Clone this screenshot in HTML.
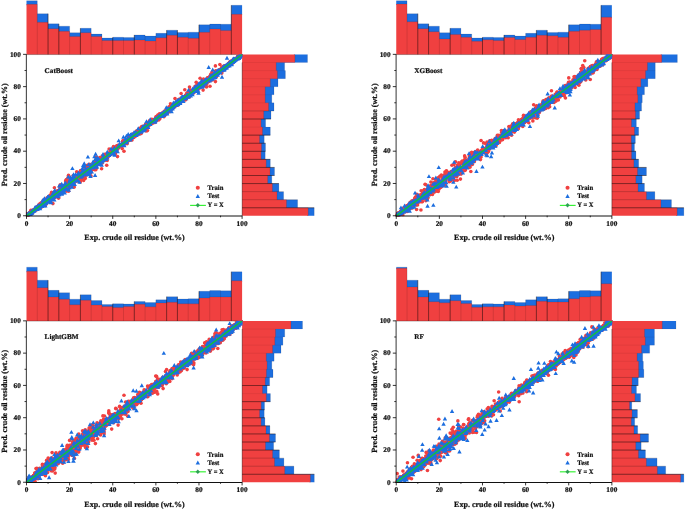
<!DOCTYPE html>
<html lang="en">
<head>
<meta charset="utf-8">
<title>Predicted vs experimental crude oil residue</title>
<style>
html,body{margin:0;padding:0;background:#fff;}
body{width:685px;height:509px;overflow:hidden;}
svg{display:block;}
svg text{font-family:"Liberation Serif","Times New Roman",serif;font-weight:bold;stroke:#111;stroke-width:0.22px;text-rendering:geometricPrecision;}
</style>
</head>
<body>
<svg width="685" height="509" viewBox="0 0 685 509">
<defs><clipPath id="pc"><rect x="26.2" y="54.2" width="216.4" height="162.1"/></clipPath></defs>
<rect width="685" height="509" fill="#fff"/>
<g transform="translate(0,0)">
<path d="M27.5 53.45V5.35H26.5V0.65H37.28V13.65H48.06V23.85H58.84V26.15H69.62V32.65H80.4V28.25H91.18V34.05H101.96V37.95H112.74V37.25H123.52V37.45H134.3V34.95H145.08V36.05H155.86V33.35H166.64V30.15H177.42V32.45H188.2V32.15H198.98V24.75H209.76V24.05H220.54V24.25H231.32V5.25H242.1V15.35H241.1V53.45Z" fill="#1C6EDF"/>
<path d="M26.5 54.45V4.35H37.28V22.35H48.06V28.65H58.84V31.35H69.62V36.45H80.4V32.65H91.18V36.45H101.96V40.45H112.74V40.45H123.52V40.45H134.3V39.95H145.08V40.95H155.86V37.75H166.64V35.15H177.42V37.25H188.2V38.25H198.98V32.35H209.76V28.95H220.54V30.45H231.32V14.35H242.1V54.45Z" fill="#F04040"/>
<path d="M48.06 54.45V13.65M58.84 54.45V23.85M80.4 54.45V28.25M112.74 54.45V37.25M134.3 54.45V34.95M166.64 54.45V30.15M177.42 54.45V30.15M198.98 54.45V24.75M231.32 54.45V5.25" stroke="#160808" stroke-opacity="0.78" stroke-width="0.65" fill="none"/>
<path d="M37.28 54.45V0.65M69.62 54.45V26.15M91.18 54.45V28.25M101.96 54.45V34.05M123.52 54.45V37.25M145.08 54.45V34.95M155.86 54.45V33.35M188.2 54.45V32.15M209.76 54.45V24.05M220.54 54.45V24.05" stroke="#200" stroke-opacity="0.2" stroke-width="0.7" fill="none"/>
<path d="M26.5 0.65h10.78M26.5 4.35h10.78M37.28 13.65h10.78M37.28 22.35h10.78M48.06 23.85h10.78M48.06 28.65h10.78M58.84 26.15h10.78M58.84 31.35h10.78M69.62 32.65h10.78M69.62 36.45h10.78M80.4 28.25h10.78M80.4 32.65h10.78M91.18 34.05h10.78M91.18 36.45h10.78M101.96 37.95h10.78M101.96 40.45h10.78M112.74 37.25h10.78M112.74 40.45h10.78M123.52 37.45h10.78M123.52 40.45h10.78M134.3 34.95h10.78M134.3 39.95h10.78M145.08 36.05h10.78M145.08 40.95h10.78M155.86 33.35h10.78M155.86 37.75h10.78M166.64 30.15h10.78M166.64 35.15h10.78M177.42 32.45h10.78M177.42 37.25h10.78M188.2 32.15h10.78M188.2 38.25h10.78M198.98 24.75h10.78M198.98 32.35h10.78M209.76 24.05h10.78M209.76 28.95h10.78M220.54 24.25h10.78M220.54 30.45h10.78M231.32 5.25h10.78M231.32 14.35h10.78" stroke="#001" stroke-opacity="0.22" stroke-width="0.5" fill="none"/>
<path d="M243.1 214.85H307.2V215.85H314.2V207.78H297.6V199.71H283.6V191.64H278.9V183.57H271.8V175.5H274.5V167.43H270.3V159.36H265.2V151.29H265.5V143.22H264.2V135.15H270.3V127.08H265.6V119.01H271V110.94H274V102.87H271.8V94.8H274V86.73H278V78.66H285.4V70.59H284.6V62.52H307.5V54.45H293.9V55.45H243.1Z" fill="#1C6EDF"/>
<path d="M242.1 215.85H308.2V207.78H286.5V199.71H277V191.64H272.4V183.57H267.7V175.5H270V167.43H266.2V159.36H261.1V151.29H261.5V143.22H259.6V135.15H262.5V127.08H261.1V119.01H263.7V110.94H268.6V102.87H265.2V94.8H265.2V86.73H270.3V78.66H277.4V70.59H276.2V62.52H294.9V54.45H242.1Z" fill="#F04040"/>
<path d="M242.1 207.78H314.2M242.1 183.57H278.9M242.1 175.5H274.5M242.1 167.43H274.5M242.1 159.36H270.3M242.1 151.29H265.5M242.1 143.22H265.5M242.1 135.15H270.3M242.1 119.01H271" stroke="#160808" stroke-opacity="0.78" stroke-width="0.65" fill="none"/>
<path d="M242.1 199.71H297.6M242.1 191.64H283.6M242.1 110.94H274" stroke="#1a0a0a" stroke-opacity="0.35" stroke-width="0.6" fill="none"/>
<path d="M242.1 127.08H270.3M242.1 102.87H274M242.1 94.8H274M242.1 86.73H278M242.1 78.66H285.4M242.1 70.59H285.4M242.1 62.52H307.5" stroke="#300" stroke-opacity="0.12" stroke-width="0.6" fill="none"/>
<path d="M314.2 207.78v8.07M308.2 207.78v8.07M297.6 199.71v8.07M286.5 199.71v8.07M283.6 191.64v8.07M277 191.64v8.07M278.9 183.57v8.07M272.4 183.57v8.07M271.8 175.5v8.07M267.7 175.5v8.07M274.5 167.43v8.07M270 167.43v8.07M270.3 159.36v8.07M266.2 159.36v8.07M265.2 151.29v8.07M261.1 151.29v8.07M265.5 143.22v8.07M261.5 143.22v8.07M264.2 135.15v8.07M259.6 135.15v8.07M270.3 127.08v8.07M262.5 127.08v8.07M265.6 119.01v8.07M261.1 119.01v8.07M271 110.94v8.07M263.7 110.94v8.07M274 102.87v8.07M268.6 102.87v8.07M271.8 94.8v8.07M265.2 94.8v8.07M274 86.73v8.07M265.2 86.73v8.07M278 78.66v8.07M270.3 78.66v8.07M285.4 70.59v8.07M277.4 70.59v8.07M284.6 62.52v8.07M276.2 62.52v8.07M307.5 54.45v8.07M294.9 54.45v8.07" stroke="#001" stroke-opacity="0.22" stroke-width="0.5" fill="none"/>
<path d="M242.2 62.52V215.85" stroke="#2a1010" stroke-opacity="0.7" stroke-width="0.6" fill="none"/>
<path d="M26.5 54.55H242.1" stroke="#2a1010" stroke-opacity="0.55" stroke-width="0.6" fill="none"/>
<g clip-path="url(#pc)">
<g fill="#F04040">
<circle cx="31.4" cy="212.8" r="1.8"/>
<circle cx="27.4" cy="215.7" r="1.8"/>
<circle cx="31" cy="212.2" r="1.8"/>
<circle cx="27" cy="215.8" r="1.8"/>
<circle cx="33.5" cy="209.8" r="1.8"/>
<circle cx="26.9" cy="215.1" r="1.8"/>
<circle cx="31.2" cy="212.2" r="1.8"/>
<circle cx="33.4" cy="211.2" r="1.8"/>
<circle cx="37.3" cy="207.6" r="1.8"/>
<circle cx="26.9" cy="215" r="1.8"/>
<circle cx="28.4" cy="214.7" r="1.8"/>
<circle cx="28.4" cy="213.5" r="1.8"/>
<circle cx="30.9" cy="212.3" r="1.8"/>
<circle cx="30.9" cy="211.4" r="1.8"/>
<circle cx="27.5" cy="215" r="1.8"/>
<circle cx="28.4" cy="214.2" r="1.8"/>
<circle cx="27.9" cy="214.2" r="1.8"/>
<circle cx="27.6" cy="213.9" r="1.8"/>
<circle cx="29.8" cy="214.1" r="1.8"/>
<circle cx="30.7" cy="212.6" r="1.8"/>
<circle cx="29.1" cy="213.7" r="1.8"/>
<circle cx="27.2" cy="215.6" r="1.8"/>
<circle cx="36.8" cy="207.5" r="1.8"/>
<circle cx="30.8" cy="211.7" r="1.8"/>
<circle cx="27" cy="215.8" r="1.8"/>
<circle cx="36.7" cy="208.5" r="1.8"/>
<circle cx="26.9" cy="215.5" r="1.8"/>
<circle cx="28.6" cy="214.8" r="1.8"/>
<circle cx="28.4" cy="214.3" r="1.8"/>
<circle cx="35.7" cy="208" r="1.8"/>
<circle cx="29.2" cy="213.8" r="1.8"/>
<circle cx="29.6" cy="213.1" r="1.8"/>
<circle cx="30.4" cy="213.4" r="1.8"/>
<circle cx="30.9" cy="210.2" r="1.8"/>
<circle cx="34.1" cy="209.9" r="1.8"/>
<circle cx="33.4" cy="211.7" r="1.8"/>
<circle cx="27.3" cy="213.9" r="1.8"/>
<circle cx="36.2" cy="208.1" r="1.8"/>
<circle cx="30.3" cy="214.1" r="1.8"/>
<circle cx="28.2" cy="215.4" r="1.8"/>
<circle cx="30.6" cy="213.1" r="1.8"/>
<circle cx="33.4" cy="210.8" r="1.8"/>
<circle cx="34.4" cy="210.6" r="1.8"/>
<circle cx="26.5" cy="215.8" r="1.8"/>
<circle cx="27.8" cy="215.3" r="1.8"/>
<circle cx="29.4" cy="213.6" r="1.8"/>
<circle cx="30.7" cy="213.1" r="1.8"/>
<circle cx="27.7" cy="215.2" r="1.8"/>
<circle cx="35.2" cy="210" r="1.8"/>
<circle cx="29.5" cy="213.1" r="1.8"/>
<circle cx="34.2" cy="211.2" r="1.8"/>
<circle cx="28.3" cy="214.4" r="1.8"/>
<circle cx="33.2" cy="210.2" r="1.8"/>
<circle cx="35.5" cy="208.9" r="1.8"/>
<circle cx="26.9" cy="215.8" r="1.8"/>
<circle cx="27.8" cy="215" r="1.8"/>
<circle cx="26.7" cy="215.2" r="1.8"/>
<circle cx="31.3" cy="212" r="1.8"/>
<circle cx="35.2" cy="209.1" r="1.8"/>
<circle cx="30.2" cy="213.1" r="1.8"/>
<circle cx="28.6" cy="214.9" r="1.8"/>
<circle cx="27.1" cy="215.3" r="1.8"/>
<circle cx="36.6" cy="208.5" r="1.8"/>
<circle cx="31.4" cy="212.7" r="1.8"/>
<circle cx="36" cy="208.1" r="1.8"/>
<circle cx="31.5" cy="212.3" r="1.8"/>
<circle cx="33.4" cy="211.8" r="1.8"/>
<circle cx="36.2" cy="209.9" r="1.8"/>
<circle cx="30" cy="213.5" r="1.8"/>
<circle cx="30.6" cy="212.6" r="1.8"/>
<circle cx="27" cy="215.6" r="1.8"/>
<circle cx="26.9" cy="215.7" r="1.8"/>
<circle cx="32.1" cy="212.2" r="1.8"/>
<circle cx="31.8" cy="213.1" r="1.8"/>
<circle cx="28.9" cy="214.1" r="1.8"/>
<circle cx="32.1" cy="212.4" r="1.8"/>
<circle cx="30.7" cy="213.6" r="1.8"/>
<circle cx="35.7" cy="209.4" r="1.8"/>
<circle cx="32.3" cy="211.7" r="1.8"/>
<circle cx="26.8" cy="215.8" r="1.8"/>
<circle cx="32.6" cy="210.7" r="1.8"/>
<circle cx="27.2" cy="214.5" r="1.8"/>
<circle cx="29.4" cy="214" r="1.8"/>
<circle cx="31.2" cy="212.8" r="1.8"/>
<circle cx="28.6" cy="214.2" r="1.8"/>
<circle cx="27.9" cy="214.6" r="1.8"/>
<circle cx="28.8" cy="214.3" r="1.8"/>
<circle cx="27.6" cy="215" r="1.8"/>
<circle cx="28.8" cy="214.6" r="1.8"/>
<circle cx="28.7" cy="214.6" r="1.8"/>
<circle cx="35.7" cy="209.7" r="1.8"/>
<circle cx="29" cy="213.6" r="1.8"/>
<circle cx="29.9" cy="213.6" r="1.8"/>
<circle cx="37.3" cy="207.7" r="1.8"/>
<circle cx="32" cy="212.6" r="1.8"/>
<circle cx="29.4" cy="213.4" r="1.8"/>
<circle cx="33.9" cy="210.3" r="1.8"/>
<circle cx="27.7" cy="215.5" r="1.8"/>
<circle cx="26.6" cy="215.3" r="1.8"/>
<circle cx="32" cy="211.5" r="1.8"/>
<circle cx="32.1" cy="213.1" r="1.8"/>
<circle cx="30.2" cy="213.3" r="1.8"/>
<circle cx="30" cy="213.8" r="1.8"/>
<circle cx="26.6" cy="215.5" r="1.8"/>
<circle cx="28.5" cy="214.6" r="1.8"/>
<circle cx="28.3" cy="214.2" r="1.8"/>
<circle cx="36.1" cy="208" r="1.8"/>
<circle cx="30.9" cy="213.2" r="1.8"/>
<circle cx="37.1" cy="206.8" r="1.8"/>
<circle cx="34.9" cy="210.2" r="1.8"/>
<circle cx="36.2" cy="208.5" r="1.8"/>
<circle cx="30.9" cy="214.4" r="1.8"/>
<circle cx="30.2" cy="214" r="1.8"/>
<circle cx="30.4" cy="213.2" r="1.8"/>
<circle cx="33.6" cy="211" r="1.8"/>
<circle cx="30.7" cy="213" r="1.8"/>
<circle cx="32.1" cy="211.7" r="1.8"/>
<circle cx="29.2" cy="214" r="1.8"/>
<circle cx="29.2" cy="213.7" r="1.8"/>
<circle cx="32" cy="210.9" r="1.8"/>
<circle cx="26.7" cy="215.7" r="1.8"/>
<circle cx="27.5" cy="214.8" r="1.8"/>
<circle cx="30" cy="213.7" r="1.8"/>
<circle cx="28.5" cy="214.7" r="1.8"/>
<circle cx="29.6" cy="214.1" r="1.8"/>
<circle cx="28.4" cy="214.3" r="1.8"/>
<circle cx="30.7" cy="211.2" r="1.8"/>
<circle cx="29.7" cy="213.9" r="1.8"/>
<circle cx="28.2" cy="214" r="1.8"/>
<circle cx="31.5" cy="212.4" r="1.8"/>
<circle cx="29.2" cy="214.2" r="1.8"/>
<circle cx="27.1" cy="215.8" r="1.8"/>
<circle cx="28.3" cy="215.1" r="1.8"/>
<circle cx="32.2" cy="211.1" r="1.8"/>
<circle cx="32" cy="210.9" r="1.8"/>
<circle cx="27.2" cy="214.7" r="1.8"/>
<circle cx="32.9" cy="210.9" r="1.8"/>
<circle cx="37.1" cy="207.4" r="1.8"/>
<circle cx="27" cy="215.1" r="1.8"/>
<circle cx="27.6" cy="214" r="1.8"/>
<circle cx="32.4" cy="210.9" r="1.8"/>
<circle cx="29.7" cy="212.8" r="1.8"/>
<circle cx="28.3" cy="215.1" r="1.8"/>
<circle cx="26.8" cy="214.9" r="1.8"/>
<circle cx="33.5" cy="211.6" r="1.8"/>
<circle cx="28.2" cy="213.9" r="1.8"/>
<circle cx="30.5" cy="213.6" r="1.8"/>
<circle cx="29.7" cy="213.3" r="1.8"/>
<circle cx="28.8" cy="214.4" r="1.8"/>
<circle cx="31.7" cy="212.5" r="1.8"/>
<circle cx="41.2" cy="203.6" r="1.8"/>
<circle cx="44.9" cy="199.6" r="1.8"/>
<circle cx="47.1" cy="201.9" r="1.8"/>
<circle cx="45.9" cy="201.8" r="1.8"/>
<circle cx="47.4" cy="199" r="1.8"/>
<circle cx="40" cy="206.4" r="1.8"/>
<circle cx="41.5" cy="203.9" r="1.8"/>
<circle cx="39.4" cy="205.9" r="1.8"/>
<circle cx="46.3" cy="202.5" r="1.8"/>
<circle cx="39.2" cy="205.8" r="1.8"/>
<circle cx="37.5" cy="208" r="1.8"/>
<circle cx="43.1" cy="201.9" r="1.8"/>
<circle cx="46" cy="202" r="1.8"/>
<circle cx="43.2" cy="203" r="1.8"/>
<circle cx="45.2" cy="201.6" r="1.8"/>
<circle cx="38.2" cy="206.2" r="1.8"/>
<circle cx="44.3" cy="201.1" r="1.8"/>
<circle cx="39.7" cy="207.5" r="1.8"/>
<circle cx="41.5" cy="204.8" r="1.8"/>
<circle cx="47.7" cy="201.6" r="1.8"/>
<circle cx="45.1" cy="201.9" r="1.8"/>
<circle cx="47.1" cy="199.5" r="1.8"/>
<circle cx="46.5" cy="202.6" r="1.8"/>
<circle cx="46.3" cy="199.3" r="1.8"/>
<circle cx="42.9" cy="204" r="1.8"/>
<circle cx="45.9" cy="201.9" r="1.8"/>
<circle cx="45.3" cy="201.5" r="1.8"/>
<circle cx="41.3" cy="204.5" r="1.8"/>
<circle cx="40.4" cy="204.5" r="1.8"/>
<circle cx="37.9" cy="206.4" r="1.8"/>
<circle cx="45.6" cy="200.4" r="1.8"/>
<circle cx="38" cy="208.8" r="1.8"/>
<circle cx="37.7" cy="208.4" r="1.8"/>
<circle cx="39.3" cy="206.2" r="1.8"/>
<circle cx="43.7" cy="201.2" r="1.8"/>
<circle cx="39.3" cy="205.6" r="1.8"/>
<circle cx="40.6" cy="203.8" r="1.8"/>
<circle cx="46.1" cy="201.4" r="1.8"/>
<circle cx="47.1" cy="197.7" r="1.8"/>
<circle cx="43.2" cy="204.1" r="1.8"/>
<circle cx="37.8" cy="207.3" r="1.8"/>
<circle cx="45.9" cy="202.8" r="1.8"/>
<circle cx="40.2" cy="205.8" r="1.8"/>
<circle cx="44.4" cy="201.2" r="1.8"/>
<circle cx="41.3" cy="204.7" r="1.8"/>
<circle cx="45" cy="201.6" r="1.8"/>
<circle cx="40.7" cy="204.7" r="1.8"/>
<circle cx="46.7" cy="203.4" r="1.8"/>
<circle cx="40.2" cy="207.9" r="1.8"/>
<circle cx="38.9" cy="204.9" r="1.8"/>
<circle cx="46.4" cy="200.9" r="1.8"/>
<circle cx="38.2" cy="207.2" r="1.8"/>
<circle cx="42.5" cy="204.4" r="1.8"/>
<circle cx="47.6" cy="199.4" r="1.8"/>
<circle cx="45.8" cy="202.2" r="1.8"/>
<circle cx="47.2" cy="200" r="1.8"/>
<circle cx="43.1" cy="204.1" r="1.8"/>
<circle cx="39" cy="206.8" r="1.8"/>
<circle cx="38.1" cy="206.5" r="1.8"/>
<circle cx="42.3" cy="205" r="1.8"/>
<circle cx="38.4" cy="205.9" r="1.8"/>
<circle cx="42.3" cy="203.3" r="1.8"/>
<circle cx="37.4" cy="208.7" r="1.8"/>
<circle cx="44.9" cy="203.3" r="1.8"/>
<circle cx="37.4" cy="208" r="1.8"/>
<circle cx="45.9" cy="202.1" r="1.8"/>
<circle cx="41.3" cy="205.3" r="1.8"/>
<circle cx="40.5" cy="206.5" r="1.8"/>
<circle cx="40" cy="204.8" r="1.8"/>
<circle cx="45.2" cy="200.4" r="1.8"/>
<circle cx="45.1" cy="202.5" r="1.8"/>
<circle cx="46.2" cy="200.8" r="1.8"/>
<circle cx="44.6" cy="201.9" r="1.8"/>
<circle cx="39.2" cy="205.7" r="1.8"/>
<circle cx="38.3" cy="208" r="1.8"/>
<circle cx="39" cy="206.8" r="1.8"/>
<circle cx="47.2" cy="200.1" r="1.8"/>
<circle cx="42.8" cy="203.4" r="1.8"/>
<circle cx="41.4" cy="206.5" r="1.8"/>
<circle cx="41.7" cy="207" r="1.8"/>
<circle cx="47.9" cy="198.6" r="1.8"/>
<circle cx="44.4" cy="201.4" r="1.8"/>
<circle cx="41" cy="204.9" r="1.8"/>
<circle cx="38.4" cy="208.4" r="1.8"/>
<circle cx="46.2" cy="201.3" r="1.8"/>
<circle cx="39" cy="205.6" r="1.8"/>
<circle cx="41.1" cy="205.6" r="1.8"/>
<circle cx="38.8" cy="205.6" r="1.8"/>
<circle cx="45" cy="202.1" r="1.8"/>
<circle cx="39.4" cy="206.6" r="1.8"/>
<circle cx="38.2" cy="207.5" r="1.8"/>
<circle cx="43.5" cy="204.3" r="1.8"/>
<circle cx="41.2" cy="202.9" r="1.8"/>
<circle cx="38.6" cy="205.6" r="1.8"/>
<circle cx="43.1" cy="201.6" r="1.8"/>
<circle cx="43.3" cy="200.4" r="1.8"/>
<circle cx="46.1" cy="203.3" r="1.8"/>
<circle cx="38.6" cy="207.2" r="1.8"/>
<circle cx="39.9" cy="203.9" r="1.8"/>
<circle cx="46.2" cy="201.6" r="1.8"/>
<circle cx="37.6" cy="207.6" r="1.8"/>
<circle cx="47.9" cy="200.4" r="1.8"/>
<circle cx="44.5" cy="203.2" r="1.8"/>
<circle cx="41.4" cy="204.6" r="1.8"/>
<circle cx="39.4" cy="206.3" r="1.8"/>
<circle cx="38.8" cy="207.1" r="1.8"/>
<circle cx="42.9" cy="203.9" r="1.8"/>
<circle cx="43.4" cy="203.4" r="1.8"/>
<circle cx="44.5" cy="202.6" r="1.8"/>
<circle cx="47.6" cy="201.4" r="1.8"/>
<circle cx="44" cy="202.5" r="1.8"/>
<circle cx="45.5" cy="205.6" r="1.8"/>
<circle cx="46.3" cy="200.7" r="1.8"/>
<circle cx="52.5" cy="199.7" r="1.8"/>
<circle cx="53.7" cy="196.9" r="1.8"/>
<circle cx="52.7" cy="196.5" r="1.8"/>
<circle cx="55.9" cy="193.3" r="1.8"/>
<circle cx="56" cy="193.8" r="1.8"/>
<circle cx="54.5" cy="197.8" r="1.8"/>
<circle cx="49.4" cy="200.2" r="1.8"/>
<circle cx="48.6" cy="199.3" r="1.8"/>
<circle cx="53.7" cy="196.1" r="1.8"/>
<circle cx="50.6" cy="194.9" r="1.8"/>
<circle cx="57.9" cy="194.2" r="1.8"/>
<circle cx="52.6" cy="199.2" r="1.8"/>
<circle cx="50.5" cy="200.9" r="1.8"/>
<circle cx="49.1" cy="200.2" r="1.8"/>
<circle cx="49.4" cy="198.7" r="1.8"/>
<circle cx="50.7" cy="197.8" r="1.8"/>
<circle cx="51.6" cy="192.4" r="1.8"/>
<circle cx="52.3" cy="198.4" r="1.8"/>
<circle cx="54.4" cy="187.8" r="1.8"/>
<circle cx="51.4" cy="196.6" r="1.8"/>
<circle cx="58.1" cy="193.4" r="1.8"/>
<circle cx="51.2" cy="197.1" r="1.8"/>
<circle cx="57.7" cy="191.6" r="1.8"/>
<circle cx="53.2" cy="197.2" r="1.8"/>
<circle cx="57.5" cy="191.9" r="1.8"/>
<circle cx="50.1" cy="196.1" r="1.8"/>
<circle cx="48.6" cy="199.5" r="1.8"/>
<circle cx="57.8" cy="194" r="1.8"/>
<circle cx="55.7" cy="195.3" r="1.8"/>
<circle cx="52.9" cy="203.6" r="1.8"/>
<circle cx="50.5" cy="198.2" r="1.8"/>
<circle cx="50" cy="199.2" r="1.8"/>
<circle cx="55.2" cy="196.1" r="1.8"/>
<circle cx="57.6" cy="190.7" r="1.8"/>
<circle cx="50.5" cy="195.8" r="1.8"/>
<circle cx="51" cy="198.5" r="1.8"/>
<circle cx="49" cy="200.6" r="1.8"/>
<circle cx="53.8" cy="193.9" r="1.8"/>
<circle cx="54.5" cy="194.9" r="1.8"/>
<circle cx="49" cy="196.4" r="1.8"/>
<circle cx="56.2" cy="194" r="1.8"/>
<circle cx="50.1" cy="196.3" r="1.8"/>
<circle cx="58.7" cy="197.7" r="1.8"/>
<circle cx="52.2" cy="195.9" r="1.8"/>
<circle cx="53.4" cy="198" r="1.8"/>
<circle cx="51.9" cy="197.6" r="1.8"/>
<circle cx="56.5" cy="196.8" r="1.8"/>
<circle cx="55.4" cy="194.3" r="1.8"/>
<circle cx="58.3" cy="191.8" r="1.8"/>
<circle cx="54.6" cy="195.8" r="1.8"/>
<circle cx="52.8" cy="195.5" r="1.8"/>
<circle cx="50.6" cy="200.5" r="1.8"/>
<circle cx="50.4" cy="198.3" r="1.8"/>
<circle cx="54.5" cy="194.9" r="1.8"/>
<circle cx="54.2" cy="194.7" r="1.8"/>
<circle cx="48.3" cy="198.8" r="1.8"/>
<circle cx="52.7" cy="196.4" r="1.8"/>
<circle cx="48.8" cy="196.6" r="1.8"/>
<circle cx="54.2" cy="194.8" r="1.8"/>
<circle cx="49.6" cy="199.6" r="1.8"/>
<circle cx="48.5" cy="200.6" r="1.8"/>
<circle cx="50.9" cy="198.9" r="1.8"/>
<circle cx="49" cy="198.5" r="1.8"/>
<circle cx="49.8" cy="197.4" r="1.8"/>
<circle cx="57" cy="191.3" r="1.8"/>
<circle cx="52" cy="196.1" r="1.8"/>
<circle cx="58.5" cy="198.1" r="1.8"/>
<circle cx="58.7" cy="191.5" r="1.8"/>
<circle cx="53" cy="194.8" r="1.8"/>
<circle cx="57.7" cy="192.2" r="1.8"/>
<circle cx="52.3" cy="197.1" r="1.8"/>
<circle cx="48.4" cy="199.2" r="1.8"/>
<circle cx="56.3" cy="193.4" r="1.8"/>
<circle cx="54" cy="194" r="1.8"/>
<circle cx="53" cy="197" r="1.8"/>
<circle cx="58.6" cy="190.5" r="1.8"/>
<circle cx="48.5" cy="199.7" r="1.8"/>
<circle cx="51.8" cy="197.4" r="1.8"/>
<circle cx="57.4" cy="191.2" r="1.8"/>
<circle cx="52.3" cy="197.7" r="1.8"/>
<circle cx="52.2" cy="196.3" r="1.8"/>
<circle cx="50" cy="196.9" r="1.8"/>
<circle cx="49.8" cy="198" r="1.8"/>
<circle cx="51.4" cy="195.5" r="1.8"/>
<circle cx="58.8" cy="190.9" r="1.8"/>
<circle cx="63" cy="190.6" r="1.8"/>
<circle cx="66.3" cy="186.1" r="1.8"/>
<circle cx="60.8" cy="189.8" r="1.8"/>
<circle cx="63.1" cy="188.8" r="1.8"/>
<circle cx="62.7" cy="190.3" r="1.8"/>
<circle cx="68.9" cy="183.7" r="1.8"/>
<circle cx="68.6" cy="191.2" r="1.8"/>
<circle cx="62.3" cy="185.5" r="1.8"/>
<circle cx="62.3" cy="187" r="1.8"/>
<circle cx="64.4" cy="189.8" r="1.8"/>
<circle cx="59.3" cy="190.5" r="1.8"/>
<circle cx="65.3" cy="188.5" r="1.8"/>
<circle cx="64.7" cy="185.3" r="1.8"/>
<circle cx="66.5" cy="186.4" r="1.8"/>
<circle cx="60.4" cy="193.2" r="1.8"/>
<circle cx="61.9" cy="191" r="1.8"/>
<circle cx="68.2" cy="183.5" r="1.8"/>
<circle cx="62" cy="189.2" r="1.8"/>
<circle cx="59.1" cy="190.9" r="1.8"/>
<circle cx="64.9" cy="185.4" r="1.8"/>
<circle cx="66.1" cy="186.5" r="1.8"/>
<circle cx="61.2" cy="192.3" r="1.8"/>
<circle cx="68.2" cy="189.3" r="1.8"/>
<circle cx="65.7" cy="188.4" r="1.8"/>
<circle cx="59.5" cy="190.3" r="1.8"/>
<circle cx="62.4" cy="189.2" r="1.8"/>
<circle cx="63.2" cy="187.2" r="1.8"/>
<circle cx="60.6" cy="190.2" r="1.8"/>
<circle cx="62.5" cy="188" r="1.8"/>
<circle cx="60.5" cy="191.1" r="1.8"/>
<circle cx="66.4" cy="191.1" r="1.8"/>
<circle cx="63.1" cy="186.6" r="1.8"/>
<circle cx="59.4" cy="190.5" r="1.8"/>
<circle cx="65.2" cy="187.6" r="1.8"/>
<circle cx="59.1" cy="190.2" r="1.8"/>
<circle cx="68.5" cy="184.7" r="1.8"/>
<circle cx="60.8" cy="187.3" r="1.8"/>
<circle cx="65.5" cy="188.4" r="1.8"/>
<circle cx="69" cy="181.9" r="1.8"/>
<circle cx="65.6" cy="188.4" r="1.8"/>
<circle cx="61.8" cy="188.3" r="1.8"/>
<circle cx="68.3" cy="184" r="1.8"/>
<circle cx="60.3" cy="190.8" r="1.8"/>
<circle cx="62.2" cy="188" r="1.8"/>
<circle cx="60.9" cy="190.2" r="1.8"/>
<circle cx="66.2" cy="183.5" r="1.8"/>
<circle cx="63.1" cy="188.4" r="1.8"/>
<circle cx="64.2" cy="190.4" r="1.8"/>
<circle cx="64.9" cy="188" r="1.8"/>
<circle cx="69.3" cy="186.4" r="1.8"/>
<circle cx="62.2" cy="185.8" r="1.8"/>
<circle cx="66.3" cy="182.2" r="1.8"/>
<circle cx="60.6" cy="191.2" r="1.8"/>
<circle cx="64.1" cy="188.8" r="1.8"/>
<circle cx="66.9" cy="184.3" r="1.8"/>
<circle cx="61.4" cy="190.3" r="1.8"/>
<circle cx="64.4" cy="186.4" r="1.8"/>
<circle cx="59.5" cy="186.5" r="1.8"/>
<circle cx="60.1" cy="189" r="1.8"/>
<circle cx="67.2" cy="183.2" r="1.8"/>
<circle cx="68.2" cy="177.3" r="1.8"/>
<circle cx="61.6" cy="189" r="1.8"/>
<circle cx="66.6" cy="187.9" r="1.8"/>
<circle cx="66.6" cy="187.6" r="1.8"/>
<circle cx="67.9" cy="181.7" r="1.8"/>
<circle cx="65" cy="187.8" r="1.8"/>
<circle cx="67.8" cy="187.8" r="1.8"/>
<circle cx="60.2" cy="191.3" r="1.8"/>
<circle cx="60.8" cy="192.6" r="1.8"/>
<circle cx="65.2" cy="185.8" r="1.8"/>
<circle cx="66.3" cy="186.3" r="1.8"/>
<circle cx="65.6" cy="180.9" r="1.8"/>
<circle cx="59.4" cy="193.5" r="1.8"/>
<circle cx="60.1" cy="192.1" r="1.8"/>
<circle cx="69.6" cy="180.2" r="1.8"/>
<circle cx="62.4" cy="193.3" r="1.8"/>
<circle cx="62.9" cy="189.2" r="1.8"/>
<circle cx="67.5" cy="185.6" r="1.8"/>
<circle cx="65.5" cy="184.6" r="1.8"/>
<circle cx="80.2" cy="176.7" r="1.8"/>
<circle cx="78.2" cy="179.9" r="1.8"/>
<circle cx="71.5" cy="180.6" r="1.8"/>
<circle cx="74.9" cy="180.4" r="1.8"/>
<circle cx="73.1" cy="183.3" r="1.8"/>
<circle cx="76.4" cy="179.1" r="1.8"/>
<circle cx="72.1" cy="182.9" r="1.8"/>
<circle cx="70.2" cy="180.6" r="1.8"/>
<circle cx="79.2" cy="175" r="1.8"/>
<circle cx="74.8" cy="179" r="1.8"/>
<circle cx="71.8" cy="184.3" r="1.8"/>
<circle cx="78.3" cy="176.8" r="1.8"/>
<circle cx="70.2" cy="184.8" r="1.8"/>
<circle cx="72.6" cy="184" r="1.8"/>
<circle cx="78.9" cy="180.9" r="1.8"/>
<circle cx="77.4" cy="176.1" r="1.8"/>
<circle cx="69.9" cy="182.7" r="1.8"/>
<circle cx="73.5" cy="180.1" r="1.8"/>
<circle cx="73" cy="179.5" r="1.8"/>
<circle cx="80" cy="175.6" r="1.8"/>
<circle cx="75.3" cy="178.3" r="1.8"/>
<circle cx="73.9" cy="184" r="1.8"/>
<circle cx="78.5" cy="175.8" r="1.8"/>
<circle cx="79.9" cy="176" r="1.8"/>
<circle cx="77.2" cy="177.4" r="1.8"/>
<circle cx="75.8" cy="179.2" r="1.8"/>
<circle cx="73.8" cy="182.8" r="1.8"/>
<circle cx="73.6" cy="184.1" r="1.8"/>
<circle cx="73.4" cy="179" r="1.8"/>
<circle cx="70.6" cy="183.9" r="1.8"/>
<circle cx="77.6" cy="177.7" r="1.8"/>
<circle cx="77" cy="181.1" r="1.8"/>
<circle cx="70.8" cy="184.1" r="1.8"/>
<circle cx="69.7" cy="181.6" r="1.8"/>
<circle cx="74" cy="185.9" r="1.8"/>
<circle cx="71.8" cy="183.2" r="1.8"/>
<circle cx="73.1" cy="175.7" r="1.8"/>
<circle cx="74.3" cy="175.8" r="1.8"/>
<circle cx="72" cy="182.2" r="1.8"/>
<circle cx="72.6" cy="182.7" r="1.8"/>
<circle cx="79.8" cy="175" r="1.8"/>
<circle cx="80.3" cy="173.5" r="1.8"/>
<circle cx="76.5" cy="179.5" r="1.8"/>
<circle cx="76.3" cy="179.9" r="1.8"/>
<circle cx="78.9" cy="179.8" r="1.8"/>
<circle cx="70.9" cy="182.7" r="1.8"/>
<circle cx="77.1" cy="179.3" r="1.8"/>
<circle cx="73.8" cy="182.5" r="1.8"/>
<circle cx="76.1" cy="179.3" r="1.8"/>
<circle cx="76.4" cy="178.6" r="1.8"/>
<circle cx="76" cy="177.5" r="1.8"/>
<circle cx="74.7" cy="180.3" r="1.8"/>
<circle cx="77.6" cy="178.2" r="1.8"/>
<circle cx="74" cy="187.3" r="1.8"/>
<circle cx="71" cy="184.2" r="1.8"/>
<circle cx="78.7" cy="176.7" r="1.8"/>
<circle cx="79.7" cy="175.1" r="1.8"/>
<circle cx="80.3" cy="181.1" r="1.8"/>
<circle cx="79" cy="176.6" r="1.8"/>
<circle cx="74.5" cy="175.7" r="1.8"/>
<circle cx="79" cy="177.2" r="1.8"/>
<circle cx="81.2" cy="171.5" r="1.8"/>
<circle cx="88.9" cy="168.9" r="1.8"/>
<circle cx="89.6" cy="164.3" r="1.8"/>
<circle cx="86.3" cy="170.7" r="1.8"/>
<circle cx="84.3" cy="173.9" r="1.8"/>
<circle cx="80.8" cy="172.2" r="1.8"/>
<circle cx="81.7" cy="178" r="1.8"/>
<circle cx="84.6" cy="176.3" r="1.8"/>
<circle cx="81.2" cy="178.4" r="1.8"/>
<circle cx="82.6" cy="171" r="1.8"/>
<circle cx="82.5" cy="176.7" r="1.8"/>
<circle cx="85" cy="174.3" r="1.8"/>
<circle cx="87.2" cy="168.6" r="1.8"/>
<circle cx="86.9" cy="170.1" r="1.8"/>
<circle cx="87.9" cy="168.7" r="1.8"/>
<circle cx="81.8" cy="171.3" r="1.8"/>
<circle cx="84.3" cy="173.8" r="1.8"/>
<circle cx="91.1" cy="167.7" r="1.8"/>
<circle cx="83.7" cy="175.3" r="1.8"/>
<circle cx="82" cy="178.3" r="1.8"/>
<circle cx="84.8" cy="170.1" r="1.8"/>
<circle cx="85.9" cy="173.6" r="1.8"/>
<circle cx="82.9" cy="170.5" r="1.8"/>
<circle cx="83.5" cy="174.3" r="1.8"/>
<circle cx="87.7" cy="165.4" r="1.8"/>
<circle cx="90.5" cy="168.1" r="1.8"/>
<circle cx="85.2" cy="178.5" r="1.8"/>
<circle cx="84.9" cy="177.8" r="1.8"/>
<circle cx="83.6" cy="170.9" r="1.8"/>
<circle cx="87.6" cy="171.2" r="1.8"/>
<circle cx="90.1" cy="167.6" r="1.8"/>
<circle cx="84.9" cy="170.1" r="1.8"/>
<circle cx="86.8" cy="175" r="1.8"/>
<circle cx="81.5" cy="172.7" r="1.8"/>
<circle cx="84.4" cy="171.2" r="1.8"/>
<circle cx="87.6" cy="165.3" r="1.8"/>
<circle cx="80.7" cy="178.9" r="1.8"/>
<circle cx="85.5" cy="173.8" r="1.8"/>
<circle cx="87.6" cy="169.6" r="1.8"/>
<circle cx="90.9" cy="165.3" r="1.8"/>
<circle cx="89.3" cy="168.9" r="1.8"/>
<circle cx="88" cy="167.4" r="1.8"/>
<circle cx="84.7" cy="171.2" r="1.8"/>
<circle cx="82.8" cy="173.1" r="1.8"/>
<circle cx="81.9" cy="172.1" r="1.8"/>
<circle cx="88.4" cy="167.8" r="1.8"/>
<circle cx="87.1" cy="167.4" r="1.8"/>
<circle cx="83.1" cy="174" r="1.8"/>
<circle cx="81.7" cy="178.7" r="1.8"/>
<circle cx="80.6" cy="170.5" r="1.8"/>
<circle cx="80.7" cy="177.1" r="1.8"/>
<circle cx="86.2" cy="167.9" r="1.8"/>
<circle cx="83.7" cy="170.3" r="1.8"/>
<circle cx="81.7" cy="173.8" r="1.8"/>
<circle cx="85.9" cy="170.6" r="1.8"/>
<circle cx="88.8" cy="169.9" r="1.8"/>
<circle cx="82.7" cy="173.3" r="1.8"/>
<circle cx="86.4" cy="170.3" r="1.8"/>
<circle cx="89.6" cy="169.6" r="1.8"/>
<circle cx="90.9" cy="170.4" r="1.8"/>
<circle cx="89.7" cy="166.7" r="1.8"/>
<circle cx="84.9" cy="167" r="1.8"/>
<circle cx="88.3" cy="165.9" r="1.8"/>
<circle cx="82.1" cy="173.1" r="1.8"/>
<circle cx="83.6" cy="172.9" r="1.8"/>
<circle cx="87.3" cy="167.9" r="1.8"/>
<circle cx="81.2" cy="174.1" r="1.8"/>
<circle cx="81.6" cy="175.9" r="1.8"/>
<circle cx="87.5" cy="167.7" r="1.8"/>
<circle cx="90.6" cy="173.1" r="1.8"/>
<circle cx="84.7" cy="172.3" r="1.8"/>
<circle cx="88.4" cy="171.3" r="1.8"/>
<circle cx="85.5" cy="169.7" r="1.8"/>
<circle cx="95.8" cy="159.8" r="1.8"/>
<circle cx="91.8" cy="165.5" r="1.8"/>
<circle cx="97.1" cy="162.8" r="1.8"/>
<circle cx="95.2" cy="163.4" r="1.8"/>
<circle cx="96.4" cy="163.5" r="1.8"/>
<circle cx="91.3" cy="170.1" r="1.8"/>
<circle cx="101.6" cy="168.7" r="1.8"/>
<circle cx="95.1" cy="167.8" r="1.8"/>
<circle cx="95.2" cy="166.9" r="1.8"/>
<circle cx="94.6" cy="166.9" r="1.8"/>
<circle cx="96.7" cy="162.3" r="1.8"/>
<circle cx="93.9" cy="165.1" r="1.8"/>
<circle cx="99.8" cy="159.6" r="1.8"/>
<circle cx="94.3" cy="167" r="1.8"/>
<circle cx="92.1" cy="165.7" r="1.8"/>
<circle cx="94.6" cy="166.7" r="1.8"/>
<circle cx="99.7" cy="157.6" r="1.8"/>
<circle cx="91.7" cy="165.6" r="1.8"/>
<circle cx="97.1" cy="163.3" r="1.8"/>
<circle cx="101.3" cy="160.2" r="1.8"/>
<circle cx="97.4" cy="163.1" r="1.8"/>
<circle cx="98.5" cy="164.3" r="1.8"/>
<circle cx="101.1" cy="159.1" r="1.8"/>
<circle cx="99.3" cy="163.7" r="1.8"/>
<circle cx="96" cy="162.3" r="1.8"/>
<circle cx="99.1" cy="158.9" r="1.8"/>
<circle cx="92.4" cy="168" r="1.8"/>
<circle cx="92.4" cy="169.1" r="1.8"/>
<circle cx="94.5" cy="169.8" r="1.8"/>
<circle cx="93.5" cy="167.7" r="1.8"/>
<circle cx="97" cy="159.8" r="1.8"/>
<circle cx="96.3" cy="157.1" r="1.8"/>
<circle cx="95.8" cy="166.4" r="1.8"/>
<circle cx="96.5" cy="168.1" r="1.8"/>
<circle cx="95.4" cy="161.3" r="1.8"/>
<circle cx="93" cy="163.7" r="1.8"/>
<circle cx="93.4" cy="164.7" r="1.8"/>
<circle cx="97.6" cy="160.9" r="1.8"/>
<circle cx="95.4" cy="163.1" r="1.8"/>
<circle cx="97.5" cy="164.5" r="1.8"/>
<circle cx="101.8" cy="160" r="1.8"/>
<circle cx="94" cy="166.9" r="1.8"/>
<circle cx="97.4" cy="158.9" r="1.8"/>
<circle cx="95.3" cy="162.7" r="1.8"/>
<circle cx="95.8" cy="169.8" r="1.8"/>
<circle cx="101" cy="162.2" r="1.8"/>
<circle cx="96.4" cy="163.5" r="1.8"/>
<circle cx="94.5" cy="166" r="1.8"/>
<circle cx="91.6" cy="169.9" r="1.8"/>
<circle cx="94.8" cy="166" r="1.8"/>
<circle cx="101.4" cy="159.4" r="1.8"/>
<circle cx="99.6" cy="162" r="1.8"/>
<circle cx="93.3" cy="166.7" r="1.8"/>
<circle cx="99.4" cy="162" r="1.8"/>
<circle cx="100.9" cy="160.9" r="1.8"/>
<circle cx="101.4" cy="161.7" r="1.8"/>
<circle cx="94.3" cy="165.3" r="1.8"/>
<circle cx="104.6" cy="160.5" r="1.8"/>
<circle cx="107.8" cy="155.4" r="1.8"/>
<circle cx="103.4" cy="156.8" r="1.8"/>
<circle cx="104.9" cy="157.6" r="1.8"/>
<circle cx="111.4" cy="150.2" r="1.8"/>
<circle cx="111.2" cy="154.2" r="1.8"/>
<circle cx="109.9" cy="154.9" r="1.8"/>
<circle cx="109.1" cy="153.8" r="1.8"/>
<circle cx="102.5" cy="160.5" r="1.8"/>
<circle cx="105.9" cy="156.2" r="1.8"/>
<circle cx="106" cy="154.2" r="1.8"/>
<circle cx="112.1" cy="153.3" r="1.8"/>
<circle cx="104.5" cy="158.3" r="1.8"/>
<circle cx="103.1" cy="158.9" r="1.8"/>
<circle cx="111.7" cy="152.7" r="1.8"/>
<circle cx="108.1" cy="153.1" r="1.8"/>
<circle cx="111.4" cy="152.5" r="1.8"/>
<circle cx="109.1" cy="149.1" r="1.8"/>
<circle cx="112.6" cy="151" r="1.8"/>
<circle cx="111.2" cy="153.2" r="1.8"/>
<circle cx="107.6" cy="155.2" r="1.8"/>
<circle cx="107.6" cy="156.4" r="1.8"/>
<circle cx="109.6" cy="153.7" r="1.8"/>
<circle cx="107.2" cy="160.4" r="1.8"/>
<circle cx="112.4" cy="151.3" r="1.8"/>
<circle cx="103.4" cy="159.9" r="1.8"/>
<circle cx="112.1" cy="149.4" r="1.8"/>
<circle cx="112.2" cy="149" r="1.8"/>
<circle cx="102.2" cy="163" r="1.8"/>
<circle cx="108.3" cy="156.6" r="1.8"/>
<circle cx="112" cy="153.4" r="1.8"/>
<circle cx="107.6" cy="154.2" r="1.8"/>
<circle cx="111.3" cy="152.2" r="1.8"/>
<circle cx="102.2" cy="156.1" r="1.8"/>
<circle cx="107.6" cy="157.8" r="1.8"/>
<circle cx="110.1" cy="152.5" r="1.8"/>
<circle cx="110.5" cy="152.9" r="1.8"/>
<circle cx="110.9" cy="153.5" r="1.8"/>
<circle cx="102.1" cy="157.6" r="1.8"/>
<circle cx="104.8" cy="159.1" r="1.8"/>
<circle cx="109.2" cy="154.2" r="1.8"/>
<circle cx="104.5" cy="156.9" r="1.8"/>
<circle cx="104.7" cy="156.3" r="1.8"/>
<circle cx="110.4" cy="152.8" r="1.8"/>
<circle cx="104.8" cy="154.3" r="1.8"/>
<circle cx="104.7" cy="156.7" r="1.8"/>
<circle cx="116" cy="147.7" r="1.8"/>
<circle cx="120.6" cy="144.9" r="1.8"/>
<circle cx="113.6" cy="152.8" r="1.8"/>
<circle cx="115.4" cy="153.8" r="1.8"/>
<circle cx="116.7" cy="145.7" r="1.8"/>
<circle cx="122.6" cy="144.6" r="1.8"/>
<circle cx="121.3" cy="144.4" r="1.8"/>
<circle cx="116.4" cy="149.6" r="1.8"/>
<circle cx="119.1" cy="145.6" r="1.8"/>
<circle cx="117.9" cy="145.5" r="1.8"/>
<circle cx="116.8" cy="147.9" r="1.8"/>
<circle cx="122.6" cy="143" r="1.8"/>
<circle cx="123.1" cy="140.5" r="1.8"/>
<circle cx="116.4" cy="146.9" r="1.8"/>
<circle cx="122.9" cy="141.8" r="1.8"/>
<circle cx="114.2" cy="148.1" r="1.8"/>
<circle cx="123" cy="145.3" r="1.8"/>
<circle cx="116.8" cy="148.9" r="1.8"/>
<circle cx="113.5" cy="146.6" r="1.8"/>
<circle cx="116.5" cy="149.2" r="1.8"/>
<circle cx="114.1" cy="149.3" r="1.8"/>
<circle cx="118.6" cy="146.8" r="1.8"/>
<circle cx="123" cy="145.5" r="1.8"/>
<circle cx="115.1" cy="151.6" r="1.8"/>
<circle cx="122.7" cy="141.4" r="1.8"/>
<circle cx="114.5" cy="151.3" r="1.8"/>
<circle cx="121.3" cy="145.4" r="1.8"/>
<circle cx="117.7" cy="146.5" r="1.8"/>
<circle cx="114.8" cy="151.3" r="1.8"/>
<circle cx="123.3" cy="143.2" r="1.8"/>
<circle cx="113.3" cy="152.7" r="1.8"/>
<circle cx="114.6" cy="149.8" r="1.8"/>
<circle cx="115.1" cy="149.2" r="1.8"/>
<circle cx="118.1" cy="148.3" r="1.8"/>
<circle cx="112.9" cy="150.9" r="1.8"/>
<circle cx="113.2" cy="152.2" r="1.8"/>
<circle cx="117.8" cy="148.5" r="1.8"/>
<circle cx="116.2" cy="147.1" r="1.8"/>
<circle cx="117.2" cy="149.4" r="1.8"/>
<circle cx="117.7" cy="146.5" r="1.8"/>
<circle cx="122.8" cy="144.3" r="1.8"/>
<circle cx="122.2" cy="148.6" r="1.8"/>
<circle cx="115.9" cy="149.2" r="1.8"/>
<circle cx="120.5" cy="146.3" r="1.8"/>
<circle cx="123" cy="144.1" r="1.8"/>
<circle cx="113.8" cy="151.8" r="1.8"/>
<circle cx="118.1" cy="145.6" r="1.8"/>
<circle cx="118.3" cy="145.2" r="1.8"/>
<circle cx="126.4" cy="141" r="1.8"/>
<circle cx="130.3" cy="136.7" r="1.8"/>
<circle cx="128.7" cy="138.4" r="1.8"/>
<circle cx="134" cy="135.9" r="1.8"/>
<circle cx="132.1" cy="136.6" r="1.8"/>
<circle cx="132.5" cy="136.6" r="1.8"/>
<circle cx="129" cy="136.1" r="1.8"/>
<circle cx="129.5" cy="140.4" r="1.8"/>
<circle cx="126.7" cy="140.8" r="1.8"/>
<circle cx="128.9" cy="138.8" r="1.8"/>
<circle cx="132.5" cy="135.6" r="1.8"/>
<circle cx="134.1" cy="136.3" r="1.8"/>
<circle cx="131.2" cy="139.8" r="1.8"/>
<circle cx="132.2" cy="136.3" r="1.8"/>
<circle cx="126.2" cy="142.4" r="1.8"/>
<circle cx="123.8" cy="144.5" r="1.8"/>
<circle cx="130.1" cy="136.2" r="1.8"/>
<circle cx="133.6" cy="133.8" r="1.8"/>
<circle cx="124.7" cy="141.5" r="1.8"/>
<circle cx="132.9" cy="135.4" r="1.8"/>
<circle cx="131.7" cy="135.1" r="1.8"/>
<circle cx="130.2" cy="138.3" r="1.8"/>
<circle cx="132.9" cy="136.7" r="1.8"/>
<circle cx="132" cy="139.9" r="1.8"/>
<circle cx="130.4" cy="139.5" r="1.8"/>
<circle cx="127.7" cy="139.3" r="1.8"/>
<circle cx="132.1" cy="136.7" r="1.8"/>
<circle cx="130.6" cy="138.5" r="1.8"/>
<circle cx="126.9" cy="142.3" r="1.8"/>
<circle cx="125.5" cy="143.1" r="1.8"/>
<circle cx="127.1" cy="143.7" r="1.8"/>
<circle cx="133.3" cy="134" r="1.8"/>
<circle cx="133.9" cy="136" r="1.8"/>
<circle cx="127.1" cy="142.2" r="1.8"/>
<circle cx="123.9" cy="143.2" r="1.8"/>
<circle cx="129.3" cy="138.9" r="1.8"/>
<circle cx="125.7" cy="142.7" r="1.8"/>
<circle cx="126.1" cy="140.8" r="1.8"/>
<circle cx="127.4" cy="140.2" r="1.8"/>
<circle cx="133.7" cy="136.8" r="1.8"/>
<circle cx="126.1" cy="140.6" r="1.8"/>
<circle cx="133.9" cy="137.4" r="1.8"/>
<circle cx="131.7" cy="136.2" r="1.8"/>
<circle cx="130.4" cy="137.2" r="1.8"/>
<circle cx="129.4" cy="139.5" r="1.8"/>
<circle cx="129.2" cy="138.9" r="1.8"/>
<circle cx="125.1" cy="142.5" r="1.8"/>
<circle cx="137.2" cy="133.1" r="1.8"/>
<circle cx="142.6" cy="130.1" r="1.8"/>
<circle cx="141.9" cy="130" r="1.8"/>
<circle cx="139.4" cy="131.1" r="1.8"/>
<circle cx="143.9" cy="126.1" r="1.8"/>
<circle cx="141.8" cy="129.1" r="1.8"/>
<circle cx="135.7" cy="136.1" r="1.8"/>
<circle cx="138.6" cy="132.9" r="1.8"/>
<circle cx="141.6" cy="127.7" r="1.8"/>
<circle cx="135.7" cy="132.9" r="1.8"/>
<circle cx="139.4" cy="128.9" r="1.8"/>
<circle cx="139.4" cy="130.8" r="1.8"/>
<circle cx="144.6" cy="129.2" r="1.8"/>
<circle cx="137.7" cy="132.5" r="1.8"/>
<circle cx="135.6" cy="133.7" r="1.8"/>
<circle cx="139.8" cy="128.4" r="1.8"/>
<circle cx="138.6" cy="132" r="1.8"/>
<circle cx="141.9" cy="127.1" r="1.8"/>
<circle cx="138.2" cy="133.3" r="1.8"/>
<circle cx="141" cy="129.8" r="1.8"/>
<circle cx="137.6" cy="134.2" r="1.8"/>
<circle cx="143.8" cy="127.6" r="1.8"/>
<circle cx="138.4" cy="129.8" r="1.8"/>
<circle cx="138.6" cy="132.3" r="1.8"/>
<circle cx="142.3" cy="129.7" r="1.8"/>
<circle cx="141.4" cy="133.1" r="1.8"/>
<circle cx="139" cy="131.3" r="1.8"/>
<circle cx="140.1" cy="128.5" r="1.8"/>
<circle cx="138" cy="131" r="1.8"/>
<circle cx="142.6" cy="128.8" r="1.8"/>
<circle cx="140.9" cy="133.6" r="1.8"/>
<circle cx="136.4" cy="131" r="1.8"/>
<circle cx="134.9" cy="133.5" r="1.8"/>
<circle cx="138.5" cy="134.3" r="1.8"/>
<circle cx="142" cy="129.4" r="1.8"/>
<circle cx="137" cy="134.9" r="1.8"/>
<circle cx="140.4" cy="129.9" r="1.8"/>
<circle cx="142.7" cy="128.9" r="1.8"/>
<circle cx="142.1" cy="129.5" r="1.8"/>
<circle cx="140" cy="129.2" r="1.8"/>
<circle cx="136.1" cy="132.2" r="1.8"/>
<circle cx="137.4" cy="134" r="1.8"/>
<circle cx="138.8" cy="132.9" r="1.8"/>
<circle cx="140" cy="131.8" r="1.8"/>
<circle cx="140.4" cy="131.9" r="1.8"/>
<circle cx="135.1" cy="132.7" r="1.8"/>
<circle cx="141.8" cy="129" r="1.8"/>
<circle cx="137.2" cy="134.1" r="1.8"/>
<circle cx="140.1" cy="133.6" r="1.8"/>
<circle cx="135.9" cy="132.5" r="1.8"/>
<circle cx="143.7" cy="128.1" r="1.8"/>
<circle cx="135.6" cy="133.3" r="1.8"/>
<circle cx="142.9" cy="128.9" r="1.8"/>
<circle cx="141.8" cy="126.5" r="1.8"/>
<circle cx="153.9" cy="120" r="1.8"/>
<circle cx="152.6" cy="119.5" r="1.8"/>
<circle cx="154.5" cy="121.1" r="1.8"/>
<circle cx="149.8" cy="123.3" r="1.8"/>
<circle cx="151.2" cy="121.6" r="1.8"/>
<circle cx="147.5" cy="125.4" r="1.8"/>
<circle cx="146.7" cy="126.6" r="1.8"/>
<circle cx="149.7" cy="122.4" r="1.8"/>
<circle cx="154.9" cy="119.1" r="1.8"/>
<circle cx="152.7" cy="120.3" r="1.8"/>
<circle cx="154.6" cy="119.8" r="1.8"/>
<circle cx="147.5" cy="124" r="1.8"/>
<circle cx="145.6" cy="124.4" r="1.8"/>
<circle cx="150.9" cy="121.7" r="1.8"/>
<circle cx="146.1" cy="130.9" r="1.8"/>
<circle cx="151.5" cy="119.2" r="1.8"/>
<circle cx="145.8" cy="124.6" r="1.8"/>
<circle cx="147" cy="125.4" r="1.8"/>
<circle cx="152.3" cy="122.3" r="1.8"/>
<circle cx="148.2" cy="123.4" r="1.8"/>
<circle cx="148.9" cy="124.2" r="1.8"/>
<circle cx="147.9" cy="122.8" r="1.8"/>
<circle cx="148.4" cy="124.6" r="1.8"/>
<circle cx="154.2" cy="119.6" r="1.8"/>
<circle cx="150.6" cy="121.3" r="1.8"/>
<circle cx="151.8" cy="123.5" r="1.8"/>
<circle cx="152.5" cy="122.6" r="1.8"/>
<circle cx="150.5" cy="122.3" r="1.8"/>
<circle cx="150.8" cy="122.2" r="1.8"/>
<circle cx="147.5" cy="130.6" r="1.8"/>
<circle cx="148.3" cy="123.6" r="1.8"/>
<circle cx="148.2" cy="126.5" r="1.8"/>
<circle cx="154.4" cy="120.9" r="1.8"/>
<circle cx="153.1" cy="122.9" r="1.8"/>
<circle cx="149.4" cy="120.9" r="1.8"/>
<circle cx="155" cy="122.4" r="1.8"/>
<circle cx="145.9" cy="124.9" r="1.8"/>
<circle cx="150.6" cy="123.2" r="1.8"/>
<circle cx="154.4" cy="119.6" r="1.8"/>
<circle cx="155.8" cy="119.1" r="1.8"/>
<circle cx="146.7" cy="126.3" r="1.8"/>
<circle cx="151.1" cy="123" r="1.8"/>
<circle cx="149.8" cy="125" r="1.8"/>
<circle cx="146.9" cy="126.6" r="1.8"/>
<circle cx="154.8" cy="119.5" r="1.8"/>
<circle cx="150.9" cy="121.3" r="1.8"/>
<circle cx="151.3" cy="121.5" r="1.8"/>
<circle cx="152.2" cy="121.7" r="1.8"/>
<circle cx="145.9" cy="128.2" r="1.8"/>
<circle cx="151.1" cy="119.7" r="1.8"/>
<circle cx="151.9" cy="121.1" r="1.8"/>
<circle cx="164" cy="116.7" r="1.8"/>
<circle cx="156.2" cy="118.2" r="1.8"/>
<circle cx="156.2" cy="118.1" r="1.8"/>
<circle cx="161" cy="115.6" r="1.8"/>
<circle cx="164.8" cy="111.4" r="1.8"/>
<circle cx="162.7" cy="113.5" r="1.8"/>
<circle cx="161.9" cy="114.6" r="1.8"/>
<circle cx="164.7" cy="112.5" r="1.8"/>
<circle cx="161.2" cy="115.8" r="1.8"/>
<circle cx="158.4" cy="115.4" r="1.8"/>
<circle cx="156.6" cy="119.4" r="1.8"/>
<circle cx="158.4" cy="116" r="1.8"/>
<circle cx="166.4" cy="112.8" r="1.8"/>
<circle cx="162.6" cy="114.2" r="1.8"/>
<circle cx="156.5" cy="120" r="1.8"/>
<circle cx="160" cy="115.6" r="1.8"/>
<circle cx="166.5" cy="111" r="1.8"/>
<circle cx="159.4" cy="118.7" r="1.8"/>
<circle cx="157.8" cy="119.1" r="1.8"/>
<circle cx="161.2" cy="115.9" r="1.8"/>
<circle cx="157.9" cy="117.9" r="1.8"/>
<circle cx="156.7" cy="117.6" r="1.8"/>
<circle cx="160.9" cy="115.1" r="1.8"/>
<circle cx="162.5" cy="113.9" r="1.8"/>
<circle cx="156.4" cy="120.7" r="1.8"/>
<circle cx="157.5" cy="117.5" r="1.8"/>
<circle cx="165.3" cy="111.9" r="1.8"/>
<circle cx="156.8" cy="116.3" r="1.8"/>
<circle cx="165.7" cy="114.5" r="1.8"/>
<circle cx="157.1" cy="117.9" r="1.8"/>
<circle cx="158" cy="116.8" r="1.8"/>
<circle cx="157.7" cy="118.9" r="1.8"/>
<circle cx="157.5" cy="118.1" r="1.8"/>
<circle cx="161.3" cy="115.3" r="1.8"/>
<circle cx="162.5" cy="114" r="1.8"/>
<circle cx="159.5" cy="113.7" r="1.8"/>
<circle cx="160.1" cy="117" r="1.8"/>
<circle cx="166" cy="112.9" r="1.8"/>
<circle cx="159.9" cy="114.6" r="1.8"/>
<circle cx="165.7" cy="112.1" r="1.8"/>
<circle cx="163.9" cy="111.9" r="1.8"/>
<circle cx="163.4" cy="112.9" r="1.8"/>
<circle cx="165.1" cy="110.9" r="1.8"/>
<circle cx="157.1" cy="118.3" r="1.8"/>
<circle cx="159.8" cy="118.7" r="1.8"/>
<circle cx="166.2" cy="113.7" r="1.8"/>
<circle cx="166.6" cy="112.2" r="1.8"/>
<circle cx="162.9" cy="112.9" r="1.8"/>
<circle cx="161.9" cy="113.4" r="1.8"/>
<circle cx="164.3" cy="114.2" r="1.8"/>
<circle cx="159.3" cy="117.2" r="1.8"/>
<circle cx="157.9" cy="115.1" r="1.8"/>
<circle cx="158.7" cy="119.9" r="1.8"/>
<circle cx="163.3" cy="112.9" r="1.8"/>
<circle cx="161.9" cy="115.2" r="1.8"/>
<circle cx="155.9" cy="116.7" r="1.8"/>
<circle cx="158.8" cy="116.8" r="1.8"/>
<circle cx="162.7" cy="114.3" r="1.8"/>
<circle cx="161.1" cy="116" r="1.8"/>
<circle cx="175.9" cy="105" r="1.8"/>
<circle cx="170.9" cy="107.2" r="1.8"/>
<circle cx="174.6" cy="105.2" r="1.8"/>
<circle cx="175.1" cy="105.3" r="1.8"/>
<circle cx="168.8" cy="109.1" r="1.8"/>
<circle cx="171.1" cy="107.3" r="1.8"/>
<circle cx="174.5" cy="106.6" r="1.8"/>
<circle cx="167.3" cy="113.5" r="1.8"/>
<circle cx="167" cy="109.8" r="1.8"/>
<circle cx="172.5" cy="108.3" r="1.8"/>
<circle cx="170.7" cy="108.1" r="1.8"/>
<circle cx="169.1" cy="109.5" r="1.8"/>
<circle cx="168.4" cy="111" r="1.8"/>
<circle cx="173.1" cy="106.2" r="1.8"/>
<circle cx="170.4" cy="109.2" r="1.8"/>
<circle cx="176.2" cy="105.6" r="1.8"/>
<circle cx="172.9" cy="107.8" r="1.8"/>
<circle cx="169.7" cy="111.8" r="1.8"/>
<circle cx="173.5" cy="104.4" r="1.8"/>
<circle cx="169.5" cy="108.7" r="1.8"/>
<circle cx="172.1" cy="106.2" r="1.8"/>
<circle cx="173.2" cy="105.8" r="1.8"/>
<circle cx="177.3" cy="103.3" r="1.8"/>
<circle cx="172.1" cy="105.5" r="1.8"/>
<circle cx="170.9" cy="109.1" r="1.8"/>
<circle cx="171.8" cy="106.9" r="1.8"/>
<circle cx="177.4" cy="103.7" r="1.8"/>
<circle cx="173.9" cy="105.2" r="1.8"/>
<circle cx="168.2" cy="111.5" r="1.8"/>
<circle cx="171.4" cy="108.7" r="1.8"/>
<circle cx="170.6" cy="107.9" r="1.8"/>
<circle cx="176.2" cy="103.6" r="1.8"/>
<circle cx="168.1" cy="108.2" r="1.8"/>
<circle cx="167.3" cy="111.8" r="1.8"/>
<circle cx="168.9" cy="109.5" r="1.8"/>
<circle cx="176.7" cy="103.6" r="1.8"/>
<circle cx="168.2" cy="109.5" r="1.8"/>
<circle cx="173.7" cy="105.5" r="1.8"/>
<circle cx="176.3" cy="103.6" r="1.8"/>
<circle cx="173.1" cy="105.7" r="1.8"/>
<circle cx="169.9" cy="108" r="1.8"/>
<circle cx="167.4" cy="108.6" r="1.8"/>
<circle cx="176.9" cy="104.2" r="1.8"/>
<circle cx="176.4" cy="101.8" r="1.8"/>
<circle cx="167.1" cy="109.6" r="1.8"/>
<circle cx="176.9" cy="102" r="1.8"/>
<circle cx="169.3" cy="109.3" r="1.8"/>
<circle cx="174.7" cy="104.2" r="1.8"/>
<circle cx="170.3" cy="108.9" r="1.8"/>
<circle cx="171.6" cy="109.2" r="1.8"/>
<circle cx="167.7" cy="109.5" r="1.8"/>
<circle cx="173.6" cy="107.1" r="1.8"/>
<circle cx="170.6" cy="106.2" r="1.8"/>
<circle cx="168" cy="110.2" r="1.8"/>
<circle cx="173.1" cy="105.9" r="1.8"/>
<circle cx="176.1" cy="105.6" r="1.8"/>
<circle cx="171" cy="108.6" r="1.8"/>
<circle cx="170.6" cy="107" r="1.8"/>
<circle cx="170.4" cy="106.8" r="1.8"/>
<circle cx="173.9" cy="107.4" r="1.8"/>
<circle cx="170.8" cy="107.8" r="1.8"/>
<circle cx="167.7" cy="109" r="1.8"/>
<circle cx="176.6" cy="104" r="1.8"/>
<circle cx="168.2" cy="109.3" r="1.8"/>
<circle cx="176.3" cy="103.8" r="1.8"/>
<circle cx="169.1" cy="106.9" r="1.8"/>
<circle cx="170.4" cy="107.8" r="1.8"/>
<circle cx="171.2" cy="106.5" r="1.8"/>
<circle cx="185.3" cy="100" r="1.8"/>
<circle cx="180.9" cy="102" r="1.8"/>
<circle cx="178.7" cy="101" r="1.8"/>
<circle cx="177.6" cy="104.4" r="1.8"/>
<circle cx="183.9" cy="96.7" r="1.8"/>
<circle cx="181.2" cy="99.7" r="1.8"/>
<circle cx="181.3" cy="98.8" r="1.8"/>
<circle cx="178.8" cy="103.1" r="1.8"/>
<circle cx="178.4" cy="101.7" r="1.8"/>
<circle cx="181.8" cy="99.2" r="1.8"/>
<circle cx="188.1" cy="92.3" r="1.8"/>
<circle cx="185.6" cy="98.7" r="1.8"/>
<circle cx="182.5" cy="99.4" r="1.8"/>
<circle cx="183.1" cy="99.3" r="1.8"/>
<circle cx="183" cy="99.3" r="1.8"/>
<circle cx="185.9" cy="98.1" r="1.8"/>
<circle cx="178.4" cy="101.4" r="1.8"/>
<circle cx="187.8" cy="94.9" r="1.8"/>
<circle cx="182.2" cy="100.3" r="1.8"/>
<circle cx="185.8" cy="97" r="1.8"/>
<circle cx="186.5" cy="94.4" r="1.8"/>
<circle cx="178.4" cy="102.1" r="1.8"/>
<circle cx="178.2" cy="102.1" r="1.8"/>
<circle cx="184.6" cy="99.2" r="1.8"/>
<circle cx="183" cy="99.6" r="1.8"/>
<circle cx="184.7" cy="97.2" r="1.8"/>
<circle cx="178.9" cy="103.4" r="1.8"/>
<circle cx="177.5" cy="103.2" r="1.8"/>
<circle cx="186.4" cy="94.8" r="1.8"/>
<circle cx="188" cy="93" r="1.8"/>
<circle cx="185.6" cy="96" r="1.8"/>
<circle cx="178.7" cy="102.2" r="1.8"/>
<circle cx="179.9" cy="99.8" r="1.8"/>
<circle cx="178.8" cy="102.6" r="1.8"/>
<circle cx="180" cy="101.3" r="1.8"/>
<circle cx="182.1" cy="101.5" r="1.8"/>
<circle cx="182.5" cy="101" r="1.8"/>
<circle cx="185.1" cy="96.6" r="1.8"/>
<circle cx="183.5" cy="97.1" r="1.8"/>
<circle cx="181.3" cy="99.3" r="1.8"/>
<circle cx="178.3" cy="99.9" r="1.8"/>
<circle cx="177.7" cy="103.5" r="1.8"/>
<circle cx="181.4" cy="98.8" r="1.8"/>
<circle cx="186.5" cy="94.8" r="1.8"/>
<circle cx="179.3" cy="99.3" r="1.8"/>
<circle cx="179.9" cy="100.8" r="1.8"/>
<circle cx="185.9" cy="96.1" r="1.8"/>
<circle cx="185.7" cy="95.6" r="1.8"/>
<circle cx="180.7" cy="101.3" r="1.8"/>
<circle cx="186" cy="95.3" r="1.8"/>
<circle cx="186.2" cy="99" r="1.8"/>
<circle cx="187.5" cy="97.2" r="1.8"/>
<circle cx="188.1" cy="94.6" r="1.8"/>
<circle cx="180.7" cy="101" r="1.8"/>
<circle cx="186.5" cy="95.3" r="1.8"/>
<circle cx="186.7" cy="93.2" r="1.8"/>
<circle cx="178" cy="102.8" r="1.8"/>
<circle cx="187.6" cy="94" r="1.8"/>
<circle cx="186.3" cy="96.1" r="1.8"/>
<circle cx="181.1" cy="98" r="1.8"/>
<circle cx="178.1" cy="105.1" r="1.8"/>
<circle cx="192.5" cy="90.7" r="1.8"/>
<circle cx="191.3" cy="93.5" r="1.8"/>
<circle cx="193.5" cy="91.9" r="1.8"/>
<circle cx="191.1" cy="93.2" r="1.8"/>
<circle cx="189.4" cy="91.8" r="1.8"/>
<circle cx="193.4" cy="89.2" r="1.8"/>
<circle cx="193" cy="92.1" r="1.8"/>
<circle cx="188.5" cy="94.2" r="1.8"/>
<circle cx="193.5" cy="92.4" r="1.8"/>
<circle cx="196.3" cy="88.1" r="1.8"/>
<circle cx="197.8" cy="90" r="1.8"/>
<circle cx="195.5" cy="91" r="1.8"/>
<circle cx="193.9" cy="90.9" r="1.8"/>
<circle cx="197.5" cy="87.8" r="1.8"/>
<circle cx="194.7" cy="91.8" r="1.8"/>
<circle cx="188.7" cy="96.6" r="1.8"/>
<circle cx="190" cy="91.3" r="1.8"/>
<circle cx="189.8" cy="95.7" r="1.8"/>
<circle cx="191.5" cy="92.2" r="1.8"/>
<circle cx="188.3" cy="95" r="1.8"/>
<circle cx="196.6" cy="91.2" r="1.8"/>
<circle cx="189.1" cy="94.2" r="1.8"/>
<circle cx="198.3" cy="87.7" r="1.8"/>
<circle cx="188.6" cy="94.8" r="1.8"/>
<circle cx="197.7" cy="87.1" r="1.8"/>
<circle cx="189.5" cy="94.1" r="1.8"/>
<circle cx="189.4" cy="92" r="1.8"/>
<circle cx="192.6" cy="93.1" r="1.8"/>
<circle cx="198.3" cy="86.5" r="1.8"/>
<circle cx="198" cy="87.3" r="1.8"/>
<circle cx="193.2" cy="90.1" r="1.8"/>
<circle cx="194.7" cy="88.8" r="1.8"/>
<circle cx="188.4" cy="94.7" r="1.8"/>
<circle cx="190.5" cy="92.9" r="1.8"/>
<circle cx="190.8" cy="93.2" r="1.8"/>
<circle cx="196.7" cy="88.5" r="1.8"/>
<circle cx="198.6" cy="86.4" r="1.8"/>
<circle cx="195.9" cy="89.1" r="1.8"/>
<circle cx="193.7" cy="92.9" r="1.8"/>
<circle cx="193.9" cy="91.4" r="1.8"/>
<circle cx="189.8" cy="92" r="1.8"/>
<circle cx="190.5" cy="90" r="1.8"/>
<circle cx="198.2" cy="88.1" r="1.8"/>
<circle cx="197.3" cy="88.4" r="1.8"/>
<circle cx="196.1" cy="89.1" r="1.8"/>
<circle cx="197.2" cy="84.2" r="1.8"/>
<circle cx="193.5" cy="90.1" r="1.8"/>
<circle cx="198.9" cy="87.7" r="1.8"/>
<circle cx="195.7" cy="90.9" r="1.8"/>
<circle cx="195.1" cy="86.3" r="1.8"/>
<circle cx="196.9" cy="89.5" r="1.8"/>
<circle cx="190.4" cy="93.8" r="1.8"/>
<circle cx="189.4" cy="96.9" r="1.8"/>
<circle cx="192.5" cy="91.5" r="1.8"/>
<circle cx="192.7" cy="90.5" r="1.8"/>
<circle cx="198" cy="84.9" r="1.8"/>
<circle cx="194.8" cy="89.5" r="1.8"/>
<circle cx="194.8" cy="90.1" r="1.8"/>
<circle cx="195.4" cy="88.6" r="1.8"/>
<circle cx="195.5" cy="90.2" r="1.8"/>
<circle cx="196.9" cy="89.8" r="1.8"/>
<circle cx="197" cy="88.5" r="1.8"/>
<circle cx="205.6" cy="81.7" r="1.8"/>
<circle cx="208.3" cy="79.8" r="1.8"/>
<circle cx="207.9" cy="79.9" r="1.8"/>
<circle cx="209.6" cy="77.4" r="1.8"/>
<circle cx="209.7" cy="80.5" r="1.8"/>
<circle cx="208.7" cy="78.3" r="1.8"/>
<circle cx="202.8" cy="83.8" r="1.8"/>
<circle cx="203.2" cy="83.8" r="1.8"/>
<circle cx="202.3" cy="84.8" r="1.8"/>
<circle cx="200.3" cy="87.8" r="1.8"/>
<circle cx="202.6" cy="82.9" r="1.8"/>
<circle cx="201.1" cy="85.1" r="1.8"/>
<circle cx="202.2" cy="84.1" r="1.8"/>
<circle cx="202.1" cy="85.4" r="1.8"/>
<circle cx="204.7" cy="82.7" r="1.8"/>
<circle cx="202.7" cy="83" r="1.8"/>
<circle cx="206.5" cy="83.1" r="1.8"/>
<circle cx="208.3" cy="79.1" r="1.8"/>
<circle cx="207" cy="80.5" r="1.8"/>
<circle cx="209.6" cy="77.8" r="1.8"/>
<circle cx="205.7" cy="80.3" r="1.8"/>
<circle cx="200.4" cy="86.7" r="1.8"/>
<circle cx="209.6" cy="78.9" r="1.8"/>
<circle cx="199.7" cy="86.2" r="1.8"/>
<circle cx="202.2" cy="83.4" r="1.8"/>
<circle cx="202.4" cy="80.9" r="1.8"/>
<circle cx="208.6" cy="81.8" r="1.8"/>
<circle cx="201.7" cy="83.2" r="1.8"/>
<circle cx="199.8" cy="85.2" r="1.8"/>
<circle cx="209.2" cy="79.4" r="1.8"/>
<circle cx="199" cy="88.3" r="1.8"/>
<circle cx="199.6" cy="85.6" r="1.8"/>
<circle cx="203.8" cy="85.9" r="1.8"/>
<circle cx="206.5" cy="86.9" r="1.8"/>
<circle cx="206.3" cy="81.7" r="1.8"/>
<circle cx="206.8" cy="82" r="1.8"/>
<circle cx="205.2" cy="80.1" r="1.8"/>
<circle cx="204.6" cy="83.1" r="1.8"/>
<circle cx="202.7" cy="81.3" r="1.8"/>
<circle cx="202.9" cy="80.4" r="1.8"/>
<circle cx="207.1" cy="80.6" r="1.8"/>
<circle cx="205.3" cy="81.6" r="1.8"/>
<circle cx="205.6" cy="81.4" r="1.8"/>
<circle cx="209.3" cy="78.9" r="1.8"/>
<circle cx="200.6" cy="83.7" r="1.8"/>
<circle cx="204.3" cy="84.9" r="1.8"/>
<circle cx="202.4" cy="81.9" r="1.8"/>
<circle cx="204.7" cy="80.7" r="1.8"/>
<circle cx="208.4" cy="79" r="1.8"/>
<circle cx="206.5" cy="82" r="1.8"/>
<circle cx="206.8" cy="83.1" r="1.8"/>
<circle cx="200.7" cy="82.9" r="1.8"/>
<circle cx="204.8" cy="85.3" r="1.8"/>
<circle cx="203" cy="82.8" r="1.8"/>
<circle cx="199.4" cy="85.9" r="1.8"/>
<circle cx="202.8" cy="84.4" r="1.8"/>
<circle cx="203.7" cy="82.5" r="1.8"/>
<circle cx="206.1" cy="81.8" r="1.8"/>
<circle cx="203.7" cy="83.3" r="1.8"/>
<circle cx="201.8" cy="84.6" r="1.8"/>
<circle cx="207.5" cy="77.8" r="1.8"/>
<circle cx="205" cy="82.9" r="1.8"/>
<circle cx="206.5" cy="84.2" r="1.8"/>
<circle cx="201.1" cy="85.4" r="1.8"/>
<circle cx="199.9" cy="84.4" r="1.8"/>
<circle cx="203.5" cy="79" r="1.8"/>
<circle cx="208.1" cy="77.8" r="1.8"/>
<circle cx="203.2" cy="82.6" r="1.8"/>
<circle cx="209.1" cy="77.3" r="1.8"/>
<circle cx="199" cy="84.7" r="1.8"/>
<circle cx="205.5" cy="80.7" r="1.8"/>
<circle cx="200.2" cy="85.4" r="1.8"/>
<circle cx="205.4" cy="81.4" r="1.8"/>
<circle cx="207.6" cy="79.6" r="1.8"/>
<circle cx="200.5" cy="84.7" r="1.8"/>
<circle cx="199.3" cy="87.5" r="1.8"/>
<circle cx="204.2" cy="84.9" r="1.8"/>
<circle cx="208" cy="79.7" r="1.8"/>
<circle cx="202.7" cy="85.6" r="1.8"/>
<circle cx="207.2" cy="79.5" r="1.8"/>
<circle cx="203.6" cy="83.3" r="1.8"/>
<circle cx="209.4" cy="76.7" r="1.8"/>
<circle cx="201.9" cy="86.5" r="1.8"/>
<circle cx="210.4" cy="76.7" r="1.8"/>
<circle cx="211.3" cy="77.9" r="1.8"/>
<circle cx="210.5" cy="77" r="1.8"/>
<circle cx="218.6" cy="71.5" r="1.8"/>
<circle cx="219" cy="72.1" r="1.8"/>
<circle cx="218.3" cy="72.1" r="1.8"/>
<circle cx="214.2" cy="75.8" r="1.8"/>
<circle cx="211.1" cy="77.5" r="1.8"/>
<circle cx="214.3" cy="74.4" r="1.8"/>
<circle cx="219.1" cy="73.1" r="1.8"/>
<circle cx="211.5" cy="76.5" r="1.8"/>
<circle cx="216.7" cy="74.9" r="1.8"/>
<circle cx="210.3" cy="80.5" r="1.8"/>
<circle cx="219.9" cy="70.1" r="1.8"/>
<circle cx="212.6" cy="79" r="1.8"/>
<circle cx="219.8" cy="71.6" r="1.8"/>
<circle cx="212" cy="72.4" r="1.8"/>
<circle cx="219.2" cy="71.2" r="1.8"/>
<circle cx="209.9" cy="78.5" r="1.8"/>
<circle cx="219.6" cy="69.7" r="1.8"/>
<circle cx="212.8" cy="76.9" r="1.8"/>
<circle cx="212.5" cy="74.5" r="1.8"/>
<circle cx="217.1" cy="75" r="1.8"/>
<circle cx="216" cy="71.3" r="1.8"/>
<circle cx="216.7" cy="73.2" r="1.8"/>
<circle cx="216.3" cy="73.5" r="1.8"/>
<circle cx="210.8" cy="76.5" r="1.8"/>
<circle cx="212.7" cy="74.8" r="1.8"/>
<circle cx="219.8" cy="69.5" r="1.8"/>
<circle cx="216.3" cy="76.9" r="1.8"/>
<circle cx="216.5" cy="74.2" r="1.8"/>
<circle cx="215.9" cy="72.9" r="1.8"/>
<circle cx="216.7" cy="73.6" r="1.8"/>
<circle cx="210.1" cy="79.3" r="1.8"/>
<circle cx="214.4" cy="76.6" r="1.8"/>
<circle cx="216.3" cy="74.2" r="1.8"/>
<circle cx="217.1" cy="74.1" r="1.8"/>
<circle cx="211.1" cy="78" r="1.8"/>
<circle cx="219.3" cy="71.9" r="1.8"/>
<circle cx="215.3" cy="72.9" r="1.8"/>
<circle cx="211.7" cy="76.4" r="1.8"/>
<circle cx="212.8" cy="75.9" r="1.8"/>
<circle cx="211.8" cy="78.7" r="1.8"/>
<circle cx="216.7" cy="73.6" r="1.8"/>
<circle cx="216.5" cy="74.4" r="1.8"/>
<circle cx="214.8" cy="75.6" r="1.8"/>
<circle cx="212.1" cy="79.9" r="1.8"/>
<circle cx="216.4" cy="75.5" r="1.8"/>
<circle cx="218" cy="73.4" r="1.8"/>
<circle cx="217.7" cy="71.8" r="1.8"/>
<circle cx="211.8" cy="75.7" r="1.8"/>
<circle cx="220.5" cy="70.8" r="1.8"/>
<circle cx="213.9" cy="73.8" r="1.8"/>
<circle cx="217.5" cy="72.7" r="1.8"/>
<circle cx="218.2" cy="72.4" r="1.8"/>
<circle cx="216.6" cy="75.3" r="1.8"/>
<circle cx="217" cy="71.7" r="1.8"/>
<circle cx="217.3" cy="72" r="1.8"/>
<circle cx="220.2" cy="70.1" r="1.8"/>
<circle cx="213.6" cy="74.4" r="1.8"/>
<circle cx="219.3" cy="71.7" r="1.8"/>
<circle cx="215.3" cy="75.3" r="1.8"/>
<circle cx="210.7" cy="74.4" r="1.8"/>
<circle cx="219.6" cy="71.2" r="1.8"/>
<circle cx="216.6" cy="72.9" r="1.8"/>
<circle cx="214.5" cy="74.1" r="1.8"/>
<circle cx="211" cy="79.4" r="1.8"/>
<circle cx="218.3" cy="72" r="1.8"/>
<circle cx="213.2" cy="76.9" r="1.8"/>
<circle cx="215.7" cy="74.8" r="1.8"/>
<circle cx="210.3" cy="79.3" r="1.8"/>
<circle cx="211.5" cy="77.3" r="1.8"/>
<circle cx="214.5" cy="76" r="1.8"/>
<circle cx="216.4" cy="74.3" r="1.8"/>
<circle cx="218.3" cy="72" r="1.8"/>
<circle cx="215.7" cy="70.7" r="1.8"/>
<circle cx="212.5" cy="78.4" r="1.8"/>
<circle cx="212.5" cy="75.8" r="1.8"/>
<circle cx="212.6" cy="77.7" r="1.8"/>
<circle cx="216" cy="73.5" r="1.8"/>
<circle cx="215.7" cy="72.2" r="1.8"/>
<circle cx="210.8" cy="78.6" r="1.8"/>
<circle cx="209.9" cy="77.7" r="1.8"/>
<circle cx="210.1" cy="79.4" r="1.8"/>
<circle cx="225.9" cy="66" r="1.8"/>
<circle cx="220.7" cy="70.3" r="1.8"/>
<circle cx="223.9" cy="66.6" r="1.8"/>
<circle cx="229.8" cy="63.9" r="1.8"/>
<circle cx="230.4" cy="63.2" r="1.8"/>
<circle cx="225.7" cy="65.8" r="1.8"/>
<circle cx="230.5" cy="62.9" r="1.8"/>
<circle cx="229.2" cy="63.2" r="1.8"/>
<circle cx="226.9" cy="65.8" r="1.8"/>
<circle cx="226" cy="65.9" r="1.8"/>
<circle cx="223" cy="70.2" r="1.8"/>
<circle cx="231.3" cy="63.2" r="1.8"/>
<circle cx="231.3" cy="63" r="1.8"/>
<circle cx="221.5" cy="69.9" r="1.8"/>
<circle cx="221.7" cy="67.4" r="1.8"/>
<circle cx="222.7" cy="68.3" r="1.8"/>
<circle cx="228.8" cy="63.6" r="1.8"/>
<circle cx="231.3" cy="61.7" r="1.8"/>
<circle cx="225.3" cy="67.5" r="1.8"/>
<circle cx="229" cy="65.8" r="1.8"/>
<circle cx="228.9" cy="63.6" r="1.8"/>
<circle cx="222.5" cy="68.2" r="1.8"/>
<circle cx="223.6" cy="70" r="1.8"/>
<circle cx="230.7" cy="62.4" r="1.8"/>
<circle cx="228.8" cy="64.7" r="1.8"/>
<circle cx="227.6" cy="65" r="1.8"/>
<circle cx="228" cy="65.8" r="1.8"/>
<circle cx="224.8" cy="67.6" r="1.8"/>
<circle cx="220.6" cy="71.2" r="1.8"/>
<circle cx="228.4" cy="64.7" r="1.8"/>
<circle cx="224.9" cy="68.2" r="1.8"/>
<circle cx="227.9" cy="65.6" r="1.8"/>
<circle cx="229" cy="63.5" r="1.8"/>
<circle cx="223.3" cy="67.8" r="1.8"/>
<circle cx="230.8" cy="63" r="1.8"/>
<circle cx="227.3" cy="66" r="1.8"/>
<circle cx="222.9" cy="66.5" r="1.8"/>
<circle cx="230.9" cy="62.6" r="1.8"/>
<circle cx="220.7" cy="70.7" r="1.8"/>
<circle cx="228.8" cy="64.8" r="1.8"/>
<circle cx="223.1" cy="68.6" r="1.8"/>
<circle cx="226" cy="67.2" r="1.8"/>
<circle cx="227" cy="65.6" r="1.8"/>
<circle cx="222.6" cy="68.7" r="1.8"/>
<circle cx="227" cy="66.5" r="1.8"/>
<circle cx="227.5" cy="66.2" r="1.8"/>
<circle cx="229.6" cy="62.1" r="1.8"/>
<circle cx="229.5" cy="65.5" r="1.8"/>
<circle cx="228" cy="65" r="1.8"/>
<circle cx="227.7" cy="64.8" r="1.8"/>
<circle cx="227.1" cy="66.4" r="1.8"/>
<circle cx="223.1" cy="69.3" r="1.8"/>
<circle cx="228.1" cy="65.3" r="1.8"/>
<circle cx="225.4" cy="66.2" r="1.8"/>
<circle cx="227.4" cy="65.3" r="1.8"/>
<circle cx="228.4" cy="66.3" r="1.8"/>
<circle cx="225.4" cy="67.5" r="1.8"/>
<circle cx="229.5" cy="64.5" r="1.8"/>
<circle cx="226.5" cy="66.2" r="1.8"/>
<circle cx="223.5" cy="68.2" r="1.8"/>
<circle cx="230.8" cy="61.2" r="1.8"/>
<circle cx="229.1" cy="65.5" r="1.8"/>
<circle cx="220.7" cy="69.6" r="1.8"/>
<circle cx="230.7" cy="62.7" r="1.8"/>
<circle cx="229.4" cy="63.5" r="1.8"/>
<circle cx="221.6" cy="68.7" r="1.8"/>
<circle cx="225.9" cy="66.9" r="1.8"/>
<circle cx="222.1" cy="67.9" r="1.8"/>
<circle cx="221.2" cy="71.6" r="1.8"/>
<circle cx="225.1" cy="68" r="1.8"/>
<circle cx="228.3" cy="64.4" r="1.8"/>
<circle cx="223.7" cy="68.7" r="1.8"/>
<circle cx="227" cy="65.9" r="1.8"/>
<circle cx="230.7" cy="63.2" r="1.8"/>
<circle cx="222.8" cy="70.4" r="1.8"/>
<circle cx="226.5" cy="67.4" r="1.8"/>
<circle cx="225.6" cy="67.5" r="1.8"/>
<circle cx="222.1" cy="68.2" r="1.8"/>
<circle cx="221.8" cy="73.1" r="1.8"/>
<circle cx="224.9" cy="67.6" r="1.8"/>
<circle cx="227.1" cy="66.1" r="1.8"/>
<circle cx="224.3" cy="65.7" r="1.8"/>
<circle cx="223.2" cy="68.9" r="1.8"/>
<circle cx="228.4" cy="65.2" r="1.8"/>
<circle cx="240.6" cy="55.2" r="1.8"/>
<circle cx="241.3" cy="55.4" r="1.8"/>
<circle cx="235.9" cy="59.4" r="1.8"/>
<circle cx="241.2" cy="55.9" r="1.8"/>
<circle cx="240.3" cy="55.5" r="1.8"/>
<circle cx="231.4" cy="64" r="1.8"/>
<circle cx="240.4" cy="55.5" r="1.8"/>
<circle cx="239.8" cy="56.5" r="1.8"/>
<circle cx="239.3" cy="55.5" r="1.8"/>
<circle cx="233.9" cy="60.3" r="1.8"/>
<circle cx="234.9" cy="60" r="1.8"/>
<circle cx="238.8" cy="56.7" r="1.8"/>
<circle cx="241.5" cy="54.8" r="1.8"/>
<circle cx="237" cy="58.2" r="1.8"/>
<circle cx="232.3" cy="60.7" r="1.8"/>
<circle cx="234.5" cy="59.6" r="1.8"/>
<circle cx="236.6" cy="58.4" r="1.8"/>
<circle cx="238.7" cy="56.8" r="1.8"/>
<circle cx="232.1" cy="61" r="1.8"/>
<circle cx="239.2" cy="56.6" r="1.8"/>
<circle cx="233.2" cy="61.2" r="1.8"/>
<circle cx="241.3" cy="55.4" r="1.8"/>
<circle cx="239.7" cy="56.2" r="1.8"/>
<circle cx="241.3" cy="55" r="1.8"/>
<circle cx="240.8" cy="56" r="1.8"/>
<circle cx="241" cy="55.8" r="1.8"/>
<circle cx="235" cy="59.3" r="1.8"/>
<circle cx="241.1" cy="55.2" r="1.8"/>
<circle cx="232.5" cy="61.3" r="1.8"/>
<circle cx="239.2" cy="56.9" r="1.8"/>
<circle cx="240.1" cy="56" r="1.8"/>
<circle cx="239.2" cy="56" r="1.8"/>
<circle cx="238.4" cy="58.2" r="1.8"/>
<circle cx="236.6" cy="58.4" r="1.8"/>
<circle cx="239.9" cy="55.6" r="1.8"/>
<circle cx="238" cy="57" r="1.8"/>
<circle cx="233.3" cy="59.6" r="1.8"/>
<circle cx="241.4" cy="54.6" r="1.8"/>
<circle cx="238.3" cy="56.8" r="1.8"/>
<circle cx="236.2" cy="59" r="1.8"/>
<circle cx="236.3" cy="58.8" r="1.8"/>
<circle cx="239.2" cy="56.5" r="1.8"/>
<circle cx="232.6" cy="61.3" r="1.8"/>
<circle cx="238.1" cy="57.5" r="1.8"/>
<circle cx="240.6" cy="55.7" r="1.8"/>
<circle cx="232.2" cy="62.2" r="1.8"/>
<circle cx="242.1" cy="54.5" r="1.8"/>
<circle cx="234.8" cy="58.9" r="1.8"/>
<circle cx="237.9" cy="56" r="1.8"/>
<circle cx="241.1" cy="56" r="1.8"/>
<circle cx="239.3" cy="56.5" r="1.8"/>
<circle cx="241.8" cy="55.1" r="1.8"/>
<circle cx="238.2" cy="57" r="1.8"/>
<circle cx="241" cy="55.4" r="1.8"/>
<circle cx="231.6" cy="61.4" r="1.8"/>
<circle cx="239.1" cy="56.8" r="1.8"/>
<circle cx="241.6" cy="54.5" r="1.8"/>
<circle cx="239.2" cy="55.8" r="1.8"/>
<circle cx="239.4" cy="56.2" r="1.8"/>
<circle cx="239.6" cy="56.2" r="1.8"/>
<circle cx="241.2" cy="55.1" r="1.8"/>
<circle cx="237.9" cy="57" r="1.8"/>
<circle cx="240.4" cy="55.4" r="1.8"/>
<circle cx="235.3" cy="59" r="1.8"/>
<circle cx="234.3" cy="60.3" r="1.8"/>
<circle cx="237.7" cy="58.1" r="1.8"/>
<circle cx="237" cy="58.1" r="1.8"/>
<circle cx="234.2" cy="60.9" r="1.8"/>
<circle cx="240.4" cy="56.1" r="1.8"/>
<circle cx="240" cy="56.1" r="1.8"/>
<circle cx="232.5" cy="61.4" r="1.8"/>
<circle cx="231.4" cy="62.3" r="1.8"/>
<circle cx="238.8" cy="57" r="1.8"/>
<circle cx="241.6" cy="54.7" r="1.8"/>
<circle cx="232.3" cy="61.7" r="1.8"/>
<circle cx="241.2" cy="55.1" r="1.8"/>
<circle cx="239.8" cy="56.7" r="1.8"/>
<circle cx="239.3" cy="56.3" r="1.8"/>
<circle cx="242" cy="54.7" r="1.8"/>
<circle cx="238.8" cy="57.3" r="1.8"/>
<circle cx="241.1" cy="55.5" r="1.8"/>
<circle cx="239.6" cy="56.1" r="1.8"/>
<circle cx="241.6" cy="54.8" r="1.8"/>
<circle cx="238.4" cy="57.3" r="1.8"/>
<circle cx="241.8" cy="54.8" r="1.8"/>
<circle cx="241" cy="54.7" r="1.8"/>
<circle cx="241.1" cy="55.1" r="1.8"/>
<circle cx="240.4" cy="55.2" r="1.8"/>
<circle cx="240.3" cy="56.1" r="1.8"/>
<circle cx="238.8" cy="56.7" r="1.8"/>
<circle cx="234.7" cy="60.4" r="1.8"/>
<circle cx="238.1" cy="57.5" r="1.8"/>
<circle cx="231.9" cy="61.8" r="1.8"/>
<circle cx="240.8" cy="54.9" r="1.8"/>
<circle cx="241.2" cy="55.2" r="1.8"/>
<circle cx="241.1" cy="55.5" r="1.8"/>
<circle cx="241.3" cy="55" r="1.8"/>
<circle cx="242" cy="55.1" r="1.8"/>
<circle cx="240.6" cy="55.2" r="1.8"/>
<circle cx="236.6" cy="58.5" r="1.8"/>
<circle cx="241.1" cy="55.2" r="1.8"/>
<circle cx="241.2" cy="55.7" r="1.8"/>
<circle cx="237.2" cy="58.2" r="1.8"/>
<circle cx="240.2" cy="55.9" r="1.8"/>
<circle cx="233.6" cy="60.9" r="1.8"/>
<circle cx="238.7" cy="57.5" r="1.8"/>
<circle cx="232.3" cy="63.5" r="1.8"/>
<circle cx="237.9" cy="56.6" r="1.8"/>
<circle cx="236" cy="59.1" r="1.8"/>
<circle cx="240" cy="55.9" r="1.8"/>
<circle cx="240.1" cy="55.6" r="1.8"/>
<circle cx="236.6" cy="59.6" r="1.8"/>
<circle cx="238.8" cy="57.1" r="1.8"/>
<circle cx="238.1" cy="56.7" r="1.8"/>
<circle cx="239.1" cy="56.8" r="1.8"/>
<circle cx="234.6" cy="59.9" r="1.8"/>
<circle cx="240" cy="55.4" r="1.8"/>
<circle cx="239.7" cy="55.8" r="1.8"/>
<circle cx="237.1" cy="58.3" r="1.8"/>
<circle cx="240.7" cy="55.7" r="1.8"/>
<circle cx="239.2" cy="57.4" r="1.8"/>
<circle cx="236.4" cy="58.6" r="1.8"/>
<circle cx="238.3" cy="57.9" r="1.8"/>
<circle cx="239.6" cy="56.6" r="1.8"/>
<circle cx="240.7" cy="54.9" r="1.8"/>
<circle cx="240.9" cy="55.9" r="1.8"/>
<circle cx="237.8" cy="57" r="1.8"/>
<circle cx="240.9" cy="55.3" r="1.8"/>
<circle cx="233.7" cy="59.3" r="1.8"/>
<circle cx="241.8" cy="54.5" r="1.8"/>
<circle cx="240.3" cy="55.5" r="1.8"/>
<circle cx="239.4" cy="57.1" r="1.8"/>
<circle cx="240.9" cy="55.2" r="1.8"/>
<circle cx="237.3" cy="58.9" r="1.8"/>
<circle cx="236" cy="58.5" r="1.8"/>
<circle cx="238" cy="57.1" r="1.8"/>
<circle cx="241.4" cy="54.6" r="1.8"/>
<circle cx="91" cy="176.1" r="1.8"/>
<circle cx="106.7" cy="165.3" r="1.8"/>
<circle cx="117.5" cy="156.6" r="1.8"/>
<circle cx="124" cy="151.3" r="1.8"/>
<circle cx="83.6" cy="180.5" r="1.8"/>
<circle cx="80.2" cy="182.1" r="1.8"/>
<circle cx="68.5" cy="175.2" r="1.8"/>
<circle cx="76.7" cy="171.8" r="1.8"/>
<circle cx="60.3" cy="184.7" r="1.8"/>
<circle cx="66.4" cy="179.5" r="1.8"/>
<circle cx="215.4" cy="65.9" r="1.8"/>
<circle cx="219.9" cy="64.5" r="1.8"/>
<circle cx="200.1" cy="78.3" r="1.8"/>
<circle cx="196.2" cy="82.2" r="1.8"/>
<circle cx="189.5" cy="87.1" r="1.8"/>
<circle cx="184.8" cy="89.8" r="1.8"/>
<circle cx="181.1" cy="93.5" r="1.8"/>
<circle cx="175" cy="98.5" r="1.8"/>
<circle cx="170.5" cy="103.8" r="1.8"/>
<circle cx="210" cy="86.2" r="1.8"/>
<circle cx="203.1" cy="90.1" r="1.8"/>
<circle cx="215.4" cy="81.6" r="1.8"/>
</g>
<path d="M26.7 213.1l2.2 3.9h-4.4zM35.5 206.5l2.2 3.9h-4.4zM29.9 210.8l2.2 3.9h-4.4zM35.5 205.2l2.2 3.9h-4.4zM27 212.6l2.2 3.9h-4.4zM31.6 209.7l2.2 3.9h-4.4zM27.9 211.8l2.2 3.9h-4.4zM26.7 212.9l2.2 3.9h-4.4zM27.6 213.7l2.2 3.9h-4.4zM37.3 205.4l2.2 3.9h-4.4zM37.1 204.3l2.2 3.9h-4.4zM35.1 205.1l2.2 3.9h-4.4zM26.7 213.4l2.2 3.9h-4.4zM31.8 210.6l2.2 3.9h-4.4zM27.8 212.9l2.2 3.9h-4.4zM26.7 213.5l2.2 3.9h-4.4zM35.3 207.3l2.2 3.9h-4.4zM32.4 209.6l2.2 3.9h-4.4zM30.6 210.8l2.2 3.9h-4.4zM30.9 210.4l2.2 3.9h-4.4zM36.4 206.6l2.2 3.9h-4.4zM35.3 205.4l2.2 3.9h-4.4zM30.3 211.9l2.2 3.9h-4.4zM28.9 210.9l2.2 3.9h-4.4zM31.4 210.5l2.2 3.9h-4.4zM26.7 213.6l2.2 3.9h-4.4zM31.2 210.7l2.2 3.9h-4.4zM34.3 206.7l2.2 3.9h-4.4zM27.9 212.7l2.2 3.9h-4.4zM34.6 206.6l2.2 3.9h-4.4zM35.7 206.8l2.2 3.9h-4.4zM30.9 210.6l2.2 3.9h-4.4zM26.6 213.4l2.2 3.9h-4.4zM30.1 211.3l2.2 3.9h-4.4zM27 213.1l2.2 3.9h-4.4zM31.8 209.5l2.2 3.9h-4.4zM29 211.9l2.2 3.9h-4.4zM28.2 211.6l2.2 3.9h-4.4zM32.5 209.3l2.2 3.9h-4.4zM29.7 212l2.2 3.9h-4.4zM28.3 212l2.2 3.9h-4.4zM28.7 212.3l2.2 3.9h-4.4zM31.5 210.9l2.2 3.9h-4.4zM32.9 209l2.2 3.9h-4.4zM37 204.8l2.2 3.9h-4.4zM29.1 211.4l2.2 3.9h-4.4zM33.3 208.5l2.2 3.9h-4.4zM26.6 213.2l2.2 3.9h-4.4zM28.5 212l2.2 3.9h-4.4zM34.4 208.4l2.2 3.9h-4.4zM29.8 211.2l2.2 3.9h-4.4zM37.3 207l2.2 3.9h-4.4zM27 213.2l2.2 3.9h-4.4zM31.8 208.5l2.2 3.9h-4.4zM33.7 208.3l2.2 3.9h-4.4zM27.4 213l2.2 3.9h-4.4zM28.9 211.7l2.2 3.9h-4.4zM27.8 212.4l2.2 3.9h-4.4zM28.7 212.3l2.2 3.9h-4.4zM28.1 211.6l2.2 3.9h-4.4zM29.9 211.6l2.2 3.9h-4.4zM36.2 206.1l2.2 3.9h-4.4zM31.1 211.2l2.2 3.9h-4.4zM33.1 208.2l2.2 3.9h-4.4zM31.7 209.6l2.2 3.9h-4.4zM31.8 210.9l2.2 3.9h-4.4zM29.3 211.4l2.2 3.9h-4.4zM35.1 206l2.2 3.9h-4.4zM31.5 209.2l2.2 3.9h-4.4zM37.2 205.8l2.2 3.9h-4.4zM32.1 210.8l2.2 3.9h-4.4zM31.8 209.5l2.2 3.9h-4.4zM28.5 212l2.2 3.9h-4.4zM33.6 207.9l2.2 3.9h-4.4zM30.7 211.9l2.2 3.9h-4.4zM34.1 208.8l2.2 3.9h-4.4zM29 211.6l2.2 3.9h-4.4zM27 213.3l2.2 3.9h-4.4zM29.5 212.1l2.2 3.9h-4.4zM35.5 206.4l2.2 3.9h-4.4zM39.8 203.6l2.2 3.9h-4.4zM37.5 206.9l2.2 3.9h-4.4zM46.4 197.7l2.2 3.9h-4.4zM39.9 204.9l2.2 3.9h-4.4zM44.4 196.2l2.2 3.9h-4.4zM42.3 203.4l2.2 3.9h-4.4zM44.7 199.5l2.2 3.9h-4.4zM42.9 201.8l2.2 3.9h-4.4zM38.8 205.1l2.2 3.9h-4.4zM47.5 194.8l2.2 3.9h-4.4zM44.8 202.6l2.2 3.9h-4.4zM45.3 197.9l2.2 3.9h-4.4zM44.1 200.9l2.2 3.9h-4.4zM44.1 201.9l2.2 3.9h-4.4zM44.6 200.7l2.2 3.9h-4.4zM39.5 204l2.2 3.9h-4.4zM42.6 198.3l2.2 3.9h-4.4zM47.7 196.5l2.2 3.9h-4.4zM38.6 205.5l2.2 3.9h-4.4zM38.2 206l2.2 3.9h-4.4zM47.8 197.1l2.2 3.9h-4.4zM39.1 204.8l2.2 3.9h-4.4zM41.7 203.6l2.2 3.9h-4.4zM41.7 202.6l2.2 3.9h-4.4zM42.6 201.8l2.2 3.9h-4.4zM43.6 200.6l2.2 3.9h-4.4zM45.3 203.5l2.2 3.9h-4.4zM42.8 201.6l2.2 3.9h-4.4zM41.4 203.3l2.2 3.9h-4.4zM40.1 206.4l2.2 3.9h-4.4zM37.5 206.2l2.2 3.9h-4.4zM40.8 203.9l2.2 3.9h-4.4zM47.4 199.8l2.2 3.9h-4.4zM41.3 203.5l2.2 3.9h-4.4zM47.2 198.6l2.2 3.9h-4.4zM38.1 203.2l2.2 3.9h-4.4zM46.1 200.6l2.2 3.9h-4.4zM42.8 200.7l2.2 3.9h-4.4zM46.3 197.4l2.2 3.9h-4.4zM47.9 199.8l2.2 3.9h-4.4zM41.8 202.7l2.2 3.9h-4.4zM46.3 196.9l2.2 3.9h-4.4zM41.2 203.7l2.2 3.9h-4.4zM41.8 204l2.2 3.9h-4.4zM47.2 198.2l2.2 3.9h-4.4zM42.5 202.1l2.2 3.9h-4.4zM38.3 206.3l2.2 3.9h-4.4zM40.3 202.8l2.2 3.9h-4.4zM40 202.7l2.2 3.9h-4.4zM43.4 202.3l2.2 3.9h-4.4zM45.5 201.1l2.2 3.9h-4.4zM41.9 201.6l2.2 3.9h-4.4zM47.2 195.5l2.2 3.9h-4.4zM38 205l2.2 3.9h-4.4zM43.9 199.9l2.2 3.9h-4.4zM39.2 205.5l2.2 3.9h-4.4zM42.8 201.8l2.2 3.9h-4.4zM45.7 200.1l2.2 3.9h-4.4zM42.3 204.1l2.2 3.9h-4.4zM38.5 206.2l2.2 3.9h-4.4zM50.6 194.8l2.2 3.9h-4.4zM51.2 200.3l2.2 3.9h-4.4zM49.7 195.3l2.2 3.9h-4.4zM54.9 193l2.2 3.9h-4.4zM57.9 189.1l2.2 3.9h-4.4zM54.3 191.9l2.2 3.9h-4.4zM55.6 192.7l2.2 3.9h-4.4zM53.8 191l2.2 3.9h-4.4zM57.1 192.3l2.2 3.9h-4.4zM50.6 196l2.2 3.9h-4.4zM50.9 195l2.2 3.9h-4.4zM53.7 194.1l2.2 3.9h-4.4zM53.1 191.5l2.2 3.9h-4.4zM53.6 196.4l2.2 3.9h-4.4zM52.9 195.4l2.2 3.9h-4.4zM58.2 190.7l2.2 3.9h-4.4zM52.5 192.1l2.2 3.9h-4.4zM57.3 193.5l2.2 3.9h-4.4zM49.5 197.2l2.2 3.9h-4.4zM49.5 196.9l2.2 3.9h-4.4zM58.2 194.4l2.2 3.9h-4.4zM53 197.3l2.2 3.9h-4.4zM53.4 189.9l2.2 3.9h-4.4zM48.8 198.1l2.2 3.9h-4.4zM53.4 197.3l2.2 3.9h-4.4zM56.3 192.1l2.2 3.9h-4.4zM49.3 198.7l2.2 3.9h-4.4zM57.2 190.3l2.2 3.9h-4.4zM48.5 194.2l2.2 3.9h-4.4zM51.3 196.9l2.2 3.9h-4.4zM52.7 192.2l2.2 3.9h-4.4zM55.2 191.7l2.2 3.9h-4.4zM51.6 193.5l2.2 3.9h-4.4zM53.5 191.8l2.2 3.9h-4.4zM51.2 195.3l2.2 3.9h-4.4zM48.1 195.2l2.2 3.9h-4.4zM54.4 192.1l2.2 3.9h-4.4zM58.7 188.4l2.2 3.9h-4.4zM50.7 195.5l2.2 3.9h-4.4zM56 190.6l2.2 3.9h-4.4zM50.5 196.4l2.2 3.9h-4.4zM53.8 194.9l2.2 3.9h-4.4zM54.9 188.1l2.2 3.9h-4.4zM54.3 197.6l2.2 3.9h-4.4zM48.2 199l2.2 3.9h-4.4zM62.2 186.5l2.2 3.9h-4.4zM60.3 191.7l2.2 3.9h-4.4zM68.3 174.7l2.2 3.9h-4.4zM68.3 181.9l2.2 3.9h-4.4zM64.3 190.5l2.2 3.9h-4.4zM65.3 186.9l2.2 3.9h-4.4zM63.9 185.3l2.2 3.9h-4.4zM62.1 189.9l2.2 3.9h-4.4zM69.4 178.5l2.2 3.9h-4.4zM63.4 184.7l2.2 3.9h-4.4zM61.9 191.7l2.2 3.9h-4.4zM61.6 186.8l2.2 3.9h-4.4zM64.7 190.6l2.2 3.9h-4.4zM64.9 182.5l2.2 3.9h-4.4zM62.8 186.8l2.2 3.9h-4.4zM61.7 181.8l2.2 3.9h-4.4zM62.8 187.7l2.2 3.9h-4.4zM68.6 183.2l2.2 3.9h-4.4zM61.8 188.3l2.2 3.9h-4.4zM62.1 183.2l2.2 3.9h-4.4zM59.3 183.6l2.2 3.9h-4.4zM61.7 189.8l2.2 3.9h-4.4zM62.7 187l2.2 3.9h-4.4zM65.8 181l2.2 3.9h-4.4zM61.6 191.9l2.2 3.9h-4.4zM64 187.7l2.2 3.9h-4.4zM68.8 187.9l2.2 3.9h-4.4zM65.1 181l2.2 3.9h-4.4zM67.2 187l2.2 3.9h-4.4zM61.7 187.7l2.2 3.9h-4.4zM58.9 187.7l2.2 3.9h-4.4zM69.3 185.6l2.2 3.9h-4.4zM60 187.6l2.2 3.9h-4.4zM68.3 183l2.2 3.9h-4.4zM60.4 188.6l2.2 3.9h-4.4zM59.2 192.6l2.2 3.9h-4.4zM60.9 188.3l2.2 3.9h-4.4zM63.1 186.4l2.2 3.9h-4.4zM68.6 182.2l2.2 3.9h-4.4zM69 182.1l2.2 3.9h-4.4zM65.9 185.4l2.2 3.9h-4.4zM61.5 187.9l2.2 3.9h-4.4zM71 177.8l2.2 3.9h-4.4zM71.3 181.3l2.2 3.9h-4.4zM73.4 182.1l2.2 3.9h-4.4zM78.5 170.5l2.2 3.9h-4.4zM75.5 172.3l2.2 3.9h-4.4zM73.3 174.2l2.2 3.9h-4.4zM70.3 176.7l2.2 3.9h-4.4zM71 180.8l2.2 3.9h-4.4zM74.7 177.3l2.2 3.9h-4.4zM78.7 172.9l2.2 3.9h-4.4zM77.7 178.4l2.2 3.9h-4.4zM72.9 176.8l2.2 3.9h-4.4zM74.3 178.6l2.2 3.9h-4.4zM70.5 175.2l2.2 3.9h-4.4zM71.9 184.8l2.2 3.9h-4.4zM79.1 171.4l2.2 3.9h-4.4zM80.2 172l2.2 3.9h-4.4zM72.3 181.7l2.2 3.9h-4.4zM73.5 172.3l2.2 3.9h-4.4zM77.4 172.3l2.2 3.9h-4.4zM72.3 181.2l2.2 3.9h-4.4zM72.6 176.3l2.2 3.9h-4.4zM79.5 179.9l2.2 3.9h-4.4zM74.5 174.8l2.2 3.9h-4.4zM75.4 177.9l2.2 3.9h-4.4zM73.7 182.4l2.2 3.9h-4.4zM70.6 181.4l2.2 3.9h-4.4zM74.7 182.1l2.2 3.9h-4.4zM70.1 179.1l2.2 3.9h-4.4zM77.6 177.7l2.2 3.9h-4.4zM75 178.8l2.2 3.9h-4.4zM75.3 177l2.2 3.9h-4.4zM82.2 171.7l2.2 3.9h-4.4zM89.7 166.8l2.2 3.9h-4.4zM84.3 172.6l2.2 3.9h-4.4zM82.1 173.2l2.2 3.9h-4.4zM90 167.1l2.2 3.9h-4.4zM87.8 172.4l2.2 3.9h-4.4zM82.1 171.7l2.2 3.9h-4.4zM86 169.6l2.2 3.9h-4.4zM90.3 165.7l2.2 3.9h-4.4zM85.5 168.4l2.2 3.9h-4.4zM85.4 166.9l2.2 3.9h-4.4zM89.3 165.5l2.2 3.9h-4.4zM82.4 166.1l2.2 3.9h-4.4zM84.8 172.4l2.2 3.9h-4.4zM84.4 164l2.2 3.9h-4.4zM89.6 170.4l2.2 3.9h-4.4zM81.7 169.9l2.2 3.9h-4.4zM84.2 161.3l2.2 3.9h-4.4zM87.5 166.5l2.2 3.9h-4.4zM87.6 169.2l2.2 3.9h-4.4zM80.9 174.8l2.2 3.9h-4.4zM88.7 162.2l2.2 3.9h-4.4zM82.2 173.8l2.2 3.9h-4.4zM82.6 169.7l2.2 3.9h-4.4zM80.5 171.5l2.2 3.9h-4.4zM83.5 169l2.2 3.9h-4.4zM90.5 174l2.2 3.9h-4.4zM83.1 167.3l2.2 3.9h-4.4zM87.3 168.8l2.2 3.9h-4.4zM88.2 171l2.2 3.9h-4.4zM90.6 164.5l2.2 3.9h-4.4zM90.3 169.5l2.2 3.9h-4.4zM90.7 163.1l2.2 3.9h-4.4zM86 169.9l2.2 3.9h-4.4zM86.3 167.7l2.2 3.9h-4.4zM88 169.2l2.2 3.9h-4.4zM84.8 162.3l2.2 3.9h-4.4zM88.2 172.4l2.2 3.9h-4.4zM81.3 173.3l2.2 3.9h-4.4zM95.2 161.1l2.2 3.9h-4.4zM95.6 151.8l2.2 3.9h-4.4zM97.2 155.6l2.2 3.9h-4.4zM96 163.4l2.2 3.9h-4.4zM99.2 159.1l2.2 3.9h-4.4zM98 158.8l2.2 3.9h-4.4zM96.8 164.3l2.2 3.9h-4.4zM95.1 173l2.2 3.9h-4.4zM98.5 156.6l2.2 3.9h-4.4zM100.1 162.1l2.2 3.9h-4.4zM94.4 163l2.2 3.9h-4.4zM97.8 157.8l2.2 3.9h-4.4zM91.8 169.7l2.2 3.9h-4.4zM92.1 163.4l2.2 3.9h-4.4zM92.8 161.8l2.2 3.9h-4.4zM95.1 161.9l2.2 3.9h-4.4zM96.6 164.9l2.2 3.9h-4.4zM96.4 163.5l2.2 3.9h-4.4zM98 161.1l2.2 3.9h-4.4zM96.5 162.7l2.2 3.9h-4.4zM101.7 162.8l2.2 3.9h-4.4zM99.9 158.1l2.2 3.9h-4.4zM93.3 165.5l2.2 3.9h-4.4zM95.9 161.8l2.2 3.9h-4.4zM94.1 164.6l2.2 3.9h-4.4zM93.2 164.2l2.2 3.9h-4.4zM95.3 157l2.2 3.9h-4.4zM98.6 158.6l2.2 3.9h-4.4zM93 159.6l2.2 3.9h-4.4zM99.6 160.1l2.2 3.9h-4.4zM108.2 151.9l2.2 3.9h-4.4zM105.9 157l2.2 3.9h-4.4zM102.3 155.8l2.2 3.9h-4.4zM103.1 155.4l2.2 3.9h-4.4zM103.5 154.7l2.2 3.9h-4.4zM109 152.7l2.2 3.9h-4.4zM107.9 151l2.2 3.9h-4.4zM103.4 157.6l2.2 3.9h-4.4zM109.1 153.2l2.2 3.9h-4.4zM103 152.1l2.2 3.9h-4.4zM102.2 159.6l2.2 3.9h-4.4zM108.8 151.9l2.2 3.9h-4.4zM107.6 153.1l2.2 3.9h-4.4zM104 156.9l2.2 3.9h-4.4zM110.1 151.8l2.2 3.9h-4.4zM109.3 152l2.2 3.9h-4.4zM102.6 157.1l2.2 3.9h-4.4zM111.1 146.5l2.2 3.9h-4.4zM103.1 158.4l2.2 3.9h-4.4zM102.1 156.6l2.2 3.9h-4.4zM107.3 149.7l2.2 3.9h-4.4zM112.4 150.2l2.2 3.9h-4.4zM111.8 151.7l2.2 3.9h-4.4zM107.3 155.6l2.2 3.9h-4.4zM114.6 148.6l2.2 3.9h-4.4zM119.5 141.8l2.2 3.9h-4.4zM120.7 143.3l2.2 3.9h-4.4zM116.6 146.6l2.2 3.9h-4.4zM123.4 134.8l2.2 3.9h-4.4zM120.5 142.7l2.2 3.9h-4.4zM117.7 149.4l2.2 3.9h-4.4zM119.8 142.6l2.2 3.9h-4.4zM118.4 144.5l2.2 3.9h-4.4zM122 141.2l2.2 3.9h-4.4zM114.5 145.8l2.2 3.9h-4.4zM118 144.1l2.2 3.9h-4.4zM117.8 144.5l2.2 3.9h-4.4zM114.6 152.8l2.2 3.9h-4.4zM123 143.3l2.2 3.9h-4.4zM113.7 148.6l2.2 3.9h-4.4zM113.6 146.7l2.2 3.9h-4.4zM119.8 143l2.2 3.9h-4.4zM118.7 138.4l2.2 3.9h-4.4zM115.4 147.6l2.2 3.9h-4.4zM113.9 150.7l2.2 3.9h-4.4zM113 148.7l2.2 3.9h-4.4zM115 148.5l2.2 3.9h-4.4zM123.2 143.3l2.2 3.9h-4.4zM113.2 147.4l2.2 3.9h-4.4zM124.3 143.3l2.2 3.9h-4.4zM128.2 132l2.2 3.9h-4.4zM127.1 137.5l2.2 3.9h-4.4zM131 134.1l2.2 3.9h-4.4zM126 138.4l2.2 3.9h-4.4zM126.4 140.3l2.2 3.9h-4.4zM134 130.2l2.2 3.9h-4.4zM131.7 131.9l2.2 3.9h-4.4zM126.6 139.8l2.2 3.9h-4.4zM134.1 132.9l2.2 3.9h-4.4zM125.5 136.7l2.2 3.9h-4.4zM123.7 141.4l2.2 3.9h-4.4zM125.8 138.4l2.2 3.9h-4.4zM130.7 135.8l2.2 3.9h-4.4zM123.8 141.5l2.2 3.9h-4.4zM132.1 133.1l2.2 3.9h-4.4zM130.3 137.5l2.2 3.9h-4.4zM132.4 135.1l2.2 3.9h-4.4zM130.5 132.5l2.2 3.9h-4.4zM131.2 135.7l2.2 3.9h-4.4zM123.7 140.4l2.2 3.9h-4.4zM129.9 136l2.2 3.9h-4.4zM128.3 136.4l2.2 3.9h-4.4zM127.4 138l2.2 3.9h-4.4zM126.4 133.8l2.2 3.9h-4.4zM136.4 131.4l2.2 3.9h-4.4zM136.1 133.1l2.2 3.9h-4.4zM142.8 126.6l2.2 3.9h-4.4zM143 126.9l2.2 3.9h-4.4zM135.6 132.5l2.2 3.9h-4.4zM144.6 126.6l2.2 3.9h-4.4zM143.7 128.3l2.2 3.9h-4.4zM136.5 132.5l2.2 3.9h-4.4zM141.8 128.8l2.2 3.9h-4.4zM141.2 129.8l2.2 3.9h-4.4zM144.5 124.5l2.2 3.9h-4.4zM142.7 124.3l2.2 3.9h-4.4zM135.2 129.9l2.2 3.9h-4.4zM143.9 126.4l2.2 3.9h-4.4zM144.8 127.3l2.2 3.9h-4.4zM138.3 130.4l2.2 3.9h-4.4zM138.2 126.3l2.2 3.9h-4.4zM143.3 125.2l2.2 3.9h-4.4zM145 122.8l2.2 3.9h-4.4zM140.3 128.8l2.2 3.9h-4.4zM138.4 131.5l2.2 3.9h-4.4zM141 127.8l2.2 3.9h-4.4zM142.5 127.3l2.2 3.9h-4.4zM143.7 126.4l2.2 3.9h-4.4zM136.6 130.6l2.2 3.9h-4.4zM144.9 124.8l2.2 3.9h-4.4zM140.3 128.4l2.2 3.9h-4.4zM140.3 128l2.2 3.9h-4.4zM144.7 125.9l2.2 3.9h-4.4zM150.1 121l2.2 3.9h-4.4zM148.1 121.6l2.2 3.9h-4.4zM147.9 122.3l2.2 3.9h-4.4zM154.9 117.1l2.2 3.9h-4.4zM150 121l2.2 3.9h-4.4zM153.5 118.6l2.2 3.9h-4.4zM148.2 125l2.2 3.9h-4.4zM151.2 119.6l2.2 3.9h-4.4zM145.8 124.6l2.2 3.9h-4.4zM149.6 119.7l2.2 3.9h-4.4zM146.5 119.2l2.2 3.9h-4.4zM155.5 116.3l2.2 3.9h-4.4zM147.2 124.6l2.2 3.9h-4.4zM153.7 118.4l2.2 3.9h-4.4zM148.4 122l2.2 3.9h-4.4zM150.2 117.3l2.2 3.9h-4.4zM150.4 122.1l2.2 3.9h-4.4zM148.4 120.9l2.2 3.9h-4.4zM145.3 123.3l2.2 3.9h-4.4zM150.8 119.4l2.2 3.9h-4.4zM154.5 119.1l2.2 3.9h-4.4zM154.2 117.6l2.2 3.9h-4.4zM149.2 119.6l2.2 3.9h-4.4zM155.1 119.9l2.2 3.9h-4.4zM154.1 119.8l2.2 3.9h-4.4zM153.8 118.9l2.2 3.9h-4.4zM155.3 118.6l2.2 3.9h-4.4zM160.5 111.9l2.2 3.9h-4.4zM165.1 110.9l2.2 3.9h-4.4zM163 110.4l2.2 3.9h-4.4zM162.6 111.9l2.2 3.9h-4.4zM161 113.1l2.2 3.9h-4.4zM163.7 110.4l2.2 3.9h-4.4zM166.3 105.3l2.2 3.9h-4.4zM164.7 109.8l2.2 3.9h-4.4zM161.6 111.5l2.2 3.9h-4.4zM159.6 113.7l2.2 3.9h-4.4zM156.2 117l2.2 3.9h-4.4zM161.2 111.9l2.2 3.9h-4.4zM156 117.7l2.2 3.9h-4.4zM165.9 109.4l2.2 3.9h-4.4zM166 109.4l2.2 3.9h-4.4zM166.4 109.6l2.2 3.9h-4.4zM161.4 111.9l2.2 3.9h-4.4zM161.6 112.3l2.2 3.9h-4.4zM158.4 114l2.2 3.9h-4.4zM160.9 113.2l2.2 3.9h-4.4zM163.8 109.7l2.2 3.9h-4.4zM158.4 115.4l2.2 3.9h-4.4zM156.9 115.8l2.2 3.9h-4.4zM158.5 114.2l2.2 3.9h-4.4zM161.9 114l2.2 3.9h-4.4zM163.9 110l2.2 3.9h-4.4zM163.8 111.1l2.2 3.9h-4.4zM157.1 115.2l2.2 3.9h-4.4zM158.4 114.3l2.2 3.9h-4.4zM164.3 113l2.2 3.9h-4.4zM162.2 113.8l2.2 3.9h-4.4zM171.6 109.4l2.2 3.9h-4.4zM168.8 106.3l2.2 3.9h-4.4zM172.9 104.6l2.2 3.9h-4.4zM172 103.2l2.2 3.9h-4.4zM167.2 111.7l2.2 3.9h-4.4zM170.8 106.9l2.2 3.9h-4.4zM166.9 109.4l2.2 3.9h-4.4zM172.2 105.7l2.2 3.9h-4.4zM172.7 105.3l2.2 3.9h-4.4zM177.3 101.3l2.2 3.9h-4.4zM166.9 109.5l2.2 3.9h-4.4zM171.3 104.1l2.2 3.9h-4.4zM176.8 101.6l2.2 3.9h-4.4zM173 102l2.2 3.9h-4.4zM175.4 99.8l2.2 3.9h-4.4zM174.1 104.4l2.2 3.9h-4.4zM174.2 102.9l2.2 3.9h-4.4zM169.7 107.4l2.2 3.9h-4.4zM173.8 104.3l2.2 3.9h-4.4zM172.5 106.6l2.2 3.9h-4.4zM172.5 103.3l2.2 3.9h-4.4zM173.4 100.5l2.2 3.9h-4.4zM172.7 102l2.2 3.9h-4.4zM174.4 101.6l2.2 3.9h-4.4zM177.1 102.4l2.2 3.9h-4.4zM171.4 106.2l2.2 3.9h-4.4zM170.3 107.7l2.2 3.9h-4.4zM172.2 105.1l2.2 3.9h-4.4zM175.7 102.3l2.2 3.9h-4.4zM166.6 109.9l2.2 3.9h-4.4zM167.5 106.4l2.2 3.9h-4.4zM174.8 101.8l2.2 3.9h-4.4zM176.1 103l2.2 3.9h-4.4zM168.1 107.6l2.2 3.9h-4.4zM168 108.4l2.2 3.9h-4.4zM177.2 98.3l2.2 3.9h-4.4zM180 101.2l2.2 3.9h-4.4zM188.2 94l2.2 3.9h-4.4zM180.1 98.6l2.2 3.9h-4.4zM187.9 92.9l2.2 3.9h-4.4zM179.9 99.7l2.2 3.9h-4.4zM181.7 94.8l2.2 3.9h-4.4zM187 92.3l2.2 3.9h-4.4zM178.8 97.4l2.2 3.9h-4.4zM182.2 94.7l2.2 3.9h-4.4zM178 100.9l2.2 3.9h-4.4zM184.4 95.3l2.2 3.9h-4.4zM180.8 99.1l2.2 3.9h-4.4zM186.2 96.3l2.2 3.9h-4.4zM187.9 93.9l2.2 3.9h-4.4zM182.2 96.3l2.2 3.9h-4.4zM179.5 99.2l2.2 3.9h-4.4zM177.7 101.6l2.2 3.9h-4.4zM181.6 98l2.2 3.9h-4.4zM184.6 95.7l2.2 3.9h-4.4zM184.9 94.3l2.2 3.9h-4.4zM183.4 99l2.2 3.9h-4.4zM187.2 93.9l2.2 3.9h-4.4zM180.6 96.5l2.2 3.9h-4.4zM182.7 96.1l2.2 3.9h-4.4zM179.2 99.1l2.2 3.9h-4.4zM180.5 98.3l2.2 3.9h-4.4zM180.2 100.5l2.2 3.9h-4.4zM183.8 94.8l2.2 3.9h-4.4zM187.5 93.9l2.2 3.9h-4.4zM178.2 102l2.2 3.9h-4.4zM183.1 96.6l2.2 3.9h-4.4zM187.6 94.9l2.2 3.9h-4.4zM182.5 94.4l2.2 3.9h-4.4zM193 90.2l2.2 3.9h-4.4zM196.1 89.1l2.2 3.9h-4.4zM194.3 87.4l2.2 3.9h-4.4zM190.5 91l2.2 3.9h-4.4zM188.5 87.8l2.2 3.9h-4.4zM190.4 91.6l2.2 3.9h-4.4zM189.4 93l2.2 3.9h-4.4zM196.2 87.1l2.2 3.9h-4.4zM188.5 94.5l2.2 3.9h-4.4zM197.6 89l2.2 3.9h-4.4zM198.7 81.6l2.2 3.9h-4.4zM197.3 83.7l2.2 3.9h-4.4zM190.4 93.1l2.2 3.9h-4.4zM197 85.5l2.2 3.9h-4.4zM190 91.7l2.2 3.9h-4.4zM190.1 90.5l2.2 3.9h-4.4zM192.5 92.3l2.2 3.9h-4.4zM195.7 88l2.2 3.9h-4.4zM190.8 91.7l2.2 3.9h-4.4zM194.8 87.2l2.2 3.9h-4.4zM194.7 85.1l2.2 3.9h-4.4zM193.9 86.4l2.2 3.9h-4.4zM195.3 87.1l2.2 3.9h-4.4zM198.7 83l2.2 3.9h-4.4zM192.7 86.6l2.2 3.9h-4.4zM198.4 84.5l2.2 3.9h-4.4zM195.5 87l2.2 3.9h-4.4zM194.9 88.2l2.2 3.9h-4.4zM190.4 91.3l2.2 3.9h-4.4zM190.7 93.5l2.2 3.9h-4.4zM198.3 88.8l2.2 3.9h-4.4zM195.9 84.3l2.2 3.9h-4.4zM193.9 86.5l2.2 3.9h-4.4zM199.3 81.8l2.2 3.9h-4.4zM199.9 82.6l2.2 3.9h-4.4zM207.3 77.5l2.2 3.9h-4.4zM202.2 84.8l2.2 3.9h-4.4zM204.8 81.6l2.2 3.9h-4.4zM203.1 82.5l2.2 3.9h-4.4zM206 76.7l2.2 3.9h-4.4zM200.2 84.9l2.2 3.9h-4.4zM204.3 79.6l2.2 3.9h-4.4zM199.1 85l2.2 3.9h-4.4zM209.5 77.9l2.2 3.9h-4.4zM203.1 82.4l2.2 3.9h-4.4zM206.4 80.2l2.2 3.9h-4.4zM203.8 79.5l2.2 3.9h-4.4zM204.6 80l2.2 3.9h-4.4zM207.3 78.4l2.2 3.9h-4.4zM204.3 78.6l2.2 3.9h-4.4zM206.4 77.9l2.2 3.9h-4.4zM204.8 79.5l2.2 3.9h-4.4zM209.1 75.9l2.2 3.9h-4.4zM204.8 78.8l2.2 3.9h-4.4zM203.3 83.6l2.2 3.9h-4.4zM202.5 80.7l2.2 3.9h-4.4zM203 81.8l2.2 3.9h-4.4zM202.3 81.1l2.2 3.9h-4.4zM203.8 80.8l2.2 3.9h-4.4zM207.5 77.7l2.2 3.9h-4.4zM209.7 78.5l2.2 3.9h-4.4zM204 79.7l2.2 3.9h-4.4zM209.7 76.3l2.2 3.9h-4.4zM202.7 81.8l2.2 3.9h-4.4zM205.5 80.1l2.2 3.9h-4.4zM202 81.9l2.2 3.9h-4.4zM199 83l2.2 3.9h-4.4zM202.3 80.7l2.2 3.9h-4.4zM199.9 82.9l2.2 3.9h-4.4zM201.8 79.7l2.2 3.9h-4.4zM201 80.6l2.2 3.9h-4.4zM203 80l2.2 3.9h-4.4zM205.2 81.7l2.2 3.9h-4.4zM208.7 77.2l2.2 3.9h-4.4zM200.7 80.1l2.2 3.9h-4.4zM202.1 82.2l2.2 3.9h-4.4zM201.7 78.2l2.2 3.9h-4.4zM211 77.4l2.2 3.9h-4.4zM216.9 70.5l2.2 3.9h-4.4zM211.8 74.9l2.2 3.9h-4.4zM214.7 75.4l2.2 3.9h-4.4zM212.5 76.3l2.2 3.9h-4.4zM213.7 75.7l2.2 3.9h-4.4zM217.4 70.6l2.2 3.9h-4.4zM218.2 71.3l2.2 3.9h-4.4zM215.3 75.1l2.2 3.9h-4.4zM210.1 74.3l2.2 3.9h-4.4zM215.6 73l2.2 3.9h-4.4zM217.5 72.8l2.2 3.9h-4.4zM211.4 75.3l2.2 3.9h-4.4zM215.2 72.2l2.2 3.9h-4.4zM214.8 73l2.2 3.9h-4.4zM215.7 72.3l2.2 3.9h-4.4zM216.8 69.2l2.2 3.9h-4.4zM219.8 70.1l2.2 3.9h-4.4zM216 73.1l2.2 3.9h-4.4zM219 69.8l2.2 3.9h-4.4zM220.4 70.3l2.2 3.9h-4.4zM213.1 73.1l2.2 3.9h-4.4zM210.4 73.4l2.2 3.9h-4.4zM219 67.7l2.2 3.9h-4.4zM217.9 70.9l2.2 3.9h-4.4zM217.8 70.7l2.2 3.9h-4.4zM212 72.7l2.2 3.9h-4.4zM217.3 68.2l2.2 3.9h-4.4zM216.4 70l2.2 3.9h-4.4zM212.7 67.6l2.2 3.9h-4.4zM210.7 74.7l2.2 3.9h-4.4zM214.5 70l2.2 3.9h-4.4zM218.6 69.8l2.2 3.9h-4.4zM213 73.9l2.2 3.9h-4.4zM215.1 72.4l2.2 3.9h-4.4zM219.3 69.2l2.2 3.9h-4.4zM217.6 72.7l2.2 3.9h-4.4zM212.1 76.2l2.2 3.9h-4.4zM215.3 71.2l2.2 3.9h-4.4zM216.6 71.6l2.2 3.9h-4.4zM213.6 72l2.2 3.9h-4.4zM214.8 72.8l2.2 3.9h-4.4zM218.9 69.1l2.2 3.9h-4.4zM212.3 76.8l2.2 3.9h-4.4zM213.6 74.5l2.2 3.9h-4.4zM228.6 61.7l2.2 3.9h-4.4zM228.7 62.1l2.2 3.9h-4.4zM229 62.3l2.2 3.9h-4.4zM229.1 60.8l2.2 3.9h-4.4zM226.8 62.6l2.2 3.9h-4.4zM228.8 63.2l2.2 3.9h-4.4zM230.2 60.2l2.2 3.9h-4.4zM230.1 62.3l2.2 3.9h-4.4zM225.5 63.2l2.2 3.9h-4.4zM224.5 67.2l2.2 3.9h-4.4zM230.2 59.8l2.2 3.9h-4.4zM230.4 59.7l2.2 3.9h-4.4zM230.8 60.6l2.2 3.9h-4.4zM224.5 64.3l2.2 3.9h-4.4zM226.9 64.6l2.2 3.9h-4.4zM230.2 62.2l2.2 3.9h-4.4zM224.2 66.1l2.2 3.9h-4.4zM227.5 61.8l2.2 3.9h-4.4zM221 67l2.2 3.9h-4.4zM222.8 66.5l2.2 3.9h-4.4zM225.3 64l2.2 3.9h-4.4zM223.3 64.3l2.2 3.9h-4.4zM225 63.7l2.2 3.9h-4.4zM228.9 62.2l2.2 3.9h-4.4zM222.5 66.9l2.2 3.9h-4.4zM225.9 64.8l2.2 3.9h-4.4zM222.2 67.5l2.2 3.9h-4.4zM227.3 62.7l2.2 3.9h-4.4zM225.4 65.5l2.2 3.9h-4.4zM229.7 60.8l2.2 3.9h-4.4zM223.4 66.3l2.2 3.9h-4.4zM226.6 65.8l2.2 3.9h-4.4zM223.3 65.9l2.2 3.9h-4.4zM227.8 63l2.2 3.9h-4.4zM225.6 63.5l2.2 3.9h-4.4zM226.1 64l2.2 3.9h-4.4zM230.1 59.4l2.2 3.9h-4.4zM224.3 67.8l2.2 3.9h-4.4zM224.7 66l2.2 3.9h-4.4zM229.5 63.3l2.2 3.9h-4.4zM226 65l2.2 3.9h-4.4zM227 64.5l2.2 3.9h-4.4zM229.2 63.5l2.2 3.9h-4.4zM221.9 68.3l2.2 3.9h-4.4zM230.2 62.4l2.2 3.9h-4.4zM238.5 54.7l2.2 3.9h-4.4zM231.7 61.9l2.2 3.9h-4.4zM237.8 56.5l2.2 3.9h-4.4zM235.9 56.5l2.2 3.9h-4.4zM232 58.7l2.2 3.9h-4.4zM241.3 52.6l2.2 3.9h-4.4zM239.7 54.4l2.2 3.9h-4.4zM239 56.2l2.2 3.9h-4.4zM237.1 56.7l2.2 3.9h-4.4zM237.7 55.4l2.2 3.9h-4.4zM238.3 55.1l2.2 3.9h-4.4zM239.8 54.2l2.2 3.9h-4.4zM239.3 53.5l2.2 3.9h-4.4zM238.7 54.8l2.2 3.9h-4.4zM240.2 53.2l2.2 3.9h-4.4zM240.4 53.2l2.2 3.9h-4.4zM233.2 58.9l2.2 3.9h-4.4zM241.9 52.9l2.2 3.9h-4.4zM242 52.3l2.2 3.9h-4.4zM234.4 58.2l2.2 3.9h-4.4zM232.9 58.6l2.2 3.9h-4.4zM242 52.9l2.2 3.9h-4.4zM235.3 57.7l2.2 3.9h-4.4zM241.6 52.3l2.2 3.9h-4.4zM241.8 52.3l2.2 3.9h-4.4zM237.3 54.4l2.2 3.9h-4.4zM234.3 59l2.2 3.9h-4.4zM234.6 58l2.2 3.9h-4.4zM235.6 57.4l2.2 3.9h-4.4zM237.3 56.3l2.2 3.9h-4.4zM238.9 54.9l2.2 3.9h-4.4zM239.6 55l2.2 3.9h-4.4zM240 54.2l2.2 3.9h-4.4zM241.9 52.4l2.2 3.9h-4.4zM239.7 54.9l2.2 3.9h-4.4zM236.2 57l2.2 3.9h-4.4zM232.4 58.9l2.2 3.9h-4.4zM235.3 57.8l2.2 3.9h-4.4zM239.9 54.8l2.2 3.9h-4.4zM240.9 53.6l2.2 3.9h-4.4zM238.4 54.9l2.2 3.9h-4.4zM239.6 54.5l2.2 3.9h-4.4zM233.4 58.6l2.2 3.9h-4.4zM240.6 53l2.2 3.9h-4.4zM239.6 53.6l2.2 3.9h-4.4zM234.9 56.6l2.2 3.9h-4.4zM233.6 57.2l2.2 3.9h-4.4zM233.1 60l2.2 3.9h-4.4zM232.8 57.6l2.2 3.9h-4.4zM237 56.5l2.2 3.9h-4.4zM239 55.1l2.2 3.9h-4.4zM239 55.4l2.2 3.9h-4.4zM233.2 56.4l2.2 3.9h-4.4zM234 58.5l2.2 3.9h-4.4zM237.3 54.9l2.2 3.9h-4.4zM237.1 56.1l2.2 3.9h-4.4zM231.7 59.8l2.2 3.9h-4.4zM240.4 53.2l2.2 3.9h-4.4zM231.5 62.3l2.2 3.9h-4.4zM239.2 53.7l2.2 3.9h-4.4zM233.2 59l2.2 3.9h-4.4zM240.3 53.7l2.2 3.9h-4.4zM240.7 53.4l2.2 3.9h-4.4zM241.2 52.4l2.2 3.9h-4.4zM241.8 52.3l2.2 3.9h-4.4zM241.2 53.1l2.2 3.9h-4.4zM239.6 54.5l2.2 3.9h-4.4zM238.4 54.8l2.2 3.9h-4.4zM236 56.9l2.2 3.9h-4.4zM233.8 56.7l2.2 3.9h-4.4zM241 53.2l2.2 3.9h-4.4zM241.6 52.4l2.2 3.9h-4.4zM232 58.7l2.2 3.9h-4.4zM72.4 166.2l2.2 3.9h-4.4zM87.9 154.7l2.2 3.9h-4.4zM94.4 154.4l2.2 3.9h-4.4zM83.2 163.1l2.2 3.9h-4.4zM208.7 65l2.2 3.9h-4.4zM227 55.8l2.2 3.9h-4.4zM222 74.8l2.2 3.9h-4.4zM198.5 90.8l2.2 3.9h-4.4z" fill="#1C6EDF"/>
<line x1="26.5" y1="215.85" x2="242.1" y2="54.45" stroke="#14BE40" stroke-width="1.45"/>
</g>
<path d="M25.9 216H242.2" stroke="#111" stroke-width="1" fill="none"/>
<path d="M26.35 54.15V216.5M26.35 215.75h-3.3M26.5 215.7v3.2M26.35 199.61h-1.8M48.06 215.7v1.6M26.35 183.47h-3.3M69.62 215.7v3.2M26.35 167.33h-1.8M91.18 215.7v1.6M26.35 151.19h-3.3M112.74 215.7v3.2M26.35 135.05h-1.8M134.3 215.7v1.6M26.35 118.91h-3.3M155.86 215.7v3.2M26.35 102.77h-1.8M177.42 215.7v1.6M26.35 86.63h-3.3M198.98 215.7v3.2M26.35 70.49h-1.8M220.54 215.7v1.6M26.35 54.35h-3.3M242.1 215.7v3.2" stroke="#111" stroke-width="0.85" fill="none"/>
<g font-size="7.3" fill="#111">
<text x="20.9" y="218.05" text-anchor="end">0</text>
<text x="26.5" y="226.1" text-anchor="middle">0</text>
<text x="20.9" y="185.77" text-anchor="end">20</text>
<text x="69.62" y="226.1" text-anchor="middle">20</text>
<text x="20.9" y="153.49" text-anchor="end">40</text>
<text x="112.74" y="226.1" text-anchor="middle">40</text>
<text x="20.9" y="121.21" text-anchor="end">60</text>
<text x="155.86" y="226.1" text-anchor="middle">60</text>
<text x="20.9" y="88.93" text-anchor="end">80</text>
<text x="198.98" y="226.1" text-anchor="middle">80</text>
<text x="20.9" y="56.65" text-anchor="end">100</text>
<text x="242.1" y="226.1" text-anchor="middle">100</text>
</g>
<text x="134.5" y="240" font-size="8" text-anchor="middle" fill="#111">Exp. crude oil residue (wt.%)</text>
<text transform="translate(7.3,134.8) rotate(-90)" font-size="8" text-anchor="middle" fill="#111">Pred. crude oil residue (wt.%)</text>
<text x="44.6" y="72.8" font-size="7.2" fill="#111">CatBoost</text>
<circle cx="197.8" cy="187.8" r="2.05" fill="#F04040"/>
<path d="M197.8 194l2.2 3.9h-4.4z" fill="#1C6EDF"/>
<path d="M190.1 205.35H205.9" stroke="#12F012" stroke-width="1"/>
<path d="M197.8 203l2.1 2.2l-2.1 2.2l-2.1-2.2z" fill="#2F9E55"/>
<g font-size="7" fill="#111" lengthAdjust="spacingAndGlyphs">
<text x="207.6" y="190" textLength="15.8" lengthAdjust="spacingAndGlyphs">Train</text>
<text x="207.6" y="198.3" textLength="11.7" lengthAdjust="spacingAndGlyphs">Test</text>
<text x="207.6" y="207.4" textLength="16.1" lengthAdjust="spacingAndGlyphs">Y = X</text>
</g>
</g>
<g transform="translate(369.75,0)">
<path d="M27.5 53.45V5.05H26.5V0.65H37.28V13.65H48.06V23.85H58.84V26.15H69.62V32.65H80.4V28.25H91.18V34.05H101.96V37.95H112.74V37.25H123.52V37.45H134.3V34.95H145.08V36.05H155.86V33.35H166.64V30.15H177.42V32.45H188.2V32.15H198.98V24.75H209.76V24.05H220.54V24.25H231.32V5.25H242.1V18.15H241.1V53.45Z" fill="#1C6EDF"/>
<path d="M26.5 54.45V4.05H37.28V21.75H48.06V28.65H58.84V31.65H69.62V38.95H80.4V34.55H91.18V37.25H101.96V41.15H112.74V39.75H123.52V40.45H134.3V37.45H145.08V39.45H155.86V37.25H166.64V35.15H177.42V35.75H188.2V37.25H198.98V31.35H209.76V30.15H220.54V29.45H231.32V17.15H242.1V54.45Z" fill="#F04040"/>
<path d="M48.06 54.45V13.65M58.84 54.45V23.85M80.4 54.45V28.25M112.74 54.45V37.25M134.3 54.45V34.95M166.64 54.45V30.15M177.42 54.45V30.15M198.98 54.45V24.75M231.32 54.45V5.25" stroke="#160808" stroke-opacity="0.78" stroke-width="0.65" fill="none"/>
<path d="M37.28 54.45V0.65M69.62 54.45V26.15M91.18 54.45V28.25M101.96 54.45V34.05M123.52 54.45V37.25M145.08 54.45V34.95M155.86 54.45V33.35M188.2 54.45V32.15M209.76 54.45V24.05M220.54 54.45V24.05" stroke="#200" stroke-opacity="0.2" stroke-width="0.7" fill="none"/>
<path d="M26.5 0.65h10.78M26.5 4.05h10.78M37.28 13.65h10.78M37.28 21.75h10.78M48.06 23.85h10.78M48.06 28.65h10.78M58.84 26.15h10.78M58.84 31.65h10.78M69.62 32.65h10.78M69.62 38.95h10.78M80.4 28.25h10.78M80.4 34.55h10.78M91.18 34.05h10.78M91.18 37.25h10.78M101.96 37.95h10.78M101.96 41.15h10.78M112.74 37.25h10.78M112.74 39.75h10.78M123.52 37.45h10.78M123.52 40.45h10.78M134.3 34.95h10.78M134.3 37.45h10.78M145.08 36.05h10.78M145.08 39.45h10.78M155.86 33.35h10.78M155.86 37.25h10.78M166.64 30.15h10.78M166.64 35.15h10.78M177.42 32.45h10.78M177.42 35.75h10.78M188.2 32.15h10.78M188.2 37.25h10.78M198.98 24.75h10.78M198.98 31.35h10.78M209.76 24.05h10.78M209.76 30.15h10.78M220.54 24.25h10.78M220.54 29.45h10.78M231.32 5.25h10.78M231.32 17.15h10.78" stroke="#001" stroke-opacity="0.22" stroke-width="0.5" fill="none"/>
<path d="M243.1 214.85H306.4V215.85H314.1V207.78H301.7V199.71H285.1V191.64H274.7V183.57H272.4V175.5H276.7V167.43H268.9V159.36H266.2V151.29H264.7V143.22H265.6V135.15H268.9V127.08H266.6V119.01H269.8V110.94H271.8V102.87H272.5V94.8H274.7V86.73H278.1V78.66H285.5V70.59H285.5V62.52H307.6V54.45H291V55.45H243.1Z" fill="#1C6EDF"/>
<path d="M242.1 215.85H307.4V207.78H291.2V199.71H276.7V191.64H268.3V183.57H266.1V175.5H267.7V167.43H264.1V159.36H261.8V151.29H261.8V143.22H261.5V135.15H264.7V127.08H261.7V119.01H265.7V110.94H265.2V102.87H268.1V94.8H267.4V86.73H271.1V78.66H275.8V70.59H277.7V62.52H292V54.45H242.1Z" fill="#F04040"/>
<path d="M242.1 207.78H314.1M242.1 183.57H274.7M242.1 175.5H276.7M242.1 167.43H276.7M242.1 159.36H268.9M242.1 151.29H266.2M242.1 143.22H265.6M242.1 135.15H268.9M242.1 119.01H269.8" stroke="#160808" stroke-opacity="0.78" stroke-width="0.65" fill="none"/>
<path d="M242.1 199.71H301.7M242.1 191.64H285.1M242.1 110.94H271.8" stroke="#1a0a0a" stroke-opacity="0.35" stroke-width="0.6" fill="none"/>
<path d="M242.1 127.08H268.9M242.1 102.87H272.5M242.1 94.8H274.7M242.1 86.73H278.1M242.1 78.66H285.5M242.1 70.59H285.5M242.1 62.52H307.6" stroke="#300" stroke-opacity="0.12" stroke-width="0.6" fill="none"/>
<path d="M314.1 207.78v8.07M307.4 207.78v8.07M301.7 199.71v8.07M291.2 199.71v8.07M285.1 191.64v8.07M276.7 191.64v8.07M274.7 183.57v8.07M268.3 183.57v8.07M272.4 175.5v8.07M266.1 175.5v8.07M276.7 167.43v8.07M267.7 167.43v8.07M268.9 159.36v8.07M264.1 159.36v8.07M266.2 151.29v8.07M261.8 151.29v8.07M264.7 143.22v8.07M261.8 143.22v8.07M265.6 135.15v8.07M261.5 135.15v8.07M268.9 127.08v8.07M264.7 127.08v8.07M266.6 119.01v8.07M261.7 119.01v8.07M269.8 110.94v8.07M265.7 110.94v8.07M271.8 102.87v8.07M265.2 102.87v8.07M272.5 94.8v8.07M268.1 94.8v8.07M274.7 86.73v8.07M267.4 86.73v8.07M278.1 78.66v8.07M271.1 78.66v8.07M285.5 70.59v8.07M275.8 70.59v8.07M285.5 62.52v8.07M277.7 62.52v8.07M307.6 54.45v8.07M292 54.45v8.07" stroke="#001" stroke-opacity="0.22" stroke-width="0.5" fill="none"/>
<path d="M242.2 62.52V215.85" stroke="#2a1010" stroke-opacity="0.7" stroke-width="0.6" fill="none"/>
<path d="M26.5 54.55H242.1" stroke="#2a1010" stroke-opacity="0.55" stroke-width="0.6" fill="none"/>
<g clip-path="url(#pc)">
<g fill="#F04040">
<circle cx="38.9" cy="205.7" r="1.8"/>
<circle cx="27.8" cy="214.5" r="1.8"/>
<circle cx="28.1" cy="213.6" r="1.8"/>
<circle cx="36.5" cy="209.3" r="1.8"/>
<circle cx="36" cy="207.8" r="1.8"/>
<circle cx="32.8" cy="209.1" r="1.8"/>
<circle cx="36.9" cy="208.9" r="1.8"/>
<circle cx="28.2" cy="213.5" r="1.8"/>
<circle cx="28" cy="215" r="1.8"/>
<circle cx="27.4" cy="215.2" r="1.8"/>
<circle cx="32" cy="213" r="1.8"/>
<circle cx="33" cy="211.4" r="1.8"/>
<circle cx="30.9" cy="212.9" r="1.8"/>
<circle cx="26.8" cy="215.8" r="1.8"/>
<circle cx="36.8" cy="206.3" r="1.8"/>
<circle cx="27.5" cy="215.7" r="1.8"/>
<circle cx="27.4" cy="214.3" r="1.8"/>
<circle cx="35.1" cy="209.1" r="1.8"/>
<circle cx="32" cy="210.7" r="1.8"/>
<circle cx="31.5" cy="213.5" r="1.8"/>
<circle cx="37.2" cy="208.1" r="1.8"/>
<circle cx="34.3" cy="209.5" r="1.8"/>
<circle cx="33.1" cy="215.1" r="1.8"/>
<circle cx="31.9" cy="211.1" r="1.8"/>
<circle cx="31.2" cy="211.5" r="1.8"/>
<circle cx="27.2" cy="215.1" r="1.8"/>
<circle cx="28.1" cy="214.4" r="1.8"/>
<circle cx="34.4" cy="208.8" r="1.8"/>
<circle cx="27" cy="215.6" r="1.8"/>
<circle cx="26.5" cy="215.8" r="1.8"/>
<circle cx="26.6" cy="215.5" r="1.8"/>
<circle cx="28.2" cy="213.7" r="1.8"/>
<circle cx="27.9" cy="213.5" r="1.8"/>
<circle cx="26.5" cy="215.6" r="1.8"/>
<circle cx="28.3" cy="214.6" r="1.8"/>
<circle cx="35.8" cy="211.7" r="1.8"/>
<circle cx="28.4" cy="213.7" r="1.8"/>
<circle cx="28.9" cy="214.9" r="1.8"/>
<circle cx="28.7" cy="215" r="1.8"/>
<circle cx="35.3" cy="211.5" r="1.8"/>
<circle cx="30.4" cy="212.7" r="1.8"/>
<circle cx="28.4" cy="215.8" r="1.8"/>
<circle cx="28.1" cy="214.8" r="1.8"/>
<circle cx="33" cy="208.3" r="1.8"/>
<circle cx="33.9" cy="209.9" r="1.8"/>
<circle cx="28.3" cy="213.7" r="1.8"/>
<circle cx="30.6" cy="213.9" r="1.8"/>
<circle cx="37" cy="205.9" r="1.8"/>
<circle cx="30.1" cy="213.1" r="1.8"/>
<circle cx="27.7" cy="215.2" r="1.8"/>
<circle cx="28" cy="215.5" r="1.8"/>
<circle cx="30.3" cy="212.9" r="1.8"/>
<circle cx="32.3" cy="211.7" r="1.8"/>
<circle cx="36.7" cy="207.9" r="1.8"/>
<circle cx="27.2" cy="215" r="1.8"/>
<circle cx="37.2" cy="210.4" r="1.8"/>
<circle cx="27.2" cy="215.8" r="1.8"/>
<circle cx="32.8" cy="209.5" r="1.8"/>
<circle cx="27" cy="215.8" r="1.8"/>
<circle cx="29.4" cy="213.2" r="1.8"/>
<circle cx="29.6" cy="214.3" r="1.8"/>
<circle cx="26.7" cy="215.8" r="1.8"/>
<circle cx="29.5" cy="215.5" r="1.8"/>
<circle cx="30.8" cy="214.4" r="1.8"/>
<circle cx="32.5" cy="210" r="1.8"/>
<circle cx="35.9" cy="210.8" r="1.8"/>
<circle cx="32.7" cy="211.5" r="1.8"/>
<circle cx="27.5" cy="215.8" r="1.8"/>
<circle cx="28.1" cy="214.5" r="1.8"/>
<circle cx="27" cy="215.4" r="1.8"/>
<circle cx="33.8" cy="211" r="1.8"/>
<circle cx="28.1" cy="215.6" r="1.8"/>
<circle cx="31.3" cy="211.2" r="1.8"/>
<circle cx="28" cy="215.2" r="1.8"/>
<circle cx="27.4" cy="215.1" r="1.8"/>
<circle cx="31.3" cy="212.9" r="1.8"/>
<circle cx="28.4" cy="214.7" r="1.8"/>
<circle cx="28.5" cy="215.3" r="1.8"/>
<circle cx="31.6" cy="211.3" r="1.8"/>
<circle cx="29.6" cy="213.4" r="1.8"/>
<circle cx="28.1" cy="215.8" r="1.8"/>
<circle cx="33.9" cy="210.5" r="1.8"/>
<circle cx="36.8" cy="208.6" r="1.8"/>
<circle cx="33.2" cy="210.6" r="1.8"/>
<circle cx="29.6" cy="213.2" r="1.8"/>
<circle cx="29" cy="214.6" r="1.8"/>
<circle cx="32.5" cy="210.1" r="1.8"/>
<circle cx="34.7" cy="209.1" r="1.8"/>
<circle cx="29.8" cy="213.6" r="1.8"/>
<circle cx="27.6" cy="215.3" r="1.8"/>
<circle cx="27.4" cy="215.2" r="1.8"/>
<circle cx="36.2" cy="208.8" r="1.8"/>
<circle cx="36" cy="207.3" r="1.8"/>
<circle cx="35.7" cy="208" r="1.8"/>
<circle cx="26.9" cy="214.9" r="1.8"/>
<circle cx="28.1" cy="214" r="1.8"/>
<circle cx="31.1" cy="213.1" r="1.8"/>
<circle cx="27.2" cy="214.8" r="1.8"/>
<circle cx="30.3" cy="212.3" r="1.8"/>
<circle cx="30.7" cy="212.3" r="1.8"/>
<circle cx="26.7" cy="214" r="1.8"/>
<circle cx="31.1" cy="212.3" r="1.8"/>
<circle cx="31" cy="213.1" r="1.8"/>
<circle cx="35" cy="211.4" r="1.8"/>
<circle cx="29" cy="214" r="1.8"/>
<circle cx="30.5" cy="212.4" r="1.8"/>
<circle cx="32.5" cy="210.3" r="1.8"/>
<circle cx="33.8" cy="209.2" r="1.8"/>
<circle cx="28.6" cy="212.9" r="1.8"/>
<circle cx="27.3" cy="215.5" r="1.8"/>
<circle cx="31.9" cy="211.8" r="1.8"/>
<circle cx="32.4" cy="210.2" r="1.8"/>
<circle cx="32.1" cy="211.1" r="1.8"/>
<circle cx="34.8" cy="209" r="1.8"/>
<circle cx="27.3" cy="215.1" r="1.8"/>
<circle cx="34.5" cy="211.1" r="1.8"/>
<circle cx="31.8" cy="211.8" r="1.8"/>
<circle cx="30.1" cy="214.2" r="1.8"/>
<circle cx="26.9" cy="215.8" r="1.8"/>
<circle cx="33.9" cy="210.2" r="1.8"/>
<circle cx="32.4" cy="210" r="1.8"/>
<circle cx="26.9" cy="215.5" r="1.8"/>
<circle cx="36.2" cy="209.9" r="1.8"/>
<circle cx="34.1" cy="208.4" r="1.8"/>
<circle cx="34.6" cy="209.6" r="1.8"/>
<circle cx="26.9" cy="215.8" r="1.8"/>
<circle cx="30.9" cy="211.3" r="1.8"/>
<circle cx="27.4" cy="214.3" r="1.8"/>
<circle cx="27.4" cy="215.8" r="1.8"/>
<circle cx="26.9" cy="215.8" r="1.8"/>
<circle cx="32" cy="211.1" r="1.8"/>
<circle cx="36.9" cy="209" r="1.8"/>
<circle cx="37.1" cy="209.7" r="1.8"/>
<circle cx="26.9" cy="215.6" r="1.8"/>
<circle cx="31.3" cy="211.6" r="1.8"/>
<circle cx="28.7" cy="213.6" r="1.8"/>
<circle cx="27.9" cy="213.7" r="1.8"/>
<circle cx="33.3" cy="210" r="1.8"/>
<circle cx="32.2" cy="210.8" r="1.8"/>
<circle cx="27.5" cy="214.9" r="1.8"/>
<circle cx="30.2" cy="213.1" r="1.8"/>
<circle cx="32.1" cy="212.1" r="1.8"/>
<circle cx="29.4" cy="213.6" r="1.8"/>
<circle cx="31" cy="213.4" r="1.8"/>
<circle cx="32.6" cy="211.9" r="1.8"/>
<circle cx="28.2" cy="215.2" r="1.8"/>
<circle cx="27.6" cy="214.5" r="1.8"/>
<circle cx="31.9" cy="212.6" r="1.8"/>
<circle cx="37" cy="206.2" r="1.8"/>
<circle cx="33.6" cy="211.3" r="1.8"/>
<circle cx="47.8" cy="204.9" r="1.8"/>
<circle cx="42.4" cy="203" r="1.8"/>
<circle cx="41.9" cy="204.4" r="1.8"/>
<circle cx="41.9" cy="205.6" r="1.8"/>
<circle cx="42.6" cy="203.8" r="1.8"/>
<circle cx="40.5" cy="206.8" r="1.8"/>
<circle cx="45.9" cy="203.3" r="1.8"/>
<circle cx="47.7" cy="201.2" r="1.8"/>
<circle cx="44.8" cy="202" r="1.8"/>
<circle cx="46.4" cy="200.8" r="1.8"/>
<circle cx="43.9" cy="203.3" r="1.8"/>
<circle cx="46.3" cy="198.2" r="1.8"/>
<circle cx="40.8" cy="203.7" r="1.8"/>
<circle cx="41.6" cy="207" r="1.8"/>
<circle cx="46.3" cy="204" r="1.8"/>
<circle cx="42.1" cy="208.1" r="1.8"/>
<circle cx="46.8" cy="201.1" r="1.8"/>
<circle cx="47.1" cy="197.3" r="1.8"/>
<circle cx="45.8" cy="200.6" r="1.8"/>
<circle cx="41.3" cy="206.9" r="1.8"/>
<circle cx="38.3" cy="207.1" r="1.8"/>
<circle cx="46.6" cy="203.8" r="1.8"/>
<circle cx="40.3" cy="205.2" r="1.8"/>
<circle cx="42.7" cy="203" r="1.8"/>
<circle cx="42.7" cy="204.7" r="1.8"/>
<circle cx="46.9" cy="202.8" r="1.8"/>
<circle cx="44.5" cy="204.6" r="1.8"/>
<circle cx="47.9" cy="197.1" r="1.8"/>
<circle cx="41.5" cy="202.6" r="1.8"/>
<circle cx="38.4" cy="205.5" r="1.8"/>
<circle cx="42.6" cy="205.2" r="1.8"/>
<circle cx="47.3" cy="198.8" r="1.8"/>
<circle cx="48" cy="197" r="1.8"/>
<circle cx="41.3" cy="205.4" r="1.8"/>
<circle cx="44.1" cy="202" r="1.8"/>
<circle cx="44.6" cy="200.4" r="1.8"/>
<circle cx="46.5" cy="204" r="1.8"/>
<circle cx="45.8" cy="201.4" r="1.8"/>
<circle cx="38.3" cy="206.9" r="1.8"/>
<circle cx="47.7" cy="199.9" r="1.8"/>
<circle cx="38" cy="205.7" r="1.8"/>
<circle cx="46.5" cy="198.7" r="1.8"/>
<circle cx="45.7" cy="197.1" r="1.8"/>
<circle cx="46.5" cy="198.2" r="1.8"/>
<circle cx="46.1" cy="203.7" r="1.8"/>
<circle cx="37.4" cy="208.5" r="1.8"/>
<circle cx="38.7" cy="206.7" r="1.8"/>
<circle cx="47" cy="196.9" r="1.8"/>
<circle cx="40.4" cy="205.1" r="1.8"/>
<circle cx="42.3" cy="200.9" r="1.8"/>
<circle cx="39.4" cy="205.4" r="1.8"/>
<circle cx="42.5" cy="203.8" r="1.8"/>
<circle cx="37.8" cy="205.7" r="1.8"/>
<circle cx="38.7" cy="208.4" r="1.8"/>
<circle cx="47" cy="194.4" r="1.8"/>
<circle cx="46.5" cy="203.3" r="1.8"/>
<circle cx="44.5" cy="201.5" r="1.8"/>
<circle cx="40.1" cy="205.3" r="1.8"/>
<circle cx="37.5" cy="206.2" r="1.8"/>
<circle cx="46" cy="200.5" r="1.8"/>
<circle cx="40.5" cy="202.2" r="1.8"/>
<circle cx="37.9" cy="206.6" r="1.8"/>
<circle cx="46" cy="205" r="1.8"/>
<circle cx="48" cy="200.4" r="1.8"/>
<circle cx="47.6" cy="202.5" r="1.8"/>
<circle cx="45.1" cy="198.4" r="1.8"/>
<circle cx="40.8" cy="205.8" r="1.8"/>
<circle cx="45.9" cy="201.3" r="1.8"/>
<circle cx="45.1" cy="198.5" r="1.8"/>
<circle cx="38.6" cy="208" r="1.8"/>
<circle cx="43.9" cy="203.8" r="1.8"/>
<circle cx="43.5" cy="201.6" r="1.8"/>
<circle cx="38.1" cy="209.3" r="1.8"/>
<circle cx="38.6" cy="207.8" r="1.8"/>
<circle cx="37.4" cy="209.8" r="1.8"/>
<circle cx="39.2" cy="208.2" r="1.8"/>
<circle cx="45.5" cy="201.5" r="1.8"/>
<circle cx="42.4" cy="203.1" r="1.8"/>
<circle cx="39" cy="204.4" r="1.8"/>
<circle cx="41.3" cy="204.7" r="1.8"/>
<circle cx="40.5" cy="205.7" r="1.8"/>
<circle cx="37.5" cy="211.4" r="1.8"/>
<circle cx="40.6" cy="207.1" r="1.8"/>
<circle cx="47.8" cy="197.9" r="1.8"/>
<circle cx="46.1" cy="199.3" r="1.8"/>
<circle cx="44.1" cy="202.8" r="1.8"/>
<circle cx="47.4" cy="202.5" r="1.8"/>
<circle cx="41.8" cy="205.6" r="1.8"/>
<circle cx="41.5" cy="205.1" r="1.8"/>
<circle cx="47.2" cy="200.9" r="1.8"/>
<circle cx="45" cy="200.8" r="1.8"/>
<circle cx="37.5" cy="206.4" r="1.8"/>
<circle cx="43.7" cy="204.5" r="1.8"/>
<circle cx="47.3" cy="200.5" r="1.8"/>
<circle cx="41.2" cy="205.5" r="1.8"/>
<circle cx="44" cy="204.8" r="1.8"/>
<circle cx="37.6" cy="207" r="1.8"/>
<circle cx="47.4" cy="197" r="1.8"/>
<circle cx="46.1" cy="200.5" r="1.8"/>
<circle cx="38.2" cy="207.7" r="1.8"/>
<circle cx="46.1" cy="202.6" r="1.8"/>
<circle cx="45.8" cy="203.5" r="1.8"/>
<circle cx="44.5" cy="200.1" r="1.8"/>
<circle cx="47.4" cy="197.5" r="1.8"/>
<circle cx="44.5" cy="202.3" r="1.8"/>
<circle cx="40.7" cy="206.2" r="1.8"/>
<circle cx="42.8" cy="204.2" r="1.8"/>
<circle cx="46.8" cy="209.5" r="1.8"/>
<circle cx="44.2" cy="204.1" r="1.8"/>
<circle cx="43.2" cy="206.2" r="1.8"/>
<circle cx="46.1" cy="204.8" r="1.8"/>
<circle cx="38.6" cy="209.7" r="1.8"/>
<circle cx="42.1" cy="203.8" r="1.8"/>
<circle cx="49.6" cy="195.4" r="1.8"/>
<circle cx="56.4" cy="197.6" r="1.8"/>
<circle cx="49.9" cy="198.7" r="1.8"/>
<circle cx="54.4" cy="192.6" r="1.8"/>
<circle cx="55.2" cy="194.1" r="1.8"/>
<circle cx="54.6" cy="194.8" r="1.8"/>
<circle cx="52.7" cy="194.6" r="1.8"/>
<circle cx="54.9" cy="196.1" r="1.8"/>
<circle cx="52.8" cy="193.4" r="1.8"/>
<circle cx="57.4" cy="198.8" r="1.8"/>
<circle cx="55.7" cy="195.5" r="1.8"/>
<circle cx="51" cy="197.9" r="1.8"/>
<circle cx="54.5" cy="195.9" r="1.8"/>
<circle cx="49.4" cy="197.6" r="1.8"/>
<circle cx="51.2" cy="210" r="1.8"/>
<circle cx="53" cy="195.8" r="1.8"/>
<circle cx="52.2" cy="197.5" r="1.8"/>
<circle cx="52.7" cy="194.6" r="1.8"/>
<circle cx="52" cy="200.8" r="1.8"/>
<circle cx="53.3" cy="195.8" r="1.8"/>
<circle cx="57.6" cy="191.6" r="1.8"/>
<circle cx="52.3" cy="194.2" r="1.8"/>
<circle cx="52.1" cy="199.7" r="1.8"/>
<circle cx="56" cy="184.7" r="1.8"/>
<circle cx="57.7" cy="197.3" r="1.8"/>
<circle cx="53.3" cy="196.8" r="1.8"/>
<circle cx="54.9" cy="194.2" r="1.8"/>
<circle cx="51" cy="195.9" r="1.8"/>
<circle cx="51.4" cy="190.8" r="1.8"/>
<circle cx="50.2" cy="195.8" r="1.8"/>
<circle cx="52.6" cy="201.8" r="1.8"/>
<circle cx="52.6" cy="198.4" r="1.8"/>
<circle cx="58.1" cy="197.8" r="1.8"/>
<circle cx="55.9" cy="191.2" r="1.8"/>
<circle cx="48.4" cy="199.1" r="1.8"/>
<circle cx="51.7" cy="196.7" r="1.8"/>
<circle cx="50.7" cy="201.8" r="1.8"/>
<circle cx="57.4" cy="192.8" r="1.8"/>
<circle cx="57.4" cy="189.8" r="1.8"/>
<circle cx="58.8" cy="187.7" r="1.8"/>
<circle cx="54.7" cy="194" r="1.8"/>
<circle cx="53.2" cy="195.9" r="1.8"/>
<circle cx="52" cy="194.4" r="1.8"/>
<circle cx="58.5" cy="191.9" r="1.8"/>
<circle cx="48.2" cy="202.7" r="1.8"/>
<circle cx="57.6" cy="198.4" r="1.8"/>
<circle cx="50.9" cy="198.4" r="1.8"/>
<circle cx="52.1" cy="201.6" r="1.8"/>
<circle cx="50.2" cy="201" r="1.8"/>
<circle cx="50.1" cy="195.2" r="1.8"/>
<circle cx="48.9" cy="201.9" r="1.8"/>
<circle cx="55" cy="196.6" r="1.8"/>
<circle cx="55.6" cy="194" r="1.8"/>
<circle cx="58.1" cy="192.3" r="1.8"/>
<circle cx="58.8" cy="192.6" r="1.8"/>
<circle cx="49.1" cy="198.7" r="1.8"/>
<circle cx="48.1" cy="200.7" r="1.8"/>
<circle cx="55.3" cy="198.1" r="1.8"/>
<circle cx="58.4" cy="188" r="1.8"/>
<circle cx="51.6" cy="196.8" r="1.8"/>
<circle cx="54.7" cy="189.5" r="1.8"/>
<circle cx="58.1" cy="191.1" r="1.8"/>
<circle cx="57.7" cy="193.1" r="1.8"/>
<circle cx="50" cy="197.8" r="1.8"/>
<circle cx="54.1" cy="190.3" r="1.8"/>
<circle cx="48.9" cy="200" r="1.8"/>
<circle cx="51.1" cy="195.8" r="1.8"/>
<circle cx="57.4" cy="198.3" r="1.8"/>
<circle cx="54.1" cy="192.8" r="1.8"/>
<circle cx="57.5" cy="197.7" r="1.8"/>
<circle cx="49" cy="200.9" r="1.8"/>
<circle cx="56.1" cy="200.7" r="1.8"/>
<circle cx="57.9" cy="188.8" r="1.8"/>
<circle cx="52.7" cy="197.9" r="1.8"/>
<circle cx="53.4" cy="196.1" r="1.8"/>
<circle cx="52.8" cy="198.4" r="1.8"/>
<circle cx="58.5" cy="194.7" r="1.8"/>
<circle cx="55.2" cy="195.4" r="1.8"/>
<circle cx="48.2" cy="200.5" r="1.8"/>
<circle cx="55.3" cy="184.3" r="1.8"/>
<circle cx="57.7" cy="191.6" r="1.8"/>
<circle cx="48.8" cy="198.3" r="1.8"/>
<circle cx="48.9" cy="197.3" r="1.8"/>
<circle cx="55.1" cy="192" r="1.8"/>
<circle cx="51.2" cy="200.9" r="1.8"/>
<circle cx="65.2" cy="185.8" r="1.8"/>
<circle cx="66.2" cy="181.5" r="1.8"/>
<circle cx="62" cy="191.1" r="1.8"/>
<circle cx="63.5" cy="183" r="1.8"/>
<circle cx="60.9" cy="190.4" r="1.8"/>
<circle cx="60.5" cy="188.3" r="1.8"/>
<circle cx="67.6" cy="185.8" r="1.8"/>
<circle cx="61.7" cy="185.2" r="1.8"/>
<circle cx="68.6" cy="182.7" r="1.8"/>
<circle cx="69.3" cy="187.1" r="1.8"/>
<circle cx="61.1" cy="182" r="1.8"/>
<circle cx="64.2" cy="186.5" r="1.8"/>
<circle cx="60.1" cy="189.1" r="1.8"/>
<circle cx="60.5" cy="187.1" r="1.8"/>
<circle cx="61.3" cy="192.6" r="1.8"/>
<circle cx="69.1" cy="184" r="1.8"/>
<circle cx="67.1" cy="185.8" r="1.8"/>
<circle cx="64.7" cy="192.1" r="1.8"/>
<circle cx="64.1" cy="191" r="1.8"/>
<circle cx="61.8" cy="189.3" r="1.8"/>
<circle cx="66.1" cy="188" r="1.8"/>
<circle cx="65.8" cy="182.2" r="1.8"/>
<circle cx="65.9" cy="188.9" r="1.8"/>
<circle cx="66.1" cy="189" r="1.8"/>
<circle cx="62.7" cy="194.5" r="1.8"/>
<circle cx="60.9" cy="186.3" r="1.8"/>
<circle cx="68.1" cy="183.3" r="1.8"/>
<circle cx="68.4" cy="185.6" r="1.8"/>
<circle cx="69.5" cy="185.5" r="1.8"/>
<circle cx="61.4" cy="185.2" r="1.8"/>
<circle cx="67.9" cy="183.4" r="1.8"/>
<circle cx="61.6" cy="188.1" r="1.8"/>
<circle cx="67.6" cy="180.5" r="1.8"/>
<circle cx="66.3" cy="184.6" r="1.8"/>
<circle cx="68.5" cy="187.5" r="1.8"/>
<circle cx="67.7" cy="185.7" r="1.8"/>
<circle cx="64.9" cy="185.7" r="1.8"/>
<circle cx="65.4" cy="188.6" r="1.8"/>
<circle cx="62.2" cy="192.5" r="1.8"/>
<circle cx="67" cy="189.3" r="1.8"/>
<circle cx="68.3" cy="177.7" r="1.8"/>
<circle cx="65.7" cy="183.2" r="1.8"/>
<circle cx="67" cy="191.1" r="1.8"/>
<circle cx="67" cy="186.3" r="1.8"/>
<circle cx="60.5" cy="190.7" r="1.8"/>
<circle cx="59.8" cy="186.2" r="1.8"/>
<circle cx="69.3" cy="189.1" r="1.8"/>
<circle cx="62.1" cy="190.6" r="1.8"/>
<circle cx="60.6" cy="190.5" r="1.8"/>
<circle cx="63.4" cy="187.1" r="1.8"/>
<circle cx="60.5" cy="190.9" r="1.8"/>
<circle cx="60.1" cy="193.1" r="1.8"/>
<circle cx="63" cy="189.4" r="1.8"/>
<circle cx="67.6" cy="185.8" r="1.8"/>
<circle cx="64.3" cy="191.2" r="1.8"/>
<circle cx="68.4" cy="183.6" r="1.8"/>
<circle cx="63" cy="189" r="1.8"/>
<circle cx="65.4" cy="183.6" r="1.8"/>
<circle cx="61.2" cy="189.9" r="1.8"/>
<circle cx="65.9" cy="179.6" r="1.8"/>
<circle cx="62.1" cy="191.1" r="1.8"/>
<circle cx="68.5" cy="191.5" r="1.8"/>
<circle cx="63.2" cy="188.9" r="1.8"/>
<circle cx="64.1" cy="182.9" r="1.8"/>
<circle cx="66.5" cy="185.6" r="1.8"/>
<circle cx="65.8" cy="189.7" r="1.8"/>
<circle cx="60.2" cy="194.8" r="1.8"/>
<circle cx="65.3" cy="189.6" r="1.8"/>
<circle cx="60.4" cy="194" r="1.8"/>
<circle cx="58.9" cy="190.8" r="1.8"/>
<circle cx="59.9" cy="186.7" r="1.8"/>
<circle cx="64.4" cy="188.6" r="1.8"/>
<circle cx="68.8" cy="184" r="1.8"/>
<circle cx="68.7" cy="178.9" r="1.8"/>
<circle cx="66.9" cy="189.2" r="1.8"/>
<circle cx="66.1" cy="184.4" r="1.8"/>
<circle cx="64" cy="188.8" r="1.8"/>
<circle cx="66.1" cy="187.4" r="1.8"/>
<circle cx="63.4" cy="186.8" r="1.8"/>
<circle cx="71.4" cy="187" r="1.8"/>
<circle cx="76" cy="177" r="1.8"/>
<circle cx="75.7" cy="174.9" r="1.8"/>
<circle cx="79.8" cy="175" r="1.8"/>
<circle cx="78.6" cy="174.5" r="1.8"/>
<circle cx="79.2" cy="172.7" r="1.8"/>
<circle cx="75.2" cy="172.1" r="1.8"/>
<circle cx="77.6" cy="174" r="1.8"/>
<circle cx="79.3" cy="172.7" r="1.8"/>
<circle cx="74.5" cy="185.3" r="1.8"/>
<circle cx="71.8" cy="181.4" r="1.8"/>
<circle cx="79.8" cy="176.8" r="1.8"/>
<circle cx="75.1" cy="174.4" r="1.8"/>
<circle cx="71.6" cy="181" r="1.8"/>
<circle cx="78.6" cy="178" r="1.8"/>
<circle cx="69.8" cy="181.8" r="1.8"/>
<circle cx="74.9" cy="179.4" r="1.8"/>
<circle cx="72.1" cy="186.2" r="1.8"/>
<circle cx="74" cy="176.4" r="1.8"/>
<circle cx="74.7" cy="180.3" r="1.8"/>
<circle cx="76.6" cy="177" r="1.8"/>
<circle cx="71.2" cy="182" r="1.8"/>
<circle cx="73.7" cy="180.8" r="1.8"/>
<circle cx="80.2" cy="174.5" r="1.8"/>
<circle cx="77" cy="171.3" r="1.8"/>
<circle cx="79" cy="174.4" r="1.8"/>
<circle cx="78.9" cy="172.7" r="1.8"/>
<circle cx="70.1" cy="176.3" r="1.8"/>
<circle cx="80.1" cy="176.4" r="1.8"/>
<circle cx="75.4" cy="179" r="1.8"/>
<circle cx="74.9" cy="177.6" r="1.8"/>
<circle cx="72.2" cy="176.6" r="1.8"/>
<circle cx="72.7" cy="183.5" r="1.8"/>
<circle cx="75.9" cy="183.3" r="1.8"/>
<circle cx="72.5" cy="179.9" r="1.8"/>
<circle cx="75.7" cy="178.4" r="1.8"/>
<circle cx="72.6" cy="176.3" r="1.8"/>
<circle cx="75.5" cy="174.7" r="1.8"/>
<circle cx="74.2" cy="185.3" r="1.8"/>
<circle cx="77.6" cy="175.5" r="1.8"/>
<circle cx="72.9" cy="178.3" r="1.8"/>
<circle cx="74.1" cy="177.5" r="1.8"/>
<circle cx="70.6" cy="187.3" r="1.8"/>
<circle cx="70.4" cy="187.4" r="1.8"/>
<circle cx="71.2" cy="183.9" r="1.8"/>
<circle cx="73.7" cy="182.4" r="1.8"/>
<circle cx="79.9" cy="179.4" r="1.8"/>
<circle cx="80" cy="175" r="1.8"/>
<circle cx="74.1" cy="180.3" r="1.8"/>
<circle cx="71.6" cy="175.1" r="1.8"/>
<circle cx="75.3" cy="181.1" r="1.8"/>
<circle cx="70" cy="183" r="1.8"/>
<circle cx="72.7" cy="178.2" r="1.8"/>
<circle cx="76.6" cy="170.7" r="1.8"/>
<circle cx="75.8" cy="179.2" r="1.8"/>
<circle cx="76.5" cy="172.8" r="1.8"/>
<circle cx="76.8" cy="176.5" r="1.8"/>
<circle cx="76.2" cy="180.6" r="1.8"/>
<circle cx="78.1" cy="175.2" r="1.8"/>
<circle cx="79.5" cy="181.8" r="1.8"/>
<circle cx="78.8" cy="174.9" r="1.8"/>
<circle cx="84.7" cy="170.1" r="1.8"/>
<circle cx="88.7" cy="168.1" r="1.8"/>
<circle cx="84.6" cy="180.5" r="1.8"/>
<circle cx="83.6" cy="172.2" r="1.8"/>
<circle cx="81.3" cy="171.6" r="1.8"/>
<circle cx="89" cy="167.2" r="1.8"/>
<circle cx="84.2" cy="164.5" r="1.8"/>
<circle cx="82.2" cy="165.3" r="1.8"/>
<circle cx="90.8" cy="172" r="1.8"/>
<circle cx="87.1" cy="170.5" r="1.8"/>
<circle cx="89.1" cy="162.8" r="1.8"/>
<circle cx="90.3" cy="167.6" r="1.8"/>
<circle cx="81.6" cy="172.4" r="1.8"/>
<circle cx="84.1" cy="172.2" r="1.8"/>
<circle cx="87.7" cy="167.3" r="1.8"/>
<circle cx="80.4" cy="176.9" r="1.8"/>
<circle cx="85.5" cy="174.7" r="1.8"/>
<circle cx="85.1" cy="172" r="1.8"/>
<circle cx="82.3" cy="178.8" r="1.8"/>
<circle cx="86.7" cy="170.4" r="1.8"/>
<circle cx="88.7" cy="174.4" r="1.8"/>
<circle cx="82.6" cy="174.6" r="1.8"/>
<circle cx="91.2" cy="171.4" r="1.8"/>
<circle cx="86.9" cy="171.6" r="1.8"/>
<circle cx="84.6" cy="169.9" r="1.8"/>
<circle cx="82.3" cy="171.9" r="1.8"/>
<circle cx="90.9" cy="163.8" r="1.8"/>
<circle cx="81.5" cy="178.9" r="1.8"/>
<circle cx="89" cy="171.4" r="1.8"/>
<circle cx="84.3" cy="171.2" r="1.8"/>
<circle cx="89.9" cy="163.7" r="1.8"/>
<circle cx="84.1" cy="179.8" r="1.8"/>
<circle cx="89.1" cy="173" r="1.8"/>
<circle cx="84.2" cy="171.1" r="1.8"/>
<circle cx="81.3" cy="176.2" r="1.8"/>
<circle cx="81.9" cy="175.5" r="1.8"/>
<circle cx="89.6" cy="171.8" r="1.8"/>
<circle cx="89.8" cy="168.9" r="1.8"/>
<circle cx="87.7" cy="165.1" r="1.8"/>
<circle cx="80.8" cy="172.7" r="1.8"/>
<circle cx="81.8" cy="174.2" r="1.8"/>
<circle cx="87.4" cy="180.2" r="1.8"/>
<circle cx="82.7" cy="173.8" r="1.8"/>
<circle cx="83.6" cy="174.6" r="1.8"/>
<circle cx="86.6" cy="174.5" r="1.8"/>
<circle cx="81" cy="181" r="1.8"/>
<circle cx="88.8" cy="165.1" r="1.8"/>
<circle cx="84.7" cy="172.4" r="1.8"/>
<circle cx="89.1" cy="170.1" r="1.8"/>
<circle cx="83.5" cy="176.2" r="1.8"/>
<circle cx="81.1" cy="174.6" r="1.8"/>
<circle cx="88.3" cy="171.1" r="1.8"/>
<circle cx="89.4" cy="170.7" r="1.8"/>
<circle cx="85.7" cy="167.6" r="1.8"/>
<circle cx="83.1" cy="173.4" r="1.8"/>
<circle cx="83.8" cy="178.8" r="1.8"/>
<circle cx="85" cy="172.7" r="1.8"/>
<circle cx="82.2" cy="175.9" r="1.8"/>
<circle cx="85.4" cy="176.1" r="1.8"/>
<circle cx="82.6" cy="172.4" r="1.8"/>
<circle cx="89.7" cy="170.3" r="1.8"/>
<circle cx="80.8" cy="174" r="1.8"/>
<circle cx="82.5" cy="176.9" r="1.8"/>
<circle cx="80.8" cy="176.3" r="1.8"/>
<circle cx="84.7" cy="175.9" r="1.8"/>
<circle cx="89" cy="168" r="1.8"/>
<circle cx="87.6" cy="169.8" r="1.8"/>
<circle cx="91.1" cy="172.7" r="1.8"/>
<circle cx="85.9" cy="175.9" r="1.8"/>
<circle cx="84.3" cy="173.9" r="1.8"/>
<circle cx="88.5" cy="173.7" r="1.8"/>
<circle cx="87.1" cy="176.6" r="1.8"/>
<circle cx="81.6" cy="179.7" r="1.8"/>
<circle cx="93.5" cy="162.7" r="1.8"/>
<circle cx="96.1" cy="160" r="1.8"/>
<circle cx="99.5" cy="155.7" r="1.8"/>
<circle cx="93.9" cy="168.4" r="1.8"/>
<circle cx="100.4" cy="166.9" r="1.8"/>
<circle cx="94.8" cy="159.9" r="1.8"/>
<circle cx="94.3" cy="165.9" r="1.8"/>
<circle cx="94.9" cy="168.9" r="1.8"/>
<circle cx="94.9" cy="155.9" r="1.8"/>
<circle cx="95.7" cy="170.1" r="1.8"/>
<circle cx="97.8" cy="166.9" r="1.8"/>
<circle cx="93.3" cy="167.2" r="1.8"/>
<circle cx="97.2" cy="163.9" r="1.8"/>
<circle cx="95" cy="164.3" r="1.8"/>
<circle cx="96.4" cy="162.3" r="1.8"/>
<circle cx="94.8" cy="162.5" r="1.8"/>
<circle cx="92.2" cy="169.9" r="1.8"/>
<circle cx="91.3" cy="174.1" r="1.8"/>
<circle cx="99.8" cy="161" r="1.8"/>
<circle cx="94.4" cy="166.7" r="1.8"/>
<circle cx="96.8" cy="163.5" r="1.8"/>
<circle cx="100.8" cy="153.4" r="1.8"/>
<circle cx="99.1" cy="159" r="1.8"/>
<circle cx="100.9" cy="159.3" r="1.8"/>
<circle cx="95" cy="163.6" r="1.8"/>
<circle cx="101.9" cy="160.6" r="1.8"/>
<circle cx="94.8" cy="170.6" r="1.8"/>
<circle cx="95.6" cy="167.6" r="1.8"/>
<circle cx="94.7" cy="161.5" r="1.8"/>
<circle cx="96.5" cy="163.6" r="1.8"/>
<circle cx="99.8" cy="157.6" r="1.8"/>
<circle cx="95.7" cy="168.3" r="1.8"/>
<circle cx="94.9" cy="167.6" r="1.8"/>
<circle cx="93.7" cy="162.7" r="1.8"/>
<circle cx="101.1" cy="164.5" r="1.8"/>
<circle cx="92.1" cy="161.6" r="1.8"/>
<circle cx="94.2" cy="170.1" r="1.8"/>
<circle cx="94.4" cy="165.1" r="1.8"/>
<circle cx="95.4" cy="157.5" r="1.8"/>
<circle cx="99.1" cy="165.1" r="1.8"/>
<circle cx="91.6" cy="167.8" r="1.8"/>
<circle cx="93.4" cy="165" r="1.8"/>
<circle cx="98.3" cy="165.4" r="1.8"/>
<circle cx="101.9" cy="152.2" r="1.8"/>
<circle cx="100.8" cy="157.3" r="1.8"/>
<circle cx="93.9" cy="168.2" r="1.8"/>
<circle cx="91.6" cy="167.6" r="1.8"/>
<circle cx="95.8" cy="161.5" r="1.8"/>
<circle cx="96.4" cy="161" r="1.8"/>
<circle cx="97.4" cy="163.1" r="1.8"/>
<circle cx="98.5" cy="160.7" r="1.8"/>
<circle cx="97" cy="164.2" r="1.8"/>
<circle cx="96.6" cy="161.4" r="1.8"/>
<circle cx="93.2" cy="169.5" r="1.8"/>
<circle cx="92.6" cy="161" r="1.8"/>
<circle cx="99.3" cy="167.4" r="1.8"/>
<circle cx="98" cy="161.1" r="1.8"/>
<circle cx="110.3" cy="152" r="1.8"/>
<circle cx="111.3" cy="157" r="1.8"/>
<circle cx="103.9" cy="152.7" r="1.8"/>
<circle cx="111.2" cy="152.4" r="1.8"/>
<circle cx="110.8" cy="151.3" r="1.8"/>
<circle cx="112.2" cy="152.7" r="1.8"/>
<circle cx="105.4" cy="151.8" r="1.8"/>
<circle cx="105.2" cy="158.3" r="1.8"/>
<circle cx="106.1" cy="156.2" r="1.8"/>
<circle cx="109" cy="157.1" r="1.8"/>
<circle cx="102.6" cy="164.4" r="1.8"/>
<circle cx="111.7" cy="150.7" r="1.8"/>
<circle cx="107.9" cy="150" r="1.8"/>
<circle cx="108.5" cy="155.1" r="1.8"/>
<circle cx="107.8" cy="155.4" r="1.8"/>
<circle cx="111.3" cy="153.2" r="1.8"/>
<circle cx="104.5" cy="161.8" r="1.8"/>
<circle cx="104.8" cy="160.7" r="1.8"/>
<circle cx="106.2" cy="156.8" r="1.8"/>
<circle cx="107.4" cy="156.1" r="1.8"/>
<circle cx="108" cy="154.3" r="1.8"/>
<circle cx="104.4" cy="159.3" r="1.8"/>
<circle cx="107.1" cy="155.5" r="1.8"/>
<circle cx="103.3" cy="159.5" r="1.8"/>
<circle cx="105.3" cy="153.4" r="1.8"/>
<circle cx="111.3" cy="140.5" r="1.8"/>
<circle cx="108.8" cy="157.5" r="1.8"/>
<circle cx="109.8" cy="152.7" r="1.8"/>
<circle cx="108.5" cy="153.1" r="1.8"/>
<circle cx="109.6" cy="154.8" r="1.8"/>
<circle cx="104.9" cy="152.8" r="1.8"/>
<circle cx="102.7" cy="157.1" r="1.8"/>
<circle cx="112.5" cy="153.1" r="1.8"/>
<circle cx="112.7" cy="149" r="1.8"/>
<circle cx="110.8" cy="154.4" r="1.8"/>
<circle cx="108.2" cy="154.6" r="1.8"/>
<circle cx="110.7" cy="159.6" r="1.8"/>
<circle cx="109.7" cy="153.6" r="1.8"/>
<circle cx="111.9" cy="151.3" r="1.8"/>
<circle cx="106.5" cy="155.7" r="1.8"/>
<circle cx="107.8" cy="153" r="1.8"/>
<circle cx="111.2" cy="151" r="1.8"/>
<circle cx="110" cy="151.8" r="1.8"/>
<circle cx="106.4" cy="156.2" r="1.8"/>
<circle cx="105.9" cy="152.1" r="1.8"/>
<circle cx="102.6" cy="154.6" r="1.8"/>
<circle cx="118.2" cy="145.1" r="1.8"/>
<circle cx="117.4" cy="151.7" r="1.8"/>
<circle cx="120.1" cy="140.8" r="1.8"/>
<circle cx="117.3" cy="142.1" r="1.8"/>
<circle cx="122" cy="140.3" r="1.8"/>
<circle cx="118.3" cy="145.5" r="1.8"/>
<circle cx="117.9" cy="146.3" r="1.8"/>
<circle cx="123.1" cy="145.7" r="1.8"/>
<circle cx="116.7" cy="147.5" r="1.8"/>
<circle cx="117.4" cy="145.5" r="1.8"/>
<circle cx="123.5" cy="146.9" r="1.8"/>
<circle cx="117.4" cy="153" r="1.8"/>
<circle cx="120.7" cy="142.4" r="1.8"/>
<circle cx="120.5" cy="143.7" r="1.8"/>
<circle cx="115.4" cy="150.2" r="1.8"/>
<circle cx="113.6" cy="148.4" r="1.8"/>
<circle cx="121.3" cy="147.6" r="1.8"/>
<circle cx="119.6" cy="144.4" r="1.8"/>
<circle cx="122.4" cy="145.8" r="1.8"/>
<circle cx="119.3" cy="149" r="1.8"/>
<circle cx="117.9" cy="147.9" r="1.8"/>
<circle cx="114.5" cy="149" r="1.8"/>
<circle cx="118.6" cy="143.8" r="1.8"/>
<circle cx="120.3" cy="140.9" r="1.8"/>
<circle cx="113.6" cy="149.3" r="1.8"/>
<circle cx="120.5" cy="147.7" r="1.8"/>
<circle cx="116.5" cy="149.1" r="1.8"/>
<circle cx="118" cy="143.8" r="1.8"/>
<circle cx="121.9" cy="143.2" r="1.8"/>
<circle cx="118.5" cy="151.7" r="1.8"/>
<circle cx="118.6" cy="147" r="1.8"/>
<circle cx="115.6" cy="152.8" r="1.8"/>
<circle cx="113.3" cy="150.3" r="1.8"/>
<circle cx="122.8" cy="143.5" r="1.8"/>
<circle cx="123.2" cy="147.3" r="1.8"/>
<circle cx="113.8" cy="142.9" r="1.8"/>
<circle cx="119.8" cy="148.1" r="1.8"/>
<circle cx="119.7" cy="144.8" r="1.8"/>
<circle cx="116.2" cy="153.7" r="1.8"/>
<circle cx="122.5" cy="141.6" r="1.8"/>
<circle cx="118.1" cy="150.9" r="1.8"/>
<circle cx="117.7" cy="148.8" r="1.8"/>
<circle cx="117.7" cy="147.4" r="1.8"/>
<circle cx="115.8" cy="143.6" r="1.8"/>
<circle cx="119" cy="150.8" r="1.8"/>
<circle cx="113.9" cy="148.2" r="1.8"/>
<circle cx="112.9" cy="149.3" r="1.8"/>
<circle cx="122.3" cy="141.3" r="1.8"/>
<circle cx="130.1" cy="136.4" r="1.8"/>
<circle cx="125.2" cy="144.5" r="1.8"/>
<circle cx="132.4" cy="134.6" r="1.8"/>
<circle cx="130.9" cy="138.6" r="1.8"/>
<circle cx="133.6" cy="134.9" r="1.8"/>
<circle cx="131.3" cy="136.7" r="1.8"/>
<circle cx="124.1" cy="144.5" r="1.8"/>
<circle cx="127.2" cy="142.1" r="1.8"/>
<circle cx="131.7" cy="130.5" r="1.8"/>
<circle cx="126.4" cy="142.1" r="1.8"/>
<circle cx="129.6" cy="140.4" r="1.8"/>
<circle cx="123.6" cy="143.7" r="1.8"/>
<circle cx="128.6" cy="137.7" r="1.8"/>
<circle cx="125" cy="142.7" r="1.8"/>
<circle cx="124.3" cy="144.7" r="1.8"/>
<circle cx="129.1" cy="141.1" r="1.8"/>
<circle cx="133" cy="139.1" r="1.8"/>
<circle cx="129.7" cy="142.4" r="1.8"/>
<circle cx="128.4" cy="137.5" r="1.8"/>
<circle cx="129.9" cy="135.8" r="1.8"/>
<circle cx="125.8" cy="138.2" r="1.8"/>
<circle cx="127.6" cy="137.8" r="1.8"/>
<circle cx="126.9" cy="144" r="1.8"/>
<circle cx="132.9" cy="137.4" r="1.8"/>
<circle cx="134.2" cy="130.6" r="1.8"/>
<circle cx="126.9" cy="140" r="1.8"/>
<circle cx="125.4" cy="140.7" r="1.8"/>
<circle cx="130.9" cy="135.9" r="1.8"/>
<circle cx="131.9" cy="132.5" r="1.8"/>
<circle cx="134" cy="134.6" r="1.8"/>
<circle cx="128.8" cy="136.9" r="1.8"/>
<circle cx="126" cy="146" r="1.8"/>
<circle cx="132.7" cy="139.7" r="1.8"/>
<circle cx="130.3" cy="140.5" r="1.8"/>
<circle cx="130.7" cy="137.6" r="1.8"/>
<circle cx="125.8" cy="144.1" r="1.8"/>
<circle cx="130.2" cy="137" r="1.8"/>
<circle cx="126.1" cy="145.4" r="1.8"/>
<circle cx="129.2" cy="135.3" r="1.8"/>
<circle cx="127.6" cy="135.4" r="1.8"/>
<circle cx="125.3" cy="138.7" r="1.8"/>
<circle cx="123.7" cy="141.4" r="1.8"/>
<circle cx="128.3" cy="135.9" r="1.8"/>
<circle cx="126" cy="141.1" r="1.8"/>
<circle cx="132.1" cy="139.5" r="1.8"/>
<circle cx="127.5" cy="139.2" r="1.8"/>
<circle cx="131.2" cy="139.9" r="1.8"/>
<circle cx="143.5" cy="125.8" r="1.8"/>
<circle cx="142.1" cy="129.8" r="1.8"/>
<circle cx="136.1" cy="137.7" r="1.8"/>
<circle cx="141.8" cy="135.2" r="1.8"/>
<circle cx="144.5" cy="126.4" r="1.8"/>
<circle cx="143.1" cy="128.8" r="1.8"/>
<circle cx="142.4" cy="126.2" r="1.8"/>
<circle cx="142.6" cy="130.1" r="1.8"/>
<circle cx="143.7" cy="127.9" r="1.8"/>
<circle cx="135.1" cy="136.4" r="1.8"/>
<circle cx="139.4" cy="131.2" r="1.8"/>
<circle cx="136.6" cy="132.6" r="1.8"/>
<circle cx="136.1" cy="134.1" r="1.8"/>
<circle cx="139.5" cy="128.8" r="1.8"/>
<circle cx="139.2" cy="132.9" r="1.8"/>
<circle cx="136.1" cy="136.4" r="1.8"/>
<circle cx="134.4" cy="136.2" r="1.8"/>
<circle cx="135.3" cy="130.9" r="1.8"/>
<circle cx="138.8" cy="134.1" r="1.8"/>
<circle cx="143.5" cy="128.4" r="1.8"/>
<circle cx="136.3" cy="135.6" r="1.8"/>
<circle cx="141.9" cy="131.8" r="1.8"/>
<circle cx="145" cy="130.2" r="1.8"/>
<circle cx="139.3" cy="126.5" r="1.8"/>
<circle cx="134.4" cy="136.2" r="1.8"/>
<circle cx="144.5" cy="128.3" r="1.8"/>
<circle cx="140.7" cy="132.6" r="1.8"/>
<circle cx="141.1" cy="129" r="1.8"/>
<circle cx="138" cy="135" r="1.8"/>
<circle cx="137.9" cy="132.5" r="1.8"/>
<circle cx="141.4" cy="128.2" r="1.8"/>
<circle cx="140.9" cy="126.2" r="1.8"/>
<circle cx="139.8" cy="132.8" r="1.8"/>
<circle cx="137.4" cy="133.3" r="1.8"/>
<circle cx="135.3" cy="135.8" r="1.8"/>
<circle cx="143.6" cy="131.4" r="1.8"/>
<circle cx="137.9" cy="133.6" r="1.8"/>
<circle cx="135.3" cy="130.7" r="1.8"/>
<circle cx="139.4" cy="126.7" r="1.8"/>
<circle cx="144.7" cy="126.2" r="1.8"/>
<circle cx="143.1" cy="123.9" r="1.8"/>
<circle cx="138.9" cy="132.6" r="1.8"/>
<circle cx="138.4" cy="137.7" r="1.8"/>
<circle cx="143.9" cy="128.2" r="1.8"/>
<circle cx="141.4" cy="129.4" r="1.8"/>
<circle cx="135.5" cy="135.8" r="1.8"/>
<circle cx="144.7" cy="132.1" r="1.8"/>
<circle cx="140.7" cy="130.4" r="1.8"/>
<circle cx="140.3" cy="133.5" r="1.8"/>
<circle cx="135.8" cy="133.2" r="1.8"/>
<circle cx="135.9" cy="137.2" r="1.8"/>
<circle cx="138.5" cy="131" r="1.8"/>
<circle cx="142.7" cy="124.4" r="1.8"/>
<circle cx="136.7" cy="131.9" r="1.8"/>
<circle cx="148.7" cy="121.3" r="1.8"/>
<circle cx="151.5" cy="121.4" r="1.8"/>
<circle cx="153" cy="126.5" r="1.8"/>
<circle cx="145.5" cy="126" r="1.8"/>
<circle cx="153.3" cy="122" r="1.8"/>
<circle cx="152.5" cy="122.5" r="1.8"/>
<circle cx="148.7" cy="119.7" r="1.8"/>
<circle cx="152.1" cy="121.5" r="1.8"/>
<circle cx="154.8" cy="122.7" r="1.8"/>
<circle cx="151.9" cy="124.6" r="1.8"/>
<circle cx="153.7" cy="117.1" r="1.8"/>
<circle cx="153.8" cy="115.2" r="1.8"/>
<circle cx="150.8" cy="121.1" r="1.8"/>
<circle cx="149.9" cy="125.5" r="1.8"/>
<circle cx="152.9" cy="123.1" r="1.8"/>
<circle cx="148.5" cy="125.9" r="1.8"/>
<circle cx="152.5" cy="121.7" r="1.8"/>
<circle cx="150.7" cy="120.5" r="1.8"/>
<circle cx="150.2" cy="122.8" r="1.8"/>
<circle cx="150.6" cy="121.8" r="1.8"/>
<circle cx="154.2" cy="118.7" r="1.8"/>
<circle cx="149.9" cy="123.6" r="1.8"/>
<circle cx="146.9" cy="127" r="1.8"/>
<circle cx="147.3" cy="124.3" r="1.8"/>
<circle cx="148.3" cy="125" r="1.8"/>
<circle cx="147" cy="125.1" r="1.8"/>
<circle cx="151.2" cy="124.5" r="1.8"/>
<circle cx="149.5" cy="122.8" r="1.8"/>
<circle cx="153.1" cy="122.2" r="1.8"/>
<circle cx="148.6" cy="128.7" r="1.8"/>
<circle cx="145.1" cy="123.8" r="1.8"/>
<circle cx="148.7" cy="126.5" r="1.8"/>
<circle cx="151.4" cy="124" r="1.8"/>
<circle cx="153.9" cy="120.3" r="1.8"/>
<circle cx="152.6" cy="118.8" r="1.8"/>
<circle cx="145.5" cy="128" r="1.8"/>
<circle cx="149.8" cy="123.8" r="1.8"/>
<circle cx="154.4" cy="117" r="1.8"/>
<circle cx="151.3" cy="121" r="1.8"/>
<circle cx="155.5" cy="121.8" r="1.8"/>
<circle cx="155.4" cy="118.9" r="1.8"/>
<circle cx="148.1" cy="127.3" r="1.8"/>
<circle cx="151.6" cy="124.4" r="1.8"/>
<circle cx="155.6" cy="121.1" r="1.8"/>
<circle cx="151.6" cy="119.5" r="1.8"/>
<circle cx="155.3" cy="119.3" r="1.8"/>
<circle cx="147.8" cy="126.3" r="1.8"/>
<circle cx="148.2" cy="122.3" r="1.8"/>
<circle cx="146.8" cy="123.5" r="1.8"/>
<circle cx="147" cy="124.7" r="1.8"/>
<circle cx="147.2" cy="125.7" r="1.8"/>
<circle cx="159.1" cy="117" r="1.8"/>
<circle cx="156.3" cy="117" r="1.8"/>
<circle cx="165.9" cy="110.1" r="1.8"/>
<circle cx="158.6" cy="118.7" r="1.8"/>
<circle cx="156.3" cy="116" r="1.8"/>
<circle cx="160.6" cy="114.4" r="1.8"/>
<circle cx="164.8" cy="111.3" r="1.8"/>
<circle cx="160" cy="114.2" r="1.8"/>
<circle cx="157.6" cy="117.1" r="1.8"/>
<circle cx="165.6" cy="117.7" r="1.8"/>
<circle cx="159" cy="122.8" r="1.8"/>
<circle cx="165.4" cy="111" r="1.8"/>
<circle cx="163.1" cy="120.9" r="1.8"/>
<circle cx="159.2" cy="115.4" r="1.8"/>
<circle cx="162.6" cy="115.6" r="1.8"/>
<circle cx="160.6" cy="116.5" r="1.8"/>
<circle cx="161.3" cy="112.6" r="1.8"/>
<circle cx="164.7" cy="112.9" r="1.8"/>
<circle cx="159.1" cy="116.2" r="1.8"/>
<circle cx="162.3" cy="115.4" r="1.8"/>
<circle cx="166.4" cy="112.9" r="1.8"/>
<circle cx="163.8" cy="112.4" r="1.8"/>
<circle cx="166.4" cy="113.7" r="1.8"/>
<circle cx="160.3" cy="114.7" r="1.8"/>
<circle cx="163.9" cy="110.4" r="1.8"/>
<circle cx="163.9" cy="104.8" r="1.8"/>
<circle cx="157.8" cy="116.9" r="1.8"/>
<circle cx="160" cy="113" r="1.8"/>
<circle cx="161.4" cy="113" r="1.8"/>
<circle cx="162.8" cy="115.5" r="1.8"/>
<circle cx="163.9" cy="109.9" r="1.8"/>
<circle cx="163.8" cy="112.9" r="1.8"/>
<circle cx="166.1" cy="112" r="1.8"/>
<circle cx="160.9" cy="114.4" r="1.8"/>
<circle cx="157.3" cy="119.4" r="1.8"/>
<circle cx="159.7" cy="118.4" r="1.8"/>
<circle cx="162.8" cy="115.1" r="1.8"/>
<circle cx="158.4" cy="114.7" r="1.8"/>
<circle cx="157.7" cy="116.2" r="1.8"/>
<circle cx="157.5" cy="121.5" r="1.8"/>
<circle cx="162.3" cy="116.3" r="1.8"/>
<circle cx="161" cy="117.4" r="1.8"/>
<circle cx="163.8" cy="117.3" r="1.8"/>
<circle cx="158.1" cy="117.8" r="1.8"/>
<circle cx="156.3" cy="118.8" r="1.8"/>
<circle cx="159.2" cy="116" r="1.8"/>
<circle cx="161" cy="111.9" r="1.8"/>
<circle cx="157.1" cy="116.7" r="1.8"/>
<circle cx="159.3" cy="114.9" r="1.8"/>
<circle cx="160" cy="114.5" r="1.8"/>
<circle cx="164.5" cy="112.1" r="1.8"/>
<circle cx="162.9" cy="114.4" r="1.8"/>
<circle cx="161.4" cy="115.9" r="1.8"/>
<circle cx="164.3" cy="112.9" r="1.8"/>
<circle cx="161.4" cy="117.8" r="1.8"/>
<circle cx="160.8" cy="117.4" r="1.8"/>
<circle cx="165.6" cy="112.3" r="1.8"/>
<circle cx="157" cy="119.7" r="1.8"/>
<circle cx="165.8" cy="108" r="1.8"/>
<circle cx="169.6" cy="112.6" r="1.8"/>
<circle cx="167.3" cy="111.5" r="1.8"/>
<circle cx="172.6" cy="104.5" r="1.8"/>
<circle cx="173.5" cy="108.7" r="1.8"/>
<circle cx="174.7" cy="107.8" r="1.8"/>
<circle cx="175.4" cy="102" r="1.8"/>
<circle cx="173.3" cy="101" r="1.8"/>
<circle cx="167.2" cy="107.7" r="1.8"/>
<circle cx="167.1" cy="113.9" r="1.8"/>
<circle cx="167.2" cy="107.7" r="1.8"/>
<circle cx="173.2" cy="108.7" r="1.8"/>
<circle cx="176.2" cy="99.6" r="1.8"/>
<circle cx="173.9" cy="107.7" r="1.8"/>
<circle cx="167.4" cy="118.2" r="1.8"/>
<circle cx="176.8" cy="103.7" r="1.8"/>
<circle cx="168.7" cy="107.8" r="1.8"/>
<circle cx="167" cy="105.9" r="1.8"/>
<circle cx="176.3" cy="104.8" r="1.8"/>
<circle cx="169.9" cy="107.9" r="1.8"/>
<circle cx="175.5" cy="106.2" r="1.8"/>
<circle cx="177.3" cy="105.9" r="1.8"/>
<circle cx="173.8" cy="102" r="1.8"/>
<circle cx="174.2" cy="100.7" r="1.8"/>
<circle cx="167.8" cy="115.5" r="1.8"/>
<circle cx="176.9" cy="101.5" r="1.8"/>
<circle cx="168.1" cy="113.4" r="1.8"/>
<circle cx="171.7" cy="108.5" r="1.8"/>
<circle cx="166.7" cy="106.2" r="1.8"/>
<circle cx="176" cy="108.4" r="1.8"/>
<circle cx="175.2" cy="106" r="1.8"/>
<circle cx="173.2" cy="105.7" r="1.8"/>
<circle cx="171.3" cy="108.7" r="1.8"/>
<circle cx="167" cy="112.8" r="1.8"/>
<circle cx="168.8" cy="111" r="1.8"/>
<circle cx="171.9" cy="107.2" r="1.8"/>
<circle cx="172.7" cy="107.3" r="1.8"/>
<circle cx="176.9" cy="100.3" r="1.8"/>
<circle cx="174.4" cy="109.1" r="1.8"/>
<circle cx="176.4" cy="104.1" r="1.8"/>
<circle cx="167.2" cy="107.3" r="1.8"/>
<circle cx="171.8" cy="108" r="1.8"/>
<circle cx="169.3" cy="107.9" r="1.8"/>
<circle cx="174.6" cy="102.2" r="1.8"/>
<circle cx="170.1" cy="106" r="1.8"/>
<circle cx="175.6" cy="104.7" r="1.8"/>
<circle cx="176.3" cy="103.7" r="1.8"/>
<circle cx="173.3" cy="106.8" r="1.8"/>
<circle cx="169.1" cy="110.8" r="1.8"/>
<circle cx="171.6" cy="104.9" r="1.8"/>
<circle cx="169.2" cy="109.7" r="1.8"/>
<circle cx="177.1" cy="103.7" r="1.8"/>
<circle cx="172.5" cy="104.1" r="1.8"/>
<circle cx="171.6" cy="109.8" r="1.8"/>
<circle cx="172.5" cy="107.5" r="1.8"/>
<circle cx="168.2" cy="113.3" r="1.8"/>
<circle cx="173.2" cy="102.2" r="1.8"/>
<circle cx="173.7" cy="103.9" r="1.8"/>
<circle cx="176.6" cy="104.7" r="1.8"/>
<circle cx="166.9" cy="114.5" r="1.8"/>
<circle cx="170.3" cy="110.3" r="1.8"/>
<circle cx="167.8" cy="109" r="1.8"/>
<circle cx="167.1" cy="112.6" r="1.8"/>
<circle cx="176.1" cy="101.6" r="1.8"/>
<circle cx="176.8" cy="105.6" r="1.8"/>
<circle cx="171.5" cy="105.9" r="1.8"/>
<circle cx="167.9" cy="110.2" r="1.8"/>
<circle cx="175.4" cy="104.7" r="1.8"/>
<circle cx="172.6" cy="108.9" r="1.8"/>
<circle cx="187.6" cy="94.7" r="1.8"/>
<circle cx="181" cy="98.6" r="1.8"/>
<circle cx="177.6" cy="101.8" r="1.8"/>
<circle cx="178.8" cy="98.5" r="1.8"/>
<circle cx="187.3" cy="92.3" r="1.8"/>
<circle cx="187.8" cy="93.4" r="1.8"/>
<circle cx="183.3" cy="97.4" r="1.8"/>
<circle cx="186.2" cy="95.9" r="1.8"/>
<circle cx="186.5" cy="95.1" r="1.8"/>
<circle cx="177.8" cy="100.9" r="1.8"/>
<circle cx="181.6" cy="101.6" r="1.8"/>
<circle cx="188.1" cy="96.9" r="1.8"/>
<circle cx="180.5" cy="98.5" r="1.8"/>
<circle cx="182" cy="100.4" r="1.8"/>
<circle cx="183.3" cy="99.8" r="1.8"/>
<circle cx="185.2" cy="97.3" r="1.8"/>
<circle cx="185" cy="97.1" r="1.8"/>
<circle cx="183.1" cy="97" r="1.8"/>
<circle cx="181.4" cy="99.3" r="1.8"/>
<circle cx="185.3" cy="97.2" r="1.8"/>
<circle cx="186.1" cy="101.3" r="1.8"/>
<circle cx="179.9" cy="106.8" r="1.8"/>
<circle cx="181.3" cy="97.5" r="1.8"/>
<circle cx="182.8" cy="96.6" r="1.8"/>
<circle cx="180.2" cy="101.1" r="1.8"/>
<circle cx="185.5" cy="94.4" r="1.8"/>
<circle cx="188.1" cy="97.2" r="1.8"/>
<circle cx="179.4" cy="104.2" r="1.8"/>
<circle cx="179.3" cy="102.2" r="1.8"/>
<circle cx="185.4" cy="99.7" r="1.8"/>
<circle cx="178.5" cy="98.2" r="1.8"/>
<circle cx="178.4" cy="106.3" r="1.8"/>
<circle cx="179" cy="104.2" r="1.8"/>
<circle cx="183.8" cy="97.1" r="1.8"/>
<circle cx="183.3" cy="98" r="1.8"/>
<circle cx="181.9" cy="96" r="1.8"/>
<circle cx="184.4" cy="97.2" r="1.8"/>
<circle cx="182.4" cy="96.7" r="1.8"/>
<circle cx="177.8" cy="101.6" r="1.8"/>
<circle cx="178" cy="103" r="1.8"/>
<circle cx="182.8" cy="99.5" r="1.8"/>
<circle cx="180.3" cy="99.7" r="1.8"/>
<circle cx="187.4" cy="92.1" r="1.8"/>
<circle cx="187.8" cy="93.7" r="1.8"/>
<circle cx="181.6" cy="98.6" r="1.8"/>
<circle cx="178.3" cy="100.4" r="1.8"/>
<circle cx="185.5" cy="98.4" r="1.8"/>
<circle cx="187.1" cy="94.9" r="1.8"/>
<circle cx="179.6" cy="99.2" r="1.8"/>
<circle cx="184.3" cy="102.5" r="1.8"/>
<circle cx="186.2" cy="99.9" r="1.8"/>
<circle cx="182.9" cy="97.7" r="1.8"/>
<circle cx="185.4" cy="97.3" r="1.8"/>
<circle cx="182.2" cy="101.4" r="1.8"/>
<circle cx="186.3" cy="94.3" r="1.8"/>
<circle cx="179.6" cy="97.7" r="1.8"/>
<circle cx="182.5" cy="99.1" r="1.8"/>
<circle cx="187.9" cy="94.9" r="1.8"/>
<circle cx="178.5" cy="107.6" r="1.8"/>
<circle cx="181.3" cy="98.5" r="1.8"/>
<circle cx="182.9" cy="100.9" r="1.8"/>
<circle cx="195.5" cy="90.5" r="1.8"/>
<circle cx="197.3" cy="88.6" r="1.8"/>
<circle cx="196.2" cy="88.7" r="1.8"/>
<circle cx="195.8" cy="89.1" r="1.8"/>
<circle cx="198.7" cy="82.4" r="1.8"/>
<circle cx="198.8" cy="91.4" r="1.8"/>
<circle cx="195.1" cy="92.3" r="1.8"/>
<circle cx="192.3" cy="91.7" r="1.8"/>
<circle cx="199" cy="88.3" r="1.8"/>
<circle cx="195.2" cy="88.8" r="1.8"/>
<circle cx="189.6" cy="95.8" r="1.8"/>
<circle cx="190.6" cy="91.7" r="1.8"/>
<circle cx="192.4" cy="90.5" r="1.8"/>
<circle cx="193.4" cy="88" r="1.8"/>
<circle cx="188.3" cy="95.2" r="1.8"/>
<circle cx="197.6" cy="84.7" r="1.8"/>
<circle cx="194.2" cy="93.1" r="1.8"/>
<circle cx="190.7" cy="89.5" r="1.8"/>
<circle cx="190.4" cy="94.3" r="1.8"/>
<circle cx="191" cy="93.2" r="1.8"/>
<circle cx="194.1" cy="90.7" r="1.8"/>
<circle cx="198.5" cy="86.8" r="1.8"/>
<circle cx="190.2" cy="93.6" r="1.8"/>
<circle cx="191.6" cy="92.1" r="1.8"/>
<circle cx="188.7" cy="92.8" r="1.8"/>
<circle cx="196.9" cy="92.1" r="1.8"/>
<circle cx="192.7" cy="90" r="1.8"/>
<circle cx="196.4" cy="88.1" r="1.8"/>
<circle cx="196.5" cy="89.7" r="1.8"/>
<circle cx="193.9" cy="91.3" r="1.8"/>
<circle cx="194.6" cy="95.9" r="1.8"/>
<circle cx="188.6" cy="100" r="1.8"/>
<circle cx="189.8" cy="94.7" r="1.8"/>
<circle cx="189.8" cy="96.3" r="1.8"/>
<circle cx="198.6" cy="88" r="1.8"/>
<circle cx="196.2" cy="86.2" r="1.8"/>
<circle cx="192.2" cy="92" r="1.8"/>
<circle cx="198.7" cy="86.8" r="1.8"/>
<circle cx="191.8" cy="91.7" r="1.8"/>
<circle cx="191.3" cy="93" r="1.8"/>
<circle cx="190.6" cy="94.1" r="1.8"/>
<circle cx="194.1" cy="93.3" r="1.8"/>
<circle cx="194.8" cy="93.2" r="1.8"/>
<circle cx="194.6" cy="88.1" r="1.8"/>
<circle cx="192.5" cy="92.6" r="1.8"/>
<circle cx="190.3" cy="96.9" r="1.8"/>
<circle cx="192.1" cy="95.1" r="1.8"/>
<circle cx="198.6" cy="85.6" r="1.8"/>
<circle cx="189.1" cy="92.9" r="1.8"/>
<circle cx="195.5" cy="85.5" r="1.8"/>
<circle cx="190.1" cy="94.2" r="1.8"/>
<circle cx="193.9" cy="91.4" r="1.8"/>
<circle cx="193.7" cy="90.2" r="1.8"/>
<circle cx="196.8" cy="90.1" r="1.8"/>
<circle cx="197" cy="92.7" r="1.8"/>
<circle cx="192.6" cy="92.8" r="1.8"/>
<circle cx="194.5" cy="88.7" r="1.8"/>
<circle cx="189.8" cy="93.4" r="1.8"/>
<circle cx="190.5" cy="94" r="1.8"/>
<circle cx="191.4" cy="91.6" r="1.8"/>
<circle cx="194.7" cy="91.7" r="1.8"/>
<circle cx="197.9" cy="87.2" r="1.8"/>
<circle cx="207.3" cy="79" r="1.8"/>
<circle cx="206.7" cy="81" r="1.8"/>
<circle cx="206.1" cy="79.3" r="1.8"/>
<circle cx="201.6" cy="85.3" r="1.8"/>
<circle cx="206.9" cy="82.6" r="1.8"/>
<circle cx="207" cy="79.9" r="1.8"/>
<circle cx="200.2" cy="82.1" r="1.8"/>
<circle cx="208.8" cy="80.2" r="1.8"/>
<circle cx="200.5" cy="89.2" r="1.8"/>
<circle cx="208.5" cy="83.5" r="1.8"/>
<circle cx="203.2" cy="85.7" r="1.8"/>
<circle cx="200.8" cy="85.6" r="1.8"/>
<circle cx="204.6" cy="85.1" r="1.8"/>
<circle cx="202.5" cy="82.7" r="1.8"/>
<circle cx="205.1" cy="76.6" r="1.8"/>
<circle cx="205.4" cy="87.5" r="1.8"/>
<circle cx="206.8" cy="78.7" r="1.8"/>
<circle cx="201.8" cy="83.3" r="1.8"/>
<circle cx="203.7" cy="82.7" r="1.8"/>
<circle cx="208" cy="80.2" r="1.8"/>
<circle cx="200.2" cy="85.2" r="1.8"/>
<circle cx="199.3" cy="86.5" r="1.8"/>
<circle cx="203.7" cy="82" r="1.8"/>
<circle cx="207.7" cy="78.4" r="1.8"/>
<circle cx="199.1" cy="86.6" r="1.8"/>
<circle cx="206.6" cy="78" r="1.8"/>
<circle cx="206.8" cy="83.5" r="1.8"/>
<circle cx="205.6" cy="81.2" r="1.8"/>
<circle cx="199.5" cy="91.5" r="1.8"/>
<circle cx="207.1" cy="79.2" r="1.8"/>
<circle cx="204.6" cy="85" r="1.8"/>
<circle cx="206.3" cy="79.6" r="1.8"/>
<circle cx="207.1" cy="82" r="1.8"/>
<circle cx="204.9" cy="82.1" r="1.8"/>
<circle cx="207.6" cy="83.1" r="1.8"/>
<circle cx="209.6" cy="81.4" r="1.8"/>
<circle cx="204.7" cy="83.4" r="1.8"/>
<circle cx="204.9" cy="79.8" r="1.8"/>
<circle cx="209.2" cy="74.7" r="1.8"/>
<circle cx="201.1" cy="85.6" r="1.8"/>
<circle cx="201" cy="84.1" r="1.8"/>
<circle cx="200.1" cy="85.9" r="1.8"/>
<circle cx="201.2" cy="88.5" r="1.8"/>
<circle cx="201" cy="86.2" r="1.8"/>
<circle cx="204.3" cy="76.8" r="1.8"/>
<circle cx="204.4" cy="79.5" r="1.8"/>
<circle cx="203.8" cy="81.8" r="1.8"/>
<circle cx="209.1" cy="75.4" r="1.8"/>
<circle cx="201.9" cy="85.3" r="1.8"/>
<circle cx="200.4" cy="83.3" r="1.8"/>
<circle cx="207.6" cy="76.8" r="1.8"/>
<circle cx="203.1" cy="81.4" r="1.8"/>
<circle cx="207" cy="78.6" r="1.8"/>
<circle cx="207.8" cy="84.1" r="1.8"/>
<circle cx="204.1" cy="82.6" r="1.8"/>
<circle cx="202.1" cy="86.9" r="1.8"/>
<circle cx="199" cy="88.2" r="1.8"/>
<circle cx="203.5" cy="82.5" r="1.8"/>
<circle cx="203.3" cy="79.8" r="1.8"/>
<circle cx="204.8" cy="80" r="1.8"/>
<circle cx="209.1" cy="85.2" r="1.8"/>
<circle cx="206.9" cy="81" r="1.8"/>
<circle cx="201.6" cy="87.2" r="1.8"/>
<circle cx="205.3" cy="79.2" r="1.8"/>
<circle cx="202.8" cy="85.5" r="1.8"/>
<circle cx="199.7" cy="82.6" r="1.8"/>
<circle cx="206.1" cy="81.5" r="1.8"/>
<circle cx="202.9" cy="82.7" r="1.8"/>
<circle cx="199.2" cy="88.2" r="1.8"/>
<circle cx="201.7" cy="82.9" r="1.8"/>
<circle cx="202" cy="83.9" r="1.8"/>
<circle cx="208" cy="81.6" r="1.8"/>
<circle cx="202" cy="85.2" r="1.8"/>
<circle cx="200.1" cy="88.1" r="1.8"/>
<circle cx="201.4" cy="84.9" r="1.8"/>
<circle cx="204.6" cy="81.9" r="1.8"/>
<circle cx="202.1" cy="86.2" r="1.8"/>
<circle cx="205.7" cy="79.5" r="1.8"/>
<circle cx="203" cy="85.8" r="1.8"/>
<circle cx="204.9" cy="80.2" r="1.8"/>
<circle cx="209.2" cy="75.5" r="1.8"/>
<circle cx="199.2" cy="85.2" r="1.8"/>
<circle cx="209.6" cy="75.9" r="1.8"/>
<circle cx="212.2" cy="78.3" r="1.8"/>
<circle cx="217.4" cy="73.3" r="1.8"/>
<circle cx="217.6" cy="72.8" r="1.8"/>
<circle cx="214.3" cy="72.3" r="1.8"/>
<circle cx="214.1" cy="67.5" r="1.8"/>
<circle cx="218.6" cy="70.6" r="1.8"/>
<circle cx="219.9" cy="69.8" r="1.8"/>
<circle cx="212.3" cy="75.9" r="1.8"/>
<circle cx="216.8" cy="72.5" r="1.8"/>
<circle cx="212.3" cy="75.5" r="1.8"/>
<circle cx="220.4" cy="71.1" r="1.8"/>
<circle cx="216.4" cy="75" r="1.8"/>
<circle cx="210.2" cy="77.9" r="1.8"/>
<circle cx="217.1" cy="73.5" r="1.8"/>
<circle cx="213" cy="75.2" r="1.8"/>
<circle cx="215" cy="60.8" r="1.8"/>
<circle cx="219.1" cy="71" r="1.8"/>
<circle cx="213.1" cy="76.6" r="1.8"/>
<circle cx="211.2" cy="79.8" r="1.8"/>
<circle cx="213.6" cy="75.4" r="1.8"/>
<circle cx="219.4" cy="72.2" r="1.8"/>
<circle cx="218.9" cy="68.8" r="1.8"/>
<circle cx="218.8" cy="68.2" r="1.8"/>
<circle cx="210.9" cy="77" r="1.8"/>
<circle cx="220.1" cy="69.5" r="1.8"/>
<circle cx="213.9" cy="75.4" r="1.8"/>
<circle cx="218.9" cy="74.6" r="1.8"/>
<circle cx="211" cy="72.2" r="1.8"/>
<circle cx="211.3" cy="76.7" r="1.8"/>
<circle cx="213" cy="72.3" r="1.8"/>
<circle cx="211.6" cy="76.5" r="1.8"/>
<circle cx="219" cy="73.1" r="1.8"/>
<circle cx="217.9" cy="71.2" r="1.8"/>
<circle cx="219.5" cy="73.8" r="1.8"/>
<circle cx="220.1" cy="73.8" r="1.8"/>
<circle cx="215.1" cy="73.9" r="1.8"/>
<circle cx="216.5" cy="72.2" r="1.8"/>
<circle cx="212.7" cy="71.2" r="1.8"/>
<circle cx="214.2" cy="74" r="1.8"/>
<circle cx="210.7" cy="76.6" r="1.8"/>
<circle cx="210.6" cy="77" r="1.8"/>
<circle cx="212.6" cy="75.1" r="1.8"/>
<circle cx="212.3" cy="74.2" r="1.8"/>
<circle cx="212.2" cy="72.4" r="1.8"/>
<circle cx="218.4" cy="68.5" r="1.8"/>
<circle cx="211.9" cy="78.9" r="1.8"/>
<circle cx="219.4" cy="69" r="1.8"/>
<circle cx="213.3" cy="71.1" r="1.8"/>
<circle cx="210.3" cy="74.9" r="1.8"/>
<circle cx="217.1" cy="72" r="1.8"/>
<circle cx="216.7" cy="71.8" r="1.8"/>
<circle cx="211.1" cy="81.6" r="1.8"/>
<circle cx="215.4" cy="78.2" r="1.8"/>
<circle cx="220.5" cy="70.9" r="1.8"/>
<circle cx="216.5" cy="73.8" r="1.8"/>
<circle cx="220.4" cy="68.5" r="1.8"/>
<circle cx="209.9" cy="78.6" r="1.8"/>
<circle cx="213" cy="65.5" r="1.8"/>
<circle cx="215.4" cy="72.1" r="1.8"/>
<circle cx="212" cy="71.3" r="1.8"/>
<circle cx="213.1" cy="76.3" r="1.8"/>
<circle cx="220.2" cy="71.9" r="1.8"/>
<circle cx="214.9" cy="74.1" r="1.8"/>
<circle cx="216.4" cy="73.2" r="1.8"/>
<circle cx="213.1" cy="73.5" r="1.8"/>
<circle cx="218.8" cy="71.9" r="1.8"/>
<circle cx="211.7" cy="79.5" r="1.8"/>
<circle cx="216" cy="75.4" r="1.8"/>
<circle cx="215.1" cy="75.5" r="1.8"/>
<circle cx="217.9" cy="72.2" r="1.8"/>
<circle cx="217.1" cy="73.5" r="1.8"/>
<circle cx="216" cy="80" r="1.8"/>
<circle cx="214.5" cy="78" r="1.8"/>
<circle cx="210.7" cy="79.2" r="1.8"/>
<circle cx="211.4" cy="68.7" r="1.8"/>
<circle cx="218.5" cy="72" r="1.8"/>
<circle cx="210.5" cy="75.9" r="1.8"/>
<circle cx="212.2" cy="77.8" r="1.8"/>
<circle cx="217.1" cy="75.6" r="1.8"/>
<circle cx="212.4" cy="77.8" r="1.8"/>
<circle cx="220.5" cy="69" r="1.8"/>
<circle cx="214.8" cy="75.7" r="1.8"/>
<circle cx="209.9" cy="82.7" r="1.8"/>
<circle cx="218.8" cy="71.7" r="1.8"/>
<circle cx="227.5" cy="67.7" r="1.8"/>
<circle cx="221.3" cy="66.3" r="1.8"/>
<circle cx="220.7" cy="66.6" r="1.8"/>
<circle cx="226.4" cy="64.3" r="1.8"/>
<circle cx="230.6" cy="62.7" r="1.8"/>
<circle cx="223.8" cy="66.5" r="1.8"/>
<circle cx="226.5" cy="62.4" r="1.8"/>
<circle cx="225.7" cy="64.5" r="1.8"/>
<circle cx="224.9" cy="67" r="1.8"/>
<circle cx="230.4" cy="62.7" r="1.8"/>
<circle cx="230" cy="63.4" r="1.8"/>
<circle cx="227.2" cy="69.5" r="1.8"/>
<circle cx="231.3" cy="63.7" r="1.8"/>
<circle cx="226.8" cy="64.8" r="1.8"/>
<circle cx="222.8" cy="65.6" r="1.8"/>
<circle cx="223.1" cy="69.3" r="1.8"/>
<circle cx="223.5" cy="68.7" r="1.8"/>
<circle cx="229.9" cy="64.6" r="1.8"/>
<circle cx="223" cy="68.2" r="1.8"/>
<circle cx="230.7" cy="62.7" r="1.8"/>
<circle cx="223.2" cy="67.4" r="1.8"/>
<circle cx="221.5" cy="70.9" r="1.8"/>
<circle cx="225.8" cy="66.5" r="1.8"/>
<circle cx="222.4" cy="73" r="1.8"/>
<circle cx="228.8" cy="63.8" r="1.8"/>
<circle cx="230.4" cy="66.3" r="1.8"/>
<circle cx="229.1" cy="63.6" r="1.8"/>
<circle cx="222.5" cy="70.6" r="1.8"/>
<circle cx="230.2" cy="62" r="1.8"/>
<circle cx="226.2" cy="66.6" r="1.8"/>
<circle cx="225.7" cy="65.6" r="1.8"/>
<circle cx="228.6" cy="62.9" r="1.8"/>
<circle cx="230.2" cy="64.1" r="1.8"/>
<circle cx="230.7" cy="63.1" r="1.8"/>
<circle cx="226.5" cy="66" r="1.8"/>
<circle cx="226.9" cy="69" r="1.8"/>
<circle cx="223.6" cy="70.4" r="1.8"/>
<circle cx="227" cy="65.6" r="1.8"/>
<circle cx="226.1" cy="68.2" r="1.8"/>
<circle cx="227.6" cy="63.9" r="1.8"/>
<circle cx="224.1" cy="70.3" r="1.8"/>
<circle cx="230.3" cy="63.1" r="1.8"/>
<circle cx="222.1" cy="68.4" r="1.8"/>
<circle cx="229.9" cy="64.6" r="1.8"/>
<circle cx="229.4" cy="61.6" r="1.8"/>
<circle cx="231.2" cy="62" r="1.8"/>
<circle cx="221.9" cy="69.1" r="1.8"/>
<circle cx="224.4" cy="66.3" r="1.8"/>
<circle cx="228" cy="64.3" r="1.8"/>
<circle cx="224.7" cy="67.8" r="1.8"/>
<circle cx="221.1" cy="72.3" r="1.8"/>
<circle cx="227.1" cy="61.6" r="1.8"/>
<circle cx="224" cy="67.7" r="1.8"/>
<circle cx="224.8" cy="68.3" r="1.8"/>
<circle cx="229" cy="62.8" r="1.8"/>
<circle cx="221.7" cy="66.4" r="1.8"/>
<circle cx="220.5" cy="70.8" r="1.8"/>
<circle cx="229.3" cy="64.5" r="1.8"/>
<circle cx="228.6" cy="63.7" r="1.8"/>
<circle cx="231.2" cy="61.9" r="1.8"/>
<circle cx="224" cy="70.7" r="1.8"/>
<circle cx="228.6" cy="65.7" r="1.8"/>
<circle cx="222.5" cy="72.5" r="1.8"/>
<circle cx="223" cy="71" r="1.8"/>
<circle cx="223.5" cy="72.8" r="1.8"/>
<circle cx="230.2" cy="62.3" r="1.8"/>
<circle cx="225.9" cy="66.3" r="1.8"/>
<circle cx="222.1" cy="68.2" r="1.8"/>
<circle cx="221.4" cy="67.6" r="1.8"/>
<circle cx="222" cy="68.2" r="1.8"/>
<circle cx="220.8" cy="69.3" r="1.8"/>
<circle cx="221.6" cy="66.7" r="1.8"/>
<circle cx="227.7" cy="64.5" r="1.8"/>
<circle cx="228" cy="66.4" r="1.8"/>
<circle cx="225.5" cy="65.7" r="1.8"/>
<circle cx="228.6" cy="64.6" r="1.8"/>
<circle cx="230.3" cy="63.1" r="1.8"/>
<circle cx="221.9" cy="72.5" r="1.8"/>
<circle cx="230.3" cy="63.4" r="1.8"/>
<circle cx="224" cy="69.5" r="1.8"/>
<circle cx="221.4" cy="68.1" r="1.8"/>
<circle cx="227.3" cy="62.5" r="1.8"/>
<circle cx="224.6" cy="65.4" r="1.8"/>
<circle cx="222.4" cy="70.2" r="1.8"/>
<circle cx="241.8" cy="54.8" r="1.8"/>
<circle cx="241.3" cy="56.1" r="1.8"/>
<circle cx="233.1" cy="61.8" r="1.8"/>
<circle cx="239.9" cy="54.8" r="1.8"/>
<circle cx="235.7" cy="58.8" r="1.8"/>
<circle cx="237.7" cy="57.5" r="1.8"/>
<circle cx="241.1" cy="54.9" r="1.8"/>
<circle cx="232" cy="60.2" r="1.8"/>
<circle cx="241.1" cy="54.5" r="1.8"/>
<circle cx="241.1" cy="55.5" r="1.8"/>
<circle cx="238.6" cy="57.6" r="1.8"/>
<circle cx="237.7" cy="58.9" r="1.8"/>
<circle cx="238.3" cy="56.1" r="1.8"/>
<circle cx="241.5" cy="56" r="1.8"/>
<circle cx="233.8" cy="60.5" r="1.8"/>
<circle cx="238" cy="57.6" r="1.8"/>
<circle cx="241.3" cy="54.8" r="1.8"/>
<circle cx="232.1" cy="63.2" r="1.8"/>
<circle cx="237.9" cy="57" r="1.8"/>
<circle cx="239.7" cy="55.1" r="1.8"/>
<circle cx="241" cy="54.6" r="1.8"/>
<circle cx="233.6" cy="58.4" r="1.8"/>
<circle cx="241.1" cy="55.6" r="1.8"/>
<circle cx="238.8" cy="57.4" r="1.8"/>
<circle cx="237.5" cy="57.8" r="1.8"/>
<circle cx="236.5" cy="58.3" r="1.8"/>
<circle cx="239.7" cy="54.5" r="1.8"/>
<circle cx="237.9" cy="58.3" r="1.8"/>
<circle cx="241.9" cy="55.4" r="1.8"/>
<circle cx="239" cy="57.1" r="1.8"/>
<circle cx="239.5" cy="55.2" r="1.8"/>
<circle cx="234.5" cy="58.8" r="1.8"/>
<circle cx="237.8" cy="55.3" r="1.8"/>
<circle cx="240.7" cy="56.5" r="1.8"/>
<circle cx="238.3" cy="57.5" r="1.8"/>
<circle cx="238.6" cy="55.9" r="1.8"/>
<circle cx="233.4" cy="62" r="1.8"/>
<circle cx="235.5" cy="59.2" r="1.8"/>
<circle cx="232" cy="59.3" r="1.8"/>
<circle cx="237.8" cy="58.4" r="1.8"/>
<circle cx="235" cy="59.7" r="1.8"/>
<circle cx="237.2" cy="58" r="1.8"/>
<circle cx="233.7" cy="61.8" r="1.8"/>
<circle cx="240.8" cy="55.2" r="1.8"/>
<circle cx="241.5" cy="54.5" r="1.8"/>
<circle cx="240.5" cy="56.4" r="1.8"/>
<circle cx="240.5" cy="55.3" r="1.8"/>
<circle cx="238" cy="58.1" r="1.8"/>
<circle cx="240.2" cy="56" r="1.8"/>
<circle cx="234.3" cy="61.1" r="1.8"/>
<circle cx="238.6" cy="58.5" r="1.8"/>
<circle cx="239.3" cy="58.2" r="1.8"/>
<circle cx="236.9" cy="57.9" r="1.8"/>
<circle cx="240.9" cy="54.9" r="1.8"/>
<circle cx="232.6" cy="59.1" r="1.8"/>
<circle cx="240" cy="56.1" r="1.8"/>
<circle cx="232.7" cy="60.3" r="1.8"/>
<circle cx="236.5" cy="58.5" r="1.8"/>
<circle cx="240" cy="55.8" r="1.8"/>
<circle cx="236.6" cy="59.6" r="1.8"/>
<circle cx="240.3" cy="56.6" r="1.8"/>
<circle cx="237.4" cy="57.7" r="1.8"/>
<circle cx="236.9" cy="58.2" r="1.8"/>
<circle cx="241.9" cy="54.5" r="1.8"/>
<circle cx="237.9" cy="57.5" r="1.8"/>
<circle cx="236.6" cy="60.6" r="1.8"/>
<circle cx="241.1" cy="54.7" r="1.8"/>
<circle cx="232.5" cy="62.2" r="1.8"/>
<circle cx="241.9" cy="54.5" r="1.8"/>
<circle cx="241.4" cy="56.4" r="1.8"/>
<circle cx="236.8" cy="59.8" r="1.8"/>
<circle cx="239.3" cy="57.7" r="1.8"/>
<circle cx="239.9" cy="55" r="1.8"/>
<circle cx="241.8" cy="55.9" r="1.8"/>
<circle cx="239.8" cy="56.9" r="1.8"/>
<circle cx="235.7" cy="59.7" r="1.8"/>
<circle cx="234.2" cy="60.8" r="1.8"/>
<circle cx="242" cy="54.6" r="1.8"/>
<circle cx="237.6" cy="57.3" r="1.8"/>
<circle cx="239.5" cy="57" r="1.8"/>
<circle cx="238.2" cy="57.5" r="1.8"/>
<circle cx="241.1" cy="55.4" r="1.8"/>
<circle cx="237.5" cy="57.9" r="1.8"/>
<circle cx="241.3" cy="54.5" r="1.8"/>
<circle cx="240.4" cy="56.5" r="1.8"/>
<circle cx="235.9" cy="59.3" r="1.8"/>
<circle cx="234" cy="58.8" r="1.8"/>
<circle cx="241" cy="54.5" r="1.8"/>
<circle cx="233.8" cy="62.5" r="1.8"/>
<circle cx="241.4" cy="54.5" r="1.8"/>
<circle cx="236.3" cy="58.1" r="1.8"/>
<circle cx="235.9" cy="59" r="1.8"/>
<circle cx="241.5" cy="54.5" r="1.8"/>
<circle cx="241.6" cy="54.5" r="1.8"/>
<circle cx="233.8" cy="61.6" r="1.8"/>
<circle cx="235.7" cy="59.5" r="1.8"/>
<circle cx="236.2" cy="58.3" r="1.8"/>
<circle cx="241.8" cy="54.5" r="1.8"/>
<circle cx="240.2" cy="56.1" r="1.8"/>
<circle cx="235.6" cy="60.2" r="1.8"/>
<circle cx="240.2" cy="56.1" r="1.8"/>
<circle cx="238.4" cy="58.1" r="1.8"/>
<circle cx="241.8" cy="54.6" r="1.8"/>
<circle cx="231.5" cy="63.5" r="1.8"/>
<circle cx="236.6" cy="58.4" r="1.8"/>
<circle cx="241.4" cy="55.9" r="1.8"/>
<circle cx="240.9" cy="54.9" r="1.8"/>
<circle cx="241.1" cy="54.5" r="1.8"/>
<circle cx="240.7" cy="56.1" r="1.8"/>
<circle cx="237.8" cy="56.2" r="1.8"/>
<circle cx="240.7" cy="55.8" r="1.8"/>
<circle cx="232.3" cy="62.5" r="1.8"/>
<circle cx="240.9" cy="57.3" r="1.8"/>
<circle cx="241.6" cy="54.5" r="1.8"/>
<circle cx="233.2" cy="64.7" r="1.8"/>
<circle cx="240.7" cy="55" r="1.8"/>
<circle cx="239.9" cy="56" r="1.8"/>
<circle cx="241.7" cy="54.9" r="1.8"/>
<circle cx="239.7" cy="54.7" r="1.8"/>
<circle cx="241.1" cy="55.1" r="1.8"/>
<circle cx="234.6" cy="60.4" r="1.8"/>
<circle cx="235.7" cy="58.6" r="1.8"/>
<circle cx="240.3" cy="58" r="1.8"/>
<circle cx="235.5" cy="59" r="1.8"/>
<circle cx="232.2" cy="63.4" r="1.8"/>
<circle cx="240" cy="56.3" r="1.8"/>
<circle cx="234.4" cy="59.5" r="1.8"/>
<circle cx="237.4" cy="59" r="1.8"/>
<circle cx="231.8" cy="60.3" r="1.8"/>
<circle cx="241.6" cy="54.5" r="1.8"/>
<circle cx="237.9" cy="57.8" r="1.8"/>
<circle cx="234.7" cy="59.3" r="1.8"/>
<circle cx="242.1" cy="54.5" r="1.8"/>
<circle cx="233" cy="61.6" r="1.8"/>
<circle cx="235.7" cy="59.2" r="1.8"/>
<circle cx="237.3" cy="59.5" r="1.8"/>
<circle cx="238.8" cy="56.7" r="1.8"/>
<circle cx="101.1" cy="171.5" r="1.8"/>
<circle cx="90.7" cy="179.1" r="1.8"/>
<circle cx="63.2" cy="178.7" r="1.8"/>
<circle cx="85.8" cy="161.8" r="1.8"/>
<circle cx="181.7" cy="90.8" r="1.8"/>
<circle cx="199" cy="77.9" r="1.8"/>
<circle cx="211.9" cy="68.2" r="1.8"/>
<circle cx="220.5" cy="79.5" r="1.8"/>
<circle cx="195.7" cy="98" r="1.8"/>
</g>
<path d="M28.9 212l2.2 3.9h-4.4zM28 212.9l2.2 3.9h-4.4zM31.2 205.4l2.2 3.9h-4.4zM32.1 209.4l2.2 3.9h-4.4zM37.1 205l2.2 3.9h-4.4zM35.2 206.8l2.2 3.9h-4.4zM26.9 213.5l2.2 3.9h-4.4zM33.8 209l2.2 3.9h-4.4zM37.2 204.8l2.2 3.9h-4.4zM37.1 205.3l2.2 3.9h-4.4zM35.9 208.1l2.2 3.9h-4.4zM35.4 206.3l2.2 3.9h-4.4zM31.1 210l2.2 3.9h-4.4zM34 209.7l2.2 3.9h-4.4zM29.6 211.5l2.2 3.9h-4.4zM27.9 213l2.2 3.9h-4.4zM32.7 210.2l2.2 3.9h-4.4zM26.6 213.6l2.2 3.9h-4.4zM27.7 212.6l2.2 3.9h-4.4zM28.2 211.7l2.2 3.9h-4.4zM32.2 209.2l2.2 3.9h-4.4zM33.5 208.8l2.2 3.9h-4.4zM31.3 211.1l2.2 3.9h-4.4zM26.7 213.7l2.2 3.9h-4.4zM32.7 209.2l2.2 3.9h-4.4zM29.9 211.6l2.2 3.9h-4.4zM34.5 208.9l2.2 3.9h-4.4zM33 209.5l2.2 3.9h-4.4zM36.2 206.5l2.2 3.9h-4.4zM35.2 207.3l2.2 3.9h-4.4zM27 213.7l2.2 3.9h-4.4zM31 209.6l2.2 3.9h-4.4zM29.3 212.4l2.2 3.9h-4.4zM31.1 210l2.2 3.9h-4.4zM33.1 208.2l2.2 3.9h-4.4zM29.6 211.4l2.2 3.9h-4.4zM26.9 213.4l2.2 3.9h-4.4zM27.9 212.9l2.2 3.9h-4.4zM26.8 212.5l2.2 3.9h-4.4zM32.4 209.2l2.2 3.9h-4.4zM29.1 211.8l2.2 3.9h-4.4zM30.1 210.7l2.2 3.9h-4.4zM29.4 212.2l2.2 3.9h-4.4zM32.2 210.3l2.2 3.9h-4.4zM28.2 211.5l2.2 3.9h-4.4zM35.9 208.1l2.2 3.9h-4.4zM27 213.3l2.2 3.9h-4.4zM28.2 211.6l2.2 3.9h-4.4zM36 206.7l2.2 3.9h-4.4zM30.1 211.6l2.2 3.9h-4.4zM32.8 208.6l2.2 3.9h-4.4zM36.2 205.4l2.2 3.9h-4.4zM26.6 213.7l2.2 3.9h-4.4zM29.5 211.1l2.2 3.9h-4.4zM29.5 210.8l2.2 3.9h-4.4zM31.2 210.1l2.2 3.9h-4.4zM35.3 207.6l2.2 3.9h-4.4zM32.1 208.9l2.2 3.9h-4.4zM28.8 211.7l2.2 3.9h-4.4zM28.1 212.6l2.2 3.9h-4.4zM37.2 206l2.2 3.9h-4.4zM27.4 212.2l2.2 3.9h-4.4zM28.9 211.7l2.2 3.9h-4.4zM28.7 211.4l2.2 3.9h-4.4zM34.8 203.5l2.2 3.9h-4.4zM31.9 208.1l2.2 3.9h-4.4zM27 213.2l2.2 3.9h-4.4zM33.4 208.6l2.2 3.9h-4.4zM29.8 210.9l2.2 3.9h-4.4zM31 210.4l2.2 3.9h-4.4zM42.5 201.9l2.2 3.9h-4.4zM47.1 197.7l2.2 3.9h-4.4zM42.4 199.9l2.2 3.9h-4.4zM47.8 198.4l2.2 3.9h-4.4zM43.1 202.1l2.2 3.9h-4.4zM39.5 204.7l2.2 3.9h-4.4zM42 205.4l2.2 3.9h-4.4zM41.3 200.7l2.2 3.9h-4.4zM42.5 201.7l2.2 3.9h-4.4zM43.8 199l2.2 3.9h-4.4zM46 197.9l2.2 3.9h-4.4zM43 198.9l2.2 3.9h-4.4zM47.7 196.3l2.2 3.9h-4.4zM46.9 199.7l2.2 3.9h-4.4zM38.2 205.7l2.2 3.9h-4.4zM41.1 199.9l2.2 3.9h-4.4zM38.6 205.1l2.2 3.9h-4.4zM41.9 201.7l2.2 3.9h-4.4zM40 208.9l2.2 3.9h-4.4zM44.9 198.7l2.2 3.9h-4.4zM38.9 203.7l2.2 3.9h-4.4zM39.5 203l2.2 3.9h-4.4zM37.5 205.1l2.2 3.9h-4.4zM39.4 201.1l2.2 3.9h-4.4zM42.7 202.2l2.2 3.9h-4.4zM39.7 203.1l2.2 3.9h-4.4zM45 202.3l2.2 3.9h-4.4zM45.3 198.8l2.2 3.9h-4.4zM41.7 201.8l2.2 3.9h-4.4zM37.6 205l2.2 3.9h-4.4zM48 199.1l2.2 3.9h-4.4zM46.2 199.8l2.2 3.9h-4.4zM44.5 204.8l2.2 3.9h-4.4zM42.1 202.3l2.2 3.9h-4.4zM37.4 204.3l2.2 3.9h-4.4zM40.2 204.3l2.2 3.9h-4.4zM41.1 201.4l2.2 3.9h-4.4zM46.1 198.9l2.2 3.9h-4.4zM43 200.7l2.2 3.9h-4.4zM46.1 199.4l2.2 3.9h-4.4zM42 201.1l2.2 3.9h-4.4zM45 199.1l2.2 3.9h-4.4zM39.4 206.4l2.2 3.9h-4.4zM37.8 208.5l2.2 3.9h-4.4zM41.3 204.2l2.2 3.9h-4.4zM43 199.9l2.2 3.9h-4.4zM47.7 197.4l2.2 3.9h-4.4zM39.1 204l2.2 3.9h-4.4zM44.5 202.3l2.2 3.9h-4.4zM46.8 199.2l2.2 3.9h-4.4zM43.9 201.4l2.2 3.9h-4.4zM41.8 201.1l2.2 3.9h-4.4zM45.5 198.8l2.2 3.9h-4.4zM50.3 196.1l2.2 3.9h-4.4zM52.7 192.5l2.2 3.9h-4.4zM50 196.5l2.2 3.9h-4.4zM55 195.7l2.2 3.9h-4.4zM52.9 195.5l2.2 3.9h-4.4zM57.8 188.1l2.2 3.9h-4.4zM56.4 191.3l2.2 3.9h-4.4zM53.5 195.9l2.2 3.9h-4.4zM51.8 194.8l2.2 3.9h-4.4zM53.2 192.9l2.2 3.9h-4.4zM58.3 189.5l2.2 3.9h-4.4zM57.7 186.1l2.2 3.9h-4.4zM57.3 191.8l2.2 3.9h-4.4zM57.7 192.2l2.2 3.9h-4.4zM58.3 183.2l2.2 3.9h-4.4zM55.5 194.2l2.2 3.9h-4.4zM52.5 195l2.2 3.9h-4.4zM54.3 193.7l2.2 3.9h-4.4zM52.3 194.2l2.2 3.9h-4.4zM55 195.6l2.2 3.9h-4.4zM49.6 196.1l2.2 3.9h-4.4zM58.1 187.7l2.2 3.9h-4.4zM48.4 193.1l2.2 3.9h-4.4zM54.6 190.1l2.2 3.9h-4.4zM53.5 191.5l2.2 3.9h-4.4zM54.7 195l2.2 3.9h-4.4zM58.4 190.8l2.2 3.9h-4.4zM55.8 191.8l2.2 3.9h-4.4zM57.5 193.5l2.2 3.9h-4.4zM58.5 192.3l2.2 3.9h-4.4zM55.9 193.9l2.2 3.9h-4.4zM52.1 194.1l2.2 3.9h-4.4zM48.9 195.6l2.2 3.9h-4.4zM57.6 197.6l2.2 3.9h-4.4zM57.3 193.2l2.2 3.9h-4.4zM54.5 191.3l2.2 3.9h-4.4zM54.1 193l2.2 3.9h-4.4zM56.7 190.3l2.2 3.9h-4.4zM49.7 198.1l2.2 3.9h-4.4zM58.1 190.2l2.2 3.9h-4.4zM59.6 188.3l2.2 3.9h-4.4zM59.7 190.2l2.2 3.9h-4.4zM65.2 184.5l2.2 3.9h-4.4zM68.2 184.2l2.2 3.9h-4.4zM59.2 174.2l2.2 3.9h-4.4zM60.4 187l2.2 3.9h-4.4zM58.9 188.6l2.2 3.9h-4.4zM69.4 178.6l2.2 3.9h-4.4zM66.7 185l2.2 3.9h-4.4zM67.2 184.7l2.2 3.9h-4.4zM63.9 186.9l2.2 3.9h-4.4zM61.9 187.8l2.2 3.9h-4.4zM63.6 202.9l2.2 3.9h-4.4zM67.4 184.1l2.2 3.9h-4.4zM60.5 190l2.2 3.9h-4.4zM66.3 181.6l2.2 3.9h-4.4zM63.3 186.7l2.2 3.9h-4.4zM60.5 186.6l2.2 3.9h-4.4zM59 184.9l2.2 3.9h-4.4zM61.4 186.4l2.2 3.9h-4.4zM65.8 182.9l2.2 3.9h-4.4zM62.9 187.3l2.2 3.9h-4.4zM69.6 183.5l2.2 3.9h-4.4zM64.6 181.4l2.2 3.9h-4.4zM62.2 187l2.2 3.9h-4.4zM68.2 180.7l2.2 3.9h-4.4zM67.5 183.4l2.2 3.9h-4.4zM65.4 183.8l2.2 3.9h-4.4zM65.9 181.6l2.2 3.9h-4.4zM68.8 177.6l2.2 3.9h-4.4zM66.9 183.3l2.2 3.9h-4.4zM69 180.9l2.2 3.9h-4.4zM66.1 175.5l2.2 3.9h-4.4zM63.3 181.9l2.2 3.9h-4.4zM63.2 188.5l2.2 3.9h-4.4zM67.4 184.9l2.2 3.9h-4.4zM60.5 189l2.2 3.9h-4.4zM70.4 182l2.2 3.9h-4.4zM72 180.9l2.2 3.9h-4.4zM73.5 175.8l2.2 3.9h-4.4zM76.5 180.4l2.2 3.9h-4.4zM73.3 179l2.2 3.9h-4.4zM72.9 183.5l2.2 3.9h-4.4zM73.7 182.3l2.2 3.9h-4.4zM72 181.7l2.2 3.9h-4.4zM76.9 183.9l2.2 3.9h-4.4zM70.5 181.8l2.2 3.9h-4.4zM78.5 175.5l2.2 3.9h-4.4zM70.9 182.4l2.2 3.9h-4.4zM72.3 178.6l2.2 3.9h-4.4zM69.9 181.6l2.2 3.9h-4.4zM75.5 176.5l2.2 3.9h-4.4zM77.4 174.2l2.2 3.9h-4.4zM73.6 176l2.2 3.9h-4.4zM80.3 175.7l2.2 3.9h-4.4zM76 180.2l2.2 3.9h-4.4zM74.3 174.4l2.2 3.9h-4.4zM69.8 180.8l2.2 3.9h-4.4zM76.3 174l2.2 3.9h-4.4zM79 173.4l2.2 3.9h-4.4zM79.3 172.3l2.2 3.9h-4.4zM78.9 171.6l2.2 3.9h-4.4zM70.3 179l2.2 3.9h-4.4zM71.3 181.5l2.2 3.9h-4.4zM80.4 171.8l2.2 3.9h-4.4zM84.4 168.5l2.2 3.9h-4.4zM89.4 166.4l2.2 3.9h-4.4zM84.4 171.8l2.2 3.9h-4.4zM90.6 164.8l2.2 3.9h-4.4zM82.6 172.9l2.2 3.9h-4.4zM86.8 165.5l2.2 3.9h-4.4zM84.4 159.9l2.2 3.9h-4.4zM80.6 174.8l2.2 3.9h-4.4zM86 172.5l2.2 3.9h-4.4zM80.4 177.1l2.2 3.9h-4.4zM90.6 164.3l2.2 3.9h-4.4zM86.5 167.7l2.2 3.9h-4.4zM88.7 167.7l2.2 3.9h-4.4zM84.4 166.6l2.2 3.9h-4.4zM83.6 179.9l2.2 3.9h-4.4zM83.3 170.6l2.2 3.9h-4.4zM90.6 165l2.2 3.9h-4.4zM88.6 171.7l2.2 3.9h-4.4zM84 171.9l2.2 3.9h-4.4zM87.7 168.2l2.2 3.9h-4.4zM83.7 175.5l2.2 3.9h-4.4zM87.4 171.3l2.2 3.9h-4.4zM89.3 166.3l2.2 3.9h-4.4zM82.9 167.6l2.2 3.9h-4.4zM88.4 166.8l2.2 3.9h-4.4zM88.2 166l2.2 3.9h-4.4zM87.8 171.5l2.2 3.9h-4.4zM80.6 170.8l2.2 3.9h-4.4zM87.9 164.9l2.2 3.9h-4.4zM86.5 184.7l2.2 3.9h-4.4zM89.3 166.3l2.2 3.9h-4.4zM86.2 167.3l2.2 3.9h-4.4zM85.2 168.6l2.2 3.9h-4.4zM86.6 170.3l2.2 3.9h-4.4zM95.2 164.2l2.2 3.9h-4.4zM100.9 159.9l2.2 3.9h-4.4zM97 159.9l2.2 3.9h-4.4zM94.1 161.2l2.2 3.9h-4.4zM99.3 151.2l2.2 3.9h-4.4zM96 159.3l2.2 3.9h-4.4zM101.9 157l2.2 3.9h-4.4zM98.9 160.9l2.2 3.9h-4.4zM93.9 163.5l2.2 3.9h-4.4zM94.9 159.7l2.2 3.9h-4.4zM100.5 154.5l2.2 3.9h-4.4zM99.4 157.6l2.2 3.9h-4.4zM95.7 161.1l2.2 3.9h-4.4zM96.3 164.3l2.2 3.9h-4.4zM98.3 159.1l2.2 3.9h-4.4zM91.8 168.4l2.2 3.9h-4.4zM99.4 160.3l2.2 3.9h-4.4zM99.8 155l2.2 3.9h-4.4zM99 162.6l2.2 3.9h-4.4zM99.2 162.6l2.2 3.9h-4.4zM96.9 161l2.2 3.9h-4.4zM91.4 165.1l2.2 3.9h-4.4zM93.6 165l2.2 3.9h-4.4zM96.8 158.8l2.2 3.9h-4.4zM97.5 165.7l2.2 3.9h-4.4zM93.1 170.6l2.2 3.9h-4.4zM108.1 152.5l2.2 3.9h-4.4zM109.7 150.6l2.2 3.9h-4.4zM112 150.3l2.2 3.9h-4.4zM104.1 157.2l2.2 3.9h-4.4zM111.8 152l2.2 3.9h-4.4zM107.9 150.3l2.2 3.9h-4.4zM108.4 156.6l2.2 3.9h-4.4zM108 152.2l2.2 3.9h-4.4zM105.9 156.6l2.2 3.9h-4.4zM108.2 153.6l2.2 3.9h-4.4zM109.2 153.3l2.2 3.9h-4.4zM104.3 152.5l2.2 3.9h-4.4zM107.3 155.3l2.2 3.9h-4.4zM103.1 157.3l2.2 3.9h-4.4zM102.5 159.1l2.2 3.9h-4.4zM111.1 150l2.2 3.9h-4.4zM102.7 154.6l2.2 3.9h-4.4zM103.6 159.1l2.2 3.9h-4.4zM102 160.8l2.2 3.9h-4.4zM105.3 149.4l2.2 3.9h-4.4zM106.5 150.4l2.2 3.9h-4.4zM119.3 146.1l2.2 3.9h-4.4zM115 148l2.2 3.9h-4.4zM117.5 153.3l2.2 3.9h-4.4zM112.9 144.2l2.2 3.9h-4.4zM120.5 141.9l2.2 3.9h-4.4zM113.9 150.3l2.2 3.9h-4.4zM122.9 142.1l2.2 3.9h-4.4zM115.9 147.4l2.2 3.9h-4.4zM123.5 145.7l2.2 3.9h-4.4zM116.5 152.7l2.2 3.9h-4.4zM118.9 146.1l2.2 3.9h-4.4zM123.2 142.8l2.2 3.9h-4.4zM117.4 144.6l2.2 3.9h-4.4zM121.2 144.9l2.2 3.9h-4.4zM119.7 139l2.2 3.9h-4.4zM122.6 140.9l2.2 3.9h-4.4zM117.2 145.9l2.2 3.9h-4.4zM117.7 142.5l2.2 3.9h-4.4zM120.5 144.1l2.2 3.9h-4.4zM122.5 142l2.2 3.9h-4.4zM116 147.9l2.2 3.9h-4.4zM122.2 150.5l2.2 3.9h-4.4zM133.7 128.7l2.2 3.9h-4.4zM133.9 134l2.2 3.9h-4.4zM125.9 139.3l2.2 3.9h-4.4zM123.8 140.6l2.2 3.9h-4.4zM127.2 137.3l2.2 3.9h-4.4zM126.5 135.3l2.2 3.9h-4.4zM127.3 141.1l2.2 3.9h-4.4zM125.6 143.9l2.2 3.9h-4.4zM124.8 137.2l2.2 3.9h-4.4zM125.8 140.2l2.2 3.9h-4.4zM132.9 131.4l2.2 3.9h-4.4zM133.3 133.9l2.2 3.9h-4.4zM133.2 130l2.2 3.9h-4.4zM127.4 138.9l2.2 3.9h-4.4zM129.4 135.9l2.2 3.9h-4.4zM124.8 143.7l2.2 3.9h-4.4zM130.7 134.2l2.2 3.9h-4.4zM127.9 139.7l2.2 3.9h-4.4zM132.5 133.9l2.2 3.9h-4.4zM134.2 131l2.2 3.9h-4.4zM125.4 140.3l2.2 3.9h-4.4zM124.6 140.6l2.2 3.9h-4.4zM142.8 127.7l2.2 3.9h-4.4zM143.6 124.5l2.2 3.9h-4.4zM143.8 123.3l2.2 3.9h-4.4zM136.2 129.9l2.2 3.9h-4.4zM140.7 130.2l2.2 3.9h-4.4zM143.6 127.5l2.2 3.9h-4.4zM143 124.8l2.2 3.9h-4.4zM140.9 129.9l2.2 3.9h-4.4zM142.2 127.2l2.2 3.9h-4.4zM140.4 129.7l2.2 3.9h-4.4zM139.7 129.2l2.2 3.9h-4.4zM135.1 127.3l2.2 3.9h-4.4zM140.4 128.8l2.2 3.9h-4.4zM138 132.2l2.2 3.9h-4.4zM141.4 131.5l2.2 3.9h-4.4zM143.3 126.2l2.2 3.9h-4.4zM144 120.7l2.2 3.9h-4.4zM138.3 132l2.2 3.9h-4.4zM144.8 123.9l2.2 3.9h-4.4zM138.3 131.2l2.2 3.9h-4.4zM139.2 126.9l2.2 3.9h-4.4zM140.4 130.4l2.2 3.9h-4.4zM143.7 125.4l2.2 3.9h-4.4zM136.5 133.4l2.2 3.9h-4.4zM143 123.6l2.2 3.9h-4.4zM151.6 120.7l2.2 3.9h-4.4zM152 122.6l2.2 3.9h-4.4zM153.9 122.5l2.2 3.9h-4.4zM148.6 123.8l2.2 3.9h-4.4zM145.7 125l2.2 3.9h-4.4zM155.2 118.5l2.2 3.9h-4.4zM148.8 120.8l2.2 3.9h-4.4zM145.5 125.5l2.2 3.9h-4.4zM148.1 121.8l2.2 3.9h-4.4zM147 123.1l2.2 3.9h-4.4zM153.6 118.9l2.2 3.9h-4.4zM147.4 122.7l2.2 3.9h-4.4zM152.2 121.2l2.2 3.9h-4.4zM151.7 118.7l2.2 3.9h-4.4zM153.2 119.8l2.2 3.9h-4.4zM153.4 122.2l2.2 3.9h-4.4zM147 122l2.2 3.9h-4.4zM145.2 128l2.2 3.9h-4.4zM155.2 115.4l2.2 3.9h-4.4zM149.8 121.1l2.2 3.9h-4.4zM151.4 122.1l2.2 3.9h-4.4zM154.1 117.1l2.2 3.9h-4.4zM153.7 118.8l2.2 3.9h-4.4zM147.1 127l2.2 3.9h-4.4zM157.4 116.3l2.2 3.9h-4.4zM163.8 113.4l2.2 3.9h-4.4zM161.3 114.7l2.2 3.9h-4.4zM158.6 114.5l2.2 3.9h-4.4zM164.5 106.8l2.2 3.9h-4.4zM159.2 111.2l2.2 3.9h-4.4zM162.2 111.8l2.2 3.9h-4.4zM161.3 112l2.2 3.9h-4.4zM162.7 112.3l2.2 3.9h-4.4zM165.6 110.2l2.2 3.9h-4.4zM162.6 107.5l2.2 3.9h-4.4zM157.6 116.6l2.2 3.9h-4.4zM158.3 112.1l2.2 3.9h-4.4zM159.2 114.9l2.2 3.9h-4.4zM163.5 111.8l2.2 3.9h-4.4zM162 110l2.2 3.9h-4.4zM163.5 109l2.2 3.9h-4.4zM157.4 118.1l2.2 3.9h-4.4zM164.9 109.2l2.2 3.9h-4.4zM158.4 113.7l2.2 3.9h-4.4zM164.6 107.5l2.2 3.9h-4.4zM161.9 110.8l2.2 3.9h-4.4zM157.3 116.2l2.2 3.9h-4.4zM156.3 113.4l2.2 3.9h-4.4zM157.8 117.1l2.2 3.9h-4.4zM159 110.7l2.2 3.9h-4.4zM158.6 115.2l2.2 3.9h-4.4zM167.1 109.3l2.2 3.9h-4.4zM174.1 101.8l2.2 3.9h-4.4zM174.3 104.9l2.2 3.9h-4.4zM167.8 107.4l2.2 3.9h-4.4zM173.2 101.3l2.2 3.9h-4.4zM173.9 105.9l2.2 3.9h-4.4zM167.9 112.2l2.2 3.9h-4.4zM177.3 103.5l2.2 3.9h-4.4zM175.1 101l2.2 3.9h-4.4zM168.8 108l2.2 3.9h-4.4zM174.3 102.3l2.2 3.9h-4.4zM171.4 107.7l2.2 3.9h-4.4zM175 100.4l2.2 3.9h-4.4zM170.3 106l2.2 3.9h-4.4zM169.3 102.4l2.2 3.9h-4.4zM168.2 113.9l2.2 3.9h-4.4zM177.1 98.3l2.2 3.9h-4.4zM169.4 104.7l2.2 3.9h-4.4zM166.8 108.2l2.2 3.9h-4.4zM168.4 107.6l2.2 3.9h-4.4zM173.4 99.2l2.2 3.9h-4.4zM172.3 104.6l2.2 3.9h-4.4zM168.6 108.3l2.2 3.9h-4.4zM167.6 106.1l2.2 3.9h-4.4zM168.8 109l2.2 3.9h-4.4zM173.1 106.9l2.2 3.9h-4.4zM168.4 108.2l2.2 3.9h-4.4zM172 107.6l2.2 3.9h-4.4zM173.7 102.7l2.2 3.9h-4.4zM167.7 107.6l2.2 3.9h-4.4zM175.8 102.7l2.2 3.9h-4.4zM168.4 107.9l2.2 3.9h-4.4zM178.9 97.8l2.2 3.9h-4.4zM180.3 100.2l2.2 3.9h-4.4zM182.4 97.2l2.2 3.9h-4.4zM183.2 97.1l2.2 3.9h-4.4zM182.3 95l2.2 3.9h-4.4zM187 92.2l2.2 3.9h-4.4zM183.6 97.1l2.2 3.9h-4.4zM183.1 93.7l2.2 3.9h-4.4zM181.8 99.6l2.2 3.9h-4.4zM177.8 101.1l2.2 3.9h-4.4zM185.5 94.4l2.2 3.9h-4.4zM185.7 93l2.2 3.9h-4.4zM178 99.1l2.2 3.9h-4.4zM181.4 100.2l2.2 3.9h-4.4zM178.4 102.3l2.2 3.9h-4.4zM187.7 94l2.2 3.9h-4.4zM178.9 99l2.2 3.9h-4.4zM178.5 96.6l2.2 3.9h-4.4zM182.3 98.4l2.2 3.9h-4.4zM187.7 93l2.2 3.9h-4.4zM182.9 98.9l2.2 3.9h-4.4zM179.3 99.1l2.2 3.9h-4.4zM183.4 97.3l2.2 3.9h-4.4zM178 100.7l2.2 3.9h-4.4zM187.4 92l2.2 3.9h-4.4zM178.9 98l2.2 3.9h-4.4zM181.6 95.8l2.2 3.9h-4.4zM177.9 91.6l2.2 3.9h-4.4zM179.1 99.1l2.2 3.9h-4.4zM198 85.6l2.2 3.9h-4.4zM198 84.2l2.2 3.9h-4.4zM195.9 84.5l2.2 3.9h-4.4zM198.3 84.6l2.2 3.9h-4.4zM198.5 88.8l2.2 3.9h-4.4zM190.2 86.2l2.2 3.9h-4.4zM188.9 90.2l2.2 3.9h-4.4zM191.4 93.2l2.2 3.9h-4.4zM198.8 82.3l2.2 3.9h-4.4zM189.5 92.4l2.2 3.9h-4.4zM195.6 88.4l2.2 3.9h-4.4zM190 92.4l2.2 3.9h-4.4zM193.3 83.8l2.2 3.9h-4.4zM190 90.5l2.2 3.9h-4.4zM192.8 88.4l2.2 3.9h-4.4zM198 83.1l2.2 3.9h-4.4zM196.9 84.3l2.2 3.9h-4.4zM192.9 88.9l2.2 3.9h-4.4zM192.8 89.1l2.2 3.9h-4.4zM197 89.6l2.2 3.9h-4.4zM194.1 88.1l2.2 3.9h-4.4zM190.6 92.2l2.2 3.9h-4.4zM197.4 90.2l2.2 3.9h-4.4zM195.7 88.6l2.2 3.9h-4.4zM196 84.3l2.2 3.9h-4.4zM196.4 87.4l2.2 3.9h-4.4zM194.2 87.9l2.2 3.9h-4.4zM189.7 91l2.2 3.9h-4.4zM193.7 85.4l2.2 3.9h-4.4zM203.9 81.1l2.2 3.9h-4.4zM203.5 82l2.2 3.9h-4.4zM202.7 83l2.2 3.9h-4.4zM208 77.1l2.2 3.9h-4.4zM202.9 80.2l2.2 3.9h-4.4zM200.7 89.3l2.2 3.9h-4.4zM206.7 79l2.2 3.9h-4.4zM204.9 79.6l2.2 3.9h-4.4zM207.5 78.5l2.2 3.9h-4.4zM201.8 80.8l2.2 3.9h-4.4zM207.8 75.6l2.2 3.9h-4.4zM208.4 78.5l2.2 3.9h-4.4zM203.6 82.3l2.2 3.9h-4.4zM203.7 80.2l2.2 3.9h-4.4zM208.4 78.8l2.2 3.9h-4.4zM201.2 83.6l2.2 3.9h-4.4zM201.3 82.6l2.2 3.9h-4.4zM200.8 87.1l2.2 3.9h-4.4zM209.8 78.4l2.2 3.9h-4.4zM204.4 77.9l2.2 3.9h-4.4zM205.4 78.6l2.2 3.9h-4.4zM204 78.5l2.2 3.9h-4.4zM203.4 80.9l2.2 3.9h-4.4zM207.1 77.5l2.2 3.9h-4.4zM208.6 79l2.2 3.9h-4.4zM201.8 84.7l2.2 3.9h-4.4zM207.1 79.9l2.2 3.9h-4.4zM204.2 81.5l2.2 3.9h-4.4zM201.8 84.6l2.2 3.9h-4.4zM207.2 78.1l2.2 3.9h-4.4zM199 86.7l2.2 3.9h-4.4zM209.4 78.5l2.2 3.9h-4.4zM207.6 73.5l2.2 3.9h-4.4zM209.2 76.2l2.2 3.9h-4.4zM200.9 81l2.2 3.9h-4.4zM199.4 86.4l2.2 3.9h-4.4zM209.2 74.2l2.2 3.9h-4.4zM206.7 81.2l2.2 3.9h-4.4zM205.6 79.1l2.2 3.9h-4.4zM213.8 74.7l2.2 3.9h-4.4zM216.2 71.6l2.2 3.9h-4.4zM212 75l2.2 3.9h-4.4zM212 70.9l2.2 3.9h-4.4zM217.2 73.3l2.2 3.9h-4.4zM215.4 72.5l2.2 3.9h-4.4zM210.1 71.4l2.2 3.9h-4.4zM212 73.4l2.2 3.9h-4.4zM210 78.5l2.2 3.9h-4.4zM209.9 71.3l2.2 3.9h-4.4zM212.7 76.1l2.2 3.9h-4.4zM213 73.4l2.2 3.9h-4.4zM213 70.5l2.2 3.9h-4.4zM209.8 74.8l2.2 3.9h-4.4zM210.5 73.6l2.2 3.9h-4.4zM210.2 74.4l2.2 3.9h-4.4zM211.2 77.2l2.2 3.9h-4.4zM213.9 74.5l2.2 3.9h-4.4zM217.6 75.3l2.2 3.9h-4.4zM214.1 71.8l2.2 3.9h-4.4zM211.3 72.7l2.2 3.9h-4.4zM220.1 71.7l2.2 3.9h-4.4zM220.4 68.6l2.2 3.9h-4.4zM217.8 72.9l2.2 3.9h-4.4zM213.4 71l2.2 3.9h-4.4zM218.7 67.9l2.2 3.9h-4.4zM213.4 73.3l2.2 3.9h-4.4zM213.7 69.9l2.2 3.9h-4.4zM210.8 75.4l2.2 3.9h-4.4zM215.2 70l2.2 3.9h-4.4zM218.1 70.6l2.2 3.9h-4.4zM218.6 75.4l2.2 3.9h-4.4zM219.4 67.4l2.2 3.9h-4.4zM211.1 77.5l2.2 3.9h-4.4zM218.5 66.2l2.2 3.9h-4.4zM219.8 69.7l2.2 3.9h-4.4zM214.8 72l2.2 3.9h-4.4zM214.3 76.7l2.2 3.9h-4.4zM214.9 67.6l2.2 3.9h-4.4zM228.7 60.1l2.2 3.9h-4.4zM221.7 64.8l2.2 3.9h-4.4zM224.5 65.6l2.2 3.9h-4.4zM228.9 63.8l2.2 3.9h-4.4zM228.1 57.8l2.2 3.9h-4.4zM226.2 63.7l2.2 3.9h-4.4zM227.8 64l2.2 3.9h-4.4zM230.4 60.8l2.2 3.9h-4.4zM225.4 63.4l2.2 3.9h-4.4zM227.5 62.1l2.2 3.9h-4.4zM226.9 65.2l2.2 3.9h-4.4zM230.4 61.9l2.2 3.9h-4.4zM225.4 65.7l2.2 3.9h-4.4zM226.3 62.6l2.2 3.9h-4.4zM230.9 59.3l2.2 3.9h-4.4zM221.9 67.7l2.2 3.9h-4.4zM228.3 61.6l2.2 3.9h-4.4zM228.2 63.7l2.2 3.9h-4.4zM230 62.2l2.2 3.9h-4.4zM224.5 66.8l2.2 3.9h-4.4zM229.2 62.1l2.2 3.9h-4.4zM227.5 62.7l2.2 3.9h-4.4zM220.7 68.4l2.2 3.9h-4.4zM222.1 68.8l2.2 3.9h-4.4zM223.4 67l2.2 3.9h-4.4zM223.7 67.9l2.2 3.9h-4.4zM229.9 59.9l2.2 3.9h-4.4zM227.6 64.5l2.2 3.9h-4.4zM222.8 67.1l2.2 3.9h-4.4zM230.9 61.7l2.2 3.9h-4.4zM223 66.6l2.2 3.9h-4.4zM221.2 69.3l2.2 3.9h-4.4zM224.3 64.2l2.2 3.9h-4.4zM224.1 64.7l2.2 3.9h-4.4zM224.5 63.5l2.2 3.9h-4.4zM224.8 63.4l2.2 3.9h-4.4zM223.3 65.7l2.2 3.9h-4.4zM229.7 63l2.2 3.9h-4.4zM222.7 68.6l2.2 3.9h-4.4zM239.7 54.1l2.2 3.9h-4.4zM238.3 55.2l2.2 3.9h-4.4zM240 53.1l2.2 3.9h-4.4zM241.5 52.7l2.2 3.9h-4.4zM239.1 55.7l2.2 3.9h-4.4zM234 60.8l2.2 3.9h-4.4zM233.7 58.4l2.2 3.9h-4.4zM241.7 52.3l2.2 3.9h-4.4zM236.7 53.8l2.2 3.9h-4.4zM236.2 56.5l2.2 3.9h-4.4zM231.3 60.8l2.2 3.9h-4.4zM240.6 53.7l2.2 3.9h-4.4zM237.5 55.7l2.2 3.9h-4.4zM238.1 55l2.2 3.9h-4.4zM240 53.4l2.2 3.9h-4.4zM233.1 58.4l2.2 3.9h-4.4zM241.8 52.3l2.2 3.9h-4.4zM241 52.6l2.2 3.9h-4.4zM238.3 54.7l2.2 3.9h-4.4zM232.5 59.1l2.2 3.9h-4.4zM241.5 53.3l2.2 3.9h-4.4zM241.7 52.9l2.2 3.9h-4.4zM232.1 62.7l2.2 3.9h-4.4zM239.3 54.5l2.2 3.9h-4.4zM235.5 57.5l2.2 3.9h-4.4zM237.6 56.2l2.2 3.9h-4.4zM240.1 53.2l2.2 3.9h-4.4zM235.1 55.5l2.2 3.9h-4.4zM239.7 54.7l2.2 3.9h-4.4zM235 58l2.2 3.9h-4.4zM238.6 55.2l2.2 3.9h-4.4zM241.4 53.4l2.2 3.9h-4.4zM240.3 55l2.2 3.9h-4.4zM241.9 52.3l2.2 3.9h-4.4zM242.1 52.3l2.2 3.9h-4.4zM238.1 55.2l2.2 3.9h-4.4zM238.7 54.5l2.2 3.9h-4.4zM237.2 55.5l2.2 3.9h-4.4zM238.6 54.4l2.2 3.9h-4.4zM241.3 52.4l2.2 3.9h-4.4zM241.2 52.9l2.2 3.9h-4.4zM239.7 53.8l2.2 3.9h-4.4zM237.4 56.6l2.2 3.9h-4.4zM240.1 53.5l2.2 3.9h-4.4zM235.6 57.5l2.2 3.9h-4.4zM238.3 54l2.2 3.9h-4.4zM232 60.9l2.2 3.9h-4.4zM241.5 52.3l2.2 3.9h-4.4zM238.8 55.1l2.2 3.9h-4.4zM240.7 53.5l2.2 3.9h-4.4zM236.7 55.3l2.2 3.9h-4.4zM233.8 61.4l2.2 3.9h-4.4zM234.4 58.2l2.2 3.9h-4.4zM239.7 53.3l2.2 3.9h-4.4zM239.8 54.6l2.2 3.9h-4.4zM237.5 55.2l2.2 3.9h-4.4zM239.6 52.3l2.2 3.9h-4.4zM236.2 56.1l2.2 3.9h-4.4zM237.8 52.7l2.2 3.9h-4.4zM239.5 53.7l2.2 3.9h-4.4zM239.9 53.9l2.2 3.9h-4.4zM240.7 52.7l2.2 3.9h-4.4zM237.7 57l2.2 3.9h-4.4zM238.3 54.6l2.2 3.9h-4.4zM57.8 203.8l2.2 3.9h-4.4zM69 165.2l2.2 3.9h-4.4zM45.3 190.7l2.2 3.9h-4.4zM112.7 164.7l2.2 3.9h-4.4zM106.7 169.1l2.2 3.9h-4.4zM121.4 154.3l2.2 3.9h-4.4zM185 105.5l2.2 3.9h-4.4zM160.2 124.1l2.2 3.9h-4.4zM200.1 92.6l2.2 3.9h-4.4z" fill="#1C6EDF"/>
<line x1="26.5" y1="215.85" x2="242.1" y2="54.45" stroke="#14BE40" stroke-width="1.45"/>
</g>
<path d="M25.9 216H242.2" stroke="#111" stroke-width="1" fill="none"/>
<path d="M26.35 54.15V216.5M26.35 215.75h-3.3M26.5 215.7v3.2M26.35 199.61h-1.8M48.06 215.7v1.6M26.35 183.47h-3.3M69.62 215.7v3.2M26.35 167.33h-1.8M91.18 215.7v1.6M26.35 151.19h-3.3M112.74 215.7v3.2M26.35 135.05h-1.8M134.3 215.7v1.6M26.35 118.91h-3.3M155.86 215.7v3.2M26.35 102.77h-1.8M177.42 215.7v1.6M26.35 86.63h-3.3M198.98 215.7v3.2M26.35 70.49h-1.8M220.54 215.7v1.6M26.35 54.35h-3.3M242.1 215.7v3.2" stroke="#111" stroke-width="0.85" fill="none"/>
<g font-size="7.3" fill="#111">
<text x="20.9" y="218.05" text-anchor="end">0</text>
<text x="26.5" y="226.1" text-anchor="middle">0</text>
<text x="20.9" y="185.77" text-anchor="end">20</text>
<text x="69.62" y="226.1" text-anchor="middle">20</text>
<text x="20.9" y="153.49" text-anchor="end">40</text>
<text x="112.74" y="226.1" text-anchor="middle">40</text>
<text x="20.9" y="121.21" text-anchor="end">60</text>
<text x="155.86" y="226.1" text-anchor="middle">60</text>
<text x="20.9" y="88.93" text-anchor="end">80</text>
<text x="198.98" y="226.1" text-anchor="middle">80</text>
<text x="20.9" y="56.65" text-anchor="end">100</text>
<text x="242.1" y="226.1" text-anchor="middle">100</text>
</g>
<text x="134.5" y="240" font-size="8" text-anchor="middle" fill="#111">Exp. crude oil residue (wt.%)</text>
<text transform="translate(7.3,134.8) rotate(-90)" font-size="8" text-anchor="middle" fill="#111">Pred. crude oil residue (wt.%)</text>
<text x="44.6" y="72.8" font-size="7.2" fill="#111">XGBoost</text>
<circle cx="197.8" cy="187.8" r="2.05" fill="#F04040"/>
<path d="M197.8 194l2.2 3.9h-4.4z" fill="#1C6EDF"/>
<path d="M190.1 205.35H205.9" stroke="#12F012" stroke-width="1"/>
<path d="M197.8 203l2.1 2.2l-2.1 2.2l-2.1-2.2z" fill="#2F9E55"/>
<g font-size="7" fill="#111" lengthAdjust="spacingAndGlyphs">
<text x="207.6" y="190" textLength="15.8" lengthAdjust="spacingAndGlyphs">Train</text>
<text x="207.6" y="198.3" textLength="11.7" lengthAdjust="spacingAndGlyphs">Test</text>
<text x="207.6" y="207.4" textLength="16.1" lengthAdjust="spacingAndGlyphs">Y = X</text>
</g>
</g>
<g transform="translate(0,266.5)">
<path d="M27.5 53.45V5.65H26.5V0.65H37.28V13.65H48.06V23.85H58.84V26.15H69.62V32.65H80.4V28.25H91.18V34.05H101.96V37.95H112.74V37.25H123.52V37.45H134.3V34.95H145.08V36.05H155.86V33.35H166.64V30.15H177.42V32.45H188.2V32.15H198.98V24.75H209.76V24.05H220.54V24.25H231.32V5.25H242.1V15.25H241.1V53.45Z" fill="#1C6EDF"/>
<path d="M26.5 54.45V4.65H37.28V21.15H48.06V30.45H58.84V32.65H69.62V38.25H80.4V33.65H91.18V38.55H101.96V40.05H112.74V41.05H123.52V40.05H134.3V37.85H145.08V40.35H155.86V36.45H166.64V35.85H177.42V37.25H188.2V37.35H198.98V31.45H209.76V30.45H220.54V30.45H231.32V14.25H242.1V54.45Z" fill="#F04040"/>
<path d="M48.06 54.45V13.65M58.84 54.45V23.85M80.4 54.45V28.25M112.74 54.45V37.25M134.3 54.45V34.95M166.64 54.45V30.15M177.42 54.45V30.15M198.98 54.45V24.75M231.32 54.45V5.25" stroke="#160808" stroke-opacity="0.78" stroke-width="0.65" fill="none"/>
<path d="M37.28 54.45V0.65M69.62 54.45V26.15M91.18 54.45V28.25M101.96 54.45V34.05M123.52 54.45V37.25M145.08 54.45V34.95M155.86 54.45V33.35M188.2 54.45V32.15M209.76 54.45V24.05M220.54 54.45V24.05" stroke="#200" stroke-opacity="0.2" stroke-width="0.7" fill="none"/>
<path d="M26.5 0.65h10.78M26.5 4.65h10.78M37.28 13.65h10.78M37.28 21.15h10.78M48.06 23.85h10.78M48.06 30.45h10.78M58.84 26.15h10.78M58.84 32.65h10.78M69.62 32.65h10.78M69.62 38.25h10.78M80.4 28.25h10.78M80.4 33.65h10.78M91.18 34.05h10.78M91.18 38.55h10.78M101.96 37.95h10.78M101.96 40.05h10.78M112.74 37.25h10.78M112.74 41.05h10.78M123.52 37.45h10.78M123.52 40.05h10.78M134.3 34.95h10.78M134.3 37.85h10.78M145.08 36.05h10.78M145.08 40.35h10.78M155.86 33.35h10.78M155.86 36.45h10.78M166.64 30.15h10.78M166.64 35.85h10.78M177.42 32.45h10.78M177.42 37.25h10.78M188.2 32.15h10.78M188.2 37.35h10.78M198.98 24.75h10.78M198.98 31.45h10.78M209.76 24.05h10.78M209.76 30.45h10.78M220.54 24.25h10.78M220.54 30.45h10.78M231.32 5.25h10.78M231.32 14.25h10.78" stroke="#001" stroke-opacity="0.22" stroke-width="0.5" fill="none"/>
<path d="M243.1 214.85H309.4V215.85H314.3V207.78H293.9V199.71H283.9V191.64H279.4V183.57H273.6V175.5H275.5V167.43H269.9V159.36H264.9V151.29H264.2V143.22H264.5V135.15H270.4V127.08H267.1V119.01H269.6V110.94H273V102.87H271.8V94.8H274.1V86.73H281V78.66H282.9V70.59H284.7V62.52H302.5V54.45H290V55.45H243.1Z" fill="#1C6EDF"/>
<path d="M242.1 215.85H310.4V207.78H284.7V199.71H274.5V191.64H272.6V183.57H265.5V175.5H269.4V167.43H266V159.36H261.1V151.29H259.6V143.22H261.2V135.15H266.3V127.08H262.5V119.01H265.2V110.94H266.4V102.87H267.1V94.8H266.3V86.73H272.6V78.66H274.8V70.59H275.5V62.52H291V54.45H242.1Z" fill="#F04040"/>
<path d="M242.1 207.78H314.3M242.1 183.57H279.4M242.1 175.5H275.5M242.1 167.43H275.5M242.1 159.36H269.9M242.1 151.29H264.9M242.1 143.22H264.5M242.1 135.15H270.4M242.1 119.01H269.6" stroke="#160808" stroke-opacity="0.78" stroke-width="0.65" fill="none"/>
<path d="M242.1 199.71H293.9M242.1 191.64H283.9M242.1 110.94H273" stroke="#1a0a0a" stroke-opacity="0.35" stroke-width="0.6" fill="none"/>
<path d="M242.1 127.08H270.4M242.1 102.87H273M242.1 94.8H274.1M242.1 86.73H281M242.1 78.66H282.9M242.1 70.59H284.7M242.1 62.52H302.5" stroke="#300" stroke-opacity="0.12" stroke-width="0.6" fill="none"/>
<path d="M314.3 207.78v8.07M310.4 207.78v8.07M293.9 199.71v8.07M284.7 199.71v8.07M283.9 191.64v8.07M274.5 191.64v8.07M279.4 183.57v8.07M272.6 183.57v8.07M273.6 175.5v8.07M265.5 175.5v8.07M275.5 167.43v8.07M269.4 167.43v8.07M269.9 159.36v8.07M266 159.36v8.07M264.9 151.29v8.07M261.1 151.29v8.07M264.2 143.22v8.07M259.6 143.22v8.07M264.5 135.15v8.07M261.2 135.15v8.07M270.4 127.08v8.07M266.3 127.08v8.07M267.1 119.01v8.07M262.5 119.01v8.07M269.6 110.94v8.07M265.2 110.94v8.07M273 102.87v8.07M266.4 102.87v8.07M271.8 94.8v8.07M267.1 94.8v8.07M274.1 86.73v8.07M266.3 86.73v8.07M281 78.66v8.07M272.6 78.66v8.07M282.9 70.59v8.07M274.8 70.59v8.07M284.7 62.52v8.07M275.5 62.52v8.07M302.5 54.45v8.07M291 54.45v8.07" stroke="#001" stroke-opacity="0.22" stroke-width="0.5" fill="none"/>
<path d="M242.2 62.52V215.85" stroke="#2a1010" stroke-opacity="0.7" stroke-width="0.6" fill="none"/>
<path d="M26.5 54.55H242.1" stroke="#2a1010" stroke-opacity="0.55" stroke-width="0.6" fill="none"/>
<g clip-path="url(#pc)">
<g fill="#F04040">
<circle cx="32.6" cy="211.5" r="1.8"/>
<circle cx="36.1" cy="206.5" r="1.8"/>
<circle cx="33.5" cy="209" r="1.8"/>
<circle cx="31.3" cy="212.5" r="1.8"/>
<circle cx="27.6" cy="215" r="1.8"/>
<circle cx="31" cy="214.5" r="1.8"/>
<circle cx="35.6" cy="207.7" r="1.8"/>
<circle cx="28.8" cy="213.6" r="1.8"/>
<circle cx="28.6" cy="215.8" r="1.8"/>
<circle cx="27" cy="214" r="1.8"/>
<circle cx="34.6" cy="209.2" r="1.8"/>
<circle cx="27" cy="215.2" r="1.8"/>
<circle cx="28.7" cy="215" r="1.8"/>
<circle cx="30.4" cy="213.1" r="1.8"/>
<circle cx="27.7" cy="213.6" r="1.8"/>
<circle cx="26.7" cy="214.8" r="1.8"/>
<circle cx="29.9" cy="212.7" r="1.8"/>
<circle cx="29.9" cy="214.6" r="1.8"/>
<circle cx="29.8" cy="213.5" r="1.8"/>
<circle cx="36.9" cy="201.7" r="1.8"/>
<circle cx="30.8" cy="212.1" r="1.8"/>
<circle cx="34.2" cy="209.6" r="1.8"/>
<circle cx="33.2" cy="210.2" r="1.8"/>
<circle cx="35.2" cy="210.6" r="1.8"/>
<circle cx="34.6" cy="208.7" r="1.8"/>
<circle cx="30.4" cy="213.1" r="1.8"/>
<circle cx="31" cy="212.1" r="1.8"/>
<circle cx="36.5" cy="208.6" r="1.8"/>
<circle cx="37.2" cy="204.7" r="1.8"/>
<circle cx="36.4" cy="209" r="1.8"/>
<circle cx="27.7" cy="215.8" r="1.8"/>
<circle cx="28.2" cy="215.8" r="1.8"/>
<circle cx="36.9" cy="207.9" r="1.8"/>
<circle cx="35.8" cy="208.9" r="1.8"/>
<circle cx="28.6" cy="213.4" r="1.8"/>
<circle cx="27" cy="215.1" r="1.8"/>
<circle cx="27.8" cy="215.8" r="1.8"/>
<circle cx="27.9" cy="214.8" r="1.8"/>
<circle cx="28.8" cy="210.9" r="1.8"/>
<circle cx="27.6" cy="213.7" r="1.8"/>
<circle cx="29.6" cy="213.6" r="1.8"/>
<circle cx="37" cy="209.4" r="1.8"/>
<circle cx="32" cy="213.8" r="1.8"/>
<circle cx="30.7" cy="212.9" r="1.8"/>
<circle cx="28.7" cy="212.4" r="1.8"/>
<circle cx="27.4" cy="215.8" r="1.8"/>
<circle cx="29" cy="213.6" r="1.8"/>
<circle cx="30" cy="212.8" r="1.8"/>
<circle cx="28.5" cy="214.9" r="1.8"/>
<circle cx="31.1" cy="212.3" r="1.8"/>
<circle cx="28" cy="213.8" r="1.8"/>
<circle cx="27.5" cy="215.6" r="1.8"/>
<circle cx="36.2" cy="210.9" r="1.8"/>
<circle cx="37.2" cy="209.3" r="1.8"/>
<circle cx="29.8" cy="213.6" r="1.8"/>
<circle cx="30.2" cy="213.7" r="1.8"/>
<circle cx="29.8" cy="211.6" r="1.8"/>
<circle cx="35.9" cy="211.4" r="1.8"/>
<circle cx="29.2" cy="213.3" r="1.8"/>
<circle cx="27.1" cy="215.2" r="1.8"/>
<circle cx="28.7" cy="215.3" r="1.8"/>
<circle cx="28.4" cy="215.1" r="1.8"/>
<circle cx="27.7" cy="213.6" r="1.8"/>
<circle cx="27.6" cy="214.3" r="1.8"/>
<circle cx="28.6" cy="214.3" r="1.8"/>
<circle cx="26.7" cy="215.5" r="1.8"/>
<circle cx="27.9" cy="214.8" r="1.8"/>
<circle cx="31.8" cy="212.3" r="1.8"/>
<circle cx="28.4" cy="214.7" r="1.8"/>
<circle cx="30" cy="212.4" r="1.8"/>
<circle cx="31" cy="212.8" r="1.8"/>
<circle cx="35.9" cy="209.6" r="1.8"/>
<circle cx="27.6" cy="215.6" r="1.8"/>
<circle cx="33.4" cy="211" r="1.8"/>
<circle cx="29.4" cy="212.4" r="1.8"/>
<circle cx="29.9" cy="212.7" r="1.8"/>
<circle cx="27.3" cy="215.3" r="1.8"/>
<circle cx="34.8" cy="212.7" r="1.8"/>
<circle cx="33.3" cy="211.2" r="1.8"/>
<circle cx="36.6" cy="210.8" r="1.8"/>
<circle cx="27.6" cy="215.8" r="1.8"/>
<circle cx="36" cy="209.4" r="1.8"/>
<circle cx="29.6" cy="214.6" r="1.8"/>
<circle cx="26.8" cy="215.8" r="1.8"/>
<circle cx="32.7" cy="212" r="1.8"/>
<circle cx="27.6" cy="214" r="1.8"/>
<circle cx="31.8" cy="212.9" r="1.8"/>
<circle cx="29.4" cy="214" r="1.8"/>
<circle cx="29.1" cy="214.4" r="1.8"/>
<circle cx="30.9" cy="212" r="1.8"/>
<circle cx="30.5" cy="213.5" r="1.8"/>
<circle cx="30.4" cy="212.4" r="1.8"/>
<circle cx="26.9" cy="215.4" r="1.8"/>
<circle cx="28.6" cy="214.4" r="1.8"/>
<circle cx="36.7" cy="207.9" r="1.8"/>
<circle cx="30.4" cy="212.6" r="1.8"/>
<circle cx="31.9" cy="210.7" r="1.8"/>
<circle cx="35.9" cy="211.9" r="1.8"/>
<circle cx="30.6" cy="213.2" r="1.8"/>
<circle cx="29.6" cy="213.6" r="1.8"/>
<circle cx="35.1" cy="209" r="1.8"/>
<circle cx="26.9" cy="215.1" r="1.8"/>
<circle cx="32.5" cy="211.3" r="1.8"/>
<circle cx="33.5" cy="209.1" r="1.8"/>
<circle cx="33.5" cy="212.5" r="1.8"/>
<circle cx="33.4" cy="209.4" r="1.8"/>
<circle cx="33.6" cy="209.6" r="1.8"/>
<circle cx="28.1" cy="213.2" r="1.8"/>
<circle cx="29.9" cy="215.8" r="1.8"/>
<circle cx="34.1" cy="210" r="1.8"/>
<circle cx="32.5" cy="214.7" r="1.8"/>
<circle cx="28.2" cy="213.4" r="1.8"/>
<circle cx="29.3" cy="211.8" r="1.8"/>
<circle cx="36" cy="202" r="1.8"/>
<circle cx="35" cy="208.1" r="1.8"/>
<circle cx="35.2" cy="208.5" r="1.8"/>
<circle cx="30.1" cy="210.8" r="1.8"/>
<circle cx="26.5" cy="215.8" r="1.8"/>
<circle cx="35.8" cy="206" r="1.8"/>
<circle cx="30.9" cy="214.4" r="1.8"/>
<circle cx="27.8" cy="215.5" r="1.8"/>
<circle cx="30.8" cy="211.7" r="1.8"/>
<circle cx="31.5" cy="211.2" r="1.8"/>
<circle cx="36.9" cy="209" r="1.8"/>
<circle cx="26.9" cy="215.7" r="1.8"/>
<circle cx="29.2" cy="213.4" r="1.8"/>
<circle cx="28.9" cy="214.4" r="1.8"/>
<circle cx="36.8" cy="207.7" r="1.8"/>
<circle cx="27.4" cy="214.6" r="1.8"/>
<circle cx="29.8" cy="212.9" r="1.8"/>
<circle cx="28.3" cy="212.7" r="1.8"/>
<circle cx="34.5" cy="209.7" r="1.8"/>
<circle cx="26.8" cy="215.8" r="1.8"/>
<circle cx="34.7" cy="206.5" r="1.8"/>
<circle cx="28.7" cy="213.3" r="1.8"/>
<circle cx="30.1" cy="213.5" r="1.8"/>
<circle cx="30.9" cy="214.2" r="1.8"/>
<circle cx="28" cy="213.4" r="1.8"/>
<circle cx="27.1" cy="214.7" r="1.8"/>
<circle cx="28.5" cy="214.7" r="1.8"/>
<circle cx="31.5" cy="211.3" r="1.8"/>
<circle cx="31.9" cy="211.3" r="1.8"/>
<circle cx="29.1" cy="212.7" r="1.8"/>
<circle cx="33.3" cy="211.2" r="1.8"/>
<circle cx="32.8" cy="210.2" r="1.8"/>
<circle cx="32.7" cy="211.1" r="1.8"/>
<circle cx="34.6" cy="211.5" r="1.8"/>
<circle cx="27.6" cy="215.8" r="1.8"/>
<circle cx="27" cy="215.6" r="1.8"/>
<circle cx="31.2" cy="212.5" r="1.8"/>
<circle cx="46.2" cy="199.9" r="1.8"/>
<circle cx="47.7" cy="200.8" r="1.8"/>
<circle cx="44.6" cy="204.2" r="1.8"/>
<circle cx="38.2" cy="210.1" r="1.8"/>
<circle cx="37.7" cy="206.2" r="1.8"/>
<circle cx="45.1" cy="205.5" r="1.8"/>
<circle cx="47.9" cy="195.8" r="1.8"/>
<circle cx="39.3" cy="208" r="1.8"/>
<circle cx="42" cy="201.9" r="1.8"/>
<circle cx="45.4" cy="209.2" r="1.8"/>
<circle cx="45.1" cy="203" r="1.8"/>
<circle cx="47.6" cy="206" r="1.8"/>
<circle cx="45.3" cy="201.5" r="1.8"/>
<circle cx="40.1" cy="207.2" r="1.8"/>
<circle cx="40.6" cy="203.5" r="1.8"/>
<circle cx="39.6" cy="203.7" r="1.8"/>
<circle cx="45.2" cy="203.7" r="1.8"/>
<circle cx="46.6" cy="193.9" r="1.8"/>
<circle cx="43.5" cy="201" r="1.8"/>
<circle cx="46" cy="196.7" r="1.8"/>
<circle cx="43.1" cy="199.4" r="1.8"/>
<circle cx="42.9" cy="202" r="1.8"/>
<circle cx="40.1" cy="202.9" r="1.8"/>
<circle cx="41.7" cy="202.3" r="1.8"/>
<circle cx="47.6" cy="198.6" r="1.8"/>
<circle cx="44.1" cy="201.6" r="1.8"/>
<circle cx="44" cy="201.8" r="1.8"/>
<circle cx="43.6" cy="205.3" r="1.8"/>
<circle cx="47.5" cy="197.2" r="1.8"/>
<circle cx="41.6" cy="202.7" r="1.8"/>
<circle cx="42.6" cy="202.4" r="1.8"/>
<circle cx="43.2" cy="204.3" r="1.8"/>
<circle cx="40.6" cy="208.1" r="1.8"/>
<circle cx="43.5" cy="203.1" r="1.8"/>
<circle cx="40" cy="206" r="1.8"/>
<circle cx="46.3" cy="201.5" r="1.8"/>
<circle cx="41.8" cy="203.4" r="1.8"/>
<circle cx="40.5" cy="206.1" r="1.8"/>
<circle cx="44.6" cy="204.2" r="1.8"/>
<circle cx="38" cy="212.2" r="1.8"/>
<circle cx="45.8" cy="199.3" r="1.8"/>
<circle cx="40" cy="206.2" r="1.8"/>
<circle cx="46.2" cy="202.4" r="1.8"/>
<circle cx="44.8" cy="202.4" r="1.8"/>
<circle cx="37.6" cy="209.3" r="1.8"/>
<circle cx="43.2" cy="201.6" r="1.8"/>
<circle cx="42.8" cy="202.1" r="1.8"/>
<circle cx="44.5" cy="198.6" r="1.8"/>
<circle cx="43.4" cy="201.6" r="1.8"/>
<circle cx="40.1" cy="208" r="1.8"/>
<circle cx="39.3" cy="205.3" r="1.8"/>
<circle cx="38.9" cy="208.3" r="1.8"/>
<circle cx="43.7" cy="205.2" r="1.8"/>
<circle cx="40.3" cy="204.1" r="1.8"/>
<circle cx="39.7" cy="204.4" r="1.8"/>
<circle cx="42.4" cy="206" r="1.8"/>
<circle cx="44.6" cy="203.3" r="1.8"/>
<circle cx="40.9" cy="203.7" r="1.8"/>
<circle cx="43.5" cy="207.8" r="1.8"/>
<circle cx="45.4" cy="206.3" r="1.8"/>
<circle cx="42.4" cy="197.9" r="1.8"/>
<circle cx="45.8" cy="198.9" r="1.8"/>
<circle cx="42.9" cy="205.8" r="1.8"/>
<circle cx="42.7" cy="202" r="1.8"/>
<circle cx="42.3" cy="205.2" r="1.8"/>
<circle cx="40.1" cy="206.5" r="1.8"/>
<circle cx="45.4" cy="204.2" r="1.8"/>
<circle cx="43.6" cy="204.3" r="1.8"/>
<circle cx="40.1" cy="205.9" r="1.8"/>
<circle cx="38.8" cy="207.6" r="1.8"/>
<circle cx="45.8" cy="201" r="1.8"/>
<circle cx="42.7" cy="201.5" r="1.8"/>
<circle cx="40.7" cy="202" r="1.8"/>
<circle cx="39.6" cy="206.3" r="1.8"/>
<circle cx="38.9" cy="206.8" r="1.8"/>
<circle cx="39.6" cy="201.9" r="1.8"/>
<circle cx="41" cy="206.1" r="1.8"/>
<circle cx="41.7" cy="202.8" r="1.8"/>
<circle cx="44" cy="202.5" r="1.8"/>
<circle cx="37.7" cy="206.6" r="1.8"/>
<circle cx="42.9" cy="200" r="1.8"/>
<circle cx="39" cy="207.7" r="1.8"/>
<circle cx="39.4" cy="204" r="1.8"/>
<circle cx="47.6" cy="199.5" r="1.8"/>
<circle cx="37.5" cy="209.5" r="1.8"/>
<circle cx="38.4" cy="204.3" r="1.8"/>
<circle cx="46.7" cy="199.4" r="1.8"/>
<circle cx="44.6" cy="199.8" r="1.8"/>
<circle cx="46.6" cy="202.3" r="1.8"/>
<circle cx="38.2" cy="205.9" r="1.8"/>
<circle cx="39.3" cy="207" r="1.8"/>
<circle cx="45.9" cy="204.5" r="1.8"/>
<circle cx="44.5" cy="203.4" r="1.8"/>
<circle cx="42.3" cy="207.4" r="1.8"/>
<circle cx="44.6" cy="201.6" r="1.8"/>
<circle cx="44.7" cy="200.7" r="1.8"/>
<circle cx="39.8" cy="205.3" r="1.8"/>
<circle cx="46.4" cy="198.4" r="1.8"/>
<circle cx="46.5" cy="203.3" r="1.8"/>
<circle cx="44.3" cy="198.3" r="1.8"/>
<circle cx="42.6" cy="199.1" r="1.8"/>
<circle cx="37.6" cy="206.9" r="1.8"/>
<circle cx="44.8" cy="203.4" r="1.8"/>
<circle cx="42.6" cy="202.7" r="1.8"/>
<circle cx="38.3" cy="210.6" r="1.8"/>
<circle cx="44.9" cy="205.9" r="1.8"/>
<circle cx="44.8" cy="201.5" r="1.8"/>
<circle cx="45.3" cy="202.3" r="1.8"/>
<circle cx="38.2" cy="209.9" r="1.8"/>
<circle cx="45.9" cy="200" r="1.8"/>
<circle cx="41.3" cy="206.5" r="1.8"/>
<circle cx="42.8" cy="203.1" r="1.8"/>
<circle cx="38.3" cy="204.7" r="1.8"/>
<circle cx="48.2" cy="191.6" r="1.8"/>
<circle cx="58.4" cy="196.5" r="1.8"/>
<circle cx="48.9" cy="196.1" r="1.8"/>
<circle cx="57.4" cy="190.8" r="1.8"/>
<circle cx="57.5" cy="192.4" r="1.8"/>
<circle cx="55.7" cy="193.3" r="1.8"/>
<circle cx="53.9" cy="200" r="1.8"/>
<circle cx="55.8" cy="189.9" r="1.8"/>
<circle cx="54.3" cy="193.2" r="1.8"/>
<circle cx="51.2" cy="199.9" r="1.8"/>
<circle cx="49.9" cy="200.1" r="1.8"/>
<circle cx="51" cy="202.2" r="1.8"/>
<circle cx="51.5" cy="194.2" r="1.8"/>
<circle cx="58.5" cy="191.1" r="1.8"/>
<circle cx="53" cy="198.5" r="1.8"/>
<circle cx="52.4" cy="200.6" r="1.8"/>
<circle cx="56" cy="186.4" r="1.8"/>
<circle cx="52.7" cy="203.7" r="1.8"/>
<circle cx="54.9" cy="192.6" r="1.8"/>
<circle cx="54.3" cy="192.8" r="1.8"/>
<circle cx="56.8" cy="190.8" r="1.8"/>
<circle cx="48.4" cy="199" r="1.8"/>
<circle cx="58.4" cy="196.8" r="1.8"/>
<circle cx="49.9" cy="192.8" r="1.8"/>
<circle cx="52.9" cy="195.2" r="1.8"/>
<circle cx="53.5" cy="199.7" r="1.8"/>
<circle cx="57.5" cy="188.6" r="1.8"/>
<circle cx="54.2" cy="202.6" r="1.8"/>
<circle cx="51.6" cy="203.5" r="1.8"/>
<circle cx="53.5" cy="193.8" r="1.8"/>
<circle cx="54.8" cy="192.3" r="1.8"/>
<circle cx="51.6" cy="194.9" r="1.8"/>
<circle cx="57.5" cy="197.4" r="1.8"/>
<circle cx="52.5" cy="197.2" r="1.8"/>
<circle cx="58.1" cy="188.7" r="1.8"/>
<circle cx="50.1" cy="199.5" r="1.8"/>
<circle cx="51.8" cy="198.8" r="1.8"/>
<circle cx="52.9" cy="197.7" r="1.8"/>
<circle cx="50.7" cy="195.7" r="1.8"/>
<circle cx="50.8" cy="197.3" r="1.8"/>
<circle cx="56.5" cy="189.6" r="1.8"/>
<circle cx="54.3" cy="196.2" r="1.8"/>
<circle cx="52" cy="192.1" r="1.8"/>
<circle cx="52.3" cy="197.8" r="1.8"/>
<circle cx="55.7" cy="195.4" r="1.8"/>
<circle cx="48.3" cy="201.8" r="1.8"/>
<circle cx="54.7" cy="202.4" r="1.8"/>
<circle cx="56.1" cy="188.2" r="1.8"/>
<circle cx="52.7" cy="195.6" r="1.8"/>
<circle cx="49.6" cy="199" r="1.8"/>
<circle cx="53.6" cy="196.2" r="1.8"/>
<circle cx="57.5" cy="190.4" r="1.8"/>
<circle cx="49" cy="195.8" r="1.8"/>
<circle cx="57.7" cy="193.9" r="1.8"/>
<circle cx="49.6" cy="197" r="1.8"/>
<circle cx="52.6" cy="199.4" r="1.8"/>
<circle cx="53.4" cy="195.1" r="1.8"/>
<circle cx="53.5" cy="194.8" r="1.8"/>
<circle cx="56.4" cy="190.4" r="1.8"/>
<circle cx="54.6" cy="197.9" r="1.8"/>
<circle cx="57.4" cy="194.7" r="1.8"/>
<circle cx="51.7" cy="191.2" r="1.8"/>
<circle cx="51.5" cy="200.5" r="1.8"/>
<circle cx="50.4" cy="199.3" r="1.8"/>
<circle cx="56.2" cy="194.8" r="1.8"/>
<circle cx="49" cy="200.3" r="1.8"/>
<circle cx="51.2" cy="194.8" r="1.8"/>
<circle cx="49" cy="194.1" r="1.8"/>
<circle cx="48.3" cy="193.1" r="1.8"/>
<circle cx="51" cy="204.3" r="1.8"/>
<circle cx="52.1" cy="186.1" r="1.8"/>
<circle cx="52.1" cy="198.5" r="1.8"/>
<circle cx="50.4" cy="197.8" r="1.8"/>
<circle cx="51.5" cy="201.3" r="1.8"/>
<circle cx="57" cy="194.1" r="1.8"/>
<circle cx="55.2" cy="206.6" r="1.8"/>
<circle cx="51.9" cy="197.8" r="1.8"/>
<circle cx="57.9" cy="193" r="1.8"/>
<circle cx="52.2" cy="195.2" r="1.8"/>
<circle cx="50.9" cy="202.6" r="1.8"/>
<circle cx="53.7" cy="197.7" r="1.8"/>
<circle cx="54.9" cy="201" r="1.8"/>
<circle cx="54.8" cy="194.2" r="1.8"/>
<circle cx="49.9" cy="202.3" r="1.8"/>
<circle cx="52.4" cy="204.5" r="1.8"/>
<circle cx="59.4" cy="193.8" r="1.8"/>
<circle cx="66.6" cy="185.8" r="1.8"/>
<circle cx="68.7" cy="183.4" r="1.8"/>
<circle cx="67.3" cy="183.5" r="1.8"/>
<circle cx="66.3" cy="183" r="1.8"/>
<circle cx="61.6" cy="194.3" r="1.8"/>
<circle cx="67.1" cy="186" r="1.8"/>
<circle cx="60" cy="190.9" r="1.8"/>
<circle cx="67.7" cy="191.9" r="1.8"/>
<circle cx="61.9" cy="194.1" r="1.8"/>
<circle cx="61.7" cy="190" r="1.8"/>
<circle cx="59.6" cy="190.2" r="1.8"/>
<circle cx="68.4" cy="183.8" r="1.8"/>
<circle cx="69.4" cy="187.4" r="1.8"/>
<circle cx="61.4" cy="193.2" r="1.8"/>
<circle cx="63.7" cy="188.7" r="1.8"/>
<circle cx="59.2" cy="191.6" r="1.8"/>
<circle cx="68.3" cy="192.9" r="1.8"/>
<circle cx="62.7" cy="196.8" r="1.8"/>
<circle cx="60.2" cy="194.6" r="1.8"/>
<circle cx="66.7" cy="185.8" r="1.8"/>
<circle cx="68" cy="179.6" r="1.8"/>
<circle cx="60.2" cy="189.6" r="1.8"/>
<circle cx="69.6" cy="181.6" r="1.8"/>
<circle cx="69.2" cy="182.2" r="1.8"/>
<circle cx="67.1" cy="183.3" r="1.8"/>
<circle cx="59.9" cy="185.7" r="1.8"/>
<circle cx="68.2" cy="190.5" r="1.8"/>
<circle cx="61.4" cy="187.3" r="1.8"/>
<circle cx="68.7" cy="183.7" r="1.8"/>
<circle cx="62.9" cy="194.6" r="1.8"/>
<circle cx="65" cy="192.3" r="1.8"/>
<circle cx="66" cy="187.2" r="1.8"/>
<circle cx="64" cy="184.6" r="1.8"/>
<circle cx="69.5" cy="178.7" r="1.8"/>
<circle cx="69.3" cy="183.1" r="1.8"/>
<circle cx="60.4" cy="188.2" r="1.8"/>
<circle cx="61.5" cy="191.2" r="1.8"/>
<circle cx="64.1" cy="186.7" r="1.8"/>
<circle cx="64.5" cy="183.2" r="1.8"/>
<circle cx="65.9" cy="188.7" r="1.8"/>
<circle cx="60.4" cy="189.9" r="1.8"/>
<circle cx="67.6" cy="183.5" r="1.8"/>
<circle cx="68.2" cy="182.8" r="1.8"/>
<circle cx="61.8" cy="186.5" r="1.8"/>
<circle cx="58.9" cy="188" r="1.8"/>
<circle cx="61" cy="188.8" r="1.8"/>
<circle cx="62.5" cy="189.2" r="1.8"/>
<circle cx="65.6" cy="184.9" r="1.8"/>
<circle cx="67.2" cy="189.2" r="1.8"/>
<circle cx="67.3" cy="178.8" r="1.8"/>
<circle cx="62.6" cy="188.2" r="1.8"/>
<circle cx="60.4" cy="187.8" r="1.8"/>
<circle cx="65.6" cy="193.4" r="1.8"/>
<circle cx="61.8" cy="185.9" r="1.8"/>
<circle cx="65.8" cy="184.5" r="1.8"/>
<circle cx="67" cy="191.2" r="1.8"/>
<circle cx="65.6" cy="189.3" r="1.8"/>
<circle cx="67.2" cy="182.8" r="1.8"/>
<circle cx="63.2" cy="187.9" r="1.8"/>
<circle cx="59.6" cy="193.3" r="1.8"/>
<circle cx="68.5" cy="187" r="1.8"/>
<circle cx="62.4" cy="189" r="1.8"/>
<circle cx="59.4" cy="188.9" r="1.8"/>
<circle cx="65.2" cy="191.8" r="1.8"/>
<circle cx="64.8" cy="189.2" r="1.8"/>
<circle cx="66.9" cy="180.5" r="1.8"/>
<circle cx="67.1" cy="188.6" r="1.8"/>
<circle cx="68" cy="189.4" r="1.8"/>
<circle cx="64.5" cy="184.3" r="1.8"/>
<circle cx="63.5" cy="190.4" r="1.8"/>
<circle cx="65.7" cy="184.1" r="1.8"/>
<circle cx="62.8" cy="191.1" r="1.8"/>
<circle cx="62.9" cy="186.4" r="1.8"/>
<circle cx="60.3" cy="192.4" r="1.8"/>
<circle cx="67.4" cy="188.3" r="1.8"/>
<circle cx="63.8" cy="190" r="1.8"/>
<circle cx="68.5" cy="180.4" r="1.8"/>
<circle cx="60.1" cy="193.5" r="1.8"/>
<circle cx="71.8" cy="185.3" r="1.8"/>
<circle cx="74.4" cy="174" r="1.8"/>
<circle cx="80.1" cy="182" r="1.8"/>
<circle cx="71.4" cy="185" r="1.8"/>
<circle cx="77.4" cy="179.2" r="1.8"/>
<circle cx="77.4" cy="177.5" r="1.8"/>
<circle cx="76.8" cy="174.8" r="1.8"/>
<circle cx="75.4" cy="180.1" r="1.8"/>
<circle cx="79.3" cy="176.3" r="1.8"/>
<circle cx="71.8" cy="188.8" r="1.8"/>
<circle cx="78.6" cy="174" r="1.8"/>
<circle cx="80" cy="176.3" r="1.8"/>
<circle cx="75.8" cy="176.2" r="1.8"/>
<circle cx="71.9" cy="179.4" r="1.8"/>
<circle cx="71.7" cy="181" r="1.8"/>
<circle cx="77.4" cy="176.2" r="1.8"/>
<circle cx="79.4" cy="169.8" r="1.8"/>
<circle cx="79.4" cy="179.6" r="1.8"/>
<circle cx="72.1" cy="181.3" r="1.8"/>
<circle cx="79.5" cy="176.2" r="1.8"/>
<circle cx="78.7" cy="185.5" r="1.8"/>
<circle cx="71.6" cy="184.5" r="1.8"/>
<circle cx="78" cy="179.4" r="1.8"/>
<circle cx="71.3" cy="184.2" r="1.8"/>
<circle cx="78.8" cy="167.5" r="1.8"/>
<circle cx="72.1" cy="177.4" r="1.8"/>
<circle cx="74.5" cy="187.5" r="1.8"/>
<circle cx="78.5" cy="185.2" r="1.8"/>
<circle cx="77.9" cy="184.2" r="1.8"/>
<circle cx="76.2" cy="183" r="1.8"/>
<circle cx="77.3" cy="178.8" r="1.8"/>
<circle cx="69.9" cy="187.4" r="1.8"/>
<circle cx="75.8" cy="185.7" r="1.8"/>
<circle cx="72.2" cy="178.8" r="1.8"/>
<circle cx="78.4" cy="176" r="1.8"/>
<circle cx="76.1" cy="171.7" r="1.8"/>
<circle cx="71" cy="179.4" r="1.8"/>
<circle cx="76" cy="181.6" r="1.8"/>
<circle cx="75.8" cy="174.3" r="1.8"/>
<circle cx="73.3" cy="183.5" r="1.8"/>
<circle cx="75.3" cy="181.2" r="1.8"/>
<circle cx="70.5" cy="181.6" r="1.8"/>
<circle cx="72.8" cy="186.9" r="1.8"/>
<circle cx="72" cy="182.4" r="1.8"/>
<circle cx="73.9" cy="176.6" r="1.8"/>
<circle cx="78.1" cy="171.1" r="1.8"/>
<circle cx="70.8" cy="182.2" r="1.8"/>
<circle cx="74.4" cy="185.1" r="1.8"/>
<circle cx="72.8" cy="175" r="1.8"/>
<circle cx="75.5" cy="178.5" r="1.8"/>
<circle cx="77.4" cy="172.7" r="1.8"/>
<circle cx="78.7" cy="180.2" r="1.8"/>
<circle cx="78.1" cy="177.3" r="1.8"/>
<circle cx="74.1" cy="179.7" r="1.8"/>
<circle cx="72.1" cy="188.6" r="1.8"/>
<circle cx="79" cy="172.4" r="1.8"/>
<circle cx="74.3" cy="191.8" r="1.8"/>
<circle cx="76.4" cy="180.8" r="1.8"/>
<circle cx="73.1" cy="178.1" r="1.8"/>
<circle cx="73.3" cy="176.6" r="1.8"/>
<circle cx="77.8" cy="175.9" r="1.8"/>
<circle cx="80.8" cy="177.7" r="1.8"/>
<circle cx="86.8" cy="165.2" r="1.8"/>
<circle cx="90.3" cy="166.1" r="1.8"/>
<circle cx="83.5" cy="170.2" r="1.8"/>
<circle cx="83.1" cy="167.7" r="1.8"/>
<circle cx="89.8" cy="169.3" r="1.8"/>
<circle cx="89.7" cy="170.8" r="1.8"/>
<circle cx="84.9" cy="169.2" r="1.8"/>
<circle cx="83.6" cy="172.7" r="1.8"/>
<circle cx="87.4" cy="173.7" r="1.8"/>
<circle cx="83.1" cy="178.3" r="1.8"/>
<circle cx="87.5" cy="180.4" r="1.8"/>
<circle cx="89" cy="168" r="1.8"/>
<circle cx="88.4" cy="169.7" r="1.8"/>
<circle cx="83" cy="174.6" r="1.8"/>
<circle cx="85.5" cy="180.9" r="1.8"/>
<circle cx="84" cy="166.8" r="1.8"/>
<circle cx="84.3" cy="175" r="1.8"/>
<circle cx="81.9" cy="173.1" r="1.8"/>
<circle cx="82" cy="177" r="1.8"/>
<circle cx="89.3" cy="161.3" r="1.8"/>
<circle cx="83.1" cy="172.6" r="1.8"/>
<circle cx="82.4" cy="174.6" r="1.8"/>
<circle cx="87.6" cy="170.6" r="1.8"/>
<circle cx="88.7" cy="175.2" r="1.8"/>
<circle cx="84.2" cy="174.1" r="1.8"/>
<circle cx="84.5" cy="170.8" r="1.8"/>
<circle cx="80.5" cy="178.7" r="1.8"/>
<circle cx="85.1" cy="173.4" r="1.8"/>
<circle cx="80.4" cy="175.1" r="1.8"/>
<circle cx="86.7" cy="169.7" r="1.8"/>
<circle cx="89.2" cy="162.4" r="1.8"/>
<circle cx="82.6" cy="171.2" r="1.8"/>
<circle cx="87.5" cy="176.9" r="1.8"/>
<circle cx="86.7" cy="165.5" r="1.8"/>
<circle cx="84.5" cy="178.6" r="1.8"/>
<circle cx="85.7" cy="174.6" r="1.8"/>
<circle cx="90.4" cy="171.1" r="1.8"/>
<circle cx="85.2" cy="163.3" r="1.8"/>
<circle cx="85.3" cy="178.4" r="1.8"/>
<circle cx="80.5" cy="179.9" r="1.8"/>
<circle cx="85.4" cy="171.7" r="1.8"/>
<circle cx="83.8" cy="168.5" r="1.8"/>
<circle cx="89.1" cy="170.5" r="1.8"/>
<circle cx="83.6" cy="172.7" r="1.8"/>
<circle cx="83" cy="178.5" r="1.8"/>
<circle cx="87.4" cy="171.8" r="1.8"/>
<circle cx="83.3" cy="176.5" r="1.8"/>
<circle cx="89.2" cy="168" r="1.8"/>
<circle cx="87.7" cy="168.4" r="1.8"/>
<circle cx="83.2" cy="175.4" r="1.8"/>
<circle cx="85.3" cy="176.2" r="1.8"/>
<circle cx="86.8" cy="168.3" r="1.8"/>
<circle cx="89.1" cy="164.1" r="1.8"/>
<circle cx="83.6" cy="171.3" r="1.8"/>
<circle cx="83.1" cy="166.7" r="1.8"/>
<circle cx="85.1" cy="174.5" r="1.8"/>
<circle cx="90.5" cy="170.2" r="1.8"/>
<circle cx="85.6" cy="175.5" r="1.8"/>
<circle cx="85.2" cy="170.9" r="1.8"/>
<circle cx="84.5" cy="173.4" r="1.8"/>
<circle cx="81.6" cy="171.3" r="1.8"/>
<circle cx="82.7" cy="176.8" r="1.8"/>
<circle cx="87.4" cy="170.1" r="1.8"/>
<circle cx="85.9" cy="175.6" r="1.8"/>
<circle cx="91.2" cy="170.9" r="1.8"/>
<circle cx="81.1" cy="178.6" r="1.8"/>
<circle cx="87.3" cy="172.9" r="1.8"/>
<circle cx="85.4" cy="167.7" r="1.8"/>
<circle cx="87.2" cy="167.8" r="1.8"/>
<circle cx="90.4" cy="168.9" r="1.8"/>
<circle cx="88" cy="164.9" r="1.8"/>
<circle cx="84.3" cy="173.4" r="1.8"/>
<circle cx="95.4" cy="177.1" r="1.8"/>
<circle cx="92.3" cy="163" r="1.8"/>
<circle cx="100.5" cy="168.5" r="1.8"/>
<circle cx="94.5" cy="162.4" r="1.8"/>
<circle cx="92.9" cy="167.8" r="1.8"/>
<circle cx="94.8" cy="162.2" r="1.8"/>
<circle cx="100.8" cy="158.6" r="1.8"/>
<circle cx="99.9" cy="164.9" r="1.8"/>
<circle cx="94.7" cy="165.8" r="1.8"/>
<circle cx="91.4" cy="170.4" r="1.8"/>
<circle cx="101.3" cy="155.2" r="1.8"/>
<circle cx="92.4" cy="172" r="1.8"/>
<circle cx="98" cy="160.9" r="1.8"/>
<circle cx="100.5" cy="162.9" r="1.8"/>
<circle cx="93.2" cy="170.8" r="1.8"/>
<circle cx="97.1" cy="156.3" r="1.8"/>
<circle cx="100.9" cy="154.2" r="1.8"/>
<circle cx="101.1" cy="156.9" r="1.8"/>
<circle cx="96.8" cy="162.3" r="1.8"/>
<circle cx="100.1" cy="157.9" r="1.8"/>
<circle cx="91.9" cy="173.6" r="1.8"/>
<circle cx="94.7" cy="166" r="1.8"/>
<circle cx="101.7" cy="165.3" r="1.8"/>
<circle cx="93.3" cy="159.3" r="1.8"/>
<circle cx="101.6" cy="163" r="1.8"/>
<circle cx="101.6" cy="165.9" r="1.8"/>
<circle cx="96.4" cy="164.3" r="1.8"/>
<circle cx="91.6" cy="164.3" r="1.8"/>
<circle cx="91.3" cy="160.9" r="1.8"/>
<circle cx="101.3" cy="160.1" r="1.8"/>
<circle cx="96.2" cy="168.7" r="1.8"/>
<circle cx="96.3" cy="168.1" r="1.8"/>
<circle cx="99.1" cy="157.4" r="1.8"/>
<circle cx="99.3" cy="164.4" r="1.8"/>
<circle cx="101.9" cy="164.7" r="1.8"/>
<circle cx="101.5" cy="158.5" r="1.8"/>
<circle cx="93.2" cy="173.5" r="1.8"/>
<circle cx="96.4" cy="158.4" r="1.8"/>
<circle cx="95.9" cy="168.9" r="1.8"/>
<circle cx="98.6" cy="160.8" r="1.8"/>
<circle cx="91.8" cy="158.5" r="1.8"/>
<circle cx="98.2" cy="164.6" r="1.8"/>
<circle cx="94.7" cy="162.8" r="1.8"/>
<circle cx="101.3" cy="163.9" r="1.8"/>
<circle cx="92.8" cy="163.7" r="1.8"/>
<circle cx="92.1" cy="168" r="1.8"/>
<circle cx="95.6" cy="162" r="1.8"/>
<circle cx="92" cy="162.9" r="1.8"/>
<circle cx="101.9" cy="155.8" r="1.8"/>
<circle cx="93.5" cy="162" r="1.8"/>
<circle cx="99.8" cy="165.5" r="1.8"/>
<circle cx="99.8" cy="157" r="1.8"/>
<circle cx="93.9" cy="173.7" r="1.8"/>
<circle cx="92.3" cy="160.7" r="1.8"/>
<circle cx="93.7" cy="165.7" r="1.8"/>
<circle cx="98.4" cy="161.6" r="1.8"/>
<circle cx="93.7" cy="168.1" r="1.8"/>
<circle cx="102.1" cy="160.4" r="1.8"/>
<circle cx="105.6" cy="159.7" r="1.8"/>
<circle cx="111" cy="148.4" r="1.8"/>
<circle cx="104" cy="162.5" r="1.8"/>
<circle cx="107" cy="158.5" r="1.8"/>
<circle cx="102.3" cy="164" r="1.8"/>
<circle cx="104.5" cy="149.5" r="1.8"/>
<circle cx="102.3" cy="155.2" r="1.8"/>
<circle cx="102.9" cy="149.4" r="1.8"/>
<circle cx="107" cy="154.8" r="1.8"/>
<circle cx="112.2" cy="154.2" r="1.8"/>
<circle cx="109.6" cy="156.7" r="1.8"/>
<circle cx="111.1" cy="149.8" r="1.8"/>
<circle cx="112.2" cy="152.1" r="1.8"/>
<circle cx="102.6" cy="160.8" r="1.8"/>
<circle cx="106.4" cy="153.5" r="1.8"/>
<circle cx="107.3" cy="152.4" r="1.8"/>
<circle cx="105.3" cy="158.8" r="1.8"/>
<circle cx="111.1" cy="151.4" r="1.8"/>
<circle cx="110.9" cy="153.7" r="1.8"/>
<circle cx="108.1" cy="157.2" r="1.8"/>
<circle cx="105.7" cy="157.2" r="1.8"/>
<circle cx="106" cy="156" r="1.8"/>
<circle cx="108.8" cy="144.4" r="1.8"/>
<circle cx="109.2" cy="151.6" r="1.8"/>
<circle cx="112" cy="152.4" r="1.8"/>
<circle cx="108.8" cy="146.5" r="1.8"/>
<circle cx="102.9" cy="158.4" r="1.8"/>
<circle cx="103.9" cy="153.1" r="1.8"/>
<circle cx="109.8" cy="148" r="1.8"/>
<circle cx="111.9" cy="152.2" r="1.8"/>
<circle cx="105.1" cy="157.6" r="1.8"/>
<circle cx="104" cy="164.4" r="1.8"/>
<circle cx="103.6" cy="152.8" r="1.8"/>
<circle cx="109.7" cy="155.1" r="1.8"/>
<circle cx="104.4" cy="155.4" r="1.8"/>
<circle cx="108.9" cy="146.6" r="1.8"/>
<circle cx="106" cy="154.4" r="1.8"/>
<circle cx="104.8" cy="154.3" r="1.8"/>
<circle cx="103.6" cy="162.6" r="1.8"/>
<circle cx="103.7" cy="166" r="1.8"/>
<circle cx="111.2" cy="155.2" r="1.8"/>
<circle cx="107.7" cy="156.1" r="1.8"/>
<circle cx="105.6" cy="155.9" r="1.8"/>
<circle cx="112.1" cy="154.1" r="1.8"/>
<circle cx="111.9" cy="150.3" r="1.8"/>
<circle cx="122.5" cy="145.5" r="1.8"/>
<circle cx="112.9" cy="148.1" r="1.8"/>
<circle cx="113.8" cy="151.1" r="1.8"/>
<circle cx="118.7" cy="151.1" r="1.8"/>
<circle cx="122.9" cy="143.7" r="1.8"/>
<circle cx="122.9" cy="147.5" r="1.8"/>
<circle cx="119.4" cy="146.7" r="1.8"/>
<circle cx="115.2" cy="153.5" r="1.8"/>
<circle cx="120.3" cy="143.7" r="1.8"/>
<circle cx="121.6" cy="142.2" r="1.8"/>
<circle cx="115.2" cy="147" r="1.8"/>
<circle cx="114.5" cy="147.8" r="1.8"/>
<circle cx="115.7" cy="141.9" r="1.8"/>
<circle cx="121" cy="147.9" r="1.8"/>
<circle cx="119.8" cy="150.9" r="1.8"/>
<circle cx="121.9" cy="146.5" r="1.8"/>
<circle cx="114" cy="151" r="1.8"/>
<circle cx="115.7" cy="149.4" r="1.8"/>
<circle cx="122.8" cy="141.7" r="1.8"/>
<circle cx="114.2" cy="148.1" r="1.8"/>
<circle cx="113.6" cy="154.2" r="1.8"/>
<circle cx="114.1" cy="151.7" r="1.8"/>
<circle cx="118.5" cy="151.3" r="1.8"/>
<circle cx="118.1" cy="149.2" r="1.8"/>
<circle cx="113.5" cy="156.2" r="1.8"/>
<circle cx="116.2" cy="142.2" r="1.8"/>
<circle cx="115.3" cy="148" r="1.8"/>
<circle cx="122.5" cy="141.1" r="1.8"/>
<circle cx="119.5" cy="151.2" r="1.8"/>
<circle cx="120.1" cy="140.8" r="1.8"/>
<circle cx="117" cy="148.3" r="1.8"/>
<circle cx="116.2" cy="150" r="1.8"/>
<circle cx="114.3" cy="153" r="1.8"/>
<circle cx="123.3" cy="145" r="1.8"/>
<circle cx="115.5" cy="147.4" r="1.8"/>
<circle cx="118.8" cy="149.7" r="1.8"/>
<circle cx="121.9" cy="152.2" r="1.8"/>
<circle cx="118.6" cy="152.5" r="1.8"/>
<circle cx="119.6" cy="139.7" r="1.8"/>
<circle cx="116.1" cy="148" r="1.8"/>
<circle cx="115.3" cy="155" r="1.8"/>
<circle cx="119.9" cy="144.8" r="1.8"/>
<circle cx="121.1" cy="145.4" r="1.8"/>
<circle cx="120.3" cy="147.7" r="1.8"/>
<circle cx="120.6" cy="149.2" r="1.8"/>
<circle cx="114.9" cy="148.8" r="1.8"/>
<circle cx="121.2" cy="142.8" r="1.8"/>
<circle cx="113.2" cy="151.8" r="1.8"/>
<circle cx="124.4" cy="147" r="1.8"/>
<circle cx="124.9" cy="144.9" r="1.8"/>
<circle cx="124.3" cy="139.8" r="1.8"/>
<circle cx="124.1" cy="144.2" r="1.8"/>
<circle cx="128.8" cy="134.8" r="1.8"/>
<circle cx="128.8" cy="140.5" r="1.8"/>
<circle cx="126.3" cy="144.3" r="1.8"/>
<circle cx="123.8" cy="144.4" r="1.8"/>
<circle cx="131.7" cy="136" r="1.8"/>
<circle cx="132.4" cy="134.9" r="1.8"/>
<circle cx="126.6" cy="142.4" r="1.8"/>
<circle cx="129" cy="135.1" r="1.8"/>
<circle cx="132.6" cy="138.6" r="1.8"/>
<circle cx="132.6" cy="138" r="1.8"/>
<circle cx="126.1" cy="146.5" r="1.8"/>
<circle cx="127.3" cy="143.9" r="1.8"/>
<circle cx="127.4" cy="137.5" r="1.8"/>
<circle cx="132.9" cy="136.4" r="1.8"/>
<circle cx="133.6" cy="133.2" r="1.8"/>
<circle cx="131.8" cy="135.6" r="1.8"/>
<circle cx="128.1" cy="139.6" r="1.8"/>
<circle cx="126.9" cy="138.1" r="1.8"/>
<circle cx="125.4" cy="147.7" r="1.8"/>
<circle cx="128.5" cy="142.2" r="1.8"/>
<circle cx="128" cy="144.9" r="1.8"/>
<circle cx="133.3" cy="136.6" r="1.8"/>
<circle cx="126.3" cy="143" r="1.8"/>
<circle cx="133.6" cy="131.2" r="1.8"/>
<circle cx="131.7" cy="135.6" r="1.8"/>
<circle cx="132.2" cy="133.7" r="1.8"/>
<circle cx="130.6" cy="137.8" r="1.8"/>
<circle cx="124" cy="128.8" r="1.8"/>
<circle cx="132.8" cy="141.2" r="1.8"/>
<circle cx="133.5" cy="133.3" r="1.8"/>
<circle cx="126.6" cy="135.7" r="1.8"/>
<circle cx="129.6" cy="138.1" r="1.8"/>
<circle cx="123.6" cy="143" r="1.8"/>
<circle cx="124.6" cy="145.5" r="1.8"/>
<circle cx="125.6" cy="135.5" r="1.8"/>
<circle cx="127.4" cy="139.2" r="1.8"/>
<circle cx="126.5" cy="142.9" r="1.8"/>
<circle cx="125.6" cy="143.7" r="1.8"/>
<circle cx="133.9" cy="134.1" r="1.8"/>
<circle cx="124.4" cy="140.2" r="1.8"/>
<circle cx="133.9" cy="142" r="1.8"/>
<circle cx="125.5" cy="139.6" r="1.8"/>
<circle cx="133.3" cy="135.3" r="1.8"/>
<circle cx="135.6" cy="135" r="1.8"/>
<circle cx="134.8" cy="138.6" r="1.8"/>
<circle cx="142.6" cy="130.6" r="1.8"/>
<circle cx="135.5" cy="131.6" r="1.8"/>
<circle cx="144.3" cy="127.6" r="1.8"/>
<circle cx="139.5" cy="130.9" r="1.8"/>
<circle cx="141" cy="136.8" r="1.8"/>
<circle cx="137.8" cy="131.9" r="1.8"/>
<circle cx="142.7" cy="129.7" r="1.8"/>
<circle cx="139.5" cy="125.7" r="1.8"/>
<circle cx="134.7" cy="134.9" r="1.8"/>
<circle cx="137.3" cy="132.4" r="1.8"/>
<circle cx="136.6" cy="135" r="1.8"/>
<circle cx="136.8" cy="135.1" r="1.8"/>
<circle cx="140.7" cy="130.4" r="1.8"/>
<circle cx="134.5" cy="134.6" r="1.8"/>
<circle cx="144.2" cy="123.3" r="1.8"/>
<circle cx="138.7" cy="128.3" r="1.8"/>
<circle cx="136.1" cy="132" r="1.8"/>
<circle cx="137.8" cy="134.7" r="1.8"/>
<circle cx="141" cy="132.9" r="1.8"/>
<circle cx="134.6" cy="136.4" r="1.8"/>
<circle cx="142.7" cy="126" r="1.8"/>
<circle cx="135.2" cy="135.3" r="1.8"/>
<circle cx="139.1" cy="129.8" r="1.8"/>
<circle cx="142.3" cy="131.2" r="1.8"/>
<circle cx="138" cy="128.9" r="1.8"/>
<circle cx="138" cy="134.8" r="1.8"/>
<circle cx="137.9" cy="127.8" r="1.8"/>
<circle cx="136.8" cy="135.3" r="1.8"/>
<circle cx="138.2" cy="131.1" r="1.8"/>
<circle cx="143.9" cy="129.9" r="1.8"/>
<circle cx="138.1" cy="131.9" r="1.8"/>
<circle cx="134.7" cy="133.6" r="1.8"/>
<circle cx="137.5" cy="133.8" r="1.8"/>
<circle cx="137.7" cy="135.7" r="1.8"/>
<circle cx="143.6" cy="127" r="1.8"/>
<circle cx="137.7" cy="132.5" r="1.8"/>
<circle cx="135.8" cy="134.3" r="1.8"/>
<circle cx="137.8" cy="133" r="1.8"/>
<circle cx="141" cy="130.6" r="1.8"/>
<circle cx="137.6" cy="134.5" r="1.8"/>
<circle cx="142.4" cy="129.6" r="1.8"/>
<circle cx="139.8" cy="130.6" r="1.8"/>
<circle cx="139.8" cy="135.5" r="1.8"/>
<circle cx="136.7" cy="138.1" r="1.8"/>
<circle cx="142.2" cy="128.6" r="1.8"/>
<circle cx="144.8" cy="125.7" r="1.8"/>
<circle cx="138.1" cy="134.5" r="1.8"/>
<circle cx="137.6" cy="136.8" r="1.8"/>
<circle cx="134.6" cy="131.1" r="1.8"/>
<circle cx="141.5" cy="133.2" r="1.8"/>
<circle cx="141.9" cy="129.6" r="1.8"/>
<circle cx="139" cy="134" r="1.8"/>
<circle cx="150" cy="119.4" r="1.8"/>
<circle cx="151.6" cy="125.8" r="1.8"/>
<circle cx="154.4" cy="125.7" r="1.8"/>
<circle cx="155.7" cy="109.5" r="1.8"/>
<circle cx="146.3" cy="129.9" r="1.8"/>
<circle cx="153.8" cy="119.7" r="1.8"/>
<circle cx="153.7" cy="117.6" r="1.8"/>
<circle cx="149.1" cy="125.7" r="1.8"/>
<circle cx="154.8" cy="121.7" r="1.8"/>
<circle cx="152.1" cy="121.4" r="1.8"/>
<circle cx="145.5" cy="128.2" r="1.8"/>
<circle cx="151.6" cy="118.1" r="1.8"/>
<circle cx="149.6" cy="123.8" r="1.8"/>
<circle cx="148.5" cy="121.5" r="1.8"/>
<circle cx="155.4" cy="120.4" r="1.8"/>
<circle cx="145.8" cy="129.4" r="1.8"/>
<circle cx="153.6" cy="118.7" r="1.8"/>
<circle cx="147.6" cy="119.6" r="1.8"/>
<circle cx="151.7" cy="122.2" r="1.8"/>
<circle cx="149.5" cy="124.5" r="1.8"/>
<circle cx="145.7" cy="125.1" r="1.8"/>
<circle cx="152.8" cy="122.9" r="1.8"/>
<circle cx="148.7" cy="126.5" r="1.8"/>
<circle cx="150.7" cy="123.6" r="1.8"/>
<circle cx="152.5" cy="126.8" r="1.8"/>
<circle cx="145.5" cy="126.2" r="1.8"/>
<circle cx="145.3" cy="125.3" r="1.8"/>
<circle cx="155.4" cy="119.8" r="1.8"/>
<circle cx="147.7" cy="129.9" r="1.8"/>
<circle cx="147.6" cy="125.9" r="1.8"/>
<circle cx="152.9" cy="123.4" r="1.8"/>
<circle cx="151.6" cy="122.5" r="1.8"/>
<circle cx="155.6" cy="120" r="1.8"/>
<circle cx="154" cy="119.3" r="1.8"/>
<circle cx="148.6" cy="125.9" r="1.8"/>
<circle cx="148" cy="125.7" r="1.8"/>
<circle cx="152.8" cy="124" r="1.8"/>
<circle cx="155.5" cy="118.5" r="1.8"/>
<circle cx="154.1" cy="122.6" r="1.8"/>
<circle cx="152.5" cy="120.9" r="1.8"/>
<circle cx="151.7" cy="126.3" r="1.8"/>
<circle cx="149.2" cy="123.4" r="1.8"/>
<circle cx="155" cy="125.5" r="1.8"/>
<circle cx="152.9" cy="121.5" r="1.8"/>
<circle cx="146.1" cy="128.9" r="1.8"/>
<circle cx="147.7" cy="130.2" r="1.8"/>
<circle cx="152" cy="122.7" r="1.8"/>
<circle cx="152.7" cy="119.1" r="1.8"/>
<circle cx="145.3" cy="127.7" r="1.8"/>
<circle cx="148.7" cy="126.3" r="1.8"/>
<circle cx="148.2" cy="120.4" r="1.8"/>
<circle cx="159.7" cy="115" r="1.8"/>
<circle cx="165.7" cy="112.1" r="1.8"/>
<circle cx="160" cy="112.8" r="1.8"/>
<circle cx="158.4" cy="120.7" r="1.8"/>
<circle cx="161.2" cy="113.4" r="1.8"/>
<circle cx="162.2" cy="114" r="1.8"/>
<circle cx="162.1" cy="114.8" r="1.8"/>
<circle cx="163.2" cy="111.7" r="1.8"/>
<circle cx="162.2" cy="114.8" r="1.8"/>
<circle cx="158.8" cy="119.8" r="1.8"/>
<circle cx="160.4" cy="115.7" r="1.8"/>
<circle cx="159.1" cy="116.6" r="1.8"/>
<circle cx="160.3" cy="114.2" r="1.8"/>
<circle cx="162.7" cy="110.8" r="1.8"/>
<circle cx="157" cy="118.4" r="1.8"/>
<circle cx="163.2" cy="112.6" r="1.8"/>
<circle cx="156" cy="115" r="1.8"/>
<circle cx="163.2" cy="113.2" r="1.8"/>
<circle cx="158.1" cy="115.6" r="1.8"/>
<circle cx="166.6" cy="103" r="1.8"/>
<circle cx="162.2" cy="117.1" r="1.8"/>
<circle cx="164.4" cy="115.6" r="1.8"/>
<circle cx="159.3" cy="113.2" r="1.8"/>
<circle cx="162.2" cy="114.1" r="1.8"/>
<circle cx="165.7" cy="114.9" r="1.8"/>
<circle cx="162.1" cy="119.2" r="1.8"/>
<circle cx="166.1" cy="110.4" r="1.8"/>
<circle cx="157.7" cy="127.4" r="1.8"/>
<circle cx="163.9" cy="115.6" r="1.8"/>
<circle cx="156" cy="114.7" r="1.8"/>
<circle cx="165.5" cy="105.1" r="1.8"/>
<circle cx="159.8" cy="117.1" r="1.8"/>
<circle cx="159.7" cy="119.4" r="1.8"/>
<circle cx="162.3" cy="118.1" r="1.8"/>
<circle cx="164" cy="111.4" r="1.8"/>
<circle cx="157.6" cy="112.3" r="1.8"/>
<circle cx="156.6" cy="109.9" r="1.8"/>
<circle cx="159.7" cy="114.1" r="1.8"/>
<circle cx="157.9" cy="115.6" r="1.8"/>
<circle cx="164.4" cy="113" r="1.8"/>
<circle cx="159.9" cy="116.6" r="1.8"/>
<circle cx="155.9" cy="120.3" r="1.8"/>
<circle cx="165.5" cy="111.2" r="1.8"/>
<circle cx="158.1" cy="114" r="1.8"/>
<circle cx="156.7" cy="124.7" r="1.8"/>
<circle cx="159" cy="114.4" r="1.8"/>
<circle cx="158.6" cy="114.9" r="1.8"/>
<circle cx="160.1" cy="116.6" r="1.8"/>
<circle cx="166.2" cy="117.3" r="1.8"/>
<circle cx="164.4" cy="110.8" r="1.8"/>
<circle cx="159.7" cy="115.5" r="1.8"/>
<circle cx="166.1" cy="111.5" r="1.8"/>
<circle cx="160.1" cy="117.1" r="1.8"/>
<circle cx="158.2" cy="116.2" r="1.8"/>
<circle cx="156.7" cy="117.3" r="1.8"/>
<circle cx="165.5" cy="109.9" r="1.8"/>
<circle cx="158.7" cy="118.7" r="1.8"/>
<circle cx="161.1" cy="116" r="1.8"/>
<circle cx="163.1" cy="122.1" r="1.8"/>
<circle cx="166.9" cy="112.3" r="1.8"/>
<circle cx="170.8" cy="106.7" r="1.8"/>
<circle cx="175.5" cy="100.7" r="1.8"/>
<circle cx="168.8" cy="110.7" r="1.8"/>
<circle cx="171.1" cy="109.6" r="1.8"/>
<circle cx="170.2" cy="104.1" r="1.8"/>
<circle cx="167.5" cy="113.8" r="1.8"/>
<circle cx="176.9" cy="101.4" r="1.8"/>
<circle cx="174" cy="106" r="1.8"/>
<circle cx="168.1" cy="109.8" r="1.8"/>
<circle cx="176.7" cy="103.4" r="1.8"/>
<circle cx="177.4" cy="101.8" r="1.8"/>
<circle cx="172.2" cy="107.6" r="1.8"/>
<circle cx="169.8" cy="107.1" r="1.8"/>
<circle cx="169.2" cy="113.9" r="1.8"/>
<circle cx="172.1" cy="102" r="1.8"/>
<circle cx="171.9" cy="110.2" r="1.8"/>
<circle cx="174.8" cy="105.3" r="1.8"/>
<circle cx="172.6" cy="103.1" r="1.8"/>
<circle cx="177.4" cy="105.3" r="1.8"/>
<circle cx="168.9" cy="107.4" r="1.8"/>
<circle cx="175" cy="103.1" r="1.8"/>
<circle cx="169.2" cy="109.7" r="1.8"/>
<circle cx="172.1" cy="106.2" r="1.8"/>
<circle cx="167" cy="109" r="1.8"/>
<circle cx="171.2" cy="110.7" r="1.8"/>
<circle cx="168.8" cy="111" r="1.8"/>
<circle cx="169.8" cy="115" r="1.8"/>
<circle cx="173.1" cy="103.5" r="1.8"/>
<circle cx="173.5" cy="101.9" r="1.8"/>
<circle cx="176.2" cy="102.4" r="1.8"/>
<circle cx="170.2" cy="106" r="1.8"/>
<circle cx="177" cy="100.5" r="1.8"/>
<circle cx="168.8" cy="108.6" r="1.8"/>
<circle cx="172.5" cy="105.7" r="1.8"/>
<circle cx="171.7" cy="103.7" r="1.8"/>
<circle cx="168.4" cy="109.5" r="1.8"/>
<circle cx="168.3" cy="112.1" r="1.8"/>
<circle cx="171.2" cy="108.8" r="1.8"/>
<circle cx="177.2" cy="108.4" r="1.8"/>
<circle cx="166.8" cy="113.6" r="1.8"/>
<circle cx="176.3" cy="102.1" r="1.8"/>
<circle cx="175.3" cy="105.4" r="1.8"/>
<circle cx="171.3" cy="108.3" r="1.8"/>
<circle cx="169.7" cy="107.9" r="1.8"/>
<circle cx="169.6" cy="105.4" r="1.8"/>
<circle cx="176.5" cy="106" r="1.8"/>
<circle cx="175.8" cy="104.2" r="1.8"/>
<circle cx="172.1" cy="112.1" r="1.8"/>
<circle cx="177" cy="102.4" r="1.8"/>
<circle cx="174.8" cy="105.7" r="1.8"/>
<circle cx="171.7" cy="104.3" r="1.8"/>
<circle cx="173.3" cy="108.4" r="1.8"/>
<circle cx="173.5" cy="106.9" r="1.8"/>
<circle cx="176.2" cy="104.2" r="1.8"/>
<circle cx="168.2" cy="115.1" r="1.8"/>
<circle cx="171.2" cy="107.7" r="1.8"/>
<circle cx="168" cy="113.8" r="1.8"/>
<circle cx="177.1" cy="101.6" r="1.8"/>
<circle cx="173.2" cy="107.6" r="1.8"/>
<circle cx="166.9" cy="109.2" r="1.8"/>
<circle cx="172.6" cy="109.5" r="1.8"/>
<circle cx="167.8" cy="114.5" r="1.8"/>
<circle cx="167.5" cy="108.4" r="1.8"/>
<circle cx="171.9" cy="105.1" r="1.8"/>
<circle cx="171.9" cy="108.1" r="1.8"/>
<circle cx="175.5" cy="104.3" r="1.8"/>
<circle cx="171.3" cy="106.2" r="1.8"/>
<circle cx="180.4" cy="98.1" r="1.8"/>
<circle cx="179.9" cy="105.4" r="1.8"/>
<circle cx="183" cy="100.2" r="1.8"/>
<circle cx="187.8" cy="93.5" r="1.8"/>
<circle cx="187.1" cy="93.7" r="1.8"/>
<circle cx="187.2" cy="94.9" r="1.8"/>
<circle cx="179.6" cy="98.5" r="1.8"/>
<circle cx="178.4" cy="98.3" r="1.8"/>
<circle cx="185.4" cy="97.8" r="1.8"/>
<circle cx="183" cy="95.3" r="1.8"/>
<circle cx="179.9" cy="98.4" r="1.8"/>
<circle cx="178.1" cy="104" r="1.8"/>
<circle cx="182.1" cy="101.3" r="1.8"/>
<circle cx="181.4" cy="102.7" r="1.8"/>
<circle cx="186.5" cy="96.8" r="1.8"/>
<circle cx="182.9" cy="96.8" r="1.8"/>
<circle cx="182" cy="99.4" r="1.8"/>
<circle cx="183" cy="98.6" r="1.8"/>
<circle cx="187.9" cy="94.3" r="1.8"/>
<circle cx="187.3" cy="95.3" r="1.8"/>
<circle cx="181.1" cy="100" r="1.8"/>
<circle cx="178.6" cy="101" r="1.8"/>
<circle cx="184.4" cy="100.6" r="1.8"/>
<circle cx="179.6" cy="98.8" r="1.8"/>
<circle cx="178.1" cy="103.7" r="1.8"/>
<circle cx="183.1" cy="97.1" r="1.8"/>
<circle cx="185.7" cy="95.4" r="1.8"/>
<circle cx="184.4" cy="98.4" r="1.8"/>
<circle cx="181" cy="99.8" r="1.8"/>
<circle cx="186.1" cy="94.9" r="1.8"/>
<circle cx="178.6" cy="102.2" r="1.8"/>
<circle cx="180.2" cy="101.8" r="1.8"/>
<circle cx="183.5" cy="101.7" r="1.8"/>
<circle cx="183.5" cy="101.1" r="1.8"/>
<circle cx="182.9" cy="100.5" r="1.8"/>
<circle cx="181.2" cy="104.2" r="1.8"/>
<circle cx="177.8" cy="106.3" r="1.8"/>
<circle cx="185.2" cy="94.4" r="1.8"/>
<circle cx="184" cy="99.4" r="1.8"/>
<circle cx="183.7" cy="100.2" r="1.8"/>
<circle cx="187.1" cy="103.1" r="1.8"/>
<circle cx="185.5" cy="94.7" r="1.8"/>
<circle cx="181" cy="104.1" r="1.8"/>
<circle cx="185.2" cy="93" r="1.8"/>
<circle cx="178.7" cy="101" r="1.8"/>
<circle cx="180.5" cy="103.2" r="1.8"/>
<circle cx="182.6" cy="98.4" r="1.8"/>
<circle cx="184.3" cy="101.3" r="1.8"/>
<circle cx="188.1" cy="95.1" r="1.8"/>
<circle cx="184.2" cy="97.3" r="1.8"/>
<circle cx="177.9" cy="104.4" r="1.8"/>
<circle cx="185.7" cy="94.5" r="1.8"/>
<circle cx="186.7" cy="93.3" r="1.8"/>
<circle cx="178.6" cy="103.5" r="1.8"/>
<circle cx="180.5" cy="97.7" r="1.8"/>
<circle cx="180.7" cy="95.5" r="1.8"/>
<circle cx="182" cy="102.8" r="1.8"/>
<circle cx="180.7" cy="100.5" r="1.8"/>
<circle cx="178.6" cy="100.2" r="1.8"/>
<circle cx="181.5" cy="99.2" r="1.8"/>
<circle cx="188" cy="93.8" r="1.8"/>
<circle cx="197.9" cy="85.3" r="1.8"/>
<circle cx="189.4" cy="94.8" r="1.8"/>
<circle cx="197.1" cy="87.3" r="1.8"/>
<circle cx="194.8" cy="90.1" r="1.8"/>
<circle cx="194" cy="90.9" r="1.8"/>
<circle cx="189.2" cy="92" r="1.8"/>
<circle cx="195.5" cy="91.6" r="1.8"/>
<circle cx="188.4" cy="94.8" r="1.8"/>
<circle cx="189.9" cy="91.5" r="1.8"/>
<circle cx="191.2" cy="96.9" r="1.8"/>
<circle cx="192.1" cy="90.4" r="1.8"/>
<circle cx="194.5" cy="89.5" r="1.8"/>
<circle cx="189.3" cy="95.3" r="1.8"/>
<circle cx="196.9" cy="92" r="1.8"/>
<circle cx="191.9" cy="95.6" r="1.8"/>
<circle cx="191.8" cy="89.9" r="1.8"/>
<circle cx="191.7" cy="92.2" r="1.8"/>
<circle cx="197.8" cy="84.2" r="1.8"/>
<circle cx="190.8" cy="94.3" r="1.8"/>
<circle cx="190" cy="94.1" r="1.8"/>
<circle cx="195.2" cy="85.5" r="1.8"/>
<circle cx="192.8" cy="88.9" r="1.8"/>
<circle cx="193.9" cy="96.6" r="1.8"/>
<circle cx="198.4" cy="87.2" r="1.8"/>
<circle cx="195.7" cy="88.9" r="1.8"/>
<circle cx="195.6" cy="89.4" r="1.8"/>
<circle cx="193.8" cy="87.8" r="1.8"/>
<circle cx="192.3" cy="90.2" r="1.8"/>
<circle cx="195.9" cy="88" r="1.8"/>
<circle cx="197.8" cy="90.7" r="1.8"/>
<circle cx="193.4" cy="92.2" r="1.8"/>
<circle cx="196.8" cy="86.1" r="1.8"/>
<circle cx="198.3" cy="88.5" r="1.8"/>
<circle cx="192.6" cy="88.9" r="1.8"/>
<circle cx="194.4" cy="87.4" r="1.8"/>
<circle cx="193.6" cy="98.2" r="1.8"/>
<circle cx="198" cy="91.5" r="1.8"/>
<circle cx="189.9" cy="91.7" r="1.8"/>
<circle cx="192.9" cy="88.7" r="1.8"/>
<circle cx="192.4" cy="89.3" r="1.8"/>
<circle cx="194.4" cy="89.8" r="1.8"/>
<circle cx="190.3" cy="91.8" r="1.8"/>
<circle cx="188.7" cy="98" r="1.8"/>
<circle cx="193.8" cy="91.2" r="1.8"/>
<circle cx="189.9" cy="93.4" r="1.8"/>
<circle cx="193.1" cy="90.1" r="1.8"/>
<circle cx="191.2" cy="90.2" r="1.8"/>
<circle cx="197.5" cy="87.9" r="1.8"/>
<circle cx="194.9" cy="92.5" r="1.8"/>
<circle cx="196.7" cy="87" r="1.8"/>
<circle cx="191.6" cy="86.8" r="1.8"/>
<circle cx="194.7" cy="88.6" r="1.8"/>
<circle cx="191.5" cy="94.1" r="1.8"/>
<circle cx="198.6" cy="83.3" r="1.8"/>
<circle cx="196.3" cy="88" r="1.8"/>
<circle cx="198" cy="87.5" r="1.8"/>
<circle cx="198.5" cy="85.3" r="1.8"/>
<circle cx="192.2" cy="94.2" r="1.8"/>
<circle cx="192.9" cy="94.6" r="1.8"/>
<circle cx="188.3" cy="96" r="1.8"/>
<circle cx="191.4" cy="91.3" r="1.8"/>
<circle cx="189.9" cy="94.2" r="1.8"/>
<circle cx="206.8" cy="81.3" r="1.8"/>
<circle cx="207.4" cy="79.9" r="1.8"/>
<circle cx="208" cy="80.6" r="1.8"/>
<circle cx="208.2" cy="76.8" r="1.8"/>
<circle cx="201.9" cy="86.5" r="1.8"/>
<circle cx="207.1" cy="82.6" r="1.8"/>
<circle cx="207.6" cy="75.7" r="1.8"/>
<circle cx="202.3" cy="82.5" r="1.8"/>
<circle cx="203.8" cy="80.5" r="1.8"/>
<circle cx="204.5" cy="83.5" r="1.8"/>
<circle cx="208.6" cy="80.1" r="1.8"/>
<circle cx="207.3" cy="78.9" r="1.8"/>
<circle cx="199.2" cy="89" r="1.8"/>
<circle cx="204.5" cy="81.4" r="1.8"/>
<circle cx="204.5" cy="80.8" r="1.8"/>
<circle cx="203.5" cy="80.9" r="1.8"/>
<circle cx="200.1" cy="86.9" r="1.8"/>
<circle cx="199" cy="85" r="1.8"/>
<circle cx="203.7" cy="83.5" r="1.8"/>
<circle cx="202.7" cy="84.5" r="1.8"/>
<circle cx="206.5" cy="75.4" r="1.8"/>
<circle cx="208.2" cy="80.2" r="1.8"/>
<circle cx="206.2" cy="83.3" r="1.8"/>
<circle cx="208.7" cy="76.8" r="1.8"/>
<circle cx="206.6" cy="78.1" r="1.8"/>
<circle cx="199.4" cy="90.3" r="1.8"/>
<circle cx="206.6" cy="83.7" r="1.8"/>
<circle cx="205.1" cy="76.7" r="1.8"/>
<circle cx="209.2" cy="72.9" r="1.8"/>
<circle cx="205.7" cy="80.2" r="1.8"/>
<circle cx="202.1" cy="85.7" r="1.8"/>
<circle cx="205.7" cy="78.4" r="1.8"/>
<circle cx="208.8" cy="79.2" r="1.8"/>
<circle cx="204.9" cy="85.6" r="1.8"/>
<circle cx="202.5" cy="80" r="1.8"/>
<circle cx="207" cy="78.4" r="1.8"/>
<circle cx="209" cy="79.4" r="1.8"/>
<circle cx="203.4" cy="83.3" r="1.8"/>
<circle cx="202.5" cy="84.8" r="1.8"/>
<circle cx="202.1" cy="86.3" r="1.8"/>
<circle cx="201.4" cy="85.7" r="1.8"/>
<circle cx="206.1" cy="81.3" r="1.8"/>
<circle cx="202.1" cy="89.1" r="1.8"/>
<circle cx="206.6" cy="76.8" r="1.8"/>
<circle cx="199.9" cy="81.8" r="1.8"/>
<circle cx="201.9" cy="87.3" r="1.8"/>
<circle cx="199.5" cy="90.4" r="1.8"/>
<circle cx="206" cy="86.4" r="1.8"/>
<circle cx="202" cy="85" r="1.8"/>
<circle cx="206.7" cy="79.6" r="1.8"/>
<circle cx="202.4" cy="85.1" r="1.8"/>
<circle cx="204.7" cy="76.3" r="1.8"/>
<circle cx="203.3" cy="86.7" r="1.8"/>
<circle cx="207.8" cy="81.8" r="1.8"/>
<circle cx="209.3" cy="82.6" r="1.8"/>
<circle cx="205.9" cy="83.8" r="1.8"/>
<circle cx="202.5" cy="81" r="1.8"/>
<circle cx="209.5" cy="77.9" r="1.8"/>
<circle cx="208.9" cy="78" r="1.8"/>
<circle cx="201.7" cy="85.3" r="1.8"/>
<circle cx="200.3" cy="87.2" r="1.8"/>
<circle cx="207.5" cy="79.4" r="1.8"/>
<circle cx="204.5" cy="85.3" r="1.8"/>
<circle cx="202.9" cy="85.3" r="1.8"/>
<circle cx="203.6" cy="85.3" r="1.8"/>
<circle cx="207.8" cy="78.7" r="1.8"/>
<circle cx="209.3" cy="76.8" r="1.8"/>
<circle cx="200.2" cy="83.9" r="1.8"/>
<circle cx="205.3" cy="76.9" r="1.8"/>
<circle cx="204.2" cy="82" r="1.8"/>
<circle cx="201.4" cy="86.2" r="1.8"/>
<circle cx="203.9" cy="80.3" r="1.8"/>
<circle cx="209.2" cy="78" r="1.8"/>
<circle cx="199.1" cy="84" r="1.8"/>
<circle cx="209.5" cy="77.4" r="1.8"/>
<circle cx="201.9" cy="86.9" r="1.8"/>
<circle cx="208.3" cy="81.1" r="1.8"/>
<circle cx="201.2" cy="89.5" r="1.8"/>
<circle cx="203.7" cy="83.1" r="1.8"/>
<circle cx="201.3" cy="85.7" r="1.8"/>
<circle cx="203.7" cy="81.2" r="1.8"/>
<circle cx="205.2" cy="81.6" r="1.8"/>
<circle cx="204.6" cy="85.7" r="1.8"/>
<circle cx="217.7" cy="75.2" r="1.8"/>
<circle cx="215.6" cy="74" r="1.8"/>
<circle cx="219.3" cy="67.5" r="1.8"/>
<circle cx="218.9" cy="74.4" r="1.8"/>
<circle cx="213.4" cy="73.2" r="1.8"/>
<circle cx="219.8" cy="69.4" r="1.8"/>
<circle cx="219" cy="73.2" r="1.8"/>
<circle cx="212.6" cy="76.1" r="1.8"/>
<circle cx="212.9" cy="77.3" r="1.8"/>
<circle cx="217.7" cy="72.3" r="1.8"/>
<circle cx="214.8" cy="78.1" r="1.8"/>
<circle cx="216.3" cy="76.3" r="1.8"/>
<circle cx="215.2" cy="72.2" r="1.8"/>
<circle cx="213.4" cy="75.4" r="1.8"/>
<circle cx="218" cy="73.3" r="1.8"/>
<circle cx="216.5" cy="73.5" r="1.8"/>
<circle cx="215.7" cy="72.8" r="1.8"/>
<circle cx="210.2" cy="84.8" r="1.8"/>
<circle cx="212.1" cy="77.9" r="1.8"/>
<circle cx="219.7" cy="67.4" r="1.8"/>
<circle cx="214.9" cy="67.3" r="1.8"/>
<circle cx="219.3" cy="72" r="1.8"/>
<circle cx="215" cy="69.9" r="1.8"/>
<circle cx="211.8" cy="75.2" r="1.8"/>
<circle cx="212.7" cy="80" r="1.8"/>
<circle cx="219.9" cy="69.4" r="1.8"/>
<circle cx="212.3" cy="78.7" r="1.8"/>
<circle cx="215.4" cy="72.4" r="1.8"/>
<circle cx="216.3" cy="71.8" r="1.8"/>
<circle cx="214.8" cy="79.3" r="1.8"/>
<circle cx="210.5" cy="79.9" r="1.8"/>
<circle cx="218.1" cy="73.4" r="1.8"/>
<circle cx="219.1" cy="70.5" r="1.8"/>
<circle cx="216.8" cy="77" r="1.8"/>
<circle cx="217.3" cy="74.2" r="1.8"/>
<circle cx="219.8" cy="71.7" r="1.8"/>
<circle cx="213.4" cy="74.6" r="1.8"/>
<circle cx="210.5" cy="74.9" r="1.8"/>
<circle cx="209.9" cy="80.5" r="1.8"/>
<circle cx="219.6" cy="75.6" r="1.8"/>
<circle cx="217.9" cy="75.5" r="1.8"/>
<circle cx="218.8" cy="73.3" r="1.8"/>
<circle cx="219.2" cy="70" r="1.8"/>
<circle cx="219.2" cy="73.5" r="1.8"/>
<circle cx="217.5" cy="75.5" r="1.8"/>
<circle cx="213.7" cy="73.3" r="1.8"/>
<circle cx="218.9" cy="70.6" r="1.8"/>
<circle cx="215.7" cy="66.2" r="1.8"/>
<circle cx="216.2" cy="70.9" r="1.8"/>
<circle cx="218.7" cy="70" r="1.8"/>
<circle cx="220.4" cy="71.3" r="1.8"/>
<circle cx="214.5" cy="73.8" r="1.8"/>
<circle cx="211.9" cy="80.9" r="1.8"/>
<circle cx="212" cy="78.4" r="1.8"/>
<circle cx="216.4" cy="66.6" r="1.8"/>
<circle cx="213" cy="71" r="1.8"/>
<circle cx="211.5" cy="81.2" r="1.8"/>
<circle cx="212.7" cy="77.1" r="1.8"/>
<circle cx="213.6" cy="71.6" r="1.8"/>
<circle cx="218.9" cy="72.9" r="1.8"/>
<circle cx="219.5" cy="73.3" r="1.8"/>
<circle cx="213.6" cy="77.5" r="1.8"/>
<circle cx="216.9" cy="74.3" r="1.8"/>
<circle cx="214.6" cy="76.2" r="1.8"/>
<circle cx="220.3" cy="66.7" r="1.8"/>
<circle cx="219.4" cy="73.2" r="1.8"/>
<circle cx="210.2" cy="83.8" r="1.8"/>
<circle cx="213.7" cy="81.6" r="1.8"/>
<circle cx="212.6" cy="78.5" r="1.8"/>
<circle cx="213.7" cy="74.4" r="1.8"/>
<circle cx="215.3" cy="68.7" r="1.8"/>
<circle cx="216.5" cy="74.2" r="1.8"/>
<circle cx="217.8" cy="82" r="1.8"/>
<circle cx="211.7" cy="77.7" r="1.8"/>
<circle cx="214.2" cy="74.1" r="1.8"/>
<circle cx="219.8" cy="74.8" r="1.8"/>
<circle cx="217.2" cy="74.5" r="1.8"/>
<circle cx="217.2" cy="74.9" r="1.8"/>
<circle cx="217.9" cy="71.8" r="1.8"/>
<circle cx="218" cy="77.1" r="1.8"/>
<circle cx="220.3" cy="76.3" r="1.8"/>
<circle cx="215.3" cy="72.5" r="1.8"/>
<circle cx="211.8" cy="78.5" r="1.8"/>
<circle cx="212.8" cy="82.5" r="1.8"/>
<circle cx="225.1" cy="65.1" r="1.8"/>
<circle cx="222.5" cy="71.3" r="1.8"/>
<circle cx="221.3" cy="66" r="1.8"/>
<circle cx="224.3" cy="72.2" r="1.8"/>
<circle cx="227.8" cy="63.9" r="1.8"/>
<circle cx="226.3" cy="63.9" r="1.8"/>
<circle cx="224.1" cy="68.5" r="1.8"/>
<circle cx="222.8" cy="67.3" r="1.8"/>
<circle cx="225" cy="69.4" r="1.8"/>
<circle cx="226.9" cy="64.1" r="1.8"/>
<circle cx="227.6" cy="64.7" r="1.8"/>
<circle cx="224.1" cy="70" r="1.8"/>
<circle cx="222.1" cy="70.8" r="1.8"/>
<circle cx="227.8" cy="63.6" r="1.8"/>
<circle cx="222.1" cy="63.3" r="1.8"/>
<circle cx="224.3" cy="68.3" r="1.8"/>
<circle cx="229.7" cy="64.7" r="1.8"/>
<circle cx="229.3" cy="63.7" r="1.8"/>
<circle cx="229.3" cy="64.2" r="1.8"/>
<circle cx="228.4" cy="66.4" r="1.8"/>
<circle cx="225.9" cy="69.6" r="1.8"/>
<circle cx="230.9" cy="60.9" r="1.8"/>
<circle cx="222.3" cy="67.3" r="1.8"/>
<circle cx="229.9" cy="61.7" r="1.8"/>
<circle cx="225.9" cy="68.8" r="1.8"/>
<circle cx="226.8" cy="64.8" r="1.8"/>
<circle cx="230.8" cy="61.7" r="1.8"/>
<circle cx="223" cy="66.1" r="1.8"/>
<circle cx="229.7" cy="66.3" r="1.8"/>
<circle cx="229" cy="66.1" r="1.8"/>
<circle cx="230.9" cy="64.3" r="1.8"/>
<circle cx="220.7" cy="71" r="1.8"/>
<circle cx="230.5" cy="62.3" r="1.8"/>
<circle cx="222.5" cy="68.3" r="1.8"/>
<circle cx="225.3" cy="68.1" r="1.8"/>
<circle cx="220.7" cy="72.4" r="1.8"/>
<circle cx="228.7" cy="64.8" r="1.8"/>
<circle cx="228.2" cy="63.2" r="1.8"/>
<circle cx="228.8" cy="61.7" r="1.8"/>
<circle cx="221.5" cy="74" r="1.8"/>
<circle cx="226.9" cy="67.3" r="1.8"/>
<circle cx="225.7" cy="63.9" r="1.8"/>
<circle cx="221.8" cy="68.1" r="1.8"/>
<circle cx="222.4" cy="70.1" r="1.8"/>
<circle cx="226.1" cy="66.5" r="1.8"/>
<circle cx="230.6" cy="61" r="1.8"/>
<circle cx="222.3" cy="67.3" r="1.8"/>
<circle cx="220.8" cy="71.7" r="1.8"/>
<circle cx="224.7" cy="66.4" r="1.8"/>
<circle cx="230.1" cy="63.9" r="1.8"/>
<circle cx="223.4" cy="63" r="1.8"/>
<circle cx="222.8" cy="73.8" r="1.8"/>
<circle cx="228.7" cy="65.5" r="1.8"/>
<circle cx="223" cy="67.9" r="1.8"/>
<circle cx="226.6" cy="66.2" r="1.8"/>
<circle cx="231.2" cy="63.9" r="1.8"/>
<circle cx="223" cy="65.2" r="1.8"/>
<circle cx="221.9" cy="68.6" r="1.8"/>
<circle cx="223.8" cy="69.9" r="1.8"/>
<circle cx="229" cy="63.2" r="1.8"/>
<circle cx="220.8" cy="74.1" r="1.8"/>
<circle cx="223.1" cy="70.7" r="1.8"/>
<circle cx="229" cy="61.2" r="1.8"/>
<circle cx="227.4" cy="68.2" r="1.8"/>
<circle cx="229.8" cy="68" r="1.8"/>
<circle cx="231.1" cy="61.4" r="1.8"/>
<circle cx="221.5" cy="69.8" r="1.8"/>
<circle cx="223.3" cy="70.6" r="1.8"/>
<circle cx="225.8" cy="66.5" r="1.8"/>
<circle cx="223.7" cy="70.4" r="1.8"/>
<circle cx="225.2" cy="68.7" r="1.8"/>
<circle cx="229.6" cy="66.2" r="1.8"/>
<circle cx="231" cy="63.1" r="1.8"/>
<circle cx="227.9" cy="65.7" r="1.8"/>
<circle cx="224.5" cy="68.5" r="1.8"/>
<circle cx="224.4" cy="65.6" r="1.8"/>
<circle cx="221" cy="70.9" r="1.8"/>
<circle cx="221.9" cy="68.1" r="1.8"/>
<circle cx="228.7" cy="64.3" r="1.8"/>
<circle cx="220.6" cy="71.7" r="1.8"/>
<circle cx="222.1" cy="67.1" r="1.8"/>
<circle cx="220.6" cy="69.7" r="1.8"/>
<circle cx="226.9" cy="64.1" r="1.8"/>
<circle cx="221.5" cy="68.3" r="1.8"/>
<circle cx="236.4" cy="55.5" r="1.8"/>
<circle cx="238.4" cy="57.1" r="1.8"/>
<circle cx="240.1" cy="58.1" r="1.8"/>
<circle cx="235.6" cy="60.6" r="1.8"/>
<circle cx="235.8" cy="60.5" r="1.8"/>
<circle cx="240.9" cy="55.8" r="1.8"/>
<circle cx="239.3" cy="56" r="1.8"/>
<circle cx="233.7" cy="60" r="1.8"/>
<circle cx="238.6" cy="58.5" r="1.8"/>
<circle cx="233.2" cy="62.4" r="1.8"/>
<circle cx="241.8" cy="55.2" r="1.8"/>
<circle cx="233.6" cy="61.9" r="1.8"/>
<circle cx="240.1" cy="55.9" r="1.8"/>
<circle cx="239.3" cy="56" r="1.8"/>
<circle cx="240.4" cy="56.4" r="1.8"/>
<circle cx="234.1" cy="61.6" r="1.8"/>
<circle cx="239.9" cy="55" r="1.8"/>
<circle cx="232" cy="63.5" r="1.8"/>
<circle cx="237" cy="57.3" r="1.8"/>
<circle cx="240" cy="56.6" r="1.8"/>
<circle cx="237.6" cy="56.5" r="1.8"/>
<circle cx="237.7" cy="57.2" r="1.8"/>
<circle cx="238.6" cy="56.3" r="1.8"/>
<circle cx="240.1" cy="54.5" r="1.8"/>
<circle cx="237.8" cy="57.2" r="1.8"/>
<circle cx="239.5" cy="57.4" r="1.8"/>
<circle cx="233.5" cy="60.1" r="1.8"/>
<circle cx="242" cy="54.9" r="1.8"/>
<circle cx="239.6" cy="56.4" r="1.8"/>
<circle cx="237.1" cy="58.3" r="1.8"/>
<circle cx="240.4" cy="55.8" r="1.8"/>
<circle cx="235.5" cy="58.7" r="1.8"/>
<circle cx="237.6" cy="60.3" r="1.8"/>
<circle cx="236.1" cy="58.2" r="1.8"/>
<circle cx="237.5" cy="58.9" r="1.8"/>
<circle cx="232.6" cy="62.3" r="1.8"/>
<circle cx="240.2" cy="54.5" r="1.8"/>
<circle cx="236.9" cy="59" r="1.8"/>
<circle cx="241.6" cy="54.8" r="1.8"/>
<circle cx="236.6" cy="58.7" r="1.8"/>
<circle cx="233.5" cy="60.7" r="1.8"/>
<circle cx="238.2" cy="57.3" r="1.8"/>
<circle cx="241.6" cy="54.5" r="1.8"/>
<circle cx="237.9" cy="57.3" r="1.8"/>
<circle cx="239.9" cy="55.1" r="1.8"/>
<circle cx="238.2" cy="58.5" r="1.8"/>
<circle cx="238.1" cy="57.4" r="1.8"/>
<circle cx="238.8" cy="55.9" r="1.8"/>
<circle cx="241.4" cy="54.5" r="1.8"/>
<circle cx="241.8" cy="54.5" r="1.8"/>
<circle cx="232.6" cy="60" r="1.8"/>
<circle cx="241.5" cy="54.5" r="1.8"/>
<circle cx="239.7" cy="56.7" r="1.8"/>
<circle cx="235.9" cy="60" r="1.8"/>
<circle cx="235" cy="58.1" r="1.8"/>
<circle cx="239.7" cy="57.6" r="1.8"/>
<circle cx="233.2" cy="60.1" r="1.8"/>
<circle cx="242.1" cy="54.6" r="1.8"/>
<circle cx="236.1" cy="60.1" r="1.8"/>
<circle cx="239.4" cy="54.6" r="1.8"/>
<circle cx="241.4" cy="55.2" r="1.8"/>
<circle cx="232" cy="62.3" r="1.8"/>
<circle cx="242.1" cy="54.5" r="1.8"/>
<circle cx="236.8" cy="58.2" r="1.8"/>
<circle cx="241.1" cy="54.5" r="1.8"/>
<circle cx="238.6" cy="57.1" r="1.8"/>
<circle cx="239.5" cy="56.1" r="1.8"/>
<circle cx="241.7" cy="54.5" r="1.8"/>
<circle cx="235.9" cy="59.5" r="1.8"/>
<circle cx="238.1" cy="57.5" r="1.8"/>
<circle cx="239.7" cy="56.9" r="1.8"/>
<circle cx="232.6" cy="59.8" r="1.8"/>
<circle cx="239.9" cy="57.3" r="1.8"/>
<circle cx="239.9" cy="56.3" r="1.8"/>
<circle cx="237.5" cy="56.8" r="1.8"/>
<circle cx="241.1" cy="54.5" r="1.8"/>
<circle cx="234.1" cy="61.5" r="1.8"/>
<circle cx="238.8" cy="58.2" r="1.8"/>
<circle cx="241.7" cy="54.5" r="1.8"/>
<circle cx="239.8" cy="57.2" r="1.8"/>
<circle cx="239.7" cy="56.8" r="1.8"/>
<circle cx="240" cy="56.5" r="1.8"/>
<circle cx="237.7" cy="58.7" r="1.8"/>
<circle cx="241.9" cy="54.5" r="1.8"/>
<circle cx="241.1" cy="54.5" r="1.8"/>
<circle cx="240.5" cy="54.5" r="1.8"/>
<circle cx="234.2" cy="60.1" r="1.8"/>
<circle cx="237.3" cy="59.4" r="1.8"/>
<circle cx="233.4" cy="59.8" r="1.8"/>
<circle cx="241.2" cy="55.3" r="1.8"/>
<circle cx="232.1" cy="65.6" r="1.8"/>
<circle cx="238.3" cy="57.1" r="1.8"/>
<circle cx="235.3" cy="58.6" r="1.8"/>
<circle cx="231.4" cy="59.6" r="1.8"/>
<circle cx="233.5" cy="59.2" r="1.8"/>
<circle cx="239.4" cy="55.1" r="1.8"/>
<circle cx="236" cy="61.5" r="1.8"/>
<circle cx="239.9" cy="55.3" r="1.8"/>
<circle cx="241.9" cy="55.1" r="1.8"/>
<circle cx="239.3" cy="57.1" r="1.8"/>
<circle cx="235.8" cy="61.8" r="1.8"/>
<circle cx="241.8" cy="54.6" r="1.8"/>
<circle cx="235.5" cy="58.8" r="1.8"/>
<circle cx="233.2" cy="59.4" r="1.8"/>
<circle cx="239.6" cy="55.5" r="1.8"/>
<circle cx="237.9" cy="57.8" r="1.8"/>
<circle cx="232.5" cy="60.7" r="1.8"/>
<circle cx="235.4" cy="60.3" r="1.8"/>
<circle cx="231.5" cy="63.2" r="1.8"/>
<circle cx="242" cy="55.8" r="1.8"/>
<circle cx="231.5" cy="62.3" r="1.8"/>
<circle cx="233" cy="63.3" r="1.8"/>
<circle cx="231.6" cy="64.3" r="1.8"/>
<circle cx="239.4" cy="57.1" r="1.8"/>
<circle cx="240.7" cy="56.1" r="1.8"/>
<circle cx="234.9" cy="59.1" r="1.8"/>
<circle cx="237.5" cy="59.4" r="1.8"/>
<circle cx="235.9" cy="58.8" r="1.8"/>
<circle cx="237.9" cy="56.4" r="1.8"/>
<circle cx="239.7" cy="54.7" r="1.8"/>
<circle cx="232.3" cy="62.8" r="1.8"/>
<circle cx="240.8" cy="54.6" r="1.8"/>
<circle cx="237.1" cy="59.2" r="1.8"/>
<circle cx="232.1" cy="62" r="1.8"/>
<circle cx="239.8" cy="56.6" r="1.8"/>
<circle cx="241.1" cy="54.5" r="1.8"/>
<circle cx="241" cy="54.5" r="1.8"/>
<circle cx="238.8" cy="57.2" r="1.8"/>
<circle cx="234.3" cy="58.4" r="1.8"/>
<circle cx="240.2" cy="55.7" r="1.8"/>
<circle cx="235.9" cy="58.8" r="1.8"/>
<circle cx="235.1" cy="59.9" r="1.8"/>
<circle cx="231.6" cy="62.8" r="1.8"/>
<circle cx="240.4" cy="54.7" r="1.8"/>
<circle cx="239.6" cy="56.7" r="1.8"/>
<circle cx="239.1" cy="55.3" r="1.8"/>
<circle cx="239.7" cy="57.8" r="1.8"/>
<circle cx="111.7" cy="162.6" r="1.8"/>
<circle cx="118.1" cy="158.6" r="1.8"/>
<circle cx="104.1" cy="167.4" r="1.8"/>
<circle cx="97.6" cy="172.3" r="1.8"/>
<circle cx="69.6" cy="173.9" r="1.8"/>
<circle cx="82.6" cy="164.2" r="1.8"/>
<circle cx="35.1" cy="215" r="1.8"/>
<circle cx="127.8" cy="149.7" r="1.8"/>
</g>
<path d="M31.3 211l2.2 3.9h-4.4zM31.7 209.5l2.2 3.9h-4.4zM27.8 212.7l2.2 3.9h-4.4zM28.2 213.7l2.2 3.9h-4.4zM36 206.3l2.2 3.9h-4.4zM32.1 208.3l2.2 3.9h-4.4zM30.3 212.5l2.2 3.9h-4.4zM27.6 213.7l2.2 3.9h-4.4zM28.3 210.1l2.2 3.9h-4.4zM30.5 212.5l2.2 3.9h-4.4zM31.3 211.2l2.2 3.9h-4.4zM27.2 213.5l2.2 3.9h-4.4zM29.7 211l2.2 3.9h-4.4zM36 205.5l2.2 3.9h-4.4zM30.2 212.2l2.2 3.9h-4.4zM28.3 212l2.2 3.9h-4.4zM27.8 211.5l2.2 3.9h-4.4zM27.9 212.7l2.2 3.9h-4.4zM29.7 210.4l2.2 3.9h-4.4zM29.8 211.8l2.2 3.9h-4.4zM27.4 213.4l2.2 3.9h-4.4zM34.8 206.9l2.2 3.9h-4.4zM32.7 210.7l2.2 3.9h-4.4zM33.6 209.7l2.2 3.9h-4.4zM30.9 209.4l2.2 3.9h-4.4zM29.5 210.8l2.2 3.9h-4.4zM26.7 212.8l2.2 3.9h-4.4zM34.1 208.5l2.2 3.9h-4.4zM36 206.4l2.2 3.9h-4.4zM30.1 210l2.2 3.9h-4.4zM27.2 213.4l2.2 3.9h-4.4zM30.4 209.5l2.2 3.9h-4.4zM28.3 213.1l2.2 3.9h-4.4zM29.1 206.9l2.2 3.9h-4.4zM30.5 210.5l2.2 3.9h-4.4zM36.2 206.1l2.2 3.9h-4.4zM29 212.2l2.2 3.9h-4.4zM30.5 211.8l2.2 3.9h-4.4zM28 212.3l2.2 3.9h-4.4zM35.8 209.4l2.2 3.9h-4.4zM30.3 211.4l2.2 3.9h-4.4zM27.4 210.6l2.2 3.9h-4.4zM33 209.7l2.2 3.9h-4.4zM30.7 210.2l2.2 3.9h-4.4zM36.2 203.6l2.2 3.9h-4.4zM31 209.6l2.2 3.9h-4.4zM29.4 212.6l2.2 3.9h-4.4zM31.3 210l2.2 3.9h-4.4zM30.8 211.5l2.2 3.9h-4.4zM26.6 213.7l2.2 3.9h-4.4zM33 208.2l2.2 3.9h-4.4zM35 207.8l2.2 3.9h-4.4zM36.1 206.9l2.2 3.9h-4.4zM28.7 210.8l2.2 3.9h-4.4zM31 210.7l2.2 3.9h-4.4zM36.8 206.2l2.2 3.9h-4.4zM28.7 212.3l2.2 3.9h-4.4zM29.3 211.9l2.2 3.9h-4.4zM36.8 206.9l2.2 3.9h-4.4zM29.4 212.1l2.2 3.9h-4.4zM30.4 208.7l2.2 3.9h-4.4zM29 210.7l2.2 3.9h-4.4zM27.4 213.7l2.2 3.9h-4.4zM32.2 210.1l2.2 3.9h-4.4zM32.4 210.3l2.2 3.9h-4.4zM26.7 213.7l2.2 3.9h-4.4zM28.1 212.9l2.2 3.9h-4.4zM31.9 210.3l2.2 3.9h-4.4zM32.4 209.8l2.2 3.9h-4.4zM31.5 210.5l2.2 3.9h-4.4zM45.6 202.2l2.2 3.9h-4.4zM47.8 200.6l2.2 3.9h-4.4zM47.7 198.7l2.2 3.9h-4.4zM38.1 201.9l2.2 3.9h-4.4zM46.5 198.3l2.2 3.9h-4.4zM39.6 205.1l2.2 3.9h-4.4zM45.7 195l2.2 3.9h-4.4zM48 198l2.2 3.9h-4.4zM40.2 209.6l2.2 3.9h-4.4zM45.5 200.7l2.2 3.9h-4.4zM47.2 192.9l2.2 3.9h-4.4zM47.4 194.7l2.2 3.9h-4.4zM40.8 203.5l2.2 3.9h-4.4zM41.8 199.9l2.2 3.9h-4.4zM46.3 197.6l2.2 3.9h-4.4zM42.3 201.8l2.2 3.9h-4.4zM40.8 202.8l2.2 3.9h-4.4zM40.6 201.3l2.2 3.9h-4.4zM40.7 202.9l2.2 3.9h-4.4zM42.5 201l2.2 3.9h-4.4zM41.1 205.6l2.2 3.9h-4.4zM37.5 204.9l2.2 3.9h-4.4zM40.7 203l2.2 3.9h-4.4zM42.3 204l2.2 3.9h-4.4zM47.9 197.7l2.2 3.9h-4.4zM46.3 197.1l2.2 3.9h-4.4zM40.7 201.4l2.2 3.9h-4.4zM43.7 198.5l2.2 3.9h-4.4zM38.4 204.9l2.2 3.9h-4.4zM39.2 205.6l2.2 3.9h-4.4zM45.6 198.7l2.2 3.9h-4.4zM41.6 200.7l2.2 3.9h-4.4zM44.4 199.7l2.2 3.9h-4.4zM37.4 205.3l2.2 3.9h-4.4zM45.2 204.7l2.2 3.9h-4.4zM38.9 200.5l2.2 3.9h-4.4zM45.9 203.8l2.2 3.9h-4.4zM39.1 202.8l2.2 3.9h-4.4zM45.9 198.1l2.2 3.9h-4.4zM39.8 203.2l2.2 3.9h-4.4zM38.9 206.2l2.2 3.9h-4.4zM44.5 201.2l2.2 3.9h-4.4zM40.4 204.1l2.2 3.9h-4.4zM45.4 201.1l2.2 3.9h-4.4zM41.6 199.5l2.2 3.9h-4.4zM46.8 197.8l2.2 3.9h-4.4zM39.5 201.9l2.2 3.9h-4.4zM44.3 201.3l2.2 3.9h-4.4zM47.8 196.7l2.2 3.9h-4.4zM44.2 200l2.2 3.9h-4.4zM46.3 200l2.2 3.9h-4.4zM45.7 202.6l2.2 3.9h-4.4zM37.4 207.8l2.2 3.9h-4.4zM49.7 196.1l2.2 3.9h-4.4zM51.7 194.6l2.2 3.9h-4.4zM54.4 185.7l2.2 3.9h-4.4zM51.5 192.2l2.2 3.9h-4.4zM57.4 190.4l2.2 3.9h-4.4zM56.3 189.4l2.2 3.9h-4.4zM51.4 194.8l2.2 3.9h-4.4zM55.2 192.3l2.2 3.9h-4.4zM48.1 195.9l2.2 3.9h-4.4zM51.3 189.5l2.2 3.9h-4.4zM56.8 187.2l2.2 3.9h-4.4zM55.3 187.4l2.2 3.9h-4.4zM52 196.7l2.2 3.9h-4.4zM56.8 191.6l2.2 3.9h-4.4zM56 189.1l2.2 3.9h-4.4zM56.2 192.2l2.2 3.9h-4.4zM56.3 189.1l2.2 3.9h-4.4zM57.7 192.5l2.2 3.9h-4.4zM50.5 200l2.2 3.9h-4.4zM48.5 197.9l2.2 3.9h-4.4zM50 196l2.2 3.9h-4.4zM55 192l2.2 3.9h-4.4zM56.1 196l2.2 3.9h-4.4zM52.9 195.8l2.2 3.9h-4.4zM50.7 195.1l2.2 3.9h-4.4zM57.4 193l2.2 3.9h-4.4zM48.5 198.8l2.2 3.9h-4.4zM57.7 189.5l2.2 3.9h-4.4zM57.3 186.3l2.2 3.9h-4.4zM48.7 195l2.2 3.9h-4.4zM52.6 193.2l2.2 3.9h-4.4zM56.3 193.2l2.2 3.9h-4.4zM54.3 194.7l2.2 3.9h-4.4zM53.5 192.8l2.2 3.9h-4.4zM54.3 189.9l2.2 3.9h-4.4zM49.6 195.9l2.2 3.9h-4.4zM54.1 196.2l2.2 3.9h-4.4zM51.5 195.4l2.2 3.9h-4.4zM55.6 192.4l2.2 3.9h-4.4zM50.8 189.8l2.2 3.9h-4.4zM69.5 181.9l2.2 3.9h-4.4zM64.1 193.3l2.2 3.9h-4.4zM66.8 182.5l2.2 3.9h-4.4zM62.8 184.8l2.2 3.9h-4.4zM69.4 181.7l2.2 3.9h-4.4zM64.8 185.3l2.2 3.9h-4.4zM66.4 189.1l2.2 3.9h-4.4zM62.1 184.2l2.2 3.9h-4.4zM60.1 191.5l2.2 3.9h-4.4zM61.2 184l2.2 3.9h-4.4zM60 188.7l2.2 3.9h-4.4zM64.3 183.4l2.2 3.9h-4.4zM62.4 187.2l2.2 3.9h-4.4zM65 189.8l2.2 3.9h-4.4zM66.9 184.7l2.2 3.9h-4.4zM67.3 186.3l2.2 3.9h-4.4zM62.4 185l2.2 3.9h-4.4zM60.5 189.5l2.2 3.9h-4.4zM64.8 184l2.2 3.9h-4.4zM60.3 189.7l2.2 3.9h-4.4zM59.6 190.7l2.2 3.9h-4.4zM68.8 182.3l2.2 3.9h-4.4zM66 188.5l2.2 3.9h-4.4zM63.8 187.3l2.2 3.9h-4.4zM68.3 184.2l2.2 3.9h-4.4zM61.1 184.1l2.2 3.9h-4.4zM60.8 192.9l2.2 3.9h-4.4zM60.3 184.5l2.2 3.9h-4.4zM62.5 181.4l2.2 3.9h-4.4zM63.4 181.2l2.2 3.9h-4.4zM62.1 176.5l2.2 3.9h-4.4zM62.8 185.2l2.2 3.9h-4.4zM69.4 182.4l2.2 3.9h-4.4zM68.5 184.1l2.2 3.9h-4.4zM62.8 182l2.2 3.9h-4.4zM69.4 180.9l2.2 3.9h-4.4zM66.8 186.7l2.2 3.9h-4.4zM77.4 171.9l2.2 3.9h-4.4zM71.2 182.7l2.2 3.9h-4.4zM71.2 180.7l2.2 3.9h-4.4zM73.4 192l2.2 3.9h-4.4zM70 183.6l2.2 3.9h-4.4zM73.4 175l2.2 3.9h-4.4zM75 185.6l2.2 3.9h-4.4zM79.7 167.8l2.2 3.9h-4.4zM74 177.4l2.2 3.9h-4.4zM79.3 180.4l2.2 3.9h-4.4zM70.3 182.1l2.2 3.9h-4.4zM70.2 181.5l2.2 3.9h-4.4zM74 174.1l2.2 3.9h-4.4zM72.2 169.9l2.2 3.9h-4.4zM71 178.4l2.2 3.9h-4.4zM79.6 172l2.2 3.9h-4.4zM76.8 177.2l2.2 3.9h-4.4zM71.4 163.4l2.2 3.9h-4.4zM77.7 176.3l2.2 3.9h-4.4zM73.6 192.4l2.2 3.9h-4.4zM73.2 182.4l2.2 3.9h-4.4zM73.3 186.3l2.2 3.9h-4.4zM71.8 185l2.2 3.9h-4.4zM76.2 179.5l2.2 3.9h-4.4zM72.1 184l2.2 3.9h-4.4zM76.7 185.4l2.2 3.9h-4.4zM76.3 173.8l2.2 3.9h-4.4zM80.1 171l2.2 3.9h-4.4zM88.3 169.1l2.2 3.9h-4.4zM85.6 162.3l2.2 3.9h-4.4zM82.1 172.2l2.2 3.9h-4.4zM88.4 164.4l2.2 3.9h-4.4zM85.6 163.6l2.2 3.9h-4.4zM81.2 174.7l2.2 3.9h-4.4zM88.7 170l2.2 3.9h-4.4zM85.1 164.1l2.2 3.9h-4.4zM90 155.8l2.2 3.9h-4.4zM86.7 171.3l2.2 3.9h-4.4zM84.6 169.1l2.2 3.9h-4.4zM87.6 165.5l2.2 3.9h-4.4zM88.4 162.5l2.2 3.9h-4.4zM82.6 172l2.2 3.9h-4.4zM87.4 165.4l2.2 3.9h-4.4zM84.2 162.7l2.2 3.9h-4.4zM88.3 174.7l2.2 3.9h-4.4zM85.2 168.2l2.2 3.9h-4.4zM85.1 162.9l2.2 3.9h-4.4zM80.6 173.5l2.2 3.9h-4.4zM90.9 166.6l2.2 3.9h-4.4zM81.1 172.8l2.2 3.9h-4.4zM81.2 166.9l2.2 3.9h-4.4zM88.4 169.6l2.2 3.9h-4.4zM83.9 173l2.2 3.9h-4.4zM85.1 173.9l2.2 3.9h-4.4zM83.5 168.1l2.2 3.9h-4.4zM80.5 172l2.2 3.9h-4.4zM86.1 170l2.2 3.9h-4.4zM84.5 168.7l2.2 3.9h-4.4zM85.8 168.4l2.2 3.9h-4.4zM84.5 170.9l2.2 3.9h-4.4zM81.4 168.5l2.2 3.9h-4.4zM89 167.4l2.2 3.9h-4.4zM101.6 158.5l2.2 3.9h-4.4zM93.1 158.4l2.2 3.9h-4.4zM99.1 158.5l2.2 3.9h-4.4zM100.9 160.4l2.2 3.9h-4.4zM97.6 163.3l2.2 3.9h-4.4zM101.2 162.6l2.2 3.9h-4.4zM94.2 162.2l2.2 3.9h-4.4zM96.5 155.7l2.2 3.9h-4.4zM95.2 166.1l2.2 3.9h-4.4zM96.3 157.6l2.2 3.9h-4.4zM96.9 159.1l2.2 3.9h-4.4zM97.3 161.5l2.2 3.9h-4.4zM95.2 162.2l2.2 3.9h-4.4zM96.3 159.9l2.2 3.9h-4.4zM95.8 162.7l2.2 3.9h-4.4zM93.2 162.6l2.2 3.9h-4.4zM99.2 158.3l2.2 3.9h-4.4zM96 166.5l2.2 3.9h-4.4zM93.7 162.2l2.2 3.9h-4.4zM91.5 165.2l2.2 3.9h-4.4zM99.8 154.5l2.2 3.9h-4.4zM96.7 160.5l2.2 3.9h-4.4zM96.3 160.2l2.2 3.9h-4.4zM96.1 162.2l2.2 3.9h-4.4zM100.9 160.8l2.2 3.9h-4.4zM98.1 165.1l2.2 3.9h-4.4zM111 149.1l2.2 3.9h-4.4zM112 152.7l2.2 3.9h-4.4zM107.3 152.6l2.2 3.9h-4.4zM112.5 153.1l2.2 3.9h-4.4zM106.3 149.4l2.2 3.9h-4.4zM106.1 151.2l2.2 3.9h-4.4zM109.7 148.3l2.2 3.9h-4.4zM104.2 154.3l2.2 3.9h-4.4zM112.5 153.8l2.2 3.9h-4.4zM110.3 150.1l2.2 3.9h-4.4zM111.6 153l2.2 3.9h-4.4zM111.2 150.9l2.2 3.9h-4.4zM109.4 155.5l2.2 3.9h-4.4zM112 153.2l2.2 3.9h-4.4zM105.4 155.9l2.2 3.9h-4.4zM111.2 152.8l2.2 3.9h-4.4zM112.3 146.5l2.2 3.9h-4.4zM105 153.8l2.2 3.9h-4.4zM104.4 155.8l2.2 3.9h-4.4zM103.7 162.1l2.2 3.9h-4.4zM104.5 159.4l2.2 3.9h-4.4zM117.6 144.7l2.2 3.9h-4.4zM121.8 143.8l2.2 3.9h-4.4zM113.9 146.1l2.2 3.9h-4.4zM116.8 146.2l2.2 3.9h-4.4zM121.1 141.8l2.2 3.9h-4.4zM117.9 142.3l2.2 3.9h-4.4zM115.6 152.7l2.2 3.9h-4.4zM118.1 143.5l2.2 3.9h-4.4zM115.9 148.2l2.2 3.9h-4.4zM117.3 147.5l2.2 3.9h-4.4zM114 151.2l2.2 3.9h-4.4zM116.7 147.4l2.2 3.9h-4.4zM116 146.7l2.2 3.9h-4.4zM113.8 150.4l2.2 3.9h-4.4zM118.3 148.9l2.2 3.9h-4.4zM113.4 149.6l2.2 3.9h-4.4zM117.9 143.5l2.2 3.9h-4.4zM115.6 150.5l2.2 3.9h-4.4zM115.4 150.8l2.2 3.9h-4.4zM118.6 152.8l2.2 3.9h-4.4zM121.1 141.4l2.2 3.9h-4.4zM113.7 146l2.2 3.9h-4.4zM127.8 138.1l2.2 3.9h-4.4zM133.2 121.8l2.2 3.9h-4.4zM130.1 136l2.2 3.9h-4.4zM125 143.9l2.2 3.9h-4.4zM127.1 135.7l2.2 3.9h-4.4zM129.5 140.2l2.2 3.9h-4.4zM133 132.8l2.2 3.9h-4.4zM127.5 139.2l2.2 3.9h-4.4zM132.1 137.4l2.2 3.9h-4.4zM134.2 137.4l2.2 3.9h-4.4zM128.6 136.5l2.2 3.9h-4.4zM124.2 137.3l2.2 3.9h-4.4zM126.3 136l2.2 3.9h-4.4zM127.2 133l2.2 3.9h-4.4zM131.2 134.1l2.2 3.9h-4.4zM131.5 131.4l2.2 3.9h-4.4zM131.9 133.9l2.2 3.9h-4.4zM124.7 142.9l2.2 3.9h-4.4zM125 140.3l2.2 3.9h-4.4zM131.3 134.4l2.2 3.9h-4.4zM126 138l2.2 3.9h-4.4zM126.3 141l2.2 3.9h-4.4zM134.7 130.3l2.2 3.9h-4.4zM141.1 125.3l2.2 3.9h-4.4zM143.7 127l2.2 3.9h-4.4zM136 131.3l2.2 3.9h-4.4zM137.3 128.5l2.2 3.9h-4.4zM143.7 126l2.2 3.9h-4.4zM142.8 123.5l2.2 3.9h-4.4zM144.4 127.8l2.2 3.9h-4.4zM140.5 127.7l2.2 3.9h-4.4zM142.2 127.6l2.2 3.9h-4.4zM136.4 122.3l2.2 3.9h-4.4zM139.9 126.8l2.2 3.9h-4.4zM141.6 125.4l2.2 3.9h-4.4zM142.4 127.5l2.2 3.9h-4.4zM144.7 124.6l2.2 3.9h-4.4zM143.4 128.9l2.2 3.9h-4.4zM140.1 131.6l2.2 3.9h-4.4zM142.1 129.7l2.2 3.9h-4.4zM139.8 129.6l2.2 3.9h-4.4zM138.7 128.2l2.2 3.9h-4.4zM136 132.4l2.2 3.9h-4.4zM139 132.6l2.2 3.9h-4.4zM135.5 132.3l2.2 3.9h-4.4zM143.2 123.9l2.2 3.9h-4.4zM134.4 139.8l2.2 3.9h-4.4zM146.2 121l2.2 3.9h-4.4zM155 116.9l2.2 3.9h-4.4zM151.3 118.3l2.2 3.9h-4.4zM151.5 119l2.2 3.9h-4.4zM154.7 117.5l2.2 3.9h-4.4zM145.4 124.6l2.2 3.9h-4.4zM154.9 117.6l2.2 3.9h-4.4zM145.7 123.7l2.2 3.9h-4.4zM152 117.4l2.2 3.9h-4.4zM150.6 119l2.2 3.9h-4.4zM145.8 125.9l2.2 3.9h-4.4zM149.6 121l2.2 3.9h-4.4zM153.6 116.1l2.2 3.9h-4.4zM145.2 127.3l2.2 3.9h-4.4zM152.4 118.4l2.2 3.9h-4.4zM150.1 119.1l2.2 3.9h-4.4zM147.4 123.2l2.2 3.9h-4.4zM149.8 125.9l2.2 3.9h-4.4zM150.5 118.5l2.2 3.9h-4.4zM154.8 114.6l2.2 3.9h-4.4zM151 121.8l2.2 3.9h-4.4zM155 117.3l2.2 3.9h-4.4zM146.9 123.6l2.2 3.9h-4.4zM150.1 124.3l2.2 3.9h-4.4zM158.1 118.4l2.2 3.9h-4.4zM165.1 113l2.2 3.9h-4.4zM159.1 114.7l2.2 3.9h-4.4zM164.3 110.1l2.2 3.9h-4.4zM164.5 109.5l2.2 3.9h-4.4zM156.8 112.7l2.2 3.9h-4.4zM163.3 113.7l2.2 3.9h-4.4zM156.7 114l2.2 3.9h-4.4zM161.5 114.2l2.2 3.9h-4.4zM161.3 110.1l2.2 3.9h-4.4zM164.6 107.6l2.2 3.9h-4.4zM156.6 116.4l2.2 3.9h-4.4zM166.6 113.6l2.2 3.9h-4.4zM159.1 114.5l2.2 3.9h-4.4zM162.7 108.3l2.2 3.9h-4.4zM164.9 111.6l2.2 3.9h-4.4zM159.9 112.1l2.2 3.9h-4.4zM157.9 116.7l2.2 3.9h-4.4zM160.5 113.7l2.2 3.9h-4.4zM161.8 112.4l2.2 3.9h-4.4zM165.6 113.8l2.2 3.9h-4.4zM160.8 112.3l2.2 3.9h-4.4zM156.8 112.4l2.2 3.9h-4.4zM156.2 113.7l2.2 3.9h-4.4zM158.6 114.8l2.2 3.9h-4.4zM162.3 110.8l2.2 3.9h-4.4zM159.8 116.4l2.2 3.9h-4.4zM172.5 109l2.2 3.9h-4.4zM177.3 97.6l2.2 3.9h-4.4zM169.1 107.2l2.2 3.9h-4.4zM170.4 108.2l2.2 3.9h-4.4zM172.4 103.1l2.2 3.9h-4.4zM174.4 104.3l2.2 3.9h-4.4zM170.3 108.3l2.2 3.9h-4.4zM174.3 96.6l2.2 3.9h-4.4zM176.8 99.1l2.2 3.9h-4.4zM169.3 109.2l2.2 3.9h-4.4zM176.1 102.7l2.2 3.9h-4.4zM175.7 101.3l2.2 3.9h-4.4zM175.2 103.4l2.2 3.9h-4.4zM176.9 98.1l2.2 3.9h-4.4zM177 99.9l2.2 3.9h-4.4zM171.1 101.4l2.2 3.9h-4.4zM167.5 107.2l2.2 3.9h-4.4zM167.1 109l2.2 3.9h-4.4zM176.4 102.2l2.2 3.9h-4.4zM168.2 105.4l2.2 3.9h-4.4zM168.4 106.6l2.2 3.9h-4.4zM171.1 103l2.2 3.9h-4.4zM169.7 104.4l2.2 3.9h-4.4zM169.9 104.9l2.2 3.9h-4.4zM170.7 108.5l2.2 3.9h-4.4zM172.3 103.2l2.2 3.9h-4.4zM174.4 103.2l2.2 3.9h-4.4zM170.3 106.1l2.2 3.9h-4.4zM166.6 104.7l2.2 3.9h-4.4zM167.5 108.4l2.2 3.9h-4.4zM167.3 107.2l2.2 3.9h-4.4zM170.5 104.7l2.2 3.9h-4.4zM185.8 96l2.2 3.9h-4.4zM186.9 93.5l2.2 3.9h-4.4zM180.7 97.8l2.2 3.9h-4.4zM183 92.8l2.2 3.9h-4.4zM182.1 98l2.2 3.9h-4.4zM186.5 96.9l2.2 3.9h-4.4zM188.2 93.2l2.2 3.9h-4.4zM177.5 101l2.2 3.9h-4.4zM181.7 97.4l2.2 3.9h-4.4zM188.2 93.9l2.2 3.9h-4.4zM187.2 94l2.2 3.9h-4.4zM185.2 93.7l2.2 3.9h-4.4zM180.5 97.5l2.2 3.9h-4.4zM185.2 94.5l2.2 3.9h-4.4zM183.9 95.1l2.2 3.9h-4.4zM177.8 103.9l2.2 3.9h-4.4zM187.5 90.4l2.2 3.9h-4.4zM188.1 89.4l2.2 3.9h-4.4zM182.8 93.6l2.2 3.9h-4.4zM186.4 90.6l2.2 3.9h-4.4zM179.8 96.9l2.2 3.9h-4.4zM183 98.6l2.2 3.9h-4.4zM181.4 94.2l2.2 3.9h-4.4zM180.3 100l2.2 3.9h-4.4zM187.7 94.6l2.2 3.9h-4.4zM180.4 97.9l2.2 3.9h-4.4zM184 92.1l2.2 3.9h-4.4zM187.2 96.7l2.2 3.9h-4.4zM181.1 97.4l2.2 3.9h-4.4zM195.9 87.8l2.2 3.9h-4.4zM191.4 87.9l2.2 3.9h-4.4zM189.6 91.3l2.2 3.9h-4.4zM191.1 89.6l2.2 3.9h-4.4zM190.9 92l2.2 3.9h-4.4zM196.2 87.6l2.2 3.9h-4.4zM188.9 92.5l2.2 3.9h-4.4zM198.4 85.1l2.2 3.9h-4.4zM189.1 95.1l2.2 3.9h-4.4zM192.7 87.9l2.2 3.9h-4.4zM194.7 86.5l2.2 3.9h-4.4zM190.4 85.9l2.2 3.9h-4.4zM193.8 90.2l2.2 3.9h-4.4zM190 91.4l2.2 3.9h-4.4zM189.8 91.9l2.2 3.9h-4.4zM192 88.4l2.2 3.9h-4.4zM198.7 84.3l2.2 3.9h-4.4zM189.5 88.7l2.2 3.9h-4.4zM190.8 93.8l2.2 3.9h-4.4zM193.3 89.7l2.2 3.9h-4.4zM195.9 88.2l2.2 3.9h-4.4zM194.2 82.4l2.2 3.9h-4.4zM197.8 85l2.2 3.9h-4.4zM196.1 89.7l2.2 3.9h-4.4zM195.5 86.1l2.2 3.9h-4.4zM189.6 88.9l2.2 3.9h-4.4zM198.1 83.6l2.2 3.9h-4.4zM195.3 87.8l2.2 3.9h-4.4zM197.7 83.7l2.2 3.9h-4.4zM206.4 79.4l2.2 3.9h-4.4zM202.9 81.8l2.2 3.9h-4.4zM200.8 82.7l2.2 3.9h-4.4zM206.7 81.7l2.2 3.9h-4.4zM200.8 81.5l2.2 3.9h-4.4zM201.1 85.5l2.2 3.9h-4.4zM206.5 80.1l2.2 3.9h-4.4zM207 83l2.2 3.9h-4.4zM200.9 83.4l2.2 3.9h-4.4zM206.9 75.6l2.2 3.9h-4.4zM199.2 85.2l2.2 3.9h-4.4zM207.8 79.9l2.2 3.9h-4.4zM208.5 78.9l2.2 3.9h-4.4zM202 82.5l2.2 3.9h-4.4zM208.7 79.1l2.2 3.9h-4.4zM209.7 74.9l2.2 3.9h-4.4zM202.1 85.5l2.2 3.9h-4.4zM208.1 76.4l2.2 3.9h-4.4zM208.8 81.4l2.2 3.9h-4.4zM208.5 74.5l2.2 3.9h-4.4zM207.4 74.5l2.2 3.9h-4.4zM199.8 85.1l2.2 3.9h-4.4zM202 79.4l2.2 3.9h-4.4zM209.3 79.8l2.2 3.9h-4.4zM199.3 83.2l2.2 3.9h-4.4zM202 82.8l2.2 3.9h-4.4zM207.1 79.1l2.2 3.9h-4.4zM206.7 80.8l2.2 3.9h-4.4zM208.8 75.8l2.2 3.9h-4.4zM202.3 88l2.2 3.9h-4.4zM201.7 79.6l2.2 3.9h-4.4zM206.9 75.7l2.2 3.9h-4.4zM207.9 80l2.2 3.9h-4.4zM201.5 88l2.2 3.9h-4.4zM207.3 78.4l2.2 3.9h-4.4zM200.3 84.2l2.2 3.9h-4.4zM204.4 80.4l2.2 3.9h-4.4zM206.9 75.6l2.2 3.9h-4.4zM199.7 79.1l2.2 3.9h-4.4zM210.9 76.8l2.2 3.9h-4.4zM216 74.1l2.2 3.9h-4.4zM219.2 67.2l2.2 3.9h-4.4zM212.5 71.5l2.2 3.9h-4.4zM217.7 67l2.2 3.9h-4.4zM210.1 72l2.2 3.9h-4.4zM214.8 73.1l2.2 3.9h-4.4zM211.4 75.5l2.2 3.9h-4.4zM212.6 73.8l2.2 3.9h-4.4zM218.1 74.3l2.2 3.9h-4.4zM210.3 72.6l2.2 3.9h-4.4zM218.8 70l2.2 3.9h-4.4zM219.2 67.4l2.2 3.9h-4.4zM214.6 76.5l2.2 3.9h-4.4zM218.7 69.7l2.2 3.9h-4.4zM218.6 71l2.2 3.9h-4.4zM210 76.4l2.2 3.9h-4.4zM219.9 68.2l2.2 3.9h-4.4zM209.9 79.3l2.2 3.9h-4.4zM215.2 69.8l2.2 3.9h-4.4zM212 77.5l2.2 3.9h-4.4zM220.2 70.1l2.2 3.9h-4.4zM218.4 73.6l2.2 3.9h-4.4zM219.3 70.6l2.2 3.9h-4.4zM216.2 66.8l2.2 3.9h-4.4zM212.1 75.9l2.2 3.9h-4.4zM211.7 75.7l2.2 3.9h-4.4zM215.4 71l2.2 3.9h-4.4zM214.1 76.2l2.2 3.9h-4.4zM210 76.1l2.2 3.9h-4.4zM219.7 71.2l2.2 3.9h-4.4zM220.4 70.5l2.2 3.9h-4.4zM212.1 69.2l2.2 3.9h-4.4zM219.4 67.9l2.2 3.9h-4.4zM211.7 76.2l2.2 3.9h-4.4zM218.9 68.6l2.2 3.9h-4.4zM214.5 73.3l2.2 3.9h-4.4zM210.7 71.3l2.2 3.9h-4.4zM212.7 72.5l2.2 3.9h-4.4zM227.6 62.5l2.2 3.9h-4.4zM229.4 65.2l2.2 3.9h-4.4zM229.1 62.2l2.2 3.9h-4.4zM220.7 69.5l2.2 3.9h-4.4zM225.6 66.8l2.2 3.9h-4.4zM230.4 60.5l2.2 3.9h-4.4zM220.7 67.4l2.2 3.9h-4.4zM222.9 65.9l2.2 3.9h-4.4zM227.6 63.1l2.2 3.9h-4.4zM224.2 64.7l2.2 3.9h-4.4zM228 64.5l2.2 3.9h-4.4zM224.8 62.9l2.2 3.9h-4.4zM229.6 61.6l2.2 3.9h-4.4zM231.1 62l2.2 3.9h-4.4zM226.7 65.7l2.2 3.9h-4.4zM226.7 63.5l2.2 3.9h-4.4zM222.3 65.5l2.2 3.9h-4.4zM231.2 58.5l2.2 3.9h-4.4zM224.1 66.7l2.2 3.9h-4.4zM229.1 61.3l2.2 3.9h-4.4zM231.3 63.5l2.2 3.9h-4.4zM229.4 60.9l2.2 3.9h-4.4zM227.2 65.6l2.2 3.9h-4.4zM224.1 66.9l2.2 3.9h-4.4zM229.4 61.5l2.2 3.9h-4.4zM230.6 60.3l2.2 3.9h-4.4zM222.1 69.9l2.2 3.9h-4.4zM229.7 54.7l2.2 3.9h-4.4zM228.5 64.5l2.2 3.9h-4.4zM228.6 61.5l2.2 3.9h-4.4zM228.2 59.7l2.2 3.9h-4.4zM223.1 66.3l2.2 3.9h-4.4zM226 62.8l2.2 3.9h-4.4zM222.6 66l2.2 3.9h-4.4zM220.9 70.9l2.2 3.9h-4.4zM228.6 63.5l2.2 3.9h-4.4zM229 61.1l2.2 3.9h-4.4zM221.3 68.1l2.2 3.9h-4.4zM220.6 70.8l2.2 3.9h-4.4zM232.2 60.2l2.2 3.9h-4.4zM240.8 52.4l2.2 3.9h-4.4zM232.6 58.5l2.2 3.9h-4.4zM241 53.7l2.2 3.9h-4.4zM234.4 56.8l2.2 3.9h-4.4zM238.2 54.3l2.2 3.9h-4.4zM240.7 52.3l2.2 3.9h-4.4zM236.5 56.9l2.2 3.9h-4.4zM237 55.6l2.2 3.9h-4.4zM241 52.5l2.2 3.9h-4.4zM236.7 55.8l2.2 3.9h-4.4zM240.9 52.4l2.2 3.9h-4.4zM241.5 52.3l2.2 3.9h-4.4zM242 52.4l2.2 3.9h-4.4zM232.7 62.2l2.2 3.9h-4.4zM240.9 52.6l2.2 3.9h-4.4zM236.9 53.1l2.2 3.9h-4.4zM238.5 55.4l2.2 3.9h-4.4zM231.8 62.2l2.2 3.9h-4.4zM232.8 57.2l2.2 3.9h-4.4zM239.6 53.9l2.2 3.9h-4.4zM234.7 58.4l2.2 3.9h-4.4zM239.3 54.5l2.2 3.9h-4.4zM232.9 60.4l2.2 3.9h-4.4zM239.2 54.6l2.2 3.9h-4.4zM239.5 53.8l2.2 3.9h-4.4zM241.3 55.2l2.2 3.9h-4.4zM237.3 55.8l2.2 3.9h-4.4zM238.5 54.8l2.2 3.9h-4.4zM242.1 52.3l2.2 3.9h-4.4zM238.7 54.2l2.2 3.9h-4.4zM241.6 52.4l2.2 3.9h-4.4zM240.8 52.7l2.2 3.9h-4.4zM238.7 54.1l2.2 3.9h-4.4zM241.3 53.1l2.2 3.9h-4.4zM241.2 52.3l2.2 3.9h-4.4zM242 52.3l2.2 3.9h-4.4zM238.6 55.8l2.2 3.9h-4.4zM238.9 56.9l2.2 3.9h-4.4zM234.2 58.8l2.2 3.9h-4.4zM240.3 54.1l2.2 3.9h-4.4zM238.5 54.5l2.2 3.9h-4.4zM237.6 59.1l2.2 3.9h-4.4zM238.5 55.6l2.2 3.9h-4.4zM239.3 54.5l2.2 3.9h-4.4zM238.6 55l2.2 3.9h-4.4zM241.4 52.5l2.2 3.9h-4.4zM236.2 55l2.2 3.9h-4.4zM239.7 55.2l2.2 3.9h-4.4zM240.4 53.8l2.2 3.9h-4.4zM237 57.2l2.2 3.9h-4.4zM236.1 57.1l2.2 3.9h-4.4zM238.5 53.3l2.2 3.9h-4.4zM239.6 53.4l2.2 3.9h-4.4zM239.9 54.2l2.2 3.9h-4.4zM235.3 55.7l2.2 3.9h-4.4zM232.7 62.4l2.2 3.9h-4.4zM240.5 53.6l2.2 3.9h-4.4zM238.1 54.2l2.2 3.9h-4.4zM232.5 62.2l2.2 3.9h-4.4zM239.4 54l2.2 3.9h-4.4zM239.7 54.4l2.2 3.9h-4.4zM241.8 52.5l2.2 3.9h-4.4zM241.8 53l2.2 3.9h-4.4zM163.8 84.4l2.2 3.9h-4.4zM49.1 208.8l2.2 3.9h-4.4zM71.8 168.5l2.2 3.9h-4.4zM77.2 166l2.2 3.9h-4.4zM93.3 153.9l2.2 3.9h-4.4zM104.1 166.8l2.2 3.9h-4.4zM86.9 179.8l2.2 3.9h-4.4zM68.5 192.7l2.2 3.9h-4.4zM73.9 189.4l2.2 3.9h-4.4zM128.9 147.5l2.2 3.9h-4.4zM121.4 132.1l2.2 3.9h-4.4zM136.5 141.8l2.2 3.9h-4.4zM193.6 99.1l2.2 3.9h-4.4zM216.2 61.1l2.2 3.9h-4.4zM141.8 116.8l2.2 3.9h-4.4z" fill="#1C6EDF"/>
<line x1="26.5" y1="215.85" x2="242.1" y2="54.45" stroke="#14BE40" stroke-width="1.45"/>
</g>
<path d="M25.9 216H242.2" stroke="#111" stroke-width="1" fill="none"/>
<path d="M26.35 54.15V216.5M26.35 215.75h-3.3M26.5 215.7v3.2M26.35 199.61h-1.8M48.06 215.7v1.6M26.35 183.47h-3.3M69.62 215.7v3.2M26.35 167.33h-1.8M91.18 215.7v1.6M26.35 151.19h-3.3M112.74 215.7v3.2M26.35 135.05h-1.8M134.3 215.7v1.6M26.35 118.91h-3.3M155.86 215.7v3.2M26.35 102.77h-1.8M177.42 215.7v1.6M26.35 86.63h-3.3M198.98 215.7v3.2M26.35 70.49h-1.8M220.54 215.7v1.6M26.35 54.35h-3.3M242.1 215.7v3.2" stroke="#111" stroke-width="0.85" fill="none"/>
<g font-size="7.3" fill="#111">
<text x="20.9" y="218.05" text-anchor="end">0</text>
<text x="26.5" y="225.7" text-anchor="middle">0</text>
<text x="20.9" y="185.77" text-anchor="end">20</text>
<text x="69.62" y="225.7" text-anchor="middle">20</text>
<text x="20.9" y="153.49" text-anchor="end">40</text>
<text x="112.74" y="225.7" text-anchor="middle">40</text>
<text x="20.9" y="121.21" text-anchor="end">60</text>
<text x="155.86" y="225.7" text-anchor="middle">60</text>
<text x="20.9" y="88.93" text-anchor="end">80</text>
<text x="198.98" y="225.7" text-anchor="middle">80</text>
<text x="20.9" y="56.65" text-anchor="end">100</text>
<text x="242.1" y="225.7" text-anchor="middle">100</text>
</g>
<text x="134.5" y="240" font-size="8" text-anchor="middle" fill="#111">Exp. crude oil residue (wt.%)</text>
<text transform="translate(7.3,134.8) rotate(-90)" font-size="8" text-anchor="middle" fill="#111">Pred. crude oil residue (wt.%)</text>
<text x="44.6" y="72.8" font-size="7.2" fill="#111">LightGBM</text>
<circle cx="197.8" cy="187.8" r="2.05" fill="#F04040"/>
<path d="M197.8 194l2.2 3.9h-4.4z" fill="#1C6EDF"/>
<path d="M190.1 205.35H205.9" stroke="#12F012" stroke-width="1"/>
<path d="M197.8 203l2.1 2.2l-2.1 2.2l-2.1-2.2z" fill="#2F9E55"/>
<g font-size="7" fill="#111" lengthAdjust="spacingAndGlyphs">
<text x="207.6" y="190" textLength="15.8" lengthAdjust="spacingAndGlyphs">Train</text>
<text x="207.6" y="198.3" textLength="11.7" lengthAdjust="spacingAndGlyphs">Test</text>
<text x="207.6" y="207.4" textLength="16.1" lengthAdjust="spacingAndGlyphs">Y = X</text>
</g>
</g>
<g transform="translate(369.75,266.5)">
<path d="M27.5 53.45V2.75H26.5V0.65H37.28V13.65H48.06V23.85H58.84V26.15H69.62V32.65H80.4V28.25H91.18V34.05H101.96V37.95H112.74V37.25H123.52V37.45H134.3V34.95H145.08V36.05H155.86V33.35H166.64V30.15H177.42V32.45H188.2V32.15H198.98V24.75H209.76V24.05H220.54V24.25H231.32V5.25H242.1V18.15H241.1V53.45Z" fill="#1C6EDF"/>
<path d="M26.5 54.45V1.75H37.28V20.45H48.06V30.45H58.84V35.15H69.62V36.35H80.4V34.15H91.18V37.05H101.96V40.75H112.74V40.35H123.52V40.35H134.3V38.55H145.08V39.55H155.86V38.95H166.64V34.85H177.42V35.55H188.2V35.55H198.98V32.25H209.76V30.45H220.54V29.75H231.32V17.15H242.1V54.45Z" fill="#F04040"/>
<path d="M48.06 54.45V13.65M58.84 54.45V23.85M80.4 54.45V28.25M112.74 54.45V37.25M134.3 54.45V34.95M166.64 54.45V30.15M177.42 54.45V30.15M198.98 54.45V24.75M231.32 54.45V5.25" stroke="#160808" stroke-opacity="0.78" stroke-width="0.65" fill="none"/>
<path d="M37.28 54.45V0.65M69.62 54.45V26.15M91.18 54.45V28.25M101.96 54.45V34.05M123.52 54.45V37.25M145.08 54.45V34.95M155.86 54.45V33.35M188.2 54.45V32.15M209.76 54.45V24.05M220.54 54.45V24.05" stroke="#200" stroke-opacity="0.2" stroke-width="0.7" fill="none"/>
<path d="M26.5 0.65h10.78M26.5 1.75h10.78M37.28 13.65h10.78M37.28 20.45h10.78M48.06 23.85h10.78M48.06 30.45h10.78M58.84 26.15h10.78M58.84 35.15h10.78M69.62 32.65h10.78M69.62 36.35h10.78M80.4 28.25h10.78M80.4 34.15h10.78M91.18 34.05h10.78M91.18 37.05h10.78M101.96 37.95h10.78M101.96 40.75h10.78M112.74 37.25h10.78M112.74 40.35h10.78M123.52 37.45h10.78M123.52 40.35h10.78M134.3 34.95h10.78M134.3 38.55h10.78M145.08 36.05h10.78M145.08 39.55h10.78M155.86 33.35h10.78M155.86 38.95h10.78M166.64 30.15h10.78M166.64 34.85h10.78M177.42 32.45h10.78M177.42 35.55h10.78M188.2 32.15h10.78M188.2 35.55h10.78M198.98 24.75h10.78M198.98 32.25h10.78M209.76 24.05h10.78M209.76 30.45h10.78M220.54 24.25h10.78M220.54 29.75h10.78M231.32 5.25h10.78M231.32 17.15h10.78" stroke="#001" stroke-opacity="0.22" stroke-width="0.5" fill="none"/>
<path d="M243.1 214.85H309.9V215.85H314.1V207.78H295.9V199.71H287.3V191.64H275.7V183.57H271.4V175.5H278.8V167.43H267.9V159.36H264.9V151.29H267.7V143.22H262V135.15H270.8V127.08H266.7V119.01H268.5V110.94H274.1V102.87H273.6V94.8H272.9V86.73H279.9V78.66H284.7V70.59H284.7V62.52H306.2V54.45H291.5V55.45H243.1Z" fill="#1C6EDF"/>
<path d="M242.1 215.85H310.9V207.78H287.6V199.71H276.6V191.64H268.7V183.57H266V175.5H270.4V167.43H264.2V159.36H261.5V151.29H262.3V143.22H259.8V135.15H265.2V127.08H261.8V119.01H262.3V110.94H268.9V102.87H268.9V94.8H267.4V86.73H271.8V78.66H275.5V70.59H274.8V62.52H292.5V54.45H242.1Z" fill="#F04040"/>
<path d="M242.1 207.78H314.1M242.1 183.57H275.7M242.1 175.5H278.8M242.1 167.43H278.8M242.1 159.36H267.9M242.1 151.29H267.7M242.1 143.22H267.7M242.1 135.15H270.8M242.1 119.01H268.5" stroke="#160808" stroke-opacity="0.78" stroke-width="0.65" fill="none"/>
<path d="M242.1 199.71H295.9M242.1 191.64H287.3M242.1 110.94H274.1" stroke="#1a0a0a" stroke-opacity="0.35" stroke-width="0.6" fill="none"/>
<path d="M242.1 127.08H270.8M242.1 102.87H274.1M242.1 94.8H273.6M242.1 86.73H279.9M242.1 78.66H284.7M242.1 70.59H284.7M242.1 62.52H306.2" stroke="#300" stroke-opacity="0.12" stroke-width="0.6" fill="none"/>
<path d="M314.1 207.78v8.07M310.9 207.78v8.07M295.9 199.71v8.07M287.6 199.71v8.07M287.3 191.64v8.07M276.6 191.64v8.07M275.7 183.57v8.07M268.7 183.57v8.07M271.4 175.5v8.07M266 175.5v8.07M278.8 167.43v8.07M270.4 167.43v8.07M267.9 159.36v8.07M264.2 159.36v8.07M264.9 151.29v8.07M261.5 151.29v8.07M267.7 143.22v8.07M262.3 143.22v8.07M262 135.15v8.07M259.8 135.15v8.07M270.8 127.08v8.07M265.2 127.08v8.07M266.7 119.01v8.07M261.8 119.01v8.07M268.5 110.94v8.07M262.3 110.94v8.07M274.1 102.87v8.07M268.9 102.87v8.07M273.6 94.8v8.07M268.9 94.8v8.07M272.9 86.73v8.07M267.4 86.73v8.07M279.9 78.66v8.07M271.8 78.66v8.07M284.7 70.59v8.07M275.5 70.59v8.07M284.7 62.52v8.07M274.8 62.52v8.07M306.2 54.45v8.07M292.5 54.45v8.07" stroke="#001" stroke-opacity="0.22" stroke-width="0.5" fill="none"/>
<path d="M242.2 62.52V215.85" stroke="#2a1010" stroke-opacity="0.7" stroke-width="0.6" fill="none"/>
<path d="M26.5 54.55H242.1" stroke="#2a1010" stroke-opacity="0.55" stroke-width="0.6" fill="none"/>
<g clip-path="url(#pc)">
<g fill="#F04040">
<circle cx="30.9" cy="212.3" r="1.8"/>
<circle cx="28.7" cy="213.3" r="1.8"/>
<circle cx="37.2" cy="206.6" r="1.8"/>
<circle cx="30.9" cy="211.2" r="1.8"/>
<circle cx="29.5" cy="210.6" r="1.8"/>
<circle cx="27.7" cy="214.1" r="1.8"/>
<circle cx="34.1" cy="209.8" r="1.8"/>
<circle cx="31.4" cy="211.8" r="1.8"/>
<circle cx="27.8" cy="215.8" r="1.8"/>
<circle cx="30" cy="214" r="1.8"/>
<circle cx="29" cy="214.4" r="1.8"/>
<circle cx="29.3" cy="215.8" r="1.8"/>
<circle cx="32.2" cy="211.4" r="1.8"/>
<circle cx="32.4" cy="211.3" r="1.8"/>
<circle cx="30.2" cy="212.7" r="1.8"/>
<circle cx="31.1" cy="212.1" r="1.8"/>
<circle cx="28.4" cy="214.8" r="1.8"/>
<circle cx="28.5" cy="214.7" r="1.8"/>
<circle cx="31.7" cy="211.6" r="1.8"/>
<circle cx="28.9" cy="215.8" r="1.8"/>
<circle cx="33" cy="211.2" r="1.8"/>
<circle cx="30.1" cy="212.6" r="1.8"/>
<circle cx="31.2" cy="213.2" r="1.8"/>
<circle cx="31.3" cy="210.7" r="1.8"/>
<circle cx="30.3" cy="212.8" r="1.8"/>
<circle cx="34.1" cy="211.5" r="1.8"/>
<circle cx="31.8" cy="210.3" r="1.8"/>
<circle cx="29" cy="214.2" r="1.8"/>
<circle cx="31.9" cy="210.4" r="1.8"/>
<circle cx="36.3" cy="208.1" r="1.8"/>
<circle cx="36.9" cy="209.2" r="1.8"/>
<circle cx="28.5" cy="215.8" r="1.8"/>
<circle cx="29.9" cy="213" r="1.8"/>
<circle cx="28.1" cy="215.6" r="1.8"/>
<circle cx="26.5" cy="215.8" r="1.8"/>
<circle cx="30.3" cy="213.5" r="1.8"/>
<circle cx="31.1" cy="212.3" r="1.8"/>
<circle cx="27.3" cy="215.2" r="1.8"/>
<circle cx="33.9" cy="209.3" r="1.8"/>
<circle cx="26.8" cy="215.3" r="1.8"/>
<circle cx="30.9" cy="212.3" r="1.8"/>
<circle cx="31.4" cy="211.7" r="1.8"/>
<circle cx="35" cy="210.5" r="1.8"/>
<circle cx="31.4" cy="212.1" r="1.8"/>
<circle cx="28.6" cy="214.6" r="1.8"/>
<circle cx="28.2" cy="214.1" r="1.8"/>
<circle cx="27.1" cy="215.1" r="1.8"/>
<circle cx="28.4" cy="215" r="1.8"/>
<circle cx="30" cy="213.7" r="1.8"/>
<circle cx="26.6" cy="215.3" r="1.8"/>
<circle cx="33.5" cy="211.8" r="1.8"/>
<circle cx="28.3" cy="215.8" r="1.8"/>
<circle cx="28" cy="214.5" r="1.8"/>
<circle cx="36.1" cy="208.3" r="1.8"/>
<circle cx="26.7" cy="215.7" r="1.8"/>
<circle cx="35.5" cy="209.5" r="1.8"/>
<circle cx="36" cy="207.3" r="1.8"/>
<circle cx="27.1" cy="215.8" r="1.8"/>
<circle cx="35.1" cy="210.4" r="1.8"/>
<circle cx="28.2" cy="215.4" r="1.8"/>
<circle cx="36.5" cy="209.3" r="1.8"/>
<circle cx="27.7" cy="214.8" r="1.8"/>
<circle cx="29.1" cy="214.2" r="1.8"/>
<circle cx="32" cy="211.9" r="1.8"/>
<circle cx="27.7" cy="215.8" r="1.8"/>
<circle cx="29.8" cy="213.7" r="1.8"/>
<circle cx="28.8" cy="213.3" r="1.8"/>
<circle cx="32.1" cy="211.2" r="1.8"/>
<circle cx="33.6" cy="210.6" r="1.8"/>
<circle cx="33" cy="211.8" r="1.8"/>
<circle cx="33.1" cy="210.7" r="1.8"/>
<circle cx="35.1" cy="209" r="1.8"/>
<circle cx="37.1" cy="207.9" r="1.8"/>
<circle cx="29.1" cy="213.3" r="1.8"/>
<circle cx="36.4" cy="209.4" r="1.8"/>
<circle cx="30.4" cy="213.4" r="1.8"/>
<circle cx="27.4" cy="215.1" r="1.8"/>
<circle cx="30" cy="213.2" r="1.8"/>
<circle cx="33.3" cy="210.6" r="1.8"/>
<circle cx="28.2" cy="214.6" r="1.8"/>
<circle cx="31" cy="211.7" r="1.8"/>
<circle cx="26.5" cy="215.8" r="1.8"/>
<circle cx="37.2" cy="208.9" r="1.8"/>
<circle cx="29.8" cy="213.1" r="1.8"/>
<circle cx="31.4" cy="211.4" r="1.8"/>
<circle cx="27.3" cy="215.8" r="1.8"/>
<circle cx="26.9" cy="215.7" r="1.8"/>
<circle cx="30" cy="212.6" r="1.8"/>
<circle cx="29.7" cy="215.2" r="1.8"/>
<circle cx="28.2" cy="214.5" r="1.8"/>
<circle cx="29.8" cy="213.2" r="1.8"/>
<circle cx="27.6" cy="215" r="1.8"/>
<circle cx="27" cy="215.6" r="1.8"/>
<circle cx="26.6" cy="215.5" r="1.8"/>
<circle cx="30.5" cy="212.8" r="1.8"/>
<circle cx="31.2" cy="211.2" r="1.8"/>
<circle cx="29.9" cy="213.1" r="1.8"/>
<circle cx="28" cy="215.3" r="1.8"/>
<circle cx="29.6" cy="214.1" r="1.8"/>
<circle cx="28.1" cy="213.1" r="1.8"/>
<circle cx="33.7" cy="209.6" r="1.8"/>
<circle cx="32.9" cy="212.3" r="1.8"/>
<circle cx="35.2" cy="208.2" r="1.8"/>
<circle cx="29" cy="214.1" r="1.8"/>
<circle cx="32.2" cy="211.7" r="1.8"/>
<circle cx="27.1" cy="214.8" r="1.8"/>
<circle cx="30.2" cy="212.2" r="1.8"/>
<circle cx="28.4" cy="215.8" r="1.8"/>
<circle cx="27.7" cy="213.4" r="1.8"/>
<circle cx="30.6" cy="212.4" r="1.8"/>
<circle cx="29.7" cy="213.5" r="1.8"/>
<circle cx="27.4" cy="215.5" r="1.8"/>
<circle cx="31.9" cy="212.9" r="1.8"/>
<circle cx="34.5" cy="211.2" r="1.8"/>
<circle cx="34.2" cy="208.9" r="1.8"/>
<circle cx="31.6" cy="213.6" r="1.8"/>
<circle cx="33" cy="212.7" r="1.8"/>
<circle cx="30.2" cy="212.7" r="1.8"/>
<circle cx="29.7" cy="214.2" r="1.8"/>
<circle cx="27.7" cy="214.9" r="1.8"/>
<circle cx="34.2" cy="208.5" r="1.8"/>
<circle cx="35.9" cy="208.6" r="1.8"/>
<circle cx="28" cy="214.4" r="1.8"/>
<circle cx="34" cy="211.7" r="1.8"/>
<circle cx="36.3" cy="210.1" r="1.8"/>
<circle cx="32.6" cy="210.4" r="1.8"/>
<circle cx="28.8" cy="215.2" r="1.8"/>
<circle cx="28.4" cy="215.2" r="1.8"/>
<circle cx="27" cy="215.7" r="1.8"/>
<circle cx="29.3" cy="214.2" r="1.8"/>
<circle cx="29.7" cy="213.9" r="1.8"/>
<circle cx="36.1" cy="207.7" r="1.8"/>
<circle cx="31.5" cy="212.6" r="1.8"/>
<circle cx="27" cy="215.6" r="1.8"/>
<circle cx="27.7" cy="215.8" r="1.8"/>
<circle cx="34.4" cy="211.3" r="1.8"/>
<circle cx="28.2" cy="214.8" r="1.8"/>
<circle cx="27.3" cy="215.6" r="1.8"/>
<circle cx="31.5" cy="211.4" r="1.8"/>
<circle cx="27.4" cy="215.8" r="1.8"/>
<circle cx="34" cy="210.3" r="1.8"/>
<circle cx="28.6" cy="215.6" r="1.8"/>
<circle cx="28.7" cy="214.4" r="1.8"/>
<circle cx="26.9" cy="215.8" r="1.8"/>
<circle cx="33.3" cy="211.4" r="1.8"/>
<circle cx="28.2" cy="215.1" r="1.8"/>
<circle cx="29.7" cy="214.9" r="1.8"/>
<circle cx="36.9" cy="208.4" r="1.8"/>
<circle cx="27.4" cy="215.8" r="1.8"/>
<circle cx="27.6" cy="214.3" r="1.8"/>
<circle cx="38.1" cy="207.7" r="1.8"/>
<circle cx="42.6" cy="201.2" r="1.8"/>
<circle cx="41.6" cy="204.6" r="1.8"/>
<circle cx="42.6" cy="203.4" r="1.8"/>
<circle cx="41.6" cy="205.7" r="1.8"/>
<circle cx="44.7" cy="203.1" r="1.8"/>
<circle cx="44.4" cy="202" r="1.8"/>
<circle cx="42.5" cy="206.9" r="1.8"/>
<circle cx="44.3" cy="200.4" r="1.8"/>
<circle cx="45.8" cy="200.8" r="1.8"/>
<circle cx="44.9" cy="202.3" r="1.8"/>
<circle cx="47.4" cy="200.4" r="1.8"/>
<circle cx="38.1" cy="206.1" r="1.8"/>
<circle cx="44.2" cy="204" r="1.8"/>
<circle cx="39.1" cy="204.6" r="1.8"/>
<circle cx="37.3" cy="207.3" r="1.8"/>
<circle cx="44.6" cy="199.9" r="1.8"/>
<circle cx="45.4" cy="201.7" r="1.8"/>
<circle cx="43.4" cy="205.3" r="1.8"/>
<circle cx="41.2" cy="207.7" r="1.8"/>
<circle cx="47.4" cy="193.7" r="1.8"/>
<circle cx="37.8" cy="209.4" r="1.8"/>
<circle cx="41" cy="204.8" r="1.8"/>
<circle cx="45.8" cy="202.8" r="1.8"/>
<circle cx="47" cy="198.3" r="1.8"/>
<circle cx="44.9" cy="202.4" r="1.8"/>
<circle cx="40.2" cy="206.8" r="1.8"/>
<circle cx="41.8" cy="212.3" r="1.8"/>
<circle cx="38.1" cy="207.2" r="1.8"/>
<circle cx="42.3" cy="205.4" r="1.8"/>
<circle cx="44.6" cy="197.4" r="1.8"/>
<circle cx="39" cy="208.2" r="1.8"/>
<circle cx="46.9" cy="202.2" r="1.8"/>
<circle cx="45.3" cy="201.9" r="1.8"/>
<circle cx="44.5" cy="201" r="1.8"/>
<circle cx="45.2" cy="200.8" r="1.8"/>
<circle cx="46.6" cy="202" r="1.8"/>
<circle cx="46.5" cy="203.1" r="1.8"/>
<circle cx="38.1" cy="208" r="1.8"/>
<circle cx="43.9" cy="200.3" r="1.8"/>
<circle cx="37.8" cy="206.9" r="1.8"/>
<circle cx="47.1" cy="200.6" r="1.8"/>
<circle cx="43.9" cy="200" r="1.8"/>
<circle cx="44.5" cy="203.4" r="1.8"/>
<circle cx="43.6" cy="205.6" r="1.8"/>
<circle cx="38.1" cy="209.2" r="1.8"/>
<circle cx="42.6" cy="201.7" r="1.8"/>
<circle cx="42.2" cy="204.2" r="1.8"/>
<circle cx="40.5" cy="207.1" r="1.8"/>
<circle cx="47.2" cy="202.7" r="1.8"/>
<circle cx="46.9" cy="198" r="1.8"/>
<circle cx="42.8" cy="206" r="1.8"/>
<circle cx="47.4" cy="200.9" r="1.8"/>
<circle cx="45.4" cy="200.1" r="1.8"/>
<circle cx="40.4" cy="206" r="1.8"/>
<circle cx="43.8" cy="202.4" r="1.8"/>
<circle cx="41.6" cy="203.6" r="1.8"/>
<circle cx="39.3" cy="206.6" r="1.8"/>
<circle cx="44.6" cy="201.2" r="1.8"/>
<circle cx="46.7" cy="199.6" r="1.8"/>
<circle cx="39.9" cy="205.2" r="1.8"/>
<circle cx="37.4" cy="212.2" r="1.8"/>
<circle cx="38.2" cy="206.2" r="1.8"/>
<circle cx="39.9" cy="202.8" r="1.8"/>
<circle cx="38.7" cy="206.5" r="1.8"/>
<circle cx="40.5" cy="204.2" r="1.8"/>
<circle cx="38.2" cy="206.2" r="1.8"/>
<circle cx="37.5" cy="207" r="1.8"/>
<circle cx="42.7" cy="199.8" r="1.8"/>
<circle cx="38.6" cy="206.2" r="1.8"/>
<circle cx="47.2" cy="199.3" r="1.8"/>
<circle cx="38.9" cy="207" r="1.8"/>
<circle cx="40.9" cy="203.2" r="1.8"/>
<circle cx="37.3" cy="207.3" r="1.8"/>
<circle cx="43.2" cy="203.9" r="1.8"/>
<circle cx="44" cy="205.6" r="1.8"/>
<circle cx="41.7" cy="200.8" r="1.8"/>
<circle cx="39.6" cy="211.5" r="1.8"/>
<circle cx="45.4" cy="204.6" r="1.8"/>
<circle cx="47.8" cy="198.7" r="1.8"/>
<circle cx="37.6" cy="207.4" r="1.8"/>
<circle cx="43.5" cy="202.3" r="1.8"/>
<circle cx="45.7" cy="201.1" r="1.8"/>
<circle cx="47.6" cy="200.6" r="1.8"/>
<circle cx="37.7" cy="205.4" r="1.8"/>
<circle cx="37.9" cy="208.3" r="1.8"/>
<circle cx="41.9" cy="204" r="1.8"/>
<circle cx="44.1" cy="203.7" r="1.8"/>
<circle cx="46.5" cy="199.8" r="1.8"/>
<circle cx="38.1" cy="207.5" r="1.8"/>
<circle cx="38.7" cy="208.9" r="1.8"/>
<circle cx="43.5" cy="203.9" r="1.8"/>
<circle cx="45.3" cy="203" r="1.8"/>
<circle cx="47.6" cy="201.4" r="1.8"/>
<circle cx="44" cy="202.6" r="1.8"/>
<circle cx="38.7" cy="206.7" r="1.8"/>
<circle cx="41.2" cy="205.9" r="1.8"/>
<circle cx="42" cy="203.3" r="1.8"/>
<circle cx="46.4" cy="200.7" r="1.8"/>
<circle cx="41.8" cy="202.8" r="1.8"/>
<circle cx="41.1" cy="203.8" r="1.8"/>
<circle cx="45.3" cy="202.6" r="1.8"/>
<circle cx="37.7" cy="209.5" r="1.8"/>
<circle cx="47.8" cy="200.7" r="1.8"/>
<circle cx="37.9" cy="206.8" r="1.8"/>
<circle cx="41.6" cy="204.9" r="1.8"/>
<circle cx="40.4" cy="206.8" r="1.8"/>
<circle cx="40" cy="205.1" r="1.8"/>
<circle cx="43.6" cy="204.1" r="1.8"/>
<circle cx="42.4" cy="203.9" r="1.8"/>
<circle cx="39.7" cy="206.8" r="1.8"/>
<circle cx="39.8" cy="205.6" r="1.8"/>
<circle cx="47.5" cy="202.6" r="1.8"/>
<circle cx="52.9" cy="194.7" r="1.8"/>
<circle cx="55" cy="198.3" r="1.8"/>
<circle cx="56.4" cy="185.9" r="1.8"/>
<circle cx="55.3" cy="192.5" r="1.8"/>
<circle cx="51.5" cy="193.2" r="1.8"/>
<circle cx="57.4" cy="196" r="1.8"/>
<circle cx="51.2" cy="197.6" r="1.8"/>
<circle cx="51.3" cy="196.7" r="1.8"/>
<circle cx="54.9" cy="198.2" r="1.8"/>
<circle cx="58.2" cy="189.5" r="1.8"/>
<circle cx="57.2" cy="193.8" r="1.8"/>
<circle cx="52.4" cy="195.9" r="1.8"/>
<circle cx="51.3" cy="203.1" r="1.8"/>
<circle cx="57.4" cy="195.3" r="1.8"/>
<circle cx="55.7" cy="192.4" r="1.8"/>
<circle cx="56.7" cy="196.8" r="1.8"/>
<circle cx="53.9" cy="195.6" r="1.8"/>
<circle cx="52.8" cy="193.3" r="1.8"/>
<circle cx="49.2" cy="197.4" r="1.8"/>
<circle cx="55" cy="196.9" r="1.8"/>
<circle cx="51.5" cy="196.1" r="1.8"/>
<circle cx="55.4" cy="193.4" r="1.8"/>
<circle cx="57.6" cy="187.6" r="1.8"/>
<circle cx="53.8" cy="196.8" r="1.8"/>
<circle cx="57.3" cy="193.6" r="1.8"/>
<circle cx="50" cy="201.3" r="1.8"/>
<circle cx="52.3" cy="191.9" r="1.8"/>
<circle cx="50.1" cy="198" r="1.8"/>
<circle cx="52.2" cy="195.2" r="1.8"/>
<circle cx="58.8" cy="190.9" r="1.8"/>
<circle cx="54" cy="200" r="1.8"/>
<circle cx="51.4" cy="197.1" r="1.8"/>
<circle cx="49.7" cy="198.8" r="1.8"/>
<circle cx="57.8" cy="193.1" r="1.8"/>
<circle cx="56.8" cy="190.2" r="1.8"/>
<circle cx="53.9" cy="193.9" r="1.8"/>
<circle cx="56" cy="189.6" r="1.8"/>
<circle cx="53.2" cy="196.4" r="1.8"/>
<circle cx="58.8" cy="186" r="1.8"/>
<circle cx="50.6" cy="197.7" r="1.8"/>
<circle cx="48.9" cy="197.2" r="1.8"/>
<circle cx="52.4" cy="192.5" r="1.8"/>
<circle cx="57.7" cy="204" r="1.8"/>
<circle cx="57.5" cy="196.1" r="1.8"/>
<circle cx="52.1" cy="199" r="1.8"/>
<circle cx="54.5" cy="195.5" r="1.8"/>
<circle cx="53.5" cy="192.6" r="1.8"/>
<circle cx="55.7" cy="194.3" r="1.8"/>
<circle cx="52.3" cy="199.2" r="1.8"/>
<circle cx="58.6" cy="191.5" r="1.8"/>
<circle cx="52.6" cy="195.9" r="1.8"/>
<circle cx="50.4" cy="196.6" r="1.8"/>
<circle cx="54.8" cy="196.3" r="1.8"/>
<circle cx="49.1" cy="199" r="1.8"/>
<circle cx="50.8" cy="197.2" r="1.8"/>
<circle cx="48.8" cy="200.2" r="1.8"/>
<circle cx="54.9" cy="195.6" r="1.8"/>
<circle cx="53.5" cy="196.4" r="1.8"/>
<circle cx="58.6" cy="195.7" r="1.8"/>
<circle cx="48.5" cy="197.2" r="1.8"/>
<circle cx="53.4" cy="196.1" r="1.8"/>
<circle cx="55.3" cy="195.7" r="1.8"/>
<circle cx="53.3" cy="196" r="1.8"/>
<circle cx="49.4" cy="200.3" r="1.8"/>
<circle cx="56.8" cy="192.7" r="1.8"/>
<circle cx="49.6" cy="200.1" r="1.8"/>
<circle cx="57.4" cy="190.3" r="1.8"/>
<circle cx="56.3" cy="195" r="1.8"/>
<circle cx="50.1" cy="199.1" r="1.8"/>
<circle cx="52.5" cy="192.1" r="1.8"/>
<circle cx="49" cy="195.7" r="1.8"/>
<circle cx="54.1" cy="193.9" r="1.8"/>
<circle cx="48.7" cy="199.5" r="1.8"/>
<circle cx="53.7" cy="192.5" r="1.8"/>
<circle cx="55.6" cy="198.1" r="1.8"/>
<circle cx="57.3" cy="193.7" r="1.8"/>
<circle cx="50.7" cy="197.1" r="1.8"/>
<circle cx="53.4" cy="193.5" r="1.8"/>
<circle cx="53.1" cy="200.9" r="1.8"/>
<circle cx="50.5" cy="193.7" r="1.8"/>
<circle cx="56.7" cy="194.9" r="1.8"/>
<circle cx="49.5" cy="194.6" r="1.8"/>
<circle cx="56.6" cy="193.1" r="1.8"/>
<circle cx="54.9" cy="194.8" r="1.8"/>
<circle cx="50.9" cy="197.5" r="1.8"/>
<circle cx="63.6" cy="186.3" r="1.8"/>
<circle cx="63.8" cy="190.4" r="1.8"/>
<circle cx="63.3" cy="189.7" r="1.8"/>
<circle cx="68.5" cy="183.3" r="1.8"/>
<circle cx="59.3" cy="193.6" r="1.8"/>
<circle cx="67.6" cy="179.5" r="1.8"/>
<circle cx="66.7" cy="185.4" r="1.8"/>
<circle cx="63.8" cy="186.6" r="1.8"/>
<circle cx="59.4" cy="191.7" r="1.8"/>
<circle cx="67.2" cy="190" r="1.8"/>
<circle cx="67.1" cy="188.7" r="1.8"/>
<circle cx="59.9" cy="191.9" r="1.8"/>
<circle cx="67.8" cy="186.4" r="1.8"/>
<circle cx="60.2" cy="190.4" r="1.8"/>
<circle cx="68" cy="185" r="1.8"/>
<circle cx="67.9" cy="187.1" r="1.8"/>
<circle cx="59.4" cy="190" r="1.8"/>
<circle cx="60.1" cy="187.9" r="1.8"/>
<circle cx="66.4" cy="189.1" r="1.8"/>
<circle cx="60.1" cy="188.8" r="1.8"/>
<circle cx="66.2" cy="188.9" r="1.8"/>
<circle cx="60.9" cy="195.9" r="1.8"/>
<circle cx="61.4" cy="187.6" r="1.8"/>
<circle cx="60.8" cy="192.8" r="1.8"/>
<circle cx="63.6" cy="183.6" r="1.8"/>
<circle cx="60.5" cy="192.2" r="1.8"/>
<circle cx="68.6" cy="183.1" r="1.8"/>
<circle cx="66" cy="183.3" r="1.8"/>
<circle cx="59.6" cy="189.6" r="1.8"/>
<circle cx="61.3" cy="187.4" r="1.8"/>
<circle cx="64" cy="187.5" r="1.8"/>
<circle cx="60.2" cy="190.4" r="1.8"/>
<circle cx="60" cy="189.7" r="1.8"/>
<circle cx="65.1" cy="190.2" r="1.8"/>
<circle cx="67.1" cy="189" r="1.8"/>
<circle cx="62" cy="189.6" r="1.8"/>
<circle cx="62.7" cy="192.6" r="1.8"/>
<circle cx="60" cy="192.6" r="1.8"/>
<circle cx="64.9" cy="186.8" r="1.8"/>
<circle cx="63.6" cy="187.6" r="1.8"/>
<circle cx="67.2" cy="192" r="1.8"/>
<circle cx="59.6" cy="193.5" r="1.8"/>
<circle cx="64.4" cy="185.2" r="1.8"/>
<circle cx="66.3" cy="188.5" r="1.8"/>
<circle cx="61.1" cy="192.8" r="1.8"/>
<circle cx="69.3" cy="184.6" r="1.8"/>
<circle cx="59.2" cy="196.8" r="1.8"/>
<circle cx="65.7" cy="184.7" r="1.8"/>
<circle cx="66.7" cy="183.5" r="1.8"/>
<circle cx="60.4" cy="190.9" r="1.8"/>
<circle cx="60.7" cy="192.9" r="1.8"/>
<circle cx="63.8" cy="186" r="1.8"/>
<circle cx="63.5" cy="185" r="1.8"/>
<circle cx="62.6" cy="188.1" r="1.8"/>
<circle cx="64" cy="187.5" r="1.8"/>
<circle cx="59.3" cy="190.5" r="1.8"/>
<circle cx="62.2" cy="188" r="1.8"/>
<circle cx="67.8" cy="187.7" r="1.8"/>
<circle cx="67.4" cy="182.8" r="1.8"/>
<circle cx="69.3" cy="177.5" r="1.8"/>
<circle cx="66.2" cy="186.9" r="1.8"/>
<circle cx="59.7" cy="188.9" r="1.8"/>
<circle cx="65.1" cy="185.9" r="1.8"/>
<circle cx="65.2" cy="187.9" r="1.8"/>
<circle cx="65.4" cy="184.4" r="1.8"/>
<circle cx="67.6" cy="185.1" r="1.8"/>
<circle cx="62" cy="188.5" r="1.8"/>
<circle cx="60.8" cy="185.5" r="1.8"/>
<circle cx="66.1" cy="187.9" r="1.8"/>
<circle cx="62.6" cy="191.9" r="1.8"/>
<circle cx="65.2" cy="187.4" r="1.8"/>
<circle cx="60.8" cy="186.6" r="1.8"/>
<circle cx="62.9" cy="191.2" r="1.8"/>
<circle cx="61.3" cy="190.5" r="1.8"/>
<circle cx="60.9" cy="197.1" r="1.8"/>
<circle cx="63.3" cy="191.3" r="1.8"/>
<circle cx="63.8" cy="188.5" r="1.8"/>
<circle cx="59.2" cy="184.2" r="1.8"/>
<circle cx="64.2" cy="185.1" r="1.8"/>
<circle cx="76.8" cy="179.8" r="1.8"/>
<circle cx="71" cy="189.8" r="1.8"/>
<circle cx="74.6" cy="177.7" r="1.8"/>
<circle cx="76.9" cy="185.7" r="1.8"/>
<circle cx="74.1" cy="182.7" r="1.8"/>
<circle cx="75.7" cy="185.9" r="1.8"/>
<circle cx="76.7" cy="184.9" r="1.8"/>
<circle cx="70.4" cy="182.8" r="1.8"/>
<circle cx="71.4" cy="184.5" r="1.8"/>
<circle cx="72.9" cy="182" r="1.8"/>
<circle cx="77.4" cy="180.7" r="1.8"/>
<circle cx="70.5" cy="194.1" r="1.8"/>
<circle cx="75.9" cy="181.6" r="1.8"/>
<circle cx="70.4" cy="186.7" r="1.8"/>
<circle cx="76" cy="181.7" r="1.8"/>
<circle cx="72.8" cy="183.3" r="1.8"/>
<circle cx="72.1" cy="182.8" r="1.8"/>
<circle cx="79.7" cy="176.1" r="1.8"/>
<circle cx="70.3" cy="178.6" r="1.8"/>
<circle cx="69.9" cy="186.8" r="1.8"/>
<circle cx="75.4" cy="171.5" r="1.8"/>
<circle cx="80.4" cy="166.6" r="1.8"/>
<circle cx="73.5" cy="180.5" r="1.8"/>
<circle cx="78.3" cy="178" r="1.8"/>
<circle cx="73.1" cy="182.4" r="1.8"/>
<circle cx="75.5" cy="175.6" r="1.8"/>
<circle cx="79.8" cy="171.9" r="1.8"/>
<circle cx="72.8" cy="185.3" r="1.8"/>
<circle cx="70" cy="179" r="1.8"/>
<circle cx="72.9" cy="176.8" r="1.8"/>
<circle cx="70.3" cy="183.4" r="1.8"/>
<circle cx="79.2" cy="176.4" r="1.8"/>
<circle cx="71.7" cy="182.7" r="1.8"/>
<circle cx="80.1" cy="172.5" r="1.8"/>
<circle cx="74.1" cy="181.9" r="1.8"/>
<circle cx="69.9" cy="183" r="1.8"/>
<circle cx="78.7" cy="176.5" r="1.8"/>
<circle cx="75.3" cy="178.2" r="1.8"/>
<circle cx="79.4" cy="181.6" r="1.8"/>
<circle cx="73.3" cy="178.1" r="1.8"/>
<circle cx="75" cy="178.5" r="1.8"/>
<circle cx="72.9" cy="179.2" r="1.8"/>
<circle cx="72.7" cy="174.7" r="1.8"/>
<circle cx="78.6" cy="178.8" r="1.8"/>
<circle cx="70.8" cy="182.4" r="1.8"/>
<circle cx="79" cy="175.5" r="1.8"/>
<circle cx="77.5" cy="176.6" r="1.8"/>
<circle cx="72.7" cy="178.4" r="1.8"/>
<circle cx="78.5" cy="172.9" r="1.8"/>
<circle cx="78.5" cy="178" r="1.8"/>
<circle cx="72.3" cy="182" r="1.8"/>
<circle cx="74.2" cy="183.3" r="1.8"/>
<circle cx="73.9" cy="178.6" r="1.8"/>
<circle cx="76.4" cy="183.9" r="1.8"/>
<circle cx="80.1" cy="172.6" r="1.8"/>
<circle cx="76.3" cy="186.5" r="1.8"/>
<circle cx="77.2" cy="178.4" r="1.8"/>
<circle cx="72.6" cy="183.5" r="1.8"/>
<circle cx="78.3" cy="173.7" r="1.8"/>
<circle cx="71.9" cy="185.8" r="1.8"/>
<circle cx="73.3" cy="185" r="1.8"/>
<circle cx="84.2" cy="169.7" r="1.8"/>
<circle cx="85.1" cy="170.2" r="1.8"/>
<circle cx="90.3" cy="165.9" r="1.8"/>
<circle cx="90.8" cy="169.9" r="1.8"/>
<circle cx="82.2" cy="162.7" r="1.8"/>
<circle cx="84.3" cy="176.5" r="1.8"/>
<circle cx="88.1" cy="166.1" r="1.8"/>
<circle cx="84" cy="171" r="1.8"/>
<circle cx="83.1" cy="175.2" r="1.8"/>
<circle cx="90.4" cy="166.4" r="1.8"/>
<circle cx="83.9" cy="168.2" r="1.8"/>
<circle cx="89.5" cy="170.1" r="1.8"/>
<circle cx="82.7" cy="166.2" r="1.8"/>
<circle cx="90.3" cy="165.2" r="1.8"/>
<circle cx="86.4" cy="171.8" r="1.8"/>
<circle cx="82.9" cy="170.3" r="1.8"/>
<circle cx="84.1" cy="172.9" r="1.8"/>
<circle cx="86.2" cy="171.3" r="1.8"/>
<circle cx="85.8" cy="169.7" r="1.8"/>
<circle cx="88.2" cy="167.2" r="1.8"/>
<circle cx="87.2" cy="174.5" r="1.8"/>
<circle cx="81.3" cy="171.3" r="1.8"/>
<circle cx="86.4" cy="170.4" r="1.8"/>
<circle cx="88.9" cy="173.4" r="1.8"/>
<circle cx="88.8" cy="166.1" r="1.8"/>
<circle cx="89.4" cy="164.8" r="1.8"/>
<circle cx="87" cy="172.6" r="1.8"/>
<circle cx="87.7" cy="166.4" r="1.8"/>
<circle cx="83.4" cy="165" r="1.8"/>
<circle cx="89.6" cy="170.2" r="1.8"/>
<circle cx="89" cy="165.1" r="1.8"/>
<circle cx="87.5" cy="173" r="1.8"/>
<circle cx="84.6" cy="171.3" r="1.8"/>
<circle cx="88" cy="164.7" r="1.8"/>
<circle cx="82" cy="178.6" r="1.8"/>
<circle cx="88.7" cy="166.7" r="1.8"/>
<circle cx="86.5" cy="169.9" r="1.8"/>
<circle cx="82.4" cy="170" r="1.8"/>
<circle cx="87.5" cy="167.1" r="1.8"/>
<circle cx="90.9" cy="171.8" r="1.8"/>
<circle cx="91.1" cy="168.1" r="1.8"/>
<circle cx="86.4" cy="176.7" r="1.8"/>
<circle cx="91" cy="164.5" r="1.8"/>
<circle cx="82.7" cy="177.7" r="1.8"/>
<circle cx="83" cy="178.3" r="1.8"/>
<circle cx="85.1" cy="173" r="1.8"/>
<circle cx="81.6" cy="167" r="1.8"/>
<circle cx="87.4" cy="166.3" r="1.8"/>
<circle cx="86.6" cy="171.6" r="1.8"/>
<circle cx="83.5" cy="160.7" r="1.8"/>
<circle cx="84.5" cy="166.2" r="1.8"/>
<circle cx="81.3" cy="172.5" r="1.8"/>
<circle cx="85" cy="170.8" r="1.8"/>
<circle cx="82.1" cy="171.8" r="1.8"/>
<circle cx="91.1" cy="160.5" r="1.8"/>
<circle cx="82.3" cy="173" r="1.8"/>
<circle cx="86.4" cy="168.5" r="1.8"/>
<circle cx="86.4" cy="164.8" r="1.8"/>
<circle cx="81.7" cy="174.1" r="1.8"/>
<circle cx="88.1" cy="154.4" r="1.8"/>
<circle cx="85.1" cy="175.2" r="1.8"/>
<circle cx="85.2" cy="168.3" r="1.8"/>
<circle cx="83" cy="169.8" r="1.8"/>
<circle cx="84.5" cy="172.1" r="1.8"/>
<circle cx="85.1" cy="177.8" r="1.8"/>
<circle cx="86.3" cy="171.7" r="1.8"/>
<circle cx="80.5" cy="176.8" r="1.8"/>
<circle cx="89.2" cy="163.6" r="1.8"/>
<circle cx="87.1" cy="169" r="1.8"/>
<circle cx="89.5" cy="171.3" r="1.8"/>
<circle cx="88.9" cy="160.5" r="1.8"/>
<circle cx="82.9" cy="175.7" r="1.8"/>
<circle cx="90" cy="166.2" r="1.8"/>
<circle cx="99.2" cy="158.1" r="1.8"/>
<circle cx="99.2" cy="161.5" r="1.8"/>
<circle cx="98.5" cy="165.9" r="1.8"/>
<circle cx="95.5" cy="163.6" r="1.8"/>
<circle cx="94.5" cy="163.8" r="1.8"/>
<circle cx="95.3" cy="169.6" r="1.8"/>
<circle cx="94.3" cy="166.8" r="1.8"/>
<circle cx="99.9" cy="156.3" r="1.8"/>
<circle cx="96.1" cy="162.5" r="1.8"/>
<circle cx="98.8" cy="162.1" r="1.8"/>
<circle cx="101" cy="160" r="1.8"/>
<circle cx="96.6" cy="167.5" r="1.8"/>
<circle cx="93.7" cy="164.8" r="1.8"/>
<circle cx="99" cy="162.3" r="1.8"/>
<circle cx="99.8" cy="159.3" r="1.8"/>
<circle cx="98.6" cy="163.4" r="1.8"/>
<circle cx="94.5" cy="170.6" r="1.8"/>
<circle cx="92.9" cy="167.1" r="1.8"/>
<circle cx="98.1" cy="162" r="1.8"/>
<circle cx="101.7" cy="161.2" r="1.8"/>
<circle cx="92.1" cy="168.6" r="1.8"/>
<circle cx="92.5" cy="167.3" r="1.8"/>
<circle cx="99.4" cy="156.7" r="1.8"/>
<circle cx="98.5" cy="160.3" r="1.8"/>
<circle cx="93.6" cy="163.2" r="1.8"/>
<circle cx="92.8" cy="164.4" r="1.8"/>
<circle cx="92.6" cy="166.4" r="1.8"/>
<circle cx="99" cy="160.9" r="1.8"/>
<circle cx="95.4" cy="168" r="1.8"/>
<circle cx="91.8" cy="168.8" r="1.8"/>
<circle cx="92.7" cy="164.7" r="1.8"/>
<circle cx="92.5" cy="167.7" r="1.8"/>
<circle cx="94.8" cy="163.2" r="1.8"/>
<circle cx="99.7" cy="157.3" r="1.8"/>
<circle cx="91.6" cy="165.3" r="1.8"/>
<circle cx="101.1" cy="158.8" r="1.8"/>
<circle cx="100.5" cy="161.3" r="1.8"/>
<circle cx="99.9" cy="161.4" r="1.8"/>
<circle cx="99.9" cy="156.7" r="1.8"/>
<circle cx="94" cy="158.2" r="1.8"/>
<circle cx="98.6" cy="152.9" r="1.8"/>
<circle cx="99.6" cy="166.5" r="1.8"/>
<circle cx="93.5" cy="163.2" r="1.8"/>
<circle cx="101.4" cy="161.4" r="1.8"/>
<circle cx="98.5" cy="164.6" r="1.8"/>
<circle cx="101.3" cy="163.4" r="1.8"/>
<circle cx="98.2" cy="160.2" r="1.8"/>
<circle cx="95.4" cy="171.9" r="1.8"/>
<circle cx="99.4" cy="160.5" r="1.8"/>
<circle cx="99" cy="152.4" r="1.8"/>
<circle cx="97.1" cy="161.1" r="1.8"/>
<circle cx="99.3" cy="161.4" r="1.8"/>
<circle cx="98.3" cy="162.2" r="1.8"/>
<circle cx="93.8" cy="158" r="1.8"/>
<circle cx="99.7" cy="162.7" r="1.8"/>
<circle cx="92.1" cy="165.7" r="1.8"/>
<circle cx="93.6" cy="161.8" r="1.8"/>
<circle cx="108.6" cy="157.3" r="1.8"/>
<circle cx="108.7" cy="147.8" r="1.8"/>
<circle cx="104.8" cy="160.6" r="1.8"/>
<circle cx="108.1" cy="155.1" r="1.8"/>
<circle cx="111.3" cy="157.4" r="1.8"/>
<circle cx="104.5" cy="154.9" r="1.8"/>
<circle cx="112.4" cy="154" r="1.8"/>
<circle cx="107.7" cy="149.5" r="1.8"/>
<circle cx="109.4" cy="153.4" r="1.8"/>
<circle cx="111.3" cy="155.1" r="1.8"/>
<circle cx="109.2" cy="154.7" r="1.8"/>
<circle cx="110" cy="152.4" r="1.8"/>
<circle cx="111.9" cy="152.2" r="1.8"/>
<circle cx="102.8" cy="166" r="1.8"/>
<circle cx="104.1" cy="159.2" r="1.8"/>
<circle cx="107.8" cy="154.5" r="1.8"/>
<circle cx="111.9" cy="156.6" r="1.8"/>
<circle cx="102.5" cy="154.3" r="1.8"/>
<circle cx="109.2" cy="156.1" r="1.8"/>
<circle cx="109.3" cy="155.6" r="1.8"/>
<circle cx="104.9" cy="157.6" r="1.8"/>
<circle cx="105.9" cy="156.9" r="1.8"/>
<circle cx="111.9" cy="148.6" r="1.8"/>
<circle cx="103.6" cy="157.6" r="1.8"/>
<circle cx="112.4" cy="146.9" r="1.8"/>
<circle cx="102.2" cy="159.9" r="1.8"/>
<circle cx="107.6" cy="150.8" r="1.8"/>
<circle cx="103.2" cy="163.2" r="1.8"/>
<circle cx="111.1" cy="156" r="1.8"/>
<circle cx="110" cy="149.7" r="1.8"/>
<circle cx="109" cy="150.8" r="1.8"/>
<circle cx="107.5" cy="160" r="1.8"/>
<circle cx="104.3" cy="165.8" r="1.8"/>
<circle cx="109.8" cy="157" r="1.8"/>
<circle cx="108.5" cy="154.9" r="1.8"/>
<circle cx="104.8" cy="156.8" r="1.8"/>
<circle cx="107.7" cy="158.3" r="1.8"/>
<circle cx="105.6" cy="154" r="1.8"/>
<circle cx="106.7" cy="156.5" r="1.8"/>
<circle cx="112.5" cy="156.3" r="1.8"/>
<circle cx="102.7" cy="158.3" r="1.8"/>
<circle cx="107.9" cy="154.3" r="1.8"/>
<circle cx="105.7" cy="161.9" r="1.8"/>
<circle cx="105.2" cy="159.5" r="1.8"/>
<circle cx="107.7" cy="154.9" r="1.8"/>
<circle cx="102.9" cy="153.7" r="1.8"/>
<circle cx="113.6" cy="148.2" r="1.8"/>
<circle cx="121.9" cy="147.7" r="1.8"/>
<circle cx="114.7" cy="149.8" r="1.8"/>
<circle cx="116" cy="145.7" r="1.8"/>
<circle cx="118.7" cy="149.8" r="1.8"/>
<circle cx="112.8" cy="150.8" r="1.8"/>
<circle cx="122.1" cy="146.4" r="1.8"/>
<circle cx="123.1" cy="143.1" r="1.8"/>
<circle cx="114.5" cy="146.9" r="1.8"/>
<circle cx="118.6" cy="141.1" r="1.8"/>
<circle cx="113.8" cy="156.1" r="1.8"/>
<circle cx="115.2" cy="147.7" r="1.8"/>
<circle cx="113.3" cy="152.5" r="1.8"/>
<circle cx="116.7" cy="149.8" r="1.8"/>
<circle cx="121.1" cy="145.6" r="1.8"/>
<circle cx="113.5" cy="145.2" r="1.8"/>
<circle cx="113.6" cy="151.3" r="1.8"/>
<circle cx="121.9" cy="149.5" r="1.8"/>
<circle cx="118.8" cy="147.9" r="1.8"/>
<circle cx="121.5" cy="147.1" r="1.8"/>
<circle cx="114.1" cy="145.7" r="1.8"/>
<circle cx="119.8" cy="145.4" r="1.8"/>
<circle cx="115.8" cy="147.3" r="1.8"/>
<circle cx="120.4" cy="147.4" r="1.8"/>
<circle cx="113.7" cy="153.5" r="1.8"/>
<circle cx="117" cy="149" r="1.8"/>
<circle cx="116.1" cy="149.8" r="1.8"/>
<circle cx="122.3" cy="139.9" r="1.8"/>
<circle cx="113.6" cy="152" r="1.8"/>
<circle cx="120.8" cy="142.7" r="1.8"/>
<circle cx="122.1" cy="142.7" r="1.8"/>
<circle cx="122.6" cy="143.4" r="1.8"/>
<circle cx="116" cy="148.9" r="1.8"/>
<circle cx="117.8" cy="147.8" r="1.8"/>
<circle cx="121.9" cy="144.5" r="1.8"/>
<circle cx="118.5" cy="145.2" r="1.8"/>
<circle cx="112.9" cy="150.6" r="1.8"/>
<circle cx="119.3" cy="145.2" r="1.8"/>
<circle cx="117" cy="147.7" r="1.8"/>
<circle cx="121.3" cy="144.1" r="1.8"/>
<circle cx="114.9" cy="154.2" r="1.8"/>
<circle cx="118.9" cy="147.6" r="1.8"/>
<circle cx="119.3" cy="143.5" r="1.8"/>
<circle cx="117.3" cy="148.6" r="1.8"/>
<circle cx="117.4" cy="142.5" r="1.8"/>
<circle cx="114.9" cy="148.9" r="1.8"/>
<circle cx="114.2" cy="151.6" r="1.8"/>
<circle cx="119.2" cy="144.1" r="1.8"/>
<circle cx="127" cy="142.1" r="1.8"/>
<circle cx="128.4" cy="136.2" r="1.8"/>
<circle cx="131.3" cy="138.5" r="1.8"/>
<circle cx="129.4" cy="139.2" r="1.8"/>
<circle cx="129" cy="137.2" r="1.8"/>
<circle cx="127.2" cy="139.3" r="1.8"/>
<circle cx="129.4" cy="139.6" r="1.8"/>
<circle cx="131.9" cy="140.1" r="1.8"/>
<circle cx="125.9" cy="139.7" r="1.8"/>
<circle cx="131.4" cy="137.4" r="1.8"/>
<circle cx="125.8" cy="139.9" r="1.8"/>
<circle cx="124.4" cy="134.2" r="1.8"/>
<circle cx="124.5" cy="142.8" r="1.8"/>
<circle cx="126.1" cy="143.3" r="1.8"/>
<circle cx="123.6" cy="142.3" r="1.8"/>
<circle cx="124.1" cy="143" r="1.8"/>
<circle cx="132.3" cy="131.8" r="1.8"/>
<circle cx="130.9" cy="136.8" r="1.8"/>
<circle cx="133.9" cy="135.8" r="1.8"/>
<circle cx="126.3" cy="140.8" r="1.8"/>
<circle cx="124.8" cy="143.3" r="1.8"/>
<circle cx="128.6" cy="138.6" r="1.8"/>
<circle cx="132.1" cy="135" r="1.8"/>
<circle cx="133.9" cy="135.5" r="1.8"/>
<circle cx="131.3" cy="138" r="1.8"/>
<circle cx="129.7" cy="135.4" r="1.8"/>
<circle cx="126.4" cy="143.3" r="1.8"/>
<circle cx="129.2" cy="141.1" r="1.8"/>
<circle cx="130" cy="140.8" r="1.8"/>
<circle cx="130.7" cy="139.5" r="1.8"/>
<circle cx="132.8" cy="135.9" r="1.8"/>
<circle cx="131.9" cy="136" r="1.8"/>
<circle cx="130.5" cy="144.5" r="1.8"/>
<circle cx="124.7" cy="141.1" r="1.8"/>
<circle cx="124" cy="140.3" r="1.8"/>
<circle cx="130.3" cy="140" r="1.8"/>
<circle cx="126.4" cy="138.1" r="1.8"/>
<circle cx="125.2" cy="141.1" r="1.8"/>
<circle cx="129.2" cy="135.9" r="1.8"/>
<circle cx="124" cy="142.7" r="1.8"/>
<circle cx="133.9" cy="133.4" r="1.8"/>
<circle cx="125.7" cy="137.5" r="1.8"/>
<circle cx="123.7" cy="148.2" r="1.8"/>
<circle cx="125.9" cy="140.6" r="1.8"/>
<circle cx="123.7" cy="142.3" r="1.8"/>
<circle cx="129.7" cy="138.2" r="1.8"/>
<circle cx="127.5" cy="141.1" r="1.8"/>
<circle cx="135.6" cy="134.2" r="1.8"/>
<circle cx="142.2" cy="128.3" r="1.8"/>
<circle cx="140.5" cy="129.9" r="1.8"/>
<circle cx="142.8" cy="132.1" r="1.8"/>
<circle cx="143.6" cy="129.4" r="1.8"/>
<circle cx="139.7" cy="132.3" r="1.8"/>
<circle cx="139.3" cy="132.1" r="1.8"/>
<circle cx="138.2" cy="135" r="1.8"/>
<circle cx="143.8" cy="127.3" r="1.8"/>
<circle cx="136.2" cy="134.8" r="1.8"/>
<circle cx="142.6" cy="132.3" r="1.8"/>
<circle cx="136.7" cy="135.2" r="1.8"/>
<circle cx="142.1" cy="129.9" r="1.8"/>
<circle cx="141.4" cy="128.2" r="1.8"/>
<circle cx="142.7" cy="128.3" r="1.8"/>
<circle cx="137.2" cy="134.7" r="1.8"/>
<circle cx="136.2" cy="134.2" r="1.8"/>
<circle cx="139.6" cy="135.6" r="1.8"/>
<circle cx="136.1" cy="133.4" r="1.8"/>
<circle cx="138.7" cy="132.3" r="1.8"/>
<circle cx="142.1" cy="129.7" r="1.8"/>
<circle cx="139.5" cy="130.2" r="1.8"/>
<circle cx="134.6" cy="138.2" r="1.8"/>
<circle cx="134.8" cy="136.4" r="1.8"/>
<circle cx="136.2" cy="135.9" r="1.8"/>
<circle cx="135" cy="133.3" r="1.8"/>
<circle cx="140.3" cy="130.8" r="1.8"/>
<circle cx="142.7" cy="130.3" r="1.8"/>
<circle cx="138.5" cy="133.7" r="1.8"/>
<circle cx="136.3" cy="130.2" r="1.8"/>
<circle cx="142.8" cy="128.7" r="1.8"/>
<circle cx="144.8" cy="130.1" r="1.8"/>
<circle cx="135.4" cy="136.8" r="1.8"/>
<circle cx="143.7" cy="131.6" r="1.8"/>
<circle cx="135.3" cy="133.1" r="1.8"/>
<circle cx="137.1" cy="131.3" r="1.8"/>
<circle cx="137.4" cy="135.6" r="1.8"/>
<circle cx="142.6" cy="128.3" r="1.8"/>
<circle cx="138" cy="132.9" r="1.8"/>
<circle cx="141.6" cy="127.3" r="1.8"/>
<circle cx="136.6" cy="131" r="1.8"/>
<circle cx="137.3" cy="131.9" r="1.8"/>
<circle cx="136.6" cy="132.9" r="1.8"/>
<circle cx="138.3" cy="133.3" r="1.8"/>
<circle cx="136.9" cy="131.9" r="1.8"/>
<circle cx="136.8" cy="131.1" r="1.8"/>
<circle cx="135.4" cy="132" r="1.8"/>
<circle cx="143.2" cy="129.4" r="1.8"/>
<circle cx="143.9" cy="126.9" r="1.8"/>
<circle cx="142.4" cy="128.6" r="1.8"/>
<circle cx="142.1" cy="128" r="1.8"/>
<circle cx="142" cy="126.8" r="1.8"/>
<circle cx="144" cy="129.5" r="1.8"/>
<circle cx="138.8" cy="130.2" r="1.8"/>
<circle cx="153.5" cy="120.3" r="1.8"/>
<circle cx="146.3" cy="124.4" r="1.8"/>
<circle cx="153.2" cy="126.6" r="1.8"/>
<circle cx="155.4" cy="119.9" r="1.8"/>
<circle cx="148.2" cy="125.5" r="1.8"/>
<circle cx="147.7" cy="127.1" r="1.8"/>
<circle cx="153.8" cy="119" r="1.8"/>
<circle cx="145.3" cy="126.3" r="1.8"/>
<circle cx="149.7" cy="121.6" r="1.8"/>
<circle cx="155.1" cy="118.4" r="1.8"/>
<circle cx="145.7" cy="126.2" r="1.8"/>
<circle cx="151.7" cy="118.5" r="1.8"/>
<circle cx="148.8" cy="122" r="1.8"/>
<circle cx="149.2" cy="124" r="1.8"/>
<circle cx="149.2" cy="123.8" r="1.8"/>
<circle cx="146.3" cy="127" r="1.8"/>
<circle cx="149.6" cy="127" r="1.8"/>
<circle cx="151.1" cy="122.7" r="1.8"/>
<circle cx="149.7" cy="122.2" r="1.8"/>
<circle cx="152.9" cy="123.2" r="1.8"/>
<circle cx="154.6" cy="117.8" r="1.8"/>
<circle cx="149.3" cy="119.4" r="1.8"/>
<circle cx="151.8" cy="119.8" r="1.8"/>
<circle cx="148.9" cy="129.3" r="1.8"/>
<circle cx="145.2" cy="129.2" r="1.8"/>
<circle cx="150" cy="124.4" r="1.8"/>
<circle cx="151.5" cy="123.9" r="1.8"/>
<circle cx="149.3" cy="124.6" r="1.8"/>
<circle cx="150.9" cy="120.2" r="1.8"/>
<circle cx="145.2" cy="128.1" r="1.8"/>
<circle cx="146.2" cy="125.4" r="1.8"/>
<circle cx="155.2" cy="115.8" r="1.8"/>
<circle cx="150.7" cy="120.5" r="1.8"/>
<circle cx="153.3" cy="119.6" r="1.8"/>
<circle cx="148.1" cy="124.3" r="1.8"/>
<circle cx="145.8" cy="124.4" r="1.8"/>
<circle cx="151.1" cy="121.5" r="1.8"/>
<circle cx="150.7" cy="122.5" r="1.8"/>
<circle cx="152.5" cy="123.3" r="1.8"/>
<circle cx="155.1" cy="120.4" r="1.8"/>
<circle cx="155.5" cy="123.1" r="1.8"/>
<circle cx="154.8" cy="120.7" r="1.8"/>
<circle cx="153.4" cy="122.6" r="1.8"/>
<circle cx="155.8" cy="117.5" r="1.8"/>
<circle cx="150" cy="123.2" r="1.8"/>
<circle cx="151" cy="127.3" r="1.8"/>
<circle cx="155.2" cy="119.5" r="1.8"/>
<circle cx="154.2" cy="120.5" r="1.8"/>
<circle cx="155.1" cy="122.6" r="1.8"/>
<circle cx="155.6" cy="117.1" r="1.8"/>
<circle cx="150.7" cy="122.3" r="1.8"/>
<circle cx="165.3" cy="113.9" r="1.8"/>
<circle cx="161.3" cy="115.5" r="1.8"/>
<circle cx="164" cy="109.1" r="1.8"/>
<circle cx="166.1" cy="109.8" r="1.8"/>
<circle cx="158.8" cy="118.7" r="1.8"/>
<circle cx="157.6" cy="116.4" r="1.8"/>
<circle cx="157" cy="113.5" r="1.8"/>
<circle cx="165.7" cy="109.8" r="1.8"/>
<circle cx="160.9" cy="116.2" r="1.8"/>
<circle cx="164" cy="113.1" r="1.8"/>
<circle cx="166.1" cy="109.7" r="1.8"/>
<circle cx="166.4" cy="109.2" r="1.8"/>
<circle cx="156.9" cy="125.3" r="1.8"/>
<circle cx="164.9" cy="113.3" r="1.8"/>
<circle cx="159.4" cy="115.5" r="1.8"/>
<circle cx="159.9" cy="116.4" r="1.8"/>
<circle cx="157.1" cy="115.2" r="1.8"/>
<circle cx="158.9" cy="115.5" r="1.8"/>
<circle cx="157" cy="122.7" r="1.8"/>
<circle cx="158.2" cy="118" r="1.8"/>
<circle cx="163.9" cy="114" r="1.8"/>
<circle cx="164.2" cy="111.6" r="1.8"/>
<circle cx="159.2" cy="119.5" r="1.8"/>
<circle cx="164.4" cy="109" r="1.8"/>
<circle cx="161" cy="115.2" r="1.8"/>
<circle cx="166.5" cy="109.7" r="1.8"/>
<circle cx="165.7" cy="113.5" r="1.8"/>
<circle cx="162.2" cy="109.6" r="1.8"/>
<circle cx="158.1" cy="115.8" r="1.8"/>
<circle cx="157.1" cy="119.8" r="1.8"/>
<circle cx="157.1" cy="116.3" r="1.8"/>
<circle cx="162.3" cy="113" r="1.8"/>
<circle cx="160.1" cy="117" r="1.8"/>
<circle cx="164.8" cy="112.8" r="1.8"/>
<circle cx="158.7" cy="114.4" r="1.8"/>
<circle cx="158.9" cy="118" r="1.8"/>
<circle cx="165.7" cy="110.7" r="1.8"/>
<circle cx="158.2" cy="117.4" r="1.8"/>
<circle cx="158.4" cy="118.6" r="1.8"/>
<circle cx="159.6" cy="116.7" r="1.8"/>
<circle cx="165.9" cy="112.2" r="1.8"/>
<circle cx="165.9" cy="111.8" r="1.8"/>
<circle cx="159.2" cy="117.4" r="1.8"/>
<circle cx="156.6" cy="118.1" r="1.8"/>
<circle cx="164" cy="111.5" r="1.8"/>
<circle cx="157.5" cy="114" r="1.8"/>
<circle cx="162.4" cy="115.6" r="1.8"/>
<circle cx="163.1" cy="112.6" r="1.8"/>
<circle cx="161.8" cy="114.9" r="1.8"/>
<circle cx="159.6" cy="116.2" r="1.8"/>
<circle cx="157.3" cy="118.2" r="1.8"/>
<circle cx="156.4" cy="116.5" r="1.8"/>
<circle cx="157.8" cy="116.8" r="1.8"/>
<circle cx="157.4" cy="120.1" r="1.8"/>
<circle cx="165.5" cy="108.5" r="1.8"/>
<circle cx="163.5" cy="116.3" r="1.8"/>
<circle cx="166.6" cy="110.4" r="1.8"/>
<circle cx="159.8" cy="117.9" r="1.8"/>
<circle cx="164.3" cy="109.2" r="1.8"/>
<circle cx="170.7" cy="108.2" r="1.8"/>
<circle cx="168.6" cy="113.3" r="1.8"/>
<circle cx="168" cy="106.9" r="1.8"/>
<circle cx="172.2" cy="105.7" r="1.8"/>
<circle cx="168.4" cy="111.3" r="1.8"/>
<circle cx="168.3" cy="109.6" r="1.8"/>
<circle cx="171.4" cy="105.8" r="1.8"/>
<circle cx="166.9" cy="113.7" r="1.8"/>
<circle cx="169.2" cy="108.9" r="1.8"/>
<circle cx="168.9" cy="110.2" r="1.8"/>
<circle cx="168.8" cy="108.7" r="1.8"/>
<circle cx="174.1" cy="107.6" r="1.8"/>
<circle cx="166.9" cy="110.1" r="1.8"/>
<circle cx="168.1" cy="107.7" r="1.8"/>
<circle cx="167.8" cy="114.8" r="1.8"/>
<circle cx="172.3" cy="108.5" r="1.8"/>
<circle cx="174.5" cy="107.5" r="1.8"/>
<circle cx="175.9" cy="105.7" r="1.8"/>
<circle cx="171.5" cy="105.3" r="1.8"/>
<circle cx="170.2" cy="110.5" r="1.8"/>
<circle cx="168.6" cy="108.3" r="1.8"/>
<circle cx="172.8" cy="108" r="1.8"/>
<circle cx="175.6" cy="104.8" r="1.8"/>
<circle cx="177.1" cy="106.5" r="1.8"/>
<circle cx="172.7" cy="105.1" r="1.8"/>
<circle cx="167.5" cy="108.8" r="1.8"/>
<circle cx="169.5" cy="112.6" r="1.8"/>
<circle cx="171.3" cy="109" r="1.8"/>
<circle cx="168.2" cy="107.9" r="1.8"/>
<circle cx="170" cy="106.7" r="1.8"/>
<circle cx="173.8" cy="106.5" r="1.8"/>
<circle cx="166.7" cy="112.4" r="1.8"/>
<circle cx="170.2" cy="109.2" r="1.8"/>
<circle cx="176.4" cy="102.4" r="1.8"/>
<circle cx="172.4" cy="107.4" r="1.8"/>
<circle cx="172.4" cy="103.9" r="1.8"/>
<circle cx="168.6" cy="111.4" r="1.8"/>
<circle cx="175.2" cy="106.1" r="1.8"/>
<circle cx="174" cy="107.1" r="1.8"/>
<circle cx="175.3" cy="106.8" r="1.8"/>
<circle cx="174.2" cy="107.1" r="1.8"/>
<circle cx="173.6" cy="105.9" r="1.8"/>
<circle cx="175.7" cy="102.7" r="1.8"/>
<circle cx="167.1" cy="111.3" r="1.8"/>
<circle cx="174.1" cy="106.4" r="1.8"/>
<circle cx="166.8" cy="110.6" r="1.8"/>
<circle cx="176.2" cy="105.1" r="1.8"/>
<circle cx="177.3" cy="105.9" r="1.8"/>
<circle cx="171.7" cy="107" r="1.8"/>
<circle cx="169.8" cy="106.2" r="1.8"/>
<circle cx="173.2" cy="106.1" r="1.8"/>
<circle cx="176.9" cy="101.6" r="1.8"/>
<circle cx="177.1" cy="102.7" r="1.8"/>
<circle cx="168.8" cy="110.3" r="1.8"/>
<circle cx="177.2" cy="103.1" r="1.8"/>
<circle cx="167.1" cy="112.3" r="1.8"/>
<circle cx="167.8" cy="114.4" r="1.8"/>
<circle cx="168.2" cy="110.3" r="1.8"/>
<circle cx="170.7" cy="106.6" r="1.8"/>
<circle cx="168.9" cy="106.5" r="1.8"/>
<circle cx="166.7" cy="113.7" r="1.8"/>
<circle cx="169" cy="106.5" r="1.8"/>
<circle cx="171.9" cy="107.9" r="1.8"/>
<circle cx="167.9" cy="111.2" r="1.8"/>
<circle cx="174" cy="105.2" r="1.8"/>
<circle cx="170.5" cy="112" r="1.8"/>
<circle cx="167.5" cy="113.4" r="1.8"/>
<circle cx="172.1" cy="104.4" r="1.8"/>
<circle cx="183.2" cy="98.7" r="1.8"/>
<circle cx="179.2" cy="103.9" r="1.8"/>
<circle cx="182.2" cy="97.9" r="1.8"/>
<circle cx="186.8" cy="93.2" r="1.8"/>
<circle cx="185.6" cy="96" r="1.8"/>
<circle cx="185.5" cy="98.2" r="1.8"/>
<circle cx="180.6" cy="98" r="1.8"/>
<circle cx="183.4" cy="96.9" r="1.8"/>
<circle cx="187" cy="97.5" r="1.8"/>
<circle cx="181.9" cy="99.1" r="1.8"/>
<circle cx="187.9" cy="97.7" r="1.8"/>
<circle cx="177.9" cy="99.4" r="1.8"/>
<circle cx="180.4" cy="102.4" r="1.8"/>
<circle cx="187.1" cy="95.6" r="1.8"/>
<circle cx="180.8" cy="102.2" r="1.8"/>
<circle cx="185.5" cy="96.7" r="1.8"/>
<circle cx="181.6" cy="100.5" r="1.8"/>
<circle cx="183.8" cy="99.3" r="1.8"/>
<circle cx="178.4" cy="104.4" r="1.8"/>
<circle cx="183.2" cy="100.8" r="1.8"/>
<circle cx="185.6" cy="102.9" r="1.8"/>
<circle cx="179.6" cy="100.8" r="1.8"/>
<circle cx="184.6" cy="98.8" r="1.8"/>
<circle cx="187.1" cy="94.8" r="1.8"/>
<circle cx="186.2" cy="98.6" r="1.8"/>
<circle cx="178.8" cy="100.3" r="1.8"/>
<circle cx="181.9" cy="98.4" r="1.8"/>
<circle cx="184.6" cy="95.8" r="1.8"/>
<circle cx="180.7" cy="99" r="1.8"/>
<circle cx="187.8" cy="93.8" r="1.8"/>
<circle cx="178.7" cy="108.7" r="1.8"/>
<circle cx="178.7" cy="98.6" r="1.8"/>
<circle cx="183.9" cy="97.5" r="1.8"/>
<circle cx="177.8" cy="103.9" r="1.8"/>
<circle cx="187.9" cy="95" r="1.8"/>
<circle cx="186.1" cy="99.8" r="1.8"/>
<circle cx="186.6" cy="95.4" r="1.8"/>
<circle cx="180.9" cy="98.5" r="1.8"/>
<circle cx="180" cy="98.9" r="1.8"/>
<circle cx="183.1" cy="101.1" r="1.8"/>
<circle cx="185" cy="95.4" r="1.8"/>
<circle cx="183.1" cy="96.9" r="1.8"/>
<circle cx="184.9" cy="97" r="1.8"/>
<circle cx="179.3" cy="98.2" r="1.8"/>
<circle cx="185" cy="99.5" r="1.8"/>
<circle cx="177.7" cy="102.5" r="1.8"/>
<circle cx="183.5" cy="100.1" r="1.8"/>
<circle cx="180.9" cy="99.7" r="1.8"/>
<circle cx="180.4" cy="99.2" r="1.8"/>
<circle cx="181.3" cy="98.6" r="1.8"/>
<circle cx="182.9" cy="102.2" r="1.8"/>
<circle cx="177.5" cy="104.9" r="1.8"/>
<circle cx="185.4" cy="97.3" r="1.8"/>
<circle cx="178.6" cy="102.8" r="1.8"/>
<circle cx="178.7" cy="102.1" r="1.8"/>
<circle cx="178.9" cy="101.8" r="1.8"/>
<circle cx="180.7" cy="95" r="1.8"/>
<circle cx="178.1" cy="101" r="1.8"/>
<circle cx="187" cy="93.6" r="1.8"/>
<circle cx="177.8" cy="104.8" r="1.8"/>
<circle cx="183.9" cy="95.2" r="1.8"/>
<circle cx="188.9" cy="95.4" r="1.8"/>
<circle cx="194.8" cy="90.3" r="1.8"/>
<circle cx="193.8" cy="86.3" r="1.8"/>
<circle cx="188.9" cy="93.5" r="1.8"/>
<circle cx="192.8" cy="89.6" r="1.8"/>
<circle cx="195.5" cy="92" r="1.8"/>
<circle cx="197" cy="89.8" r="1.8"/>
<circle cx="189.8" cy="92.7" r="1.8"/>
<circle cx="194.3" cy="90.8" r="1.8"/>
<circle cx="196.8" cy="90" r="1.8"/>
<circle cx="194.5" cy="90.8" r="1.8"/>
<circle cx="197.7" cy="84.8" r="1.8"/>
<circle cx="195.3" cy="89.3" r="1.8"/>
<circle cx="196.4" cy="85.9" r="1.8"/>
<circle cx="189.5" cy="93.4" r="1.8"/>
<circle cx="191" cy="91.8" r="1.8"/>
<circle cx="190" cy="91.4" r="1.8"/>
<circle cx="189.8" cy="95.6" r="1.8"/>
<circle cx="194.8" cy="92.2" r="1.8"/>
<circle cx="188.8" cy="92.8" r="1.8"/>
<circle cx="198.8" cy="85.7" r="1.8"/>
<circle cx="192.4" cy="87.6" r="1.8"/>
<circle cx="196.3" cy="89" r="1.8"/>
<circle cx="193.1" cy="92.9" r="1.8"/>
<circle cx="195.5" cy="84" r="1.8"/>
<circle cx="193.7" cy="93.2" r="1.8"/>
<circle cx="193.4" cy="89.1" r="1.8"/>
<circle cx="189.6" cy="89.6" r="1.8"/>
<circle cx="197.3" cy="87.9" r="1.8"/>
<circle cx="198.9" cy="83.5" r="1.8"/>
<circle cx="192.7" cy="91.5" r="1.8"/>
<circle cx="195" cy="88.2" r="1.8"/>
<circle cx="196.5" cy="88.7" r="1.8"/>
<circle cx="191.9" cy="93.4" r="1.8"/>
<circle cx="195.9" cy="86" r="1.8"/>
<circle cx="188.4" cy="96.5" r="1.8"/>
<circle cx="196.8" cy="90.3" r="1.8"/>
<circle cx="196.4" cy="90.9" r="1.8"/>
<circle cx="197.3" cy="87.9" r="1.8"/>
<circle cx="196.4" cy="85.3" r="1.8"/>
<circle cx="196.1" cy="88.3" r="1.8"/>
<circle cx="193.3" cy="90.1" r="1.8"/>
<circle cx="188.7" cy="97.1" r="1.8"/>
<circle cx="196.3" cy="88" r="1.8"/>
<circle cx="189.5" cy="95.7" r="1.8"/>
<circle cx="198.2" cy="88.9" r="1.8"/>
<circle cx="197.4" cy="86.5" r="1.8"/>
<circle cx="189" cy="93.4" r="1.8"/>
<circle cx="195.7" cy="88" r="1.8"/>
<circle cx="194.1" cy="90.4" r="1.8"/>
<circle cx="192.7" cy="91.4" r="1.8"/>
<circle cx="189.8" cy="92.6" r="1.8"/>
<circle cx="190" cy="93.9" r="1.8"/>
<circle cx="196.7" cy="91.2" r="1.8"/>
<circle cx="190.3" cy="96" r="1.8"/>
<circle cx="191.5" cy="92.5" r="1.8"/>
<circle cx="192.7" cy="92" r="1.8"/>
<circle cx="194" cy="89.7" r="1.8"/>
<circle cx="198.2" cy="86.9" r="1.8"/>
<circle cx="194" cy="86.9" r="1.8"/>
<circle cx="193.4" cy="90.9" r="1.8"/>
<circle cx="190.2" cy="90.7" r="1.8"/>
<circle cx="205.7" cy="83.8" r="1.8"/>
<circle cx="203.5" cy="85.5" r="1.8"/>
<circle cx="200.5" cy="82.6" r="1.8"/>
<circle cx="203.5" cy="83.4" r="1.8"/>
<circle cx="209.4" cy="79.9" r="1.8"/>
<circle cx="203.1" cy="86.6" r="1.8"/>
<circle cx="204.1" cy="81.3" r="1.8"/>
<circle cx="201.5" cy="82.6" r="1.8"/>
<circle cx="207" cy="77.2" r="1.8"/>
<circle cx="199.6" cy="90.3" r="1.8"/>
<circle cx="202.4" cy="84.1" r="1.8"/>
<circle cx="205.9" cy="80.4" r="1.8"/>
<circle cx="200.9" cy="83.5" r="1.8"/>
<circle cx="204.9" cy="82" r="1.8"/>
<circle cx="201.2" cy="85.7" r="1.8"/>
<circle cx="208.6" cy="76.4" r="1.8"/>
<circle cx="204.4" cy="83" r="1.8"/>
<circle cx="204.5" cy="84.6" r="1.8"/>
<circle cx="208.4" cy="79.7" r="1.8"/>
<circle cx="201.6" cy="84.6" r="1.8"/>
<circle cx="208.7" cy="78.5" r="1.8"/>
<circle cx="205.1" cy="82.3" r="1.8"/>
<circle cx="204.3" cy="82.6" r="1.8"/>
<circle cx="203" cy="83" r="1.8"/>
<circle cx="202.1" cy="84.1" r="1.8"/>
<circle cx="206.1" cy="81.5" r="1.8"/>
<circle cx="202.4" cy="84.1" r="1.8"/>
<circle cx="209.2" cy="78.7" r="1.8"/>
<circle cx="202.3" cy="84" r="1.8"/>
<circle cx="202.2" cy="82.8" r="1.8"/>
<circle cx="199.1" cy="86.2" r="1.8"/>
<circle cx="199.4" cy="84.1" r="1.8"/>
<circle cx="206.8" cy="80.9" r="1.8"/>
<circle cx="209.2" cy="79.1" r="1.8"/>
<circle cx="207.5" cy="81.1" r="1.8"/>
<circle cx="202.3" cy="84.7" r="1.8"/>
<circle cx="205.1" cy="79.8" r="1.8"/>
<circle cx="205.6" cy="81.9" r="1.8"/>
<circle cx="207.2" cy="77.8" r="1.8"/>
<circle cx="208.6" cy="84.6" r="1.8"/>
<circle cx="205.6" cy="80.5" r="1.8"/>
<circle cx="209.3" cy="75.9" r="1.8"/>
<circle cx="209.4" cy="80.8" r="1.8"/>
<circle cx="199.5" cy="90.8" r="1.8"/>
<circle cx="209.6" cy="82.2" r="1.8"/>
<circle cx="202" cy="82.1" r="1.8"/>
<circle cx="209.6" cy="79.8" r="1.8"/>
<circle cx="206.2" cy="84.4" r="1.8"/>
<circle cx="208.4" cy="79.4" r="1.8"/>
<circle cx="204.1" cy="83.8" r="1.8"/>
<circle cx="200.8" cy="86" r="1.8"/>
<circle cx="199.2" cy="88.4" r="1.8"/>
<circle cx="208.8" cy="82.8" r="1.8"/>
<circle cx="205.5" cy="80.6" r="1.8"/>
<circle cx="201.6" cy="88.9" r="1.8"/>
<circle cx="205" cy="81.9" r="1.8"/>
<circle cx="207.8" cy="79.3" r="1.8"/>
<circle cx="204" cy="90.9" r="1.8"/>
<circle cx="199.4" cy="87.5" r="1.8"/>
<circle cx="204.6" cy="80.8" r="1.8"/>
<circle cx="206.8" cy="82.8" r="1.8"/>
<circle cx="209.6" cy="78.9" r="1.8"/>
<circle cx="207.3" cy="80.2" r="1.8"/>
<circle cx="206.7" cy="77.7" r="1.8"/>
<circle cx="207.2" cy="86.3" r="1.8"/>
<circle cx="206.2" cy="88.5" r="1.8"/>
<circle cx="205.2" cy="81" r="1.8"/>
<circle cx="201.1" cy="88.3" r="1.8"/>
<circle cx="202.1" cy="84.6" r="1.8"/>
<circle cx="200.1" cy="87.2" r="1.8"/>
<circle cx="207" cy="79.9" r="1.8"/>
<circle cx="209.7" cy="82.4" r="1.8"/>
<circle cx="205.5" cy="83.4" r="1.8"/>
<circle cx="199.4" cy="87.4" r="1.8"/>
<circle cx="204" cy="81.5" r="1.8"/>
<circle cx="201" cy="83.2" r="1.8"/>
<circle cx="202" cy="82.6" r="1.8"/>
<circle cx="199.3" cy="88.5" r="1.8"/>
<circle cx="208.9" cy="76.8" r="1.8"/>
<circle cx="203.8" cy="83.5" r="1.8"/>
<circle cx="205.7" cy="80.7" r="1.8"/>
<circle cx="201.2" cy="86.7" r="1.8"/>
<circle cx="209.3" cy="81.8" r="1.8"/>
<circle cx="215.6" cy="74.4" r="1.8"/>
<circle cx="210.9" cy="78" r="1.8"/>
<circle cx="218" cy="73.2" r="1.8"/>
<circle cx="213.3" cy="77" r="1.8"/>
<circle cx="211.8" cy="79.5" r="1.8"/>
<circle cx="213.8" cy="75.7" r="1.8"/>
<circle cx="215.9" cy="76.1" r="1.8"/>
<circle cx="213.7" cy="75.6" r="1.8"/>
<circle cx="211.3" cy="80.5" r="1.8"/>
<circle cx="216.3" cy="74.7" r="1.8"/>
<circle cx="219.5" cy="71.1" r="1.8"/>
<circle cx="212.5" cy="76.1" r="1.8"/>
<circle cx="216.4" cy="71.2" r="1.8"/>
<circle cx="211" cy="77.5" r="1.8"/>
<circle cx="219.2" cy="71.4" r="1.8"/>
<circle cx="211.5" cy="78.3" r="1.8"/>
<circle cx="218.1" cy="73.9" r="1.8"/>
<circle cx="219.9" cy="70" r="1.8"/>
<circle cx="218.6" cy="71.8" r="1.8"/>
<circle cx="215.6" cy="71.3" r="1.8"/>
<circle cx="214.7" cy="74.8" r="1.8"/>
<circle cx="213.8" cy="74.1" r="1.8"/>
<circle cx="210.5" cy="80.2" r="1.8"/>
<circle cx="214.3" cy="74.8" r="1.8"/>
<circle cx="211.5" cy="76.1" r="1.8"/>
<circle cx="217" cy="77.1" r="1.8"/>
<circle cx="212.2" cy="77.1" r="1.8"/>
<circle cx="215.9" cy="76" r="1.8"/>
<circle cx="213.3" cy="73.4" r="1.8"/>
<circle cx="210.3" cy="77.9" r="1.8"/>
<circle cx="210.9" cy="79.9" r="1.8"/>
<circle cx="220.2" cy="73.7" r="1.8"/>
<circle cx="215.8" cy="76.3" r="1.8"/>
<circle cx="217" cy="78.2" r="1.8"/>
<circle cx="218.5" cy="76.5" r="1.8"/>
<circle cx="212.9" cy="76.9" r="1.8"/>
<circle cx="213.8" cy="78.3" r="1.8"/>
<circle cx="215.3" cy="72.7" r="1.8"/>
<circle cx="213.4" cy="80.6" r="1.8"/>
<circle cx="210.5" cy="75.6" r="1.8"/>
<circle cx="215.4" cy="73.8" r="1.8"/>
<circle cx="211" cy="80.1" r="1.8"/>
<circle cx="212.3" cy="76.4" r="1.8"/>
<circle cx="215.1" cy="72.6" r="1.8"/>
<circle cx="211.3" cy="77.5" r="1.8"/>
<circle cx="214.8" cy="74.5" r="1.8"/>
<circle cx="210.2" cy="78.8" r="1.8"/>
<circle cx="211.5" cy="74.4" r="1.8"/>
<circle cx="219.3" cy="71.2" r="1.8"/>
<circle cx="215.9" cy="73.6" r="1.8"/>
<circle cx="212.5" cy="77" r="1.8"/>
<circle cx="211" cy="77.5" r="1.8"/>
<circle cx="210.8" cy="77.2" r="1.8"/>
<circle cx="219.9" cy="72.3" r="1.8"/>
<circle cx="218.4" cy="72.7" r="1.8"/>
<circle cx="215.6" cy="73.1" r="1.8"/>
<circle cx="214.7" cy="71.7" r="1.8"/>
<circle cx="212.7" cy="78.8" r="1.8"/>
<circle cx="210.3" cy="79.2" r="1.8"/>
<circle cx="217.1" cy="69.6" r="1.8"/>
<circle cx="211.5" cy="75.7" r="1.8"/>
<circle cx="215" cy="76.4" r="1.8"/>
<circle cx="216.1" cy="72.9" r="1.8"/>
<circle cx="211" cy="80" r="1.8"/>
<circle cx="220.3" cy="71.2" r="1.8"/>
<circle cx="218.5" cy="72.8" r="1.8"/>
<circle cx="214.7" cy="74" r="1.8"/>
<circle cx="214.1" cy="75.1" r="1.8"/>
<circle cx="219.9" cy="68.2" r="1.8"/>
<circle cx="210.5" cy="72.7" r="1.8"/>
<circle cx="210" cy="81.6" r="1.8"/>
<circle cx="217.7" cy="73.8" r="1.8"/>
<circle cx="212" cy="73.2" r="1.8"/>
<circle cx="213" cy="74" r="1.8"/>
<circle cx="213.2" cy="78.3" r="1.8"/>
<circle cx="216.3" cy="68.7" r="1.8"/>
<circle cx="218.1" cy="69.7" r="1.8"/>
<circle cx="213.1" cy="76.8" r="1.8"/>
<circle cx="217" cy="72.4" r="1.8"/>
<circle cx="211.9" cy="77.2" r="1.8"/>
<circle cx="216" cy="77.2" r="1.8"/>
<circle cx="211.9" cy="78.5" r="1.8"/>
<circle cx="218.3" cy="74.2" r="1.8"/>
<circle cx="215" cy="74.5" r="1.8"/>
<circle cx="228.2" cy="61.3" r="1.8"/>
<circle cx="224.5" cy="63" r="1.8"/>
<circle cx="230.3" cy="63.8" r="1.8"/>
<circle cx="225.3" cy="68.1" r="1.8"/>
<circle cx="221.2" cy="67.6" r="1.8"/>
<circle cx="223.6" cy="65.8" r="1.8"/>
<circle cx="226.5" cy="66.3" r="1.8"/>
<circle cx="224.2" cy="67.4" r="1.8"/>
<circle cx="230.9" cy="62.8" r="1.8"/>
<circle cx="222.2" cy="69.4" r="1.8"/>
<circle cx="221.9" cy="69.5" r="1.8"/>
<circle cx="221.8" cy="68.2" r="1.8"/>
<circle cx="226.4" cy="63" r="1.8"/>
<circle cx="224.8" cy="64.3" r="1.8"/>
<circle cx="225.5" cy="66.2" r="1.8"/>
<circle cx="230.5" cy="62.8" r="1.8"/>
<circle cx="231.1" cy="62.3" r="1.8"/>
<circle cx="221.4" cy="71.2" r="1.8"/>
<circle cx="229.1" cy="62" r="1.8"/>
<circle cx="223.5" cy="70" r="1.8"/>
<circle cx="222" cy="69.9" r="1.8"/>
<circle cx="223" cy="71.9" r="1.8"/>
<circle cx="222.9" cy="72.7" r="1.8"/>
<circle cx="228.7" cy="64.4" r="1.8"/>
<circle cx="223.8" cy="69.7" r="1.8"/>
<circle cx="231" cy="63" r="1.8"/>
<circle cx="230.6" cy="62.1" r="1.8"/>
<circle cx="228" cy="66.1" r="1.8"/>
<circle cx="227.6" cy="65" r="1.8"/>
<circle cx="230.3" cy="62.2" r="1.8"/>
<circle cx="223.6" cy="69.7" r="1.8"/>
<circle cx="225.5" cy="69.3" r="1.8"/>
<circle cx="225.8" cy="65.1" r="1.8"/>
<circle cx="226.6" cy="63.4" r="1.8"/>
<circle cx="222" cy="68.1" r="1.8"/>
<circle cx="230.4" cy="62.1" r="1.8"/>
<circle cx="221" cy="72.1" r="1.8"/>
<circle cx="220.9" cy="68.8" r="1.8"/>
<circle cx="222.2" cy="68.4" r="1.8"/>
<circle cx="221.2" cy="72.7" r="1.8"/>
<circle cx="227.2" cy="66.1" r="1.8"/>
<circle cx="223.4" cy="68.4" r="1.8"/>
<circle cx="221" cy="68.4" r="1.8"/>
<circle cx="226.6" cy="63.3" r="1.8"/>
<circle cx="220.8" cy="66.4" r="1.8"/>
<circle cx="226.6" cy="66.8" r="1.8"/>
<circle cx="226.7" cy="66.8" r="1.8"/>
<circle cx="230.1" cy="64.1" r="1.8"/>
<circle cx="231.2" cy="62" r="1.8"/>
<circle cx="226.7" cy="64.8" r="1.8"/>
<circle cx="223.6" cy="68" r="1.8"/>
<circle cx="229.8" cy="64.3" r="1.8"/>
<circle cx="227" cy="65" r="1.8"/>
<circle cx="229.5" cy="64.1" r="1.8"/>
<circle cx="229.8" cy="64" r="1.8"/>
<circle cx="221.5" cy="73" r="1.8"/>
<circle cx="222.1" cy="60.4" r="1.8"/>
<circle cx="221.1" cy="72.6" r="1.8"/>
<circle cx="221.7" cy="69.4" r="1.8"/>
<circle cx="221.8" cy="68.4" r="1.8"/>
<circle cx="224.1" cy="65.8" r="1.8"/>
<circle cx="229.6" cy="64.9" r="1.8"/>
<circle cx="230.7" cy="61.4" r="1.8"/>
<circle cx="229.5" cy="62.1" r="1.8"/>
<circle cx="229" cy="62.8" r="1.8"/>
<circle cx="220.8" cy="71" r="1.8"/>
<circle cx="226.4" cy="67.1" r="1.8"/>
<circle cx="226" cy="65.6" r="1.8"/>
<circle cx="225.8" cy="63.1" r="1.8"/>
<circle cx="221.5" cy="69.4" r="1.8"/>
<circle cx="228.1" cy="65.8" r="1.8"/>
<circle cx="228.7" cy="63.3" r="1.8"/>
<circle cx="223.3" cy="71.4" r="1.8"/>
<circle cx="226.5" cy="67.9" r="1.8"/>
<circle cx="223.7" cy="70.6" r="1.8"/>
<circle cx="229.4" cy="63.7" r="1.8"/>
<circle cx="225.1" cy="67.8" r="1.8"/>
<circle cx="228.9" cy="64.4" r="1.8"/>
<circle cx="225.6" cy="70" r="1.8"/>
<circle cx="228.9" cy="64.1" r="1.8"/>
<circle cx="226.8" cy="65" r="1.8"/>
<circle cx="228.7" cy="66.2" r="1.8"/>
<circle cx="222.2" cy="69.2" r="1.8"/>
<circle cx="227.8" cy="65" r="1.8"/>
<circle cx="239.4" cy="55.8" r="1.8"/>
<circle cx="238.5" cy="57.9" r="1.8"/>
<circle cx="241.7" cy="55.4" r="1.8"/>
<circle cx="239.9" cy="55.4" r="1.8"/>
<circle cx="238.9" cy="59.5" r="1.8"/>
<circle cx="239.7" cy="55.8" r="1.8"/>
<circle cx="239.5" cy="55.4" r="1.8"/>
<circle cx="241.9" cy="54.5" r="1.8"/>
<circle cx="235.3" cy="60.1" r="1.8"/>
<circle cx="240.4" cy="57.3" r="1.8"/>
<circle cx="236" cy="59.2" r="1.8"/>
<circle cx="235.9" cy="58.5" r="1.8"/>
<circle cx="241" cy="55" r="1.8"/>
<circle cx="241.9" cy="55.5" r="1.8"/>
<circle cx="239.4" cy="57.3" r="1.8"/>
<circle cx="232.5" cy="61.5" r="1.8"/>
<circle cx="233.1" cy="62.2" r="1.8"/>
<circle cx="233.7" cy="59.5" r="1.8"/>
<circle cx="240.5" cy="54.8" r="1.8"/>
<circle cx="232" cy="63.5" r="1.8"/>
<circle cx="234.5" cy="61.2" r="1.8"/>
<circle cx="232.5" cy="62.7" r="1.8"/>
<circle cx="239.9" cy="56.1" r="1.8"/>
<circle cx="239.8" cy="55.8" r="1.8"/>
<circle cx="234.5" cy="59" r="1.8"/>
<circle cx="237.3" cy="58" r="1.8"/>
<circle cx="240.9" cy="55.1" r="1.8"/>
<circle cx="238.6" cy="56.6" r="1.8"/>
<circle cx="241" cy="55.8" r="1.8"/>
<circle cx="236.9" cy="59" r="1.8"/>
<circle cx="239.9" cy="56.4" r="1.8"/>
<circle cx="235.1" cy="56.3" r="1.8"/>
<circle cx="240.1" cy="55.7" r="1.8"/>
<circle cx="239.5" cy="56.2" r="1.8"/>
<circle cx="241.5" cy="54.5" r="1.8"/>
<circle cx="236.4" cy="59.8" r="1.8"/>
<circle cx="235.4" cy="59.7" r="1.8"/>
<circle cx="233" cy="60.8" r="1.8"/>
<circle cx="240.2" cy="55.4" r="1.8"/>
<circle cx="239.1" cy="56.7" r="1.8"/>
<circle cx="237.5" cy="58.6" r="1.8"/>
<circle cx="234.4" cy="61.3" r="1.8"/>
<circle cx="238.5" cy="57" r="1.8"/>
<circle cx="241.9" cy="55.7" r="1.8"/>
<circle cx="233" cy="59.8" r="1.8"/>
<circle cx="239.9" cy="55.8" r="1.8"/>
<circle cx="239.1" cy="56.1" r="1.8"/>
<circle cx="233" cy="62" r="1.8"/>
<circle cx="240.7" cy="55.1" r="1.8"/>
<circle cx="240.2" cy="55.9" r="1.8"/>
<circle cx="240.9" cy="55.6" r="1.8"/>
<circle cx="240.8" cy="55.6" r="1.8"/>
<circle cx="234.5" cy="61.6" r="1.8"/>
<circle cx="240.5" cy="57.2" r="1.8"/>
<circle cx="233.4" cy="61.3" r="1.8"/>
<circle cx="238.6" cy="56.9" r="1.8"/>
<circle cx="240.6" cy="54.5" r="1.8"/>
<circle cx="233.8" cy="59.7" r="1.8"/>
<circle cx="239.2" cy="55.6" r="1.8"/>
<circle cx="237.3" cy="56" r="1.8"/>
<circle cx="239.1" cy="57.2" r="1.8"/>
<circle cx="241.7" cy="54.5" r="1.8"/>
<circle cx="232.4" cy="63.4" r="1.8"/>
<circle cx="237" cy="56.8" r="1.8"/>
<circle cx="242.1" cy="54.8" r="1.8"/>
<circle cx="239.2" cy="56.7" r="1.8"/>
<circle cx="240.8" cy="54.5" r="1.8"/>
<circle cx="240.6" cy="55.4" r="1.8"/>
<circle cx="231.5" cy="63.7" r="1.8"/>
<circle cx="240.3" cy="55.4" r="1.8"/>
<circle cx="231.6" cy="61.9" r="1.8"/>
<circle cx="234" cy="60.2" r="1.8"/>
<circle cx="237.7" cy="57.3" r="1.8"/>
<circle cx="241.8" cy="54.5" r="1.8"/>
<circle cx="238.7" cy="57.1" r="1.8"/>
<circle cx="233.4" cy="60.9" r="1.8"/>
<circle cx="241.3" cy="54.6" r="1.8"/>
<circle cx="241" cy="54.6" r="1.8"/>
<circle cx="239.9" cy="55.8" r="1.8"/>
<circle cx="241.3" cy="55" r="1.8"/>
<circle cx="241.7" cy="55.3" r="1.8"/>
<circle cx="237.8" cy="58.8" r="1.8"/>
<circle cx="237" cy="57.9" r="1.8"/>
<circle cx="234.5" cy="59.7" r="1.8"/>
<circle cx="237.3" cy="59.5" r="1.8"/>
<circle cx="242" cy="54.8" r="1.8"/>
<circle cx="239.2" cy="55.5" r="1.8"/>
<circle cx="236.2" cy="59.2" r="1.8"/>
<circle cx="237.3" cy="57" r="1.8"/>
<circle cx="232.2" cy="62.5" r="1.8"/>
<circle cx="237.2" cy="56.6" r="1.8"/>
<circle cx="233" cy="62.3" r="1.8"/>
<circle cx="233.7" cy="58.9" r="1.8"/>
<circle cx="239.9" cy="56.3" r="1.8"/>
<circle cx="235.4" cy="58.8" r="1.8"/>
<circle cx="238.8" cy="58.4" r="1.8"/>
<circle cx="239" cy="57.8" r="1.8"/>
<circle cx="239.6" cy="56.3" r="1.8"/>
<circle cx="239" cy="57" r="1.8"/>
<circle cx="240.8" cy="54.6" r="1.8"/>
<circle cx="232" cy="61.4" r="1.8"/>
<circle cx="238.3" cy="57.5" r="1.8"/>
<circle cx="239.3" cy="56.2" r="1.8"/>
<circle cx="240" cy="56.1" r="1.8"/>
<circle cx="234" cy="61.5" r="1.8"/>
<circle cx="237.7" cy="57.8" r="1.8"/>
<circle cx="241" cy="55.6" r="1.8"/>
<circle cx="241.8" cy="54.9" r="1.8"/>
<circle cx="233.9" cy="60.8" r="1.8"/>
<circle cx="240.8" cy="54.5" r="1.8"/>
<circle cx="231.7" cy="61.9" r="1.8"/>
<circle cx="235.1" cy="61.1" r="1.8"/>
<circle cx="241.4" cy="55.7" r="1.8"/>
<circle cx="241.9" cy="54.5" r="1.8"/>
<circle cx="235" cy="60.4" r="1.8"/>
<circle cx="235.8" cy="59.9" r="1.8"/>
<circle cx="234.2" cy="61.2" r="1.8"/>
<circle cx="238.9" cy="55.8" r="1.8"/>
<circle cx="237.6" cy="56.8" r="1.8"/>
<circle cx="239.4" cy="56.9" r="1.8"/>
<circle cx="236.4" cy="59.5" r="1.8"/>
<circle cx="238.4" cy="57.6" r="1.8"/>
<circle cx="241.3" cy="54.6" r="1.8"/>
<circle cx="236.4" cy="57.5" r="1.8"/>
<circle cx="238.9" cy="56.2" r="1.8"/>
<circle cx="239.2" cy="57.3" r="1.8"/>
<circle cx="238.7" cy="58.1" r="1.8"/>
<circle cx="238.2" cy="56.6" r="1.8"/>
<circle cx="235.7" cy="58.4" r="1.8"/>
<circle cx="232.8" cy="63.4" r="1.8"/>
<circle cx="232" cy="62.5" r="1.8"/>
<circle cx="241.3" cy="55.2" r="1.8"/>
<circle cx="236.8" cy="59.2" r="1.8"/>
<circle cx="239.5" cy="56" r="1.8"/>
<circle cx="240.8" cy="55.3" r="1.8"/>
<circle cx="241.4" cy="54.5" r="1.8"/>
<circle cx="235.4" cy="59.6" r="1.8"/>
<circle cx="69" cy="152.7" r="1.8"/>
<circle cx="79.8" cy="184.5" r="1.8"/>
<circle cx="106.7" cy="166" r="1.8"/>
<circle cx="37.7" cy="196.2" r="1.8"/>
<circle cx="43.3" cy="190.7" r="1.8"/>
<circle cx="48.5" cy="188.9" r="1.8"/>
<circle cx="27.4" cy="207.1" r="1.8"/>
<circle cx="33.2" cy="204.6" r="1.8"/>
<circle cx="128.9" cy="125.5" r="1.8"/>
<circle cx="149.4" cy="135.2" r="1.8"/>
<circle cx="218.4" cy="80.3" r="1.8"/>
</g>
<path d="M34.1 207.3l2.2 3.9h-4.4zM34.2 208l2.2 3.9h-4.4zM31.5 210.2l2.2 3.9h-4.4zM32.7 208.8l2.2 3.9h-4.4zM34 208.9l2.2 3.9h-4.4zM33.1 209.3l2.2 3.9h-4.4zM37.2 205.9l2.2 3.9h-4.4zM27.1 213.7l2.2 3.9h-4.4zM27.4 213.5l2.2 3.9h-4.4zM31.8 209.6l2.2 3.9h-4.4zM28.1 212.3l2.2 3.9h-4.4zM34 207.9l2.2 3.9h-4.4zM30.1 208.6l2.2 3.9h-4.4zM33.4 211l2.2 3.9h-4.4zM32.3 209.8l2.2 3.9h-4.4zM33.5 208l2.2 3.9h-4.4zM27.1 213.7l2.2 3.9h-4.4zM36.6 206.5l2.2 3.9h-4.4zM30 211.6l2.2 3.9h-4.4zM30.8 210.1l2.2 3.9h-4.4zM29.8 209.3l2.2 3.9h-4.4zM26.8 213.5l2.2 3.9h-4.4zM34.6 208l2.2 3.9h-4.4zM26.8 212.6l2.2 3.9h-4.4zM34.8 207.3l2.2 3.9h-4.4zM27.3 212.9l2.2 3.9h-4.4zM31.7 209.3l2.2 3.9h-4.4zM33.4 207.9l2.2 3.9h-4.4zM33.1 207.4l2.2 3.9h-4.4zM34.3 207.9l2.2 3.9h-4.4zM33.9 208.8l2.2 3.9h-4.4zM28.4 212.4l2.2 3.9h-4.4zM29.7 212.1l2.2 3.9h-4.4zM31 210.3l2.2 3.9h-4.4zM27.2 213.4l2.2 3.9h-4.4zM27 213.7l2.2 3.9h-4.4zM30.4 209.2l2.2 3.9h-4.4zM31.4 210.1l2.2 3.9h-4.4zM35.5 210.6l2.2 3.9h-4.4zM30.8 209.3l2.2 3.9h-4.4zM33.7 208.4l2.2 3.9h-4.4zM32.2 210.3l2.2 3.9h-4.4zM36.9 204.4l2.2 3.9h-4.4zM34.9 207.5l2.2 3.9h-4.4zM29 212.2l2.2 3.9h-4.4zM37 205.6l2.2 3.9h-4.4zM27.5 212.7l2.2 3.9h-4.4zM27.4 212.3l2.2 3.9h-4.4zM33.2 208.3l2.2 3.9h-4.4zM36.9 211l2.2 3.9h-4.4zM31.4 210.4l2.2 3.9h-4.4zM30.8 210.8l2.2 3.9h-4.4zM30.5 212.4l2.2 3.9h-4.4zM33.9 210l2.2 3.9h-4.4zM35.6 205.9l2.2 3.9h-4.4zM36.5 205.9l2.2 3.9h-4.4zM28.2 212.2l2.2 3.9h-4.4zM30 210.2l2.2 3.9h-4.4zM36.8 207l2.2 3.9h-4.4zM34.9 212.7l2.2 3.9h-4.4zM31.3 211.1l2.2 3.9h-4.4zM35.7 206.4l2.2 3.9h-4.4zM27.3 213.7l2.2 3.9h-4.4zM35.6 207.9l2.2 3.9h-4.4zM27.2 213.7l2.2 3.9h-4.4zM28.5 211.6l2.2 3.9h-4.4zM27.6 213.5l2.2 3.9h-4.4zM28 212.2l2.2 3.9h-4.4zM27.5 212.4l2.2 3.9h-4.4zM30.1 210.7l2.2 3.9h-4.4zM32.2 209.8l2.2 3.9h-4.4zM29.7 212.3l2.2 3.9h-4.4zM27.2 212.8l2.2 3.9h-4.4zM27.3 213.7l2.2 3.9h-4.4zM29.7 211.7l2.2 3.9h-4.4zM40.4 200.7l2.2 3.9h-4.4zM44.5 198.9l2.2 3.9h-4.4zM43.6 202.3l2.2 3.9h-4.4zM37.3 206l2.2 3.9h-4.4zM47 201.6l2.2 3.9h-4.4zM43.2 202l2.2 3.9h-4.4zM38.9 204.3l2.2 3.9h-4.4zM41.7 204.6l2.2 3.9h-4.4zM40 203.2l2.2 3.9h-4.4zM43.6 198.3l2.2 3.9h-4.4zM40.7 199.4l2.2 3.9h-4.4zM38.8 206.3l2.2 3.9h-4.4zM37.4 198.2l2.2 3.9h-4.4zM38.7 202.9l2.2 3.9h-4.4zM44.4 200.8l2.2 3.9h-4.4zM45.4 200.5l2.2 3.9h-4.4zM45.9 199.1l2.2 3.9h-4.4zM44.2 198.2l2.2 3.9h-4.4zM40.3 201.5l2.2 3.9h-4.4zM46 200.5l2.2 3.9h-4.4zM47.4 195.9l2.2 3.9h-4.4zM43.9 201.5l2.2 3.9h-4.4zM39 201.1l2.2 3.9h-4.4zM46.6 198.4l2.2 3.9h-4.4zM43.8 201.1l2.2 3.9h-4.4zM47.5 201.3l2.2 3.9h-4.4zM39.3 203.5l2.2 3.9h-4.4zM42.4 203.3l2.2 3.9h-4.4zM41.8 202.6l2.2 3.9h-4.4zM41 203.1l2.2 3.9h-4.4zM43.1 200.5l2.2 3.9h-4.4zM41.4 200.9l2.2 3.9h-4.4zM40.9 203.8l2.2 3.9h-4.4zM39.3 204.3l2.2 3.9h-4.4zM40.1 204.4l2.2 3.9h-4.4zM41.8 202.6l2.2 3.9h-4.4zM47 196.1l2.2 3.9h-4.4zM44 200.4l2.2 3.9h-4.4zM37.9 204.2l2.2 3.9h-4.4zM38.3 205l2.2 3.9h-4.4zM41 204.3l2.2 3.9h-4.4zM41.7 201.2l2.2 3.9h-4.4zM41.8 200.5l2.2 3.9h-4.4zM43.2 202.4l2.2 3.9h-4.4zM43.6 200.1l2.2 3.9h-4.4zM39.1 204.6l2.2 3.9h-4.4zM46.5 200.2l2.2 3.9h-4.4zM40.7 205.9l2.2 3.9h-4.4zM43.4 205.9l2.2 3.9h-4.4zM46.1 200l2.2 3.9h-4.4zM42.7 201.3l2.2 3.9h-4.4zM47.9 193.8l2.2 3.9h-4.4zM41.6 203.1l2.2 3.9h-4.4zM47.5 200.2l2.2 3.9h-4.4zM40.7 201.6l2.2 3.9h-4.4zM37.8 204.4l2.2 3.9h-4.4zM44.8 200.1l2.2 3.9h-4.4zM49.3 199.6l2.2 3.9h-4.4zM54.1 194.9l2.2 3.9h-4.4zM54 195.6l2.2 3.9h-4.4zM53.2 194.8l2.2 3.9h-4.4zM49.2 187.5l2.2 3.9h-4.4zM48.8 196.6l2.2 3.9h-4.4zM54.7 193l2.2 3.9h-4.4zM49 195.4l2.2 3.9h-4.4zM56.8 193.1l2.2 3.9h-4.4zM50.2 195.2l2.2 3.9h-4.4zM48.9 199.8l2.2 3.9h-4.4zM50.4 197.1l2.2 3.9h-4.4zM55 191.8l2.2 3.9h-4.4zM52 191.9l2.2 3.9h-4.4zM52.7 193.4l2.2 3.9h-4.4zM57.5 190.1l2.2 3.9h-4.4zM53.7 190.8l2.2 3.9h-4.4zM51.4 192.9l2.2 3.9h-4.4zM54.8 191.8l2.2 3.9h-4.4zM56.3 191.4l2.2 3.9h-4.4zM48.6 199.8l2.2 3.9h-4.4zM56.7 191.8l2.2 3.9h-4.4zM55.1 191.5l2.2 3.9h-4.4zM51.7 195.3l2.2 3.9h-4.4zM55.8 191.6l2.2 3.9h-4.4zM50.5 196.6l2.2 3.9h-4.4zM50.6 196.9l2.2 3.9h-4.4zM52.7 175.7l2.2 3.9h-4.4zM52.8 194.8l2.2 3.9h-4.4zM50 198.8l2.2 3.9h-4.4zM58 188.8l2.2 3.9h-4.4zM48.7 197l2.2 3.9h-4.4zM52.5 195.8l2.2 3.9h-4.4zM56.6 189.5l2.2 3.9h-4.4zM54.7 195.8l2.2 3.9h-4.4zM55 193.2l2.2 3.9h-4.4zM49.8 195.5l2.2 3.9h-4.4zM50.7 198.5l2.2 3.9h-4.4zM48.2 201.4l2.2 3.9h-4.4zM52.5 192.3l2.2 3.9h-4.4zM55.1 190.9l2.2 3.9h-4.4zM54.1 193.1l2.2 3.9h-4.4zM52.8 199.4l2.2 3.9h-4.4zM66.7 179.8l2.2 3.9h-4.4zM59 185.6l2.2 3.9h-4.4zM64.1 177.4l2.2 3.9h-4.4zM65.1 185.8l2.2 3.9h-4.4zM63.7 185.9l2.2 3.9h-4.4zM66.9 181l2.2 3.9h-4.4zM63.3 184.3l2.2 3.9h-4.4zM59.6 181.3l2.2 3.9h-4.4zM61.9 195.5l2.2 3.9h-4.4zM69.1 182.9l2.2 3.9h-4.4zM69.2 179.3l2.2 3.9h-4.4zM59.1 190.8l2.2 3.9h-4.4zM59 188.6l2.2 3.9h-4.4zM65.9 191.4l2.2 3.9h-4.4zM64.8 188.2l2.2 3.9h-4.4zM63.3 189.4l2.2 3.9h-4.4zM69.3 182.9l2.2 3.9h-4.4zM67.9 183.9l2.2 3.9h-4.4zM66.2 183.2l2.2 3.9h-4.4zM61.3 185.3l2.2 3.9h-4.4zM68.6 183.1l2.2 3.9h-4.4zM61 190.8l2.2 3.9h-4.4zM67.2 193.8l2.2 3.9h-4.4zM59.2 188.9l2.2 3.9h-4.4zM64.9 183.4l2.2 3.9h-4.4zM61.7 185.1l2.2 3.9h-4.4zM65.5 177.7l2.2 3.9h-4.4zM60.7 182.5l2.2 3.9h-4.4zM59 188.6l2.2 3.9h-4.4zM68.6 181.6l2.2 3.9h-4.4zM69.1 177.3l2.2 3.9h-4.4zM63.7 187.5l2.2 3.9h-4.4zM68.3 179.7l2.2 3.9h-4.4zM60.3 188.4l2.2 3.9h-4.4zM61.1 185.4l2.2 3.9h-4.4zM68.4 182.6l2.2 3.9h-4.4zM64.7 183.9l2.2 3.9h-4.4zM69.4 188.1l2.2 3.9h-4.4zM65.6 186.8l2.2 3.9h-4.4zM75.2 175.7l2.2 3.9h-4.4zM79.7 180.6l2.2 3.9h-4.4zM72.4 180.9l2.2 3.9h-4.4zM78 169.3l2.2 3.9h-4.4zM74.2 188.2l2.2 3.9h-4.4zM76 168.9l2.2 3.9h-4.4zM73.2 180.6l2.2 3.9h-4.4zM75.1 170l2.2 3.9h-4.4zM70.3 178.8l2.2 3.9h-4.4zM78.6 177.7l2.2 3.9h-4.4zM77.9 185.6l2.2 3.9h-4.4zM74.6 176.4l2.2 3.9h-4.4zM73.8 155.3l2.2 3.9h-4.4zM71.4 174l2.2 3.9h-4.4zM74.3 182.4l2.2 3.9h-4.4zM72.2 180.1l2.2 3.9h-4.4zM76.4 166.8l2.2 3.9h-4.4zM75.6 182l2.2 3.9h-4.4zM79.5 170.7l2.2 3.9h-4.4zM72.9 174.8l2.2 3.9h-4.4zM76.2 180.3l2.2 3.9h-4.4zM78.3 176.2l2.2 3.9h-4.4zM74.6 179.9l2.2 3.9h-4.4zM75.6 176.9l2.2 3.9h-4.4zM71.8 179.4l2.2 3.9h-4.4zM76.1 178.5l2.2 3.9h-4.4zM76.4 175.4l2.2 3.9h-4.4zM76.8 176.2l2.2 3.9h-4.4zM75.4 179l2.2 3.9h-4.4zM77.5 174l2.2 3.9h-4.4zM86.6 171.9l2.2 3.9h-4.4zM88.9 155.7l2.2 3.9h-4.4zM83.3 171l2.2 3.9h-4.4zM83.2 171.2l2.2 3.9h-4.4zM82.3 172.5l2.2 3.9h-4.4zM89.4 170.1l2.2 3.9h-4.4zM80.5 179.9l2.2 3.9h-4.4zM80.7 170.7l2.2 3.9h-4.4zM82.5 175.2l2.2 3.9h-4.4zM80.6 176.3l2.2 3.9h-4.4zM89.3 164l2.2 3.9h-4.4zM81.6 177.8l2.2 3.9h-4.4zM89.5 159.6l2.2 3.9h-4.4zM82.7 169.3l2.2 3.9h-4.4zM88.7 169.5l2.2 3.9h-4.4zM88.7 165.6l2.2 3.9h-4.4zM83.2 168.4l2.2 3.9h-4.4zM88.6 169.5l2.2 3.9h-4.4zM87.9 170.1l2.2 3.9h-4.4zM80.5 175l2.2 3.9h-4.4zM86 173.9l2.2 3.9h-4.4zM84.1 168.4l2.2 3.9h-4.4zM84.8 169.8l2.2 3.9h-4.4zM86.2 167.5l2.2 3.9h-4.4zM89.3 168.9l2.2 3.9h-4.4zM84 179.5l2.2 3.9h-4.4zM84.4 169.7l2.2 3.9h-4.4zM91 164l2.2 3.9h-4.4zM84.9 168.4l2.2 3.9h-4.4zM87.1 170l2.2 3.9h-4.4zM86.1 168.8l2.2 3.9h-4.4zM88 159.2l2.2 3.9h-4.4zM83.5 167l2.2 3.9h-4.4zM85.3 169.5l2.2 3.9h-4.4zM90.8 164.3l2.2 3.9h-4.4zM87.7 164l2.2 3.9h-4.4zM95.9 160.7l2.2 3.9h-4.4zM100.2 160.2l2.2 3.9h-4.4zM94.6 161.1l2.2 3.9h-4.4zM100.1 159.9l2.2 3.9h-4.4zM100.5 158.2l2.2 3.9h-4.4zM100.9 154.4l2.2 3.9h-4.4zM92.8 160.9l2.2 3.9h-4.4zM93.9 170.6l2.2 3.9h-4.4zM95.5 162.8l2.2 3.9h-4.4zM97.1 160.9l2.2 3.9h-4.4zM92.1 169.7l2.2 3.9h-4.4zM91.3 168.3l2.2 3.9h-4.4zM93.7 162l2.2 3.9h-4.4zM93.7 168.1l2.2 3.9h-4.4zM96.6 163.3l2.2 3.9h-4.4zM93.2 167.2l2.2 3.9h-4.4zM96 160.4l2.2 3.9h-4.4zM95.7 162.9l2.2 3.9h-4.4zM95.7 164.6l2.2 3.9h-4.4zM92.8 167.1l2.2 3.9h-4.4zM96.4 163.8l2.2 3.9h-4.4zM101.6 154.7l2.2 3.9h-4.4zM96.5 158.1l2.2 3.9h-4.4zM95.4 161.2l2.2 3.9h-4.4zM96.2 162.4l2.2 3.9h-4.4zM100.4 155.2l2.2 3.9h-4.4zM99.9 162.2l2.2 3.9h-4.4zM92.2 165.8l2.2 3.9h-4.4zM103.2 156.8l2.2 3.9h-4.4zM106.5 161.6l2.2 3.9h-4.4zM102.5 156.4l2.2 3.9h-4.4zM105.5 153.5l2.2 3.9h-4.4zM103.4 155.3l2.2 3.9h-4.4zM108.2 151.8l2.2 3.9h-4.4zM107.7 156.5l2.2 3.9h-4.4zM111.3 154.2l2.2 3.9h-4.4zM107.9 153.7l2.2 3.9h-4.4zM107.7 150.7l2.2 3.9h-4.4zM110.7 158l2.2 3.9h-4.4zM102.3 156.9l2.2 3.9h-4.4zM103.9 150l2.2 3.9h-4.4zM110.1 148.8l2.2 3.9h-4.4zM112 141.9l2.2 3.9h-4.4zM107.4 157.2l2.2 3.9h-4.4zM112.7 147.3l2.2 3.9h-4.4zM110.6 156.4l2.2 3.9h-4.4zM109.3 154.5l2.2 3.9h-4.4zM103.6 156l2.2 3.9h-4.4zM111.9 149.6l2.2 3.9h-4.4zM106 155.4l2.2 3.9h-4.4zM104.2 151.2l2.2 3.9h-4.4zM113.1 149.4l2.2 3.9h-4.4zM115.8 155l2.2 3.9h-4.4zM115.6 146.7l2.2 3.9h-4.4zM120.4 146.8l2.2 3.9h-4.4zM114.8 143.4l2.2 3.9h-4.4zM115.4 144.3l2.2 3.9h-4.4zM115.2 145.4l2.2 3.9h-4.4zM112.9 151.5l2.2 3.9h-4.4zM114.8 142.8l2.2 3.9h-4.4zM123.3 141.9l2.2 3.9h-4.4zM115.3 147.1l2.2 3.9h-4.4zM114.8 143l2.2 3.9h-4.4zM120.8 144.5l2.2 3.9h-4.4zM120.4 143.5l2.2 3.9h-4.4zM115.8 144.8l2.2 3.9h-4.4zM120.8 152.3l2.2 3.9h-4.4zM119.9 143.7l2.2 3.9h-4.4zM117.8 143l2.2 3.9h-4.4zM119 143.7l2.2 3.9h-4.4zM120.6 140.5l2.2 3.9h-4.4zM115.7 145.5l2.2 3.9h-4.4zM118.3 145.7l2.2 3.9h-4.4zM123.5 142.6l2.2 3.9h-4.4zM123.3 141.4l2.2 3.9h-4.4zM133.5 136.7l2.2 3.9h-4.4zM123.9 139.8l2.2 3.9h-4.4zM124.3 141.6l2.2 3.9h-4.4zM129.4 142.2l2.2 3.9h-4.4zM124.2 140.4l2.2 3.9h-4.4zM132.8 133.9l2.2 3.9h-4.4zM124.2 141.1l2.2 3.9h-4.4zM134 132.7l2.2 3.9h-4.4zM130.2 135.9l2.2 3.9h-4.4zM129.9 137.5l2.2 3.9h-4.4zM129.4 129.3l2.2 3.9h-4.4zM127.8 134.2l2.2 3.9h-4.4zM130 134.4l2.2 3.9h-4.4zM130.6 134.1l2.2 3.9h-4.4zM131.6 132l2.2 3.9h-4.4zM133.5 139.4l2.2 3.9h-4.4zM130.7 135.6l2.2 3.9h-4.4zM124.3 138.4l2.2 3.9h-4.4zM128.9 137.1l2.2 3.9h-4.4zM127.6 134.5l2.2 3.9h-4.4zM134.3 134.5l2.2 3.9h-4.4zM127.8 139.7l2.2 3.9h-4.4zM125.3 137.7l2.2 3.9h-4.4zM130.1 134l2.2 3.9h-4.4zM139.9 131.3l2.2 3.9h-4.4zM141.3 127.7l2.2 3.9h-4.4zM137 129.3l2.2 3.9h-4.4zM135.4 135.8l2.2 3.9h-4.4zM143.5 125.3l2.2 3.9h-4.4zM141.9 126.5l2.2 3.9h-4.4zM142.5 127.2l2.2 3.9h-4.4zM141 129.6l2.2 3.9h-4.4zM139.7 130.9l2.2 3.9h-4.4zM141.7 130.7l2.2 3.9h-4.4zM136.3 134.8l2.2 3.9h-4.4zM143.8 128.8l2.2 3.9h-4.4zM144.1 125.9l2.2 3.9h-4.4zM137.7 130.4l2.2 3.9h-4.4zM139.3 127.1l2.2 3.9h-4.4zM144.6 125.7l2.2 3.9h-4.4zM137.2 131.6l2.2 3.9h-4.4zM136 134.5l2.2 3.9h-4.4zM134.8 130.5l2.2 3.9h-4.4zM136 126.1l2.2 3.9h-4.4zM137.5 131.7l2.2 3.9h-4.4zM138.8 129l2.2 3.9h-4.4zM142.3 126.5l2.2 3.9h-4.4zM139 131.1l2.2 3.9h-4.4zM144.3 130.5l2.2 3.9h-4.4zM143.8 128.1l2.2 3.9h-4.4zM134.7 130.2l2.2 3.9h-4.4zM153.9 121.2l2.2 3.9h-4.4zM153.1 117.5l2.2 3.9h-4.4zM151.1 120.6l2.2 3.9h-4.4zM145.2 123.9l2.2 3.9h-4.4zM152.6 117.3l2.2 3.9h-4.4zM151.9 119.6l2.2 3.9h-4.4zM154.1 121.2l2.2 3.9h-4.4zM150.2 121.1l2.2 3.9h-4.4zM153.2 117.8l2.2 3.9h-4.4zM152.1 120.1l2.2 3.9h-4.4zM154.6 117.5l2.2 3.9h-4.4zM149.2 120.4l2.2 3.9h-4.4zM150.3 121.1l2.2 3.9h-4.4zM151.2 122.9l2.2 3.9h-4.4zM152.7 122.1l2.2 3.9h-4.4zM154.9 116.8l2.2 3.9h-4.4zM155.1 117.4l2.2 3.9h-4.4zM150.2 120.6l2.2 3.9h-4.4zM151.8 119.8l2.2 3.9h-4.4zM145.5 121.7l2.2 3.9h-4.4zM150.5 122.5l2.2 3.9h-4.4zM149.6 120.1l2.2 3.9h-4.4zM154.2 120.4l2.2 3.9h-4.4zM148.6 119.9l2.2 3.9h-4.4zM148.4 124.2l2.2 3.9h-4.4zM151 119.8l2.2 3.9h-4.4zM159.1 115.8l2.2 3.9h-4.4zM162.3 115.7l2.2 3.9h-4.4zM157.4 116.1l2.2 3.9h-4.4zM159 116.3l2.2 3.9h-4.4zM165.8 109l2.2 3.9h-4.4zM161.6 114.4l2.2 3.9h-4.4zM161.8 110.2l2.2 3.9h-4.4zM159.9 118.5l2.2 3.9h-4.4zM157.9 113.5l2.2 3.9h-4.4zM156.6 117.9l2.2 3.9h-4.4zM162.9 113.9l2.2 3.9h-4.4zM156.3 114.1l2.2 3.9h-4.4zM157.1 115.4l2.2 3.9h-4.4zM166.3 107.7l2.2 3.9h-4.4zM166.1 111.2l2.2 3.9h-4.4zM163.3 110.7l2.2 3.9h-4.4zM157.4 117.3l2.2 3.9h-4.4zM159.3 122l2.2 3.9h-4.4zM166.6 110.4l2.2 3.9h-4.4zM156.9 113.4l2.2 3.9h-4.4zM156.9 117.5l2.2 3.9h-4.4zM160 110.4l2.2 3.9h-4.4zM164.6 112.3l2.2 3.9h-4.4zM162.2 113.3l2.2 3.9h-4.4zM161.1 113.3l2.2 3.9h-4.4zM165.1 110.6l2.2 3.9h-4.4zM163.3 108.5l2.2 3.9h-4.4zM156.9 118.8l2.2 3.9h-4.4zM158.9 113.3l2.2 3.9h-4.4zM168.5 99.3l2.2 3.9h-4.4zM168.7 105.6l2.2 3.9h-4.4zM176.6 97.8l2.2 3.9h-4.4zM169.9 107l2.2 3.9h-4.4zM170.1 105.6l2.2 3.9h-4.4zM172.6 106.2l2.2 3.9h-4.4zM173.4 101.1l2.2 3.9h-4.4zM170 107.7l2.2 3.9h-4.4zM170.1 102.6l2.2 3.9h-4.4zM170.5 107.8l2.2 3.9h-4.4zM173.9 106.6l2.2 3.9h-4.4zM167.4 108l2.2 3.9h-4.4zM169.5 108.1l2.2 3.9h-4.4zM176.1 101l2.2 3.9h-4.4zM177.2 103.2l2.2 3.9h-4.4zM173.1 106.7l2.2 3.9h-4.4zM175.5 104.5l2.2 3.9h-4.4zM168 108.3l2.2 3.9h-4.4zM171.2 105.4l2.2 3.9h-4.4zM172.6 111l2.2 3.9h-4.4zM169.5 108.1l2.2 3.9h-4.4zM171 105.4l2.2 3.9h-4.4zM174.1 99.9l2.2 3.9h-4.4zM176.2 99.7l2.2 3.9h-4.4zM174.6 94.4l2.2 3.9h-4.4zM169.7 111.7l2.2 3.9h-4.4zM176.4 100.5l2.2 3.9h-4.4zM168.2 108.7l2.2 3.9h-4.4zM168 104.8l2.2 3.9h-4.4zM172.9 104.8l2.2 3.9h-4.4zM169.2 103.9l2.2 3.9h-4.4zM174 102.9l2.2 3.9h-4.4zM167.9 108.6l2.2 3.9h-4.4zM173.1 105l2.2 3.9h-4.4zM188.2 93.7l2.2 3.9h-4.4zM182.7 96l2.2 3.9h-4.4zM185 95.7l2.2 3.9h-4.4zM181.8 99.1l2.2 3.9h-4.4zM186.7 83.2l2.2 3.9h-4.4zM187.2 94.3l2.2 3.9h-4.4zM180 100.9l2.2 3.9h-4.4zM184.7 98.7l2.2 3.9h-4.4zM179.4 97.7l2.2 3.9h-4.4zM186 93.9l2.2 3.9h-4.4zM186.2 90l2.2 3.9h-4.4zM182.9 97.9l2.2 3.9h-4.4zM182.1 94.6l2.2 3.9h-4.4zM183.7 97.1l2.2 3.9h-4.4zM180.6 96.9l2.2 3.9h-4.4zM180.3 96.7l2.2 3.9h-4.4zM180.7 100.6l2.2 3.9h-4.4zM185.5 89.6l2.2 3.9h-4.4zM179.4 99.1l2.2 3.9h-4.4zM184 95.2l2.2 3.9h-4.4zM183.6 96.1l2.2 3.9h-4.4zM186.5 90.5l2.2 3.9h-4.4zM178 101.5l2.2 3.9h-4.4zM180.9 95.1l2.2 3.9h-4.4zM186.4 92.5l2.2 3.9h-4.4zM182 96.7l2.2 3.9h-4.4zM177.4 99.9l2.2 3.9h-4.4zM182.8 95.2l2.2 3.9h-4.4zM186.4 95.4l2.2 3.9h-4.4zM180.9 99.9l2.2 3.9h-4.4zM178.5 98.6l2.2 3.9h-4.4zM199 85.7l2.2 3.9h-4.4zM198.2 87.6l2.2 3.9h-4.4zM188.6 84.9l2.2 3.9h-4.4zM190.2 90.5l2.2 3.9h-4.4zM191.1 91.1l2.2 3.9h-4.4zM196 87.9l2.2 3.9h-4.4zM198.5 84l2.2 3.9h-4.4zM188.8 93.4l2.2 3.9h-4.4zM189.6 89.7l2.2 3.9h-4.4zM194.5 89.1l2.2 3.9h-4.4zM188.5 92.8l2.2 3.9h-4.4zM189.4 91.3l2.2 3.9h-4.4zM198.4 87.5l2.2 3.9h-4.4zM190 92.4l2.2 3.9h-4.4zM192.9 92.6l2.2 3.9h-4.4zM192 91.3l2.2 3.9h-4.4zM193.4 87.5l2.2 3.9h-4.4zM190 89.9l2.2 3.9h-4.4zM192.2 88.4l2.2 3.9h-4.4zM194.8 87.4l2.2 3.9h-4.4zM198.5 87.2l2.2 3.9h-4.4zM192.6 88.6l2.2 3.9h-4.4zM190.5 89.9l2.2 3.9h-4.4zM193.9 94.5l2.2 3.9h-4.4zM197.2 83.3l2.2 3.9h-4.4zM194.9 89.1l2.2 3.9h-4.4zM193 84.6l2.2 3.9h-4.4zM197.5 86.9l2.2 3.9h-4.4zM197 86.9l2.2 3.9h-4.4zM191.3 89.7l2.2 3.9h-4.4zM197.3 86.5l2.2 3.9h-4.4zM205.3 74.7l2.2 3.9h-4.4zM201.6 84.7l2.2 3.9h-4.4zM202.5 80.1l2.2 3.9h-4.4zM203.5 80.1l2.2 3.9h-4.4zM209.5 75.6l2.2 3.9h-4.4zM202.6 84.4l2.2 3.9h-4.4zM209.5 79.5l2.2 3.9h-4.4zM199.8 83.1l2.2 3.9h-4.4zM204.9 77.4l2.2 3.9h-4.4zM207.1 83.2l2.2 3.9h-4.4zM199.6 83.2l2.2 3.9h-4.4zM202.1 81.6l2.2 3.9h-4.4zM199.3 85.4l2.2 3.9h-4.4zM200.2 83.4l2.2 3.9h-4.4zM200.7 83.6l2.2 3.9h-4.4zM204.2 80.2l2.2 3.9h-4.4zM205.3 78.4l2.2 3.9h-4.4zM209.3 77.2l2.2 3.9h-4.4zM203.7 81.2l2.2 3.9h-4.4zM208.5 79.3l2.2 3.9h-4.4zM199.8 85l2.2 3.9h-4.4zM202.7 75.9l2.2 3.9h-4.4zM202.6 82.2l2.2 3.9h-4.4zM200.6 84l2.2 3.9h-4.4zM202.1 92l2.2 3.9h-4.4zM203.7 78.1l2.2 3.9h-4.4zM204.4 80l2.2 3.9h-4.4zM203.3 84.8l2.2 3.9h-4.4zM208.1 78.9l2.2 3.9h-4.4zM204 82.5l2.2 3.9h-4.4zM201.9 83.2l2.2 3.9h-4.4zM205.4 79l2.2 3.9h-4.4zM205.9 83.8l2.2 3.9h-4.4zM207.9 82l2.2 3.9h-4.4zM200.9 82.4l2.2 3.9h-4.4zM199.7 84.6l2.2 3.9h-4.4zM202.1 81.6l2.2 3.9h-4.4zM207.8 76.1l2.2 3.9h-4.4zM206.2 78.1l2.2 3.9h-4.4zM208.1 80.6l2.2 3.9h-4.4zM204.5 86.6l2.2 3.9h-4.4zM212.8 72.8l2.2 3.9h-4.4zM210.8 78l2.2 3.9h-4.4zM215.5 69.3l2.2 3.9h-4.4zM217.4 70.5l2.2 3.9h-4.4zM215.7 73.4l2.2 3.9h-4.4zM218.4 69.8l2.2 3.9h-4.4zM210 76.2l2.2 3.9h-4.4zM213.5 72.2l2.2 3.9h-4.4zM211.8 75.6l2.2 3.9h-4.4zM214.7 72.8l2.2 3.9h-4.4zM211.5 74.9l2.2 3.9h-4.4zM217.7 65l2.2 3.9h-4.4zM210.2 75.1l2.2 3.9h-4.4zM219.6 66.7l2.2 3.9h-4.4zM217.1 70l2.2 3.9h-4.4zM217.2 70.6l2.2 3.9h-4.4zM213 76.6l2.2 3.9h-4.4zM211.9 68.3l2.2 3.9h-4.4zM213.5 70.8l2.2 3.9h-4.4zM215.1 73.4l2.2 3.9h-4.4zM219.3 67.8l2.2 3.9h-4.4zM216.1 70.4l2.2 3.9h-4.4zM220 69.3l2.2 3.9h-4.4zM210.8 75l2.2 3.9h-4.4zM218.5 71l2.2 3.9h-4.4zM215.2 73l2.2 3.9h-4.4zM218.6 71.7l2.2 3.9h-4.4zM218.5 67.3l2.2 3.9h-4.4zM218.6 77.5l2.2 3.9h-4.4zM212.3 75.6l2.2 3.9h-4.4zM211.5 73.1l2.2 3.9h-4.4zM214.7 70.6l2.2 3.9h-4.4zM214.6 75.9l2.2 3.9h-4.4zM218.2 69.5l2.2 3.9h-4.4zM214.4 74.3l2.2 3.9h-4.4zM214.6 72.6l2.2 3.9h-4.4zM209.8 76.6l2.2 3.9h-4.4zM216.4 70.4l2.2 3.9h-4.4zM211.7 74.9l2.2 3.9h-4.4zM213.8 73.8l2.2 3.9h-4.4zM210.9 75.7l2.2 3.9h-4.4zM212.8 78.2l2.2 3.9h-4.4zM221.1 69.2l2.2 3.9h-4.4zM229.5 62.4l2.2 3.9h-4.4zM228.7 62.3l2.2 3.9h-4.4zM224.9 64.6l2.2 3.9h-4.4zM222.4 63.3l2.2 3.9h-4.4zM225.2 61.3l2.2 3.9h-4.4zM226.6 62.7l2.2 3.9h-4.4zM221.4 70.5l2.2 3.9h-4.4zM227.2 61.8l2.2 3.9h-4.4zM224.2 65.7l2.2 3.9h-4.4zM222.5 68.2l2.2 3.9h-4.4zM227.9 65.7l2.2 3.9h-4.4zM221.4 67.9l2.2 3.9h-4.4zM226.9 64l2.2 3.9h-4.4zM223.7 68.7l2.2 3.9h-4.4zM227.1 63.8l2.2 3.9h-4.4zM226.3 64.4l2.2 3.9h-4.4zM231.1 60.4l2.2 3.9h-4.4zM227.2 64l2.2 3.9h-4.4zM230.7 58.5l2.2 3.9h-4.4zM223.8 68.9l2.2 3.9h-4.4zM222.5 65.5l2.2 3.9h-4.4zM223.5 67.1l2.2 3.9h-4.4zM227.2 64.3l2.2 3.9h-4.4zM229.2 56.7l2.2 3.9h-4.4zM225.7 68l2.2 3.9h-4.4zM223.6 58.4l2.2 3.9h-4.4zM224.3 65.9l2.2 3.9h-4.4zM229 59.8l2.2 3.9h-4.4zM226.9 63.9l2.2 3.9h-4.4zM225.3 64.2l2.2 3.9h-4.4zM228.7 64.2l2.2 3.9h-4.4zM231.1 61.3l2.2 3.9h-4.4zM228.9 63.7l2.2 3.9h-4.4zM225.5 63l2.2 3.9h-4.4zM224.5 67.2l2.2 3.9h-4.4zM229.4 62.8l2.2 3.9h-4.4zM226.3 66.1l2.2 3.9h-4.4zM221.7 66.7l2.2 3.9h-4.4zM221.8 66.9l2.2 3.9h-4.4zM224 65l2.2 3.9h-4.4zM223.5 66.8l2.2 3.9h-4.4zM239.8 53.8l2.2 3.9h-4.4zM237.7 56.2l2.2 3.9h-4.4zM236.2 56.5l2.2 3.9h-4.4zM231.3 61.6l2.2 3.9h-4.4zM237 55.1l2.2 3.9h-4.4zM238.2 55.9l2.2 3.9h-4.4zM238.4 54.9l2.2 3.9h-4.4zM232.1 59l2.2 3.9h-4.4zM233 59.9l2.2 3.9h-4.4zM237.3 54.2l2.2 3.9h-4.4zM236.4 53.4l2.2 3.9h-4.4zM240.8 53.3l2.2 3.9h-4.4zM240.4 53.8l2.2 3.9h-4.4zM240.3 53.8l2.2 3.9h-4.4zM240.6 52.6l2.2 3.9h-4.4zM236.8 56.2l2.2 3.9h-4.4zM239.2 54.1l2.2 3.9h-4.4zM241.1 53.2l2.2 3.9h-4.4zM241.4 52.3l2.2 3.9h-4.4zM241 52.4l2.2 3.9h-4.4zM240 55.3l2.2 3.9h-4.4zM239.6 54.4l2.2 3.9h-4.4zM234.5 57.3l2.2 3.9h-4.4zM235.8 56.7l2.2 3.9h-4.4zM237.3 55.8l2.2 3.9h-4.4zM238.1 54.2l2.2 3.9h-4.4zM239.1 54.8l2.2 3.9h-4.4zM240.6 54.7l2.2 3.9h-4.4zM240.6 53.1l2.2 3.9h-4.4zM235.5 57.1l2.2 3.9h-4.4zM239.9 53.4l2.2 3.9h-4.4zM238.4 53.3l2.2 3.9h-4.4zM240.9 52.6l2.2 3.9h-4.4zM240.5 53.6l2.2 3.9h-4.4zM237.3 55.1l2.2 3.9h-4.4zM237.7 53.7l2.2 3.9h-4.4zM235.3 58l2.2 3.9h-4.4zM239.4 52.3l2.2 3.9h-4.4zM241.9 52.3l2.2 3.9h-4.4zM240.5 52.8l2.2 3.9h-4.4zM240.4 53.7l2.2 3.9h-4.4zM231.4 61l2.2 3.9h-4.4zM238.6 53.2l2.2 3.9h-4.4zM241.6 52.4l2.2 3.9h-4.4zM237.8 56.3l2.2 3.9h-4.4zM232 60.6l2.2 3.9h-4.4zM241.4 52.3l2.2 3.9h-4.4zM235.7 60.4l2.2 3.9h-4.4zM237.7 54.5l2.2 3.9h-4.4zM238.7 53.6l2.2 3.9h-4.4zM239 54.1l2.2 3.9h-4.4zM240.4 53.6l2.2 3.9h-4.4zM236.9 55.8l2.2 3.9h-4.4zM238.8 54.6l2.2 3.9h-4.4zM237.1 57.3l2.2 3.9h-4.4zM238.6 54.5l2.2 3.9h-4.4zM241.7 52.3l2.2 3.9h-4.4zM241.5 52.3l2.2 3.9h-4.4zM239.2 53.3l2.2 3.9h-4.4zM240 53.6l2.2 3.9h-4.4zM241.8 52.3l2.2 3.9h-4.4zM231.4 59.8l2.2 3.9h-4.4zM236.4 55.5l2.2 3.9h-4.4zM241.4 53.2l2.2 3.9h-4.4zM233.2 59.2l2.2 3.9h-4.4zM236.9 57.2l2.2 3.9h-4.4zM241.8 53.1l2.2 3.9h-4.4zM238.3 55.3l2.2 3.9h-4.4zM75.2 150.1l2.2 3.9h-4.4zM82.3 142.6l2.2 3.9h-4.4zM69.4 159.9l2.2 3.9h-4.4zM89.7 183l2.2 3.9h-4.4zM112.5 165.6l2.2 3.9h-4.4zM118.8 157.8l2.2 3.9h-4.4zM144 109.5l2.2 3.9h-4.4zM168.8 94.2l2.2 3.9h-4.4zM132.1 146.7l2.2 3.9h-4.4zM139.7 141l2.2 3.9h-4.4zM114.9 161.2l2.2 3.9h-4.4zM97.6 171.7l2.2 3.9h-4.4zM163.4 124.1l2.2 3.9h-4.4zM215.2 59.5l2.2 3.9h-4.4zM186 104.7l2.2 3.9h-4.4zM52.4 181.4l2.2 3.9h-4.4zM161.2 100.7l2.2 3.9h-4.4zM204.4 93.4l2.2 3.9h-4.4zM69.6 169.3l2.2 3.9h-4.4zM87.9 155.5l2.2 3.9h-4.4zM126.8 151.5l2.2 3.9h-4.4zM223.8 77.3l2.2 3.9h-4.4z" fill="#1C6EDF"/>
<line x1="26.5" y1="215.85" x2="242.1" y2="54.45" stroke="#14BE40" stroke-width="1.45"/>
</g>
<path d="M25.9 216H242.2" stroke="#111" stroke-width="1" fill="none"/>
<path d="M26.35 54.15V216.5M26.35 215.75h-3.3M26.5 215.7v3.2M26.35 199.61h-1.8M48.06 215.7v1.6M26.35 183.47h-3.3M69.62 215.7v3.2M26.35 167.33h-1.8M91.18 215.7v1.6M26.35 151.19h-3.3M112.74 215.7v3.2M26.35 135.05h-1.8M134.3 215.7v1.6M26.35 118.91h-3.3M155.86 215.7v3.2M26.35 102.77h-1.8M177.42 215.7v1.6M26.35 86.63h-3.3M198.98 215.7v3.2M26.35 70.49h-1.8M220.54 215.7v1.6M26.35 54.35h-3.3M242.1 215.7v3.2" stroke="#111" stroke-width="0.85" fill="none"/>
<g font-size="7.3" fill="#111">
<text x="20.9" y="218.05" text-anchor="end">0</text>
<text x="26.5" y="225.7" text-anchor="middle">0</text>
<text x="20.9" y="185.77" text-anchor="end">20</text>
<text x="69.62" y="225.7" text-anchor="middle">20</text>
<text x="20.9" y="153.49" text-anchor="end">40</text>
<text x="112.74" y="225.7" text-anchor="middle">40</text>
<text x="20.9" y="121.21" text-anchor="end">60</text>
<text x="155.86" y="225.7" text-anchor="middle">60</text>
<text x="20.9" y="88.93" text-anchor="end">80</text>
<text x="198.98" y="225.7" text-anchor="middle">80</text>
<text x="20.9" y="56.65" text-anchor="end">100</text>
<text x="242.1" y="225.7" text-anchor="middle">100</text>
</g>
<text x="134.5" y="240" font-size="8" text-anchor="middle" fill="#111">Exp. crude oil residue (wt.%)</text>
<text transform="translate(7.3,134.8) rotate(-90)" font-size="8" text-anchor="middle" fill="#111">Pred. crude oil residue (wt.%)</text>
<text x="44.6" y="72.8" font-size="7.2" fill="#111">RF</text>
<circle cx="197.8" cy="187.8" r="2.05" fill="#F04040"/>
<path d="M197.8 194l2.2 3.9h-4.4z" fill="#1C6EDF"/>
<path d="M190.1 205.35H205.9" stroke="#12F012" stroke-width="1"/>
<path d="M197.8 203l2.1 2.2l-2.1 2.2l-2.1-2.2z" fill="#2F9E55"/>
<g font-size="7" fill="#111" lengthAdjust="spacingAndGlyphs">
<text x="207.6" y="190" textLength="15.8" lengthAdjust="spacingAndGlyphs">Train</text>
<text x="207.6" y="198.3" textLength="11.7" lengthAdjust="spacingAndGlyphs">Test</text>
<text x="207.6" y="207.4" textLength="16.1" lengthAdjust="spacingAndGlyphs">Y = X</text>
</g>
</g>
</svg>
</body>
</html>
